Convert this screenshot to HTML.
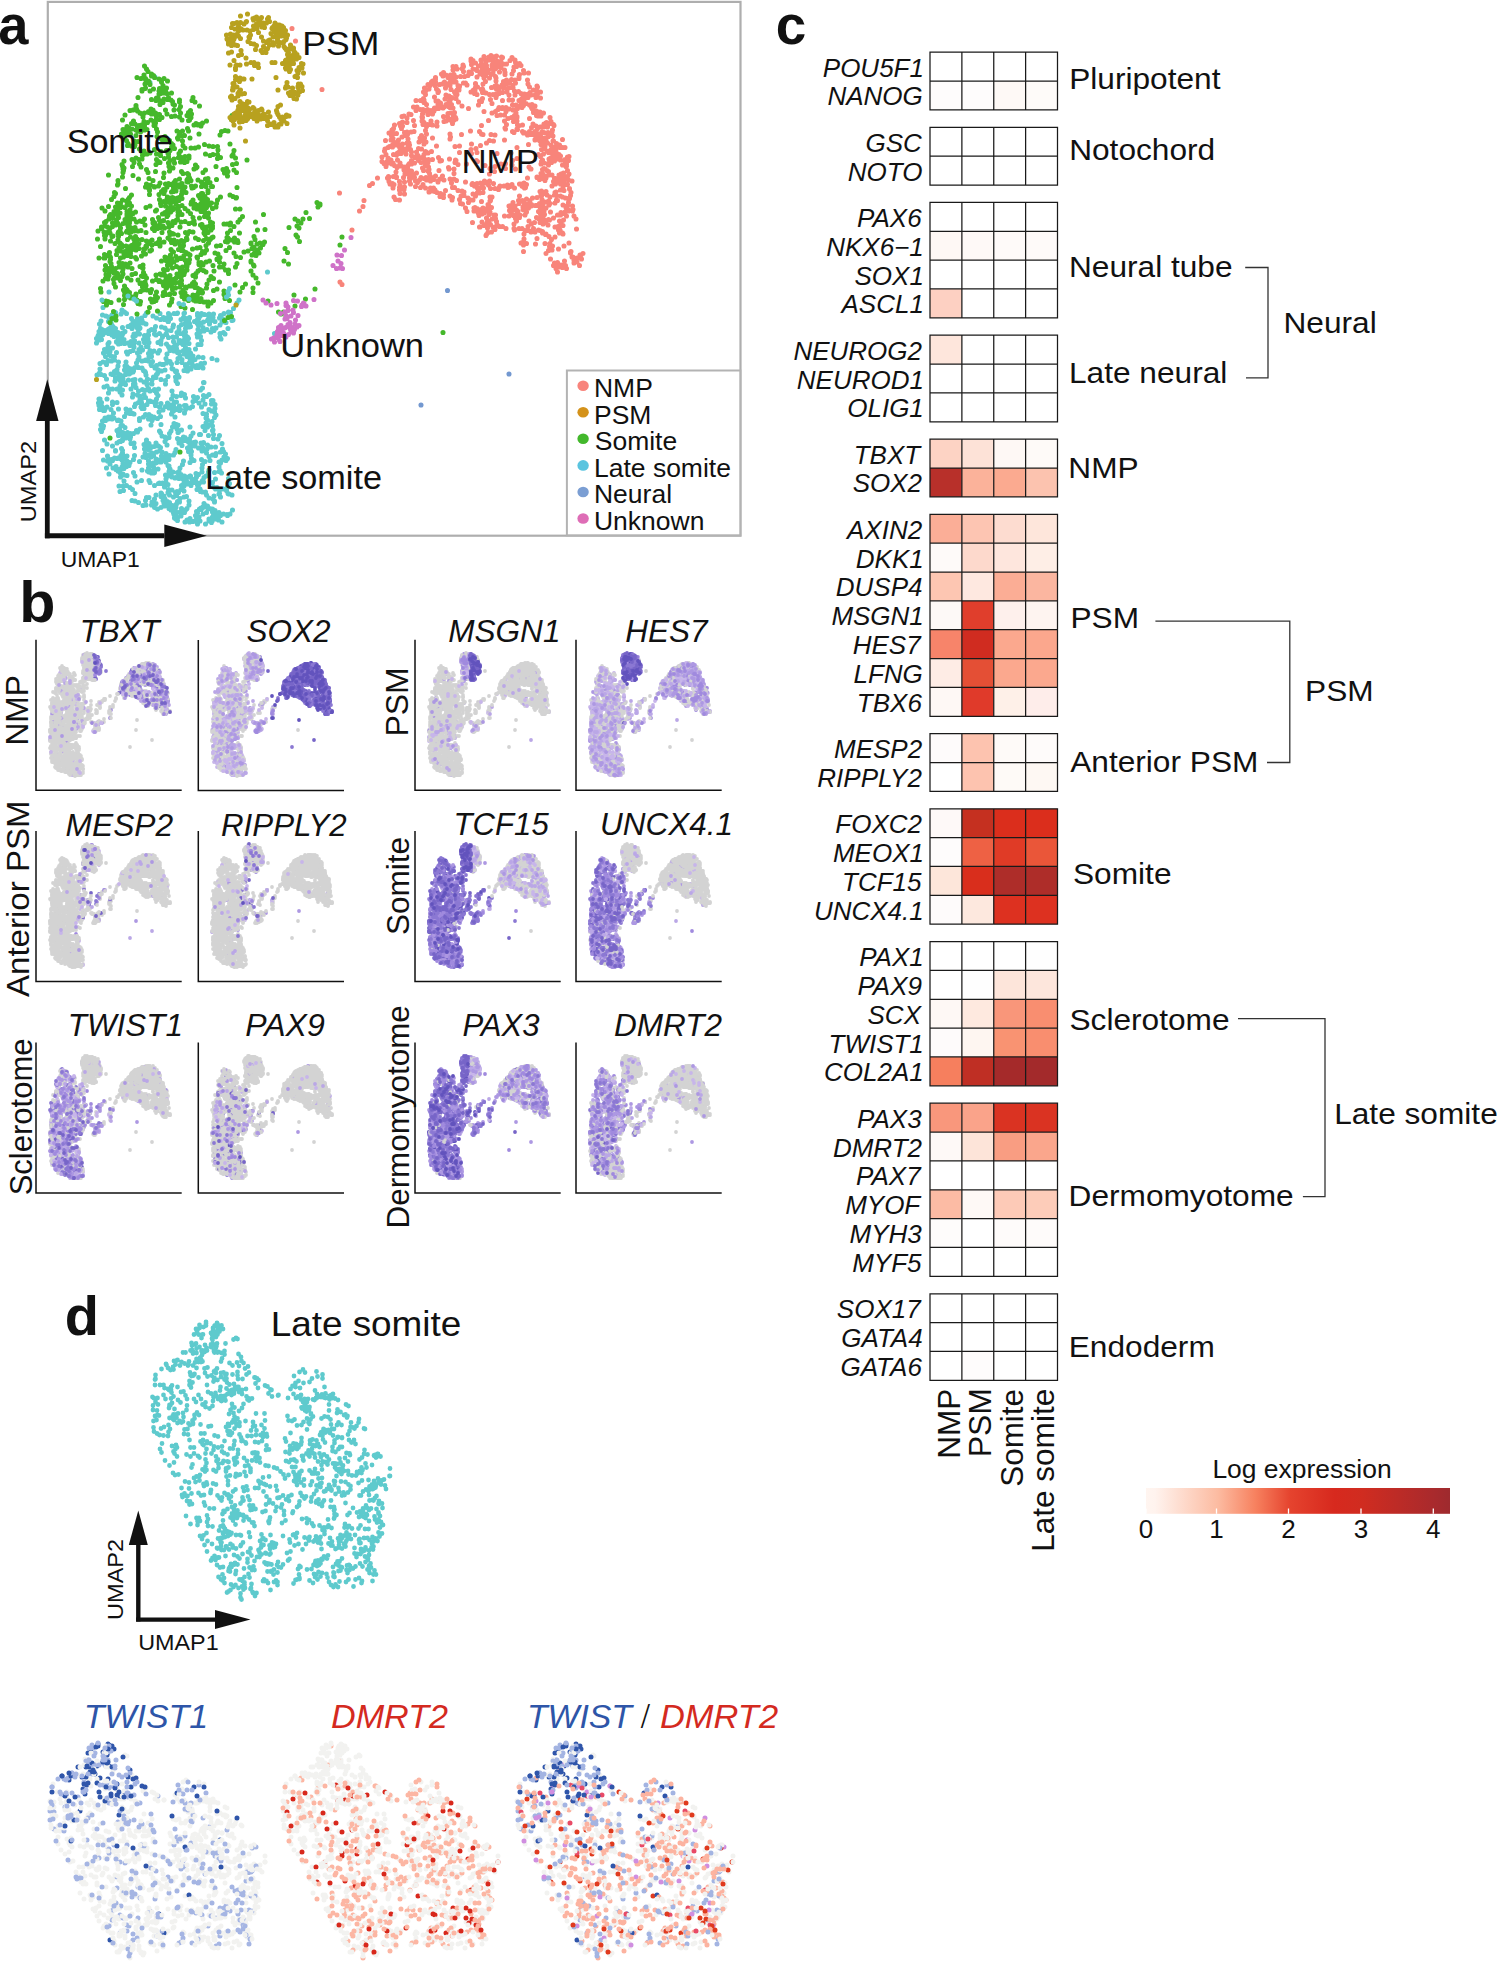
<!DOCTYPE html>
<html><head><meta charset="utf-8"><style>
html,body{margin:0;padding:0;background:#fff;}
svg{display:block;}
text{font-family:"Liberation Sans", sans-serif;}
</style></head><body>
<svg width="1497" height="1962" viewBox="0 0 1497 1962">
<rect width="1497" height="1962" fill="#fff"/>
<rect x="47.8" y="1.9" width="692.7" height="533.8" fill="none" stroke="#AEAEAE" stroke-width="2.2"/><path transform="scale(0.5)" d="M457 87h0m-147 67h0m-10 11h0m235 379h0m-81 44h0m24 12h0m-11 17h0m-223 4h0m0-1h0m-38-5h0m-1 15h0m7 2h0m5 2h0m7-4h0m1 1h0m6-6h0m11 3h0m7-4h0m4 3h0m37 4h0m3-5h0m13 6h0m14-5h0m7 8h0m10-8h0m2 3h0m9-3h0m6 0h0m1-1h0m12 9h0m1-8h0m1-1h0m10 9h0m16-8h0m0 4h0m6 0h0m2-4h0m6 2h0m8 2h0m1-3h0m7 3h0m1 4h0m1-7h0m14 3h0m7-4h0m9-3h0m1 2h0m3-1h0m5 15h0m-2 1h0m-12 4h0m-7-8h0m-1 7h0m-5-8h0m-9 7h0m-8-2h0m-2-2h0m-1 7h0m0-7h0m-3 0h0m-1 2h0m-8 3h0m-4 2h0m-5-10h0m-1 8h0m-2-5h0m-1 7h0m-5-3h0m-10-7h0m0 11h0m-2-5h0m-1 4h0m-4-9h0m0 5h0m-2 5h0m-4-10h0m-4 2h0m-21-2h0m-1-1h0m-3 7h0m-1 0h0m-3-7h0m-3 3h0m-1 0h0m-8 0h0m-8-3h0m-26 10h0m-3-5h0m-1-5h0m-3 7h0m-1 4h0m-2-6h0m-2-4h0m-2 6h0m-5 3h0m-2-4h0m0 3h0m-3-8h0m-41 8h0m-5-2h0m-15-1h0m-3 6h0m2 9h0m3 2h0m13-1h0m5 1h0m0-5h0m1-5h0m1 9h0m2-5h0m5 4h0m14-2h0m11-2h0m6-3h0m2 7h0m2-7h0m0-1h0m7-1h0m1 7h0m0-5h0m5 7h0m1-1h0m12-8h0m11 11h0m8-6h0m12 1h0m7 2h0m16-2h0m1-4h0m11 4h0m5-5h0m8 8h0m1-2h0m4-7h0m0 2h0m2 4h0m3-1h0m15-4h0m0 10h0m1-8h0m9 4h0m8 4h0m5-11h0m6 9h0m6-1h0m1 0h0m8-6h0m16 7h0m93 10h0m-99 1h0m-3-3h0m-7 2h0m-12-6h0m-6 3h0m-14-2h0m-7 1h0m-4 6h0m-3-1h0m-23-4h0m-2 0h0m-8 3h0m-3-7h0m-4 5h0m-12-4h0m-8 0h0m-1 8h0m-1-1h0m-13-1h0m-7 3h0m-3-2h0m0-7h0m-11 1h0m-1 8h0m-1-1h0m0 2h0m-3 0h0m-4 0h0m-10-3h0m-3-4h0m-5 7h0m-3-3h0m-18-5h0m-4 4h0m-1-1h0m-1 5h0m-8-6h0m-7 4h0m0-9h0m-2 2h0m0-2h0m-3 10h0m-5-8h0m-2 5h0m-7-2h0m0-4h0m-4 8h0m-3-3h0m-4-1h0m-1-2h0m-1 7h0m-4 7h0m3-5h0m3 8h0m1-8h0m2 1h0m1 6h0m25-6h0m5 10h0m4-6h0m0-5h0m3 9h0m1-8h0m2 3h0m2 7h0m3-4h0m14 4h0m4-10h0m3 8h0m18-2h0m9-1h0m26 3h0m3-7h0m0-2h0m12 3h0m9-1h0m1 9h0m6-9h0m5 8h0m2-1h0m9-9h0m0 7h0m3-7h0m1 9h0m2-7h0m2 3h0m18-3h0m6-1h0m2 8h0m37-7h0m2 4h0m-40 11h0m-6 0h0m-18-2h0m-7 8h0m-2-7h0m-3 1h0m-1-3h0m-3 0h0m-2-1h0m-7 5h0m-3-1h0m-5 6h0m-7 0h0m-1-2h0m-4-5h0m-11 0h0m-6-3h0m-18 0h0m-2 8h0m-3 0h0m-4-8h0m-7 9h0m-4-8h0m-10 1h0m0 7h0m-8-3h0m-4-5h0m-7 1h0m-8 0h0m-4 1h0m-4-4h0m-15 1h0m-2 3h0m0 6h0m-23-8h0m14 20h0m2-7h0m3 4h0m4-5h0m3-2h0m1 7h0m5-7h0m8 9h0m20-1h0m7-1h0m6-2h0m9 5h0m3-7h0m2 5h0m5-4h0m12 7h0m3-6h0m3 5h0m5-4h0m8 4h0m3-5h0m21 0h0m5-3h0m3 2h0m0 2h0m3-5h0m2 0h0m2 8h0m4-1h0m8-3h0m7 4h0m1-5h0m3-1h0m3 7h0m10-8h0m33 19h0m-18-2h0m-9-1h0m-7 5h0m-4-7h0m-4-3h0m-2 8h0m-6-4h0m-5-5h0m-5 11h0m-4-7h0m-4 5h0m-22-9h0m-2 9h0m-29-4h0m-3-3h0m-2 4h0m-20 0h0m-23-6h0m-26 5h0m-7-1h0m-3-2h0m-8 3h0m-11 14h0m6-3h0m7 5h0m2-6h0m1-2h0m7 1h0m6-2h0m8 4h0m15 0h0m21 2h0m3-6h0m8 2h0m7-2h0m0 1h0m6 1h0m5 7h0m1 2h0m2-8h0m8 8h0m7-3h0m5 1h0m2 0h0m6-3h0m5-3h0m2 0h0m3 5h0m11-3h0m10 0h0m8 4h0m7-4h0m5 2h0m2 4h0m0-11h0m8 11h0m8-4h0m2 3h0m5-4h0m25-6h0m-28 16h0m-9-1h0m-5 0h0m-10 3h0m-3-1h0m-1 0h0m-1-2h0m-2 7h0m0-3h0m-4-7h0m-3 9h0m-15 1h0m-2 1h0m-5-5h0m-2-1h0m-14 3h0m-7 2h0m-6-2h0m-1 2h0m-6-6h0m-20 7h0m-3-2h0m-3-5h0m-7-1h0m-2-1h0m-5 1h0m-3 7h0m-3-4h0m-5-1h0m-1 5h0m-4-9h0m-3 6h0m-1-7h0m-1 8h0m-13-8h0m-2 7h0m-5 4h0m-29-5h0m-6 12h0m5-4h0m3 3h0m7 2h0m13-3h0m3 1h0m2 0h0m5-3h0m4 1h0m2 7h0m1 0h0m2-4h0m3 5h0m2-2h0m5-4h0m1-2h0m6 1h0m3-2h0m5-2h0m25 1h0m1 5h0m15 4h0m5 1h0m1-6h0m2-2h0m21 6h0m15 1h0m4-5h0m0 0h0m3 5h0m50 11h0m-1 0h0m-52 2h0m-3-7h0m0 2h0m-21-1h0m-9-2h0m-18 1h0m-1 7h0m-8-9h0m-2 5h0m-5 1h0m-7-4h0m-11-1h0m-1 6h0m-3-5h0m-9 0h0m-8 5h0m-1 2h0m-2-9h0m-2 4h0m0 5h0m-2-1h0m-2-6h0m-3-4h0m0 1h0m-6-1h0m-1 6h0m-17-4h0m-5 16h0m6-2h0m5 6h0m6 0h0m9 0h0m5 0h0m1-6h0m11-3h0m11 9h0m5-7h0m0-3h0m3 0h0m2 7h0m13 4h0m9-10h0m3 8h0m7-9h0m5 11h0m8-1h0m14-10h0m74 8h0m13 13h0m-11 2h0m-6-11h0m-32 9h0m-6-3h0m-1 5h0m-16 0h0m-2-9h0m-28 9h0m-3-5h0m-4-5h0m-9 1h0m-8-2h0m-4 9h0m-11-7h0m-2 8h0m-9-2h0m-21-8h0m-1 10h0m-4-6h0m-23 2h0m-19 12h0m2 0h0m14 0h0m51-4h0m14-2h0m1 6h0m3 0h0m8-3h0m6 7h0m3 0h0m2 1h0m11-5h0m30 0h0m10-5h0m18 3h0m15 7h0m1-10h0m3 6h0m1 2h0m4-6h0m11 5h0m7-7h0m10 8h0m3 0h0m4 8h0m-3-2h0m-4 1h0m-13 0h0m-7 6h0m-5-8h0m-13 7h0m-13-2h0m-3 0h0m-10 1h0m-6-8h0m-4 0h0m-1 10h0m-1-6h0m-3 4h0m-6-3h0m-3-3h0m-4 7h0m-9-6h0m-2 6h0m-1 1h0m-7-9h0m-1 6h0m-1-5h0m-2-2h0m-14 5h0m-9 1h0m-2-5h0m-1 9h0m-5-9h0m-6 3h0m-2 5h0m-35-8h0m-9 4h0m0-5h0m-11 10h0m-10-1h0m-1-8h0m0 8h0m-5-2h0m0-6h0m-1 1h0m2 13h0m2 0h0m6 2h0m2 0h0m1-3h0m12 1h0m5 7h0m10-8h0m15 0h0m1 8h0m7 1h0m0-7h0m6 7h0m18-10h0m4 0h0m30 7h0m8-4h0m12-4h0m5 1h0m2 6h0m1-4h0m1 3h0m0-3h0m0 3h0m3-3h0m4 0h0m1-2h0m4 4h0m2-2h0m8 7h0m2-7h0m9-3h0m26 11h0m12-8h0m5 3h0m6 2h0m1-7h0m2 13h0m-3 5h0m-16-7h0m0 5h0m-1 3h0m-62-2h0m-7-6h0m-22 5h0m-6 4h0m-7-3h0m-1 2h0m-5-4h0m-4 2h0m0-5h0m-1 9h0m-6-9h0m0 1h0m-4 4h0m-8 3h0m-11-9h0m-19 5h0m-21 3h0m-4 2h0m-2-4h0m-3 1h0m-2-1h0m-1 4h0m-2-1h0m-4-1h0m-8 14h0m2 0h0m1-8h0m6-1h0m24 0h0m2-1h0m5 2h0m0 9h0m3 0h0m34-10h0m23 9h0m2-9h0m18 8h0m26-2h0m5 2h0m3 1h0m56-4h0m3-6h0m6 9h0m3-6h0m2 17h0m-1 1h0m0-9h0m-10 2h0m-5 7h0m-4-8h0m-26 1h0m-17 6h0m-9-2h0m-1-6h0m-8 2h0m-3 8h0m-23 0h0m-39-4h0m-7 3h0m-23-6h0m-9 8h0m-2-5h0m-5 3h0m-27-9h0m-1 4h0m-3 7h0m-2-4h0m36 12h0m0-4h0m3-1h0m1 4h0m5-5h0m1 4h0m7-3h0m1-1h0m0 7h0m5-2h0m1-3h0m0 7h0m6-7h0m0 0h0m8-3h0m46 1h0m3 7h0m6 2h0m8 1h0m1-8h0m17-2h0m1-1h0m10 10h0m3 1h0m12-3h0m4-6h0m13 3h0m2 0h0m16 2h0m10-2h0m12 2h0m5 16h0m-8-9h0m-9-1h0m-20 8h0m-5 1h0m-11-2h0m-4 1h0m-2 1h0m-5-2h0m-1-6h0m-2 6h0m-5-5h0m-1 2h0m-7 1h0m-4-3h0m-2 5h0m0 2h0m-3-9h0m-22 0h0m-3 6h0m-18 3h0m-14 1h0m-5-7h0m-1 6h0m-24 0h0m-6 1h0m-2-9h0m-9-2h0m-1 0h0m0 0h0m-5 5h0m0-2h0m-1 2h0m-3 2h0m-2 0h0m-5 3h0m-25-6h0m5 8h0m11 4h0m18 5h0m26-2h0m19-6h0m1 9h0m2-7h0m4 0h0m2 8h0m4-3h0m1-3h0m6 0h0m8-1h0m1 0h0m4 3h0m13-5h0m18 9h0m12-8h0m11 5h0m4 2h0m1-6h0m1 7h0m1-6h0m8-1h0m0-3h0m7 7h0m5-1h0m3-1h0m9 4h0m1-8h0m7 4h0m9 0h0m14 4h0m6 10h0m-4-5h0m-6 1h0m-9 3h0m-1 4h0m-6-1h0m-12-4h0m-8-5h0m-1 1h0m-21 1h0m-1 7h0m-5-7h0m-27 2h0m-3 5h0m-8 1h0m-7-4h0m-8-3h0m-5-2h0m-6 2h0m-6 7h0m-3-5h0m-1 1h0m-4 2h0m-8-1h0m-1-1h0m-21 4h0m-24-10h0m0 5h0m-3 5h0m-11-9h0m0-1h0m-26 0h0m2 19h0m8-8h0m0 10h0m2-4h0m6 1h0m2 2h0m4-5h0m5 1h0m2-1h0m5 1h0m1-5h0m2 8h0m1 0h0m3-8h0m1 6h0m5-6h0m0 10h0m13-3h0m12 4h0m7-9h0m6 1h0m5 7h0m5-8h0m10 4h0m5 2h0m6-8h0m0 6h0m4 0h0m4-3h0m1-1h0m6 5h0m29 3h0m16-5h0m5 4h0m15-2h0m7 4h0m8-10h0m2 8h0m24-1h0m4-6h0m4 7h0m3-4h0m-14 9h0m-3 8h0m0-10h0m-33 5h0m-25-4h0m-15 4h0m-27 3h0m-2-1h0m-4-7h0m-10 0h0m-1 0h0m-8 1h0m-2 1h0m-4 8h0m-1-8h0m-5 3h0m-4-1h0m-37-3h0m-2 6h0m-5 2h0m-1-2h0m-6-3h0m-2 6h0m-12-1h0m-12-5h0m-7 8h0m13 0h0m6 1h0m0 2h0m1 0h0m3 3h0m2-3h0m2 6h0m0-4h0m8-4h0m19 8h0m17-5h0m11 2h0m2-6h0m1 8h0m3-2h0m2 4h0m4 0h0m1-5h0m1 4h0m7-7h0m22 5h0m1-6h0m1 1h0m6 6h0m9 1h0m3-2h0m2-7h0m32 11h0m12-3h0m0-8h0m13 8h0m1-4h0m11 5h0m9-2h0m2-2h0m3 5h0m14 11h0m-26 1h0m-19-6h0m-4 3h0m-11-6h0m-4 5h0m-9 4h0m-3-6h0m-1 0h0m-4 2h0m-7-2h0m0 5h0m-4 0h0m-3-8h0m-4 8h0m-1-4h0m-6 2h0m-1 1h0m-6-2h0m-2-5h0m-6 3h0m-4 6h0m-1-8h0m-61 2h0m-16-1h0m-7-1h0m-1-2h0m-5 6h0m-23-6h0m30 14h0m5 9h0m21-7h0m9-3h0m15 0h0m2 4h0m9 6h0m8-4h0m2-1h0m4 1h0m2-1h0m5 3h0m2-4h0m4 4h0m27 2h0m5-6h0m1-3h0m4 0h0m2 6h0m0-1h0m2-1h0m5 5h0m0-4h0m1-2h0m6 0h0m2-4h0m1 4h0m3 5h0m2 0h0m2-4h0m6-5h0m1 1h0m1 2h0m18 1h0m34 2h0m-4 7h0m-2 7h0m-6-3h0m-8 3h0m-5-6h0m-3 3h0m-4-4h0m-26 9h0m-1-5h0m-6 1h0m-26-7h0m0 10h0m-6-3h0m-8 4h0m-10-3h0m-5 1h0m-2-2h0m-8-5h0m-64 5h0m-5-4h0m-13 6h0m-1-9h0m-6 11h0m-2-11h0m32 15h0m23 8h0m5 0h0m14-5h0m10 3h0m0-7h0m1 1h0m5 5h0m8-7h0m3 5h0m8 4h0m4-9h0m2 6h0m4-6h0m11 9h0m5-1h0m32-9h0m6 0h0m2 6h0m15 2h0m10-4h0m1-1h0m2 7h0m15-7h0m2 1h0m6 2h0m-35 14h0m0-2h0m-3-4h0m-8-2h0m-10 11h0m-30-5h0m-18-5h0m-1 7h0m-4-1h0m-16 2h0m-4-2h0m-5-5h0m-2 9h0m-2-6h0m-14 6h0m-3-9h0m-5 6h0m-13-3h0m-14 4h0m-7-3h0m-6-1h0m22 10h0m6-1h0m11 0h0m6 5h0m6 3h0m7-3h0m7-3h0m6-1h0m0-2h0m3 8h0m7-6h0m3 8h0m4-4h0m0 0h0m1-7h0m10 9h0m11 0h0m4-7h0m21 8h0m3-2h0m0 3h0m3-3h0m2-3h0m1 0h0m3-2h0m4 1h0m1 6h0m4-1h0m5 1h0m40 2h0m-5 8h0m-5 3h0m-1-2h0m-7-1h0m-6 3h0m-3 0h0m0-6h0m-7 4h0m-1-5h0m0-3h0m-3 7h0m-2-4h0m-12 1h0m-7 3h0m-11-2h0m-2-3h0m-2 8h0m-20-11h0m-2 5h0m-3-1h0m-6 0h0m-8 2h0m0 2h0m0 3h0m-1-9h0m-3 7h0m-1-3h0m-5-6h0m7 16h0m1-2h0m2 4h0m3-2h0m0 5h0m7-9h0m12 8h0m6-3h0m6 6h0m6-3h0m2-1h0m4-5h0m2 8h0m18-4h0m0 4h0m1-1h0m5 2h0m1-9h0m6 4h0m2-6h0m3 3h0m1 5h0m0-5h0m7 9h0m-21 1h0m-12 3h0m-16 0h0m-16-4h0m-9 0h0" stroke="#5ECACD" stroke-width="10.2" stroke-linecap="round" fill="none"/><path transform="scale(0.5)" d="M296 143h0m-3-5h0m-4-6h0m-15 23h0m14-5h0m15 2h0m0-4h0m1 2h0m3 1h0m2 4h0m26 7h0m-7-5h0m-5 7h0m-5-6h0m-20 6h0m-1-2h0m-2 0h0m-2 3h0m-2-8h0m0 2h0m-9-2h0m2 22h0m6-11h0m0 9h0m0-9h0m1 8h0m9-7h0m7 9h0m12-1h0m3 1h0m2 1h0m2-8h0m0 2h0m7 3h0m10 10h0m-9 1h0m-3-5h0m-3 4h0m-1-1h0m-3-5h0m-3 7h0m-3 1h0m0-6h0m-18 0h0m-16 0h0m-8 13h0m27 4h0m9 2h0m1-5h0m3-1h0m3 6h0m9-3h0m7 1h0m2-4h0m5 5h0m3 3h0m14-3h0m25 1h0m2-6h0m13 17h0m-9-8h0m-29 9h0m-2-9h0m-10 6h0m-3-2h0m-20-3h0m-6 4h0m-48 5h0m0-3h0m-12 10h0m6-1h0m7-2h0m2 4h0m5 4h0m3 1h0m6-1h0m8-3h0m1 2h0m4-7h0m4 2h0m5 6h0m20-6h0m17 0h0m10-1h0m3 7h0m16-1h0m4-4h0m83 10h0m-1 8h0m-80-11h0m-1 7h0m-8-4h0m-15 3h0m-9-2h0m-7 1h0m-9-5h0m-10 7h0m-5 4h0m0-10h0m-1 0h0m-5 8h0m-1-6h0m-9-3h0m-17 1h0m0 5h0m-36-4h0m-5 10h0m18 7h0m4-5h0m3 6h0m8 3h0m5-1h0m5-7h0m7 2h0m7-5h0m6 5h0m0 6h0m2 0h0m1-5h0m0-5h0m53-1h0m13 1h0m2-1h0m9 10h0m4-3h0m4 3h0m2-1h0m7-3h0m8-4h0m43 20h0m-6-1h0m-7 2h0m-41-11h0m-25 10h0m-2-5h0m-10 5h0m-11 0h0m-41-4h0m-19 1h0m-5 1h0m0-4h0m0-4h0m-5 3h0m-9 7h0m0-8h0m-3 6h0m-8-2h0m-6-2h0m-1 5h0m-3-8h0m-3 6h0m-5 0h0m-3 9h0m6 6h0m1-7h0m7 0h0m2-1h0m2 2h0m11 3h0m9-7h0m33 9h0m1-9h0m15 9h0m28-2h0m2-6h0m1 6h0m3 1h0m5-1h0m29-3h0m42 2h0m-60 6h0m-15 6h0m-9-4h0m-1-2h0m-12 11h0m-4-6h0m-8 1h0m-7-3h0m-1-1h0m-47 5h0m-7-1h0m-13 5h0m-3-6h0m2 10h0m8 1h0m6 1h0m1-3h0m9 8h0m30 1h0m34-4h0m3-5h0m3 7h0m17-6h0m4 5h0m12 0h0m8 0h0m7-2h0m12-5h0m9 3h0m8 1h0m9 0h0m25-5h0m8 13h0m-2 8h0m-30-9h0m-1 9h0m-9 0h0m-6 2h0m-9-3h0m-50-6h0m-3 5h0m-18-6h0m-3 6h0m0 2h0m-1-2h0m-1-5h0m-2-1h0m-11 2h0m-1 8h0m-8-3h0m-13-2h0m-6 2h0m-2 0h0m-4-6h0m-3 9h0m-1-7h0m-36 18h0m16-3h0m8-3h0m6 3h0m6-1h0m29 1h0m4 4h0m12-6h0m8-3h0m3 7h0m8-3h0m9-3h0m5 3h0m1-3h0m5 4h0m2-6h0m4 10h0m4-11h0m0 4h0m57 1h0m6-2h0m23-3h0m7 4h0m23 4h0m-21 7h0m-8 2h0m-33 4h0m-38 1h0m-3-4h0m-22-5h0m-8-1h0m-12 2h0m-10 7h0m-1 0h0m0-6h0m-1-1h0m-17-1h0m-8 4h0m-30 5h0m-3-6h0m-11-3h0m-3 8h0m-20-1h0m-1-3h0m2 16h0m0-7h0m1 3h0m0-3h0m1-2h0m45 3h0m3 6h0m15-2h0m17 3h0m11-4h0m7-6h0m17 7h0m3 4h0m9 0h0m13-9h0m4-2h0m14 9h0m5-5h0m35-1h0m3 7h0m4-9h0m3 6h0m12-3h0m5 5h0m-18 7h0m-22 7h0m-17-2h0m-5 1h0m-32-2h0m-1-2h0m-1-5h0m-1 8h0m-17 1h0m-32-3h0m-29 2h0m-21 1h0m-11-7h0m-21 3h0m-28-4h0m18 20h0m1-2h0m0-7h0m57 7h0m8 2h0m5-9h0m14 5h0m11 2h0m6-1h0m1 2h0m4 0h0m6-4h0m3-4h0m4 9h0m5-1h0m4-2h0m10-7h0m0 3h0m2 1h0m6-3h0m14-1h0m7 4h0m8 4h0m4-3h0m5 0h0m54 10h0m-49-2h0m-2 0h0m-7 8h0m-4-8h0m-9 0h0m-12-1h0m-4 3h0m-3 1h0m-1-4h0m-13 2h0m-2 2h0m0-1h0m-4 8h0m-3-9h0m-1 0h0m-1 0h0m-1-2h0m-5 0h0m-1 10h0m-1-1h0m-4 2h0m0-8h0m-1 6h0m-12-7h0m-4 7h0m-3-2h0m-4 4h0m-6-11h0m-8 2h0m-1-1h0m-9 6h0m0 2h0m-2-5h0m-6-2h0m-40 3h0m-23 16h0m1-8h0m2 2h0m28 8h0m4-5h0m36-1h0m19 0h0m10-2h0m7 7h0m8-10h0m2 11h0m13 0h0m5-6h0m9-4h0m25 6h0m6-4h0m2 8h0m0-8h0m5 6h0m6-8h0m25 9h0m19-4h0m6 3h0m7 2h0m161 10h0m-162-9h0m-37 4h0m-2 7h0m-10-1h0m-2 0h0m-6-7h0m-1 3h0m-6-3h0m-3 3h0m0 2h0m-2-6h0m-1 9h0m-2-11h0m-14 4h0m-3 4h0m-19-7h0m-6 4h0m-1 0h0m-2-5h0m-4 5h0m-2 2h0m-2-7h0m-4 2h0m-2 9h0m0-11h0m-2 0h0m-1 1h0m-3 5h0m-1-4h0m-1 6h0m-6-1h0m-6 4h0m-2-8h0m-60 7h0m-2-8h0m-2 5h0m-2-1h0m-8-2h0m-4 6h0m-4 1h0m-2-1h0m-12-7h0m-19 17h0m13-3h0m14 1h0m4 2h0m2-4h0m4 3h0m2-2h0m7 2h0m4-5h0m9 2h0m29 3h0m8-3h0m22-1h0m9 1h0m5 4h0m6-1h0m1 3h0m2-3h0m1 4h0m6-11h0m2 9h0m4-4h0m6-2h0m6 6h0m12-9h0m6 8h0m0-8h0m0 0h0m2 4h0m0-4h0m4 10h0m1-7h0m6 3h0m4-2h0m0-3h0m1 10h0m1-7h0m1-4h0m0 5h0m0-5h0m1 9h0m2-7h0m1 2h0m1 3h0m1-7h0m3 1h0m2 1h0m6 7h0m7-3h0m39 4h0m9 0h0m156-4h0m4-4h0m0-2h0m-28 17h0m-85 4h0m-110-3h0m-1 3h0m-7-5h0m0-4h0m-7 3h0m-21 4h0m-5-5h0m-12 7h0m-5-6h0m-3 8h0m0-7h0m-14-1h0m-1 1h0m-5 6h0m-1-9h0m0 1h0m-5 4h0m0-1h0m-5 3h0m-12-8h0m-2 2h0m-40 2h0m-5 3h0m-6-7h0m0 5h0m-3 2h0m-3-4h0m0 5h0m0 2h0m-14-4h0m-4 5h0m-1-9h0m-7 6h0m0-5h0m-7 6h0m-11-7h0m2 21h0m6-5h0m1-6h0m6 4h0m1-2h0m7 6h0m4-5h0m13 4h0m4-5h0m3 4h0m0-5h0m2 10h0m3-7h0m6 2h0m12 4h0m4 1h0m2-1h0m3-4h0m16 1h0m12-4h0m2 6h0m3 1h0m5-1h0m7-8h0m12 10h0m7-3h0m2-1h0m15 4h0m16-8h0m2 7h0m11-6h0m10-3h0m8 3h0m63 3h0m5-6h0m105 5h0m6 4h0m10-4h0m13-1h0m-17 9h0m-8 6h0m-16 3h0m-67-11h0m-35 0h0m-8 9h0m-7-7h0m-1 4h0m-6-2h0m-6 0h0m-23 4h0m0-6h0m-1 6h0m-3-8h0m-2 8h0m-6 2h0m-5 1h0m-1-1h0m-2 1h0m-1-6h0m-1 0h0m-2 1h0m-12-2h0m-4-3h0m-7 2h0m-16-3h0m-2 10h0m-10-9h0m-6 6h0m-6-2h0m0 5h0m-2-9h0m-10 7h0m-5 3h0m-2-5h0m-2 5h0m-5-4h0m-3-6h0m-2 10h0m-1-9h0m-16 4h0m-17-6h0m-3 11h0m-9 0h0m-2-9h0m-3 6h0m-5-6h0m-5 1h0m0 0h0m-6 4h0m-5-5h0m-4 4h0m0-1h0m-6 4h0m0-7h0m-10 8h0m-5-2h0m-1-7h0m-6 9h0m-7 8h0m7-5h0m5 7h0m8 0h0m3-8h0m1 1h0m0 9h0m16 1h0m1-3h0m0 1h0m3-4h0m1-5h0m2 11h0m10-3h0m1-2h0m3-4h0m1 7h0m3-8h0m1 7h0m1-4h0m3-1h0m2 3h0m5-1h0m3 1h0m6-1h0m10 4h0m13-8h0m4 4h0m6-4h0m9 8h0m5-9h0m10 8h0m6 3h0m26-2h0m8-2h0m7 1h0m20-8h0m2 10h0m1-6h0m0 7h0m1-4h0m4 0h0m1 1h0m1 1h0m6-5h0m3-4h0m30 10h0m6-5h0m18 5h0m36-6h0m15-1h0m68-3h0m86 18h0m-89 0h0m-3-4h0m-82 9h0m-2-6h0m-39 3h0m-13 0h0m-2-1h0m-28-1h0m-2 1h0m-3 3h0m-8-1h0m-3-8h0m-13 10h0m-6-3h0m-16-8h0m-1 11h0m-1-3h0m-17-6h0m-9-2h0m-7 1h0m0 10h0m-4-3h0m-17 2h0m-35 1h0m-9 0h0m-1-1h0m-3-5h0m-3 6h0m-7-5h0m-6 5h0m-18-6h0m-11-1h0m0 0h0m-2 1h0m-13-2h0m-1 7h0m-1-7h0m-14 7h0m26 4h0m9 5h0m6-7h0m4 6h0m3 3h0m20 2h0m5-3h0m3-2h0m7 1h0m15-5h0m5 5h0m0-1h0m2-3h0m4 7h0m0-10h0m8 7h0m4-2h0m2-2h0m3 2h0m7-1h0m15 1h0m4-3h0m1-2h0m2 8h0m5-5h0m5 7h0m3-9h0m4 10h0m1-8h0m39-2h0m5 10h0m5-5h0m2-6h0m22 11h0m10-8h0m4 1h0m5-4h0m1 0h0m8 4h0m6-3h0m1 4h0m26 2h0m0-1h0m12 2h0m6-2h0m6 3h0m3-5h0m70-1h0m81 7h0m-110 7h0m-49-1h0m-6 4h0m0 3h0m-7-7h0m-2-2h0m-2 3h0m-8 5h0m-37-7h0m-7 6h0m-19-9h0m-20 8h0m-8 3h0m-5-8h0m-6 1h0m-9 2h0m-19 3h0m-2-6h0m-1 6h0m-6-2h0m-12 4h0m-3-4h0m-22-7h0m-17 8h0m-3 2h0m-7-8h0m-1-2h0m-2 5h0m-2 1h0m-10-1h0m-3-2h0m-3 5h0m-2-8h0m-1 3h0m0-1h0m-1 1h0m-3-1h0m-1 5h0m-2 1h0m-7-7h0m0 7h0m-3-8h0m-2 11h0m-6-9h0m-3 8h0m-3-7h0m-4 6h0m-33-8h0m8 16h0m5 2h0m5-6h0m1 8h0m1 2h0m12-6h0m14 5h0m1-6h0m1-1h0m6 4h0m1-7h0m5 2h0m1 7h0m9 2h0m12-3h0m4-8h0m4 4h0m39 6h0m8 1h0m3-5h0m6-6h0m5 9h0m16-2h0m4-6h0m5 3h0m3 2h0m14 4h0m8-5h0m7-3h0m21 0h0m6 2h0m4 7h0m28-9h0m4 7h0m9 2h0m7-11h0m16 6h0m5-4h0m3 5h0m6-5h0m57-1h0m-7 17h0m-66 0h0m0 2h0m-28 3h0m-35-3h0m-5-6h0m0 1h0m-15 3h0m-7 2h0m-10 1h0m-4 0h0m-3-9h0m-16 3h0m-1 6h0m-1 1h0m-4 1h0m0-5h0m-3-2h0m-8-3h0m-1-1h0m-7 4h0m0-1h0m-6 5h0m-5-7h0m-1 10h0m-6-3h0m-4-3h0m-9 1h0m-50-4h0m-13 8h0m-15 1h0m-4-11h0m-3 9h0m-16 2h0m-1-8h0m-1 4h0m-10-7h0m-2 0h0m-10 0h0m13 15h0m6 6h0m1 2h0m5-6h0m8 4h0m7-3h0m7-3h0m1 7h0m2-5h0m2-3h0m1-2h0m5 6h0m8 3h0m16-4h0m5 3h0m1-6h0m0 6h0m41 3h0m8-8h0m0 8h0m0-9h0m2 0h0m8 6h0m8-3h0m6 3h0m6-2h0m7-2h0m2 1h0m24-4h0m3 10h0m1-9h0m4 0h0m20 1h0m13 3h0m7 0h0m2-6h0m23 6h0m36-4h0m1 2h0m69-4h0m-71 22h0m-4-8h0m-45 5h0m0-7h0m-6 0h0m-23 2h0m-16 2h0m-5-3h0m-11 1h0m-4 5h0m-6 4h0m-12-11h0m-5 5h0m-1 4h0m-1 0h0m-1-7h0m-3 5h0m-2-5h0m-7 6h0m-14 3h0m-12-5h0m0 0h0m-5 4h0m-3-2h0m-8 2h0m-22 1h0m-3-6h0m-16 2h0m-7 2h0m-18-1h0m-1-4h0m-10 3h0m-4-1h0m-3 0h0m-4-5h0m-5 3h0m-1 7h0m-2 0h0m-4-2h0m-2-9h0m-4 22h0m5-5h0m5 1h0m11 1h0m2-3h0m6-4h0m1 4h0m5-3h0m0 8h0m3-8h0m11 3h0m7 4h0m14 0h0m7-8h0m3 1h0m7 3h0m12 6h0m8-3h0m5 4h0m1-2h0m12-9h0m1 7h0m0-6h0m5 5h0m7 1h0m2 0h0m3 4h0m3-7h0m8-2h0m2 1h0m1-3h0m0 9h0m28-7h0m27 6h0m4-7h0m5 4h0m85-1h0m4 10h0m-25 2h0m-6 7h0m-15-5h0m-31-6h0m-25 4h0m-23 0h0m-1 7h0m-2-11h0m-3 8h0m0-5h0m-6 5h0m-8 2h0m-8-6h0m-1 2h0m-2 4h0m-2-9h0m-8 1h0m-7 7h0m-1-9h0m-6 4h0m-2-1h0m0 5h0m-5-3h0m-2 2h0m-1-7h0m-1 1h0m-33 6h0m-1-3h0m-1-4h0m-2 3h0m-1 5h0m-2 2h0m-2-8h0m-3 1h0m-31 5h0m-18 2h0m-3-7h0m-27 10h0m1 7h0m45-4h0m2 4h0m3-6h0m2 2h0m1 7h0m1-4h0m0 4h0m3-2h0m22-2h0m5-3h0m8 0h0m7 5h0m2-6h0m10 5h0m14 1h0m2-1h0m3-8h0m1 0h0m12 3h0m4 8h0m2-11h0m11 9h0m4-4h0m4 5h0m2-10h0m23 0h0m2 9h0m3-6h0m4 2h0m0 5h0m1-1h0m8-9h0m14 5h0m7-3h0m14 4h0m32 2h0m26-8h0m0 9h0m124-7h0m-19 20h0m-23-8h0m-138 7h0m-2-8h0m-46 8h0m-7-8h0m-1 3h0m-1 4h0m0-6h0m-5 9h0m-1-2h0m-1-7h0m-5 7h0m0-1h0m-6-3h0m-2 3h0m-4 2h0m-2-8h0m-3 3h0m-20 5h0m-4-10h0m-1 1h0m-7 0h0m-5 1h0m-1 1h0m-11 4h0m-4-4h0m-2 7h0m-8 0h0m-29-10h0m-1 11h0m0-7h0m-5 2h0m-5 2h0m-1-4h0m-2 1h0m-2-3h0m-6 3h0m0 4h0m-1-6h0m0 8h0m-42 4h0m5-1h0m1 8h0m3-7h0m6 2h0m16-5h0m9 9h0m27-9h0m2 7h0m3-4h0m1 5h0m1-5h0m23 1h0m4-1h0m4-2h0m27 9h0m4-6h0m34-3h0m10-1h0m4 2h0m2 0h0m7 1h0m8 1h0m5 0h0m4 0h0m5 2h0m5-5h0m32 0h0m77 1h0m54 10h0m-174 0h0m-31 7h0m-15-3h0m-8-3h0m-47 9h0m-16-7h0m-72 8h0m5 9h0m42-4h0m22-4h0m160 11h0m7-2h0m94-9h0m5 4h0m5-4h0m5 8h0m-123 9h0m-217-1h0m-8-3h0m-4 8h0m666 20h0m-666 211h0m140 28h0" stroke="#45B82B" stroke-width="10.2" stroke-linecap="round" fill="none"/><path transform="scale(0.5)" d="M218 584h0m238-1h0m3-6h0m-2 13h0m-4 4h0m-75 4h0m-110 0h0m-12-6h0m-52 8h0m69 2h0m85 5h0m9 2h0m107-3h0" stroke="#5ECACD" stroke-width="10.2" stroke-linecap="round" fill="none"/><path transform="scale(0.5)" d="M481 32h0m14-4h0m18 6h0m10 1h0m14 0h0m13 11h0m-11-3h0m-4-5h0m-2 8h0m-6 0h0m-6-1h0m-1-5h0m-4-1h0m-7-3h0m-2 4h0m-1-3h0m-13 6h0m-1 1h0m-11 1h0m-7 0h0m-6 2h0m-3 0h0m-2 8h0m7 3h0m6 1h0m1-10h0m0 4h0m2 6h0m2-2h0m7-9h0m19 4h0m0 7h0m6-11h0m1 9h0m0-5h0m5-3h0m5 5h0m1-5h0m4 6h0m15 2h0m1-2h0m3 2h0m0-5h0m2 3h0m2-3h0m1 1h0m1 5h0m1-1h0m0 2h0m1-9h0m3 0h0m0 8h0m1-7h0m3 4h0m1-3h0m3 3h0m8 15h0m-4-9h0m-2 9h0m-4-7h0m0 3h0m0 5h0m-3-1h0m-3-8h0m-1-2h0m0 6h0m-1 0h0m0-3h0m-1 5h0m-3 2h0m-2-5h0m-2-4h0m-7 6h0m-25-2h0m-16 5h0m-1-8h0m-6-2h0m-8 0h0m-9 2h0m-2 9h0m0 0h0m-2-2h0m-6 1h0m-4 0h0m-2-2h0m-8 2h0m1 8h0m1 0h0m6-1h0m0 1h0m4 5h0m1 0h0m1-8h0m1-1h0m0 4h0m1-4h0m0 1h0m0-3h0m8 0h0m4 5h0m15 6h0m2-9h0m1 2h0m24-2h0m4 8h0m10-1h0m2-1h0m7-6h0m9 4h0m7-6h0m6 11h0m1-11h0m3 7h0m1-3h0m8 14h0m-13 3h0m-2-7h0m-6-1h0m-3 7h0m-3-8h0m-7 6h0m-1-5h0m-7 5h0m-6-5h0m-6 8h0m-14-2h0m-5-3h0m-6-1h0m-27 4h0m-4-1h0m-3-1h0m-4-1h0m-1 3h0m-3-5h0m-3 2h0m0-4h0m0 22h0m6-2h0m19-3h0m29-2h0m11 2h0m3 4h0m6-3h0m1 3h0m3-8h0m35-1h0m3 4h0m4 5h0m2-8h0m3 0h0m4 1h0m1-2h0m0 4h0m0-3h0m3 8h0m8 10h0m-4-6h0m-1 9h0m-4-5h0m-1 0h0m-1-4h0m-1 10h0m-5-7h0m-1 0h0m-1 5h0m-2-3h0m-2-5h0m-83 7h0m-9-7h0m-6 2h0m-17 19h0m8-9h0m4 10h0m1-1h0m7 0h0m13-2h0m9-3h0m6 0h0m1 6h0m7-3h0m28-3h0m6 0h0m15 2h0m6-6h0m1-1h0m1 10h0m1-2h0m1-7h0m5 4h0m1-3h0m0 6h0m1-4h0m5 3h0m16 0h0m3 1h0m-2 8h0m-6-1h0m0 5h0m-4 1h0m-13-2h0m-2 4h0m-1-10h0m-6 5h0m-1-2h0m-54-1h0m-46 1h0m0 3h0m0 14h0m81 2h0m38-2h0m2-1h0m3 3h0m1-9h0m11 0h0m-33 19h0m-70-7h0m-16 0h0m-2 0h0m-6-2h0m-1 7h0m-1-6h0m-6 1h0m-1 1h0m-3 8h0m-2 0h0m0 8h0m8-1h0m97 2h0m1-3h0m4 1h0m9 2h0m11-3h0m0 2h0m1-7h0m4 0h0m3 5h0m1 8h0m-5 2h0m-2 0h0m-2 7h0m-5-5h0m-1 2h0m-3 2h0m-1-6h0m-1 2h0m-2-1h0m-2 0h0m-1 7h0m-1-2h0m-2-3h0m-21-6h0m-67 7h0m-6 1h0m-2-8h0m-3 4h0m-2 3h0m-10-7h0m-1 0h0m-4 14h0m2-2h0m1 8h0m6-3h0m6-5h0m4 11h0m15 0h0m91-11h0m2 5h0m5 1h0m-32 12h0m-5 3h0m-50 2h0m-8-11h0m-5 4h0m-1 7h0m-1-6h0m-2 6h0m-1-1h0m-2-6h0m-2-1h0m-4 7h0m-3-1h0m-6 13h0m5-2h0m0-4h0m2 0h0m1 6h0m0-4h0m2-5h0m2 1h0m1 3h0m6-3h0m1-2h0m1 10h0m2-7h0m0 6h0m0 2h0m2-11h0m0 0h0m2 3h0m0 4h0m1-4h0m9-2h0m1 8h0m8-4h0m6-3h0m1 2h0m13 4h0m16-3h0m1 4h0m24 7h0m-5-2h0m-1 3h0m-7 1h0m-3 5h0m-3-5h0m-3-5h0m-16 4h0m-6 2h0m-1-1h0m-5-4h0m0-2h0m-1 9h0m-3 0h0m-1-6h0m-2 7h0m-1 0h0m-1-7h0m-2 7h0m-1-9h0m-3 6h0m-3 2h0m-2-9h0m0 9h0m-4-8h0m-3 4h0m-5 3h0m-1 2h0m0-7h0m-4 0h0m-1-1h0m-4 7h0m-4-2h0m-2-2h0m-1-4h0m0 10h0m-2-3h0m-1-2h0m-5-4h0m-1 3h0m0-5h0m-1 11h0m0-6h0m-1-5h0m0 4h0m-5 7h0m-3-4h0m6 7h0m2 8h0m11-6h0m6-1h0m0-2h0m2 0h0m3 0h0m2 0h0m22 1h0m21-1h0m0 10h0m6-3h0m2 1h0m5-4h0m10 4h0m4-1h0m4-7h0m1 1h0m1 0h0m6 5h0m-18 7h0m-6-2h0m0 2h0m-70 2h0m11 26h0m-19 328h0m-279 149h0" stroke="#B8A11F" stroke-width="10.2" stroke-linecap="round" fill="none"/><path transform="scale(0.5)" d="M584 57h0m7 25h0m433 33h0m-19 0h0m-2-1h0m-10-2h0m-3 1h0m-4 2h0m-1 0h0m-1 2h0m-2-6h0m-4 3h0m-1 5h0m-9-6h0m-26 5h0m-16 12h0m16-8h0m1 7h0m3-5h0m0-3h0m5 5h0m11-6h0m0 1h0m1 7h0m3 1h0m5-9h0m1 3h0m1 8h0m5-11h0m5 0h0m1 10h0m3-6h0m6 3h0m1-5h0m5 7h0m0 0h0m1-6h0m2 0h0m5 5h0m6 0h0m7-7h0m10-1h0m1 5h0m8 2h0m3 4h0m5 10h0m-14-8h0m-5 1h0m-1 7h0m-18-1h0m-7-5h0m-9 0h0m-3 3h0m-3-6h0m0 4h0m-2 1h0m-1-5h0m-7 8h0m-4-5h0m0 6h0m-7 1h0m0 1h0m-1-6h0m-8-5h0m-3 9h0m-2-2h0m-6-1h0m-19 5h0m0-10h0m-3 4h0m-10 1h0m-2-5h0m-6 7h0m0-7h0m-35 22h0m12-7h0m3 4h0m1-7h0m5 5h0m4 5h0m5-5h0m6 1h0m1-2h0m4 5h0m9-1h0m8 0h0m7-2h0m2-7h0m5 3h0m11 7h0m6-6h0m0-4h0m4 2h0m2 4h0m5 1h0m5-6h0m6 4h0m4-3h0m5 7h0m8-9h0m11 1h0m0 4h0m14-1h0m14 6h0m1-5h0m9-3h0m9 0h0m-2 14h0m-17-3h0m-7 9h0m-1-6h0m-7-1h0m-4 6h0m-6-5h0m-1 7h0m-5-3h0m0-1h0m-15-7h0m0 6h0m0 0h0m-13-6h0m-8 7h0m-3-7h0m-17 11h0m-20-1h0m-4 0h0m-15-2h0m-4-3h0m-1 3h0m0-5h0m-1 0h0m-4-2h0m-1 0h0m-1 7h0m-9 3h0m-2-3h0m-18-6h0m0 5h0m-2 1h0m-1-3h0m-3 1h0m0 1h0m-1 3h0m-1-2h0m-219 15h0m205-3h0m7-7h0m2 9h0m2-7h0m10 0h0m3 7h0m6-9h0m5-1h0m7 8h0m3-8h0m2 1h0m4 2h0m2 8h0m14-8h0m0 7h0m2-1h0m1-5h0m0 1h0m15-3h0m17 5h0m0-7h0m4 6h0m8 5h0m1-1h0m1 0h0m1-10h0m17 7h0m7-3h0m2 5h0m1-6h0m4 8h0m3-5h0m4-4h0m3 6h0m1-4h0m7 6h0m0-1h0m3-2h0m3 0h0m5-5h0m0 5h0m30-7h0m3 6h0m15-2h0m1 2h0m6 10h0m-6 4h0m0-5h0m-5 7h0m-3-10h0m-5 10h0m-2-5h0m-6 4h0m-5-1h0m-1 3h0m-4-3h0m-2-1h0m-5-4h0m-7 7h0m-1-8h0m-11 8h0m-4-6h0m-9 1h0m-1 0h0m-6 2h0m-5 4h0m0-4h0m0 3h0m-7-1h0m-7 0h0m-7-3h0m-6-5h0m-1 4h0m-11 4h0m-4-7h0m-1 5h0m0-4h0m-2-3h0m-5 4h0m-24-4h0m-4 9h0m0-9h0m-3 8h0m-2-4h0m-17 6h0m-15-7h0m-1 2h0m0-4h0m-24 0h0m-1 8h0m-1-7h0m-3 2h0m-15 17h0m9 0h0m6-4h0m1 3h0m21-6h0m3 8h0m4 0h0m14-4h0m8-4h0m0-2h0m2 9h0m3-6h0m1 1h0m8 1h0m47 5h0m4 1h0m2-6h0m16 2h0m11-4h0m13 6h0m13-1h0m7 0h0m13 1h0m2 1h0m3-4h0m2-1h0m2 0h0m0 5h0m3-8h0m1 2h0m5-1h0m16 0h0m9 1h0m-11 16h0m-6-3h0m-1 6h0m-4-5h0m-7-3h0m-5 4h0m0-2h0m-3-4h0m0 10h0m-3-4h0m-3 3h0m-6-4h0m-7 0h0m-13 5h0m-7 0h0m-7 0h0m-14-8h0m-27 3h0m-33 2h0m-7-8h0m-14 5h0m-2 5h0m0-5h0m-1-2h0m0 8h0m-2-11h0m-1 9h0m-5-4h0m-4 5h0m-5-1h0m-1-1h0m-1-6h0m-2 7h0m-2-7h0m-1 4h0m-23-1h0m-4-4h0m-1 0h0m-14 9h0m-7 0h0m5 7h0m9-2h0m5 7h0m0-7h0m8 2h0m1-2h0m3 7h0m4-5h0m0 0h0m6 1h0m1-6h0m0 0h0m7 1h0m1 0h0m9-1h0m10 11h0m5-1h0m5-10h0m3 9h0m28-8h0m31 6h0m16 3h0m7-3h0m5-4h0m8-2h0m8 6h0m6-5h0m8 2h0m6 6h0m1-8h0m2-1h0m29 0h0m2-1h0m1 6h0m0 3h0m6-3h0m7 5h0m0-3h0m7 2h0m13 9h0m-18-3h0m-1-4h0m-5 4h0m-3-1h0m-14 6h0m-25-4h0m0 2h0m-2 4h0m-3-8h0m-6 4h0m-7 2h0m-7-7h0m-8 0h0m-7 1h0m-82 7h0m-1-3h0m-3-6h0m-1 3h0m-1 4h0m-7 2h0m-1 0h0m-3-5h0m-8 0h0m-22-5h0m-9 1h0m-11-1h0m0 7h0m-1-1h0m-22-5h0m-4-1h0m-4 8h0m-6-4h0m-4 1h0m-15 17h0m10-3h0m2 2h0m4-5h0m9 1h0m13-4h0m2 10h0m15-9h0m2 1h0m0 6h0m1 0h0m1-4h0m7 4h0m3 0h0m4-7h0m3 8h0m9-6h0m14-1h0m4-1h0m8-2h0m5 2h0m0 5h0m3-7h0m55 11h0m14-10h0m32 1h0m4 7h0m14-6h0m7-1h0m1 8h0m3 1h0m7-1h0m21-2h0m22 0h0m5-3h0m7 2h0m2-4h0m5 6h0m1 2h0m-3 9h0m-10-6h0m0-2h0m-1 0h0m-7 2h0m-5 0h0m-2 0h0m-5 3h0m-3-5h0m-2 11h0m-7-8h0m-4 8h0m-14 0h0m-10-4h0m-1-1h0m-9 5h0m-14-5h0m-1-2h0m-51 7h0m-18-1h0m-67-10h0m-21 1h0m-2 8h0m-23 2h0m-23-11h0m-2 5h0m-2-5h0m-14 5h0m-1 2h0m-2 1h0m-6 6h0m0 0h0m5 6h0m3-4h0m7-1h0m11 7h0m5-9h0m1 6h0m0-4h0m4-3h0m1 5h0m7-5h0m21 7h0m10-3h0m47 0h0m1 6h0m22-5h0m40-1h0m3 1h0m16 0h0m8 1h0m38-5h0m19 1h0m2-1h0m6 5h0m0-3h0m1 1h0m6 1h0m4 0h0m2-4h0m2 3h0m2 5h0m2 0h0m1-6h0m6 5h0m3-8h0m4 1h0m5 1h0m3-1h0m1 8h0m0-2h0m3-2h0m3-3h0m1-2h0m2 8h0m19 7h0m-12 8h0m-6-5h0m-1 0h0m-11 4h0m-1-1h0m-2-6h0m-3-3h0m0 6h0m-1 5h0m0-4h0m-1-3h0m-2 1h0m-6 0h0m-7-5h0m-2 4h0m0-1h0m-61 1h0m-22 2h0m-8-1h0m-6 5h0m-73-8h0m-35-2h0m-13 8h0m-3-8h0m-2 6h0m-2-1h0m-5-5h0m-2 8h0m-20 2h0m-2-8h0m-2 8h0m-17-6h0m-4 5h0m-6-2h0m-1-2h0m0-4h0m-1 2h0m-3 1h0m-11 1h0m-1 17h0m6-3h0m3-2h0m6-3h0m0 4h0m6-6h0m1 2h0m4 0h0m1-1h0m2 5h0m3-3h0m1 0h0m2-3h0m3 10h0m6 1h0m2-3h0m0-4h0m3-2h0m2 9h0m16-2h0m6 1h0m5-10h0m25 4h0m37 1h0m9-1h0m23 7h0m1-11h0m9 9h0m9-6h0m73 4h0m23-6h0m25 0h0m1 10h0m4-2h0m1-2h0m2-2h0m12-3h0m1 8h0m2-3h0m5-1h0m0 0h0m2 3h0m0-1h0m7-6h0m1 5h0m5 0h0m5 0h0m-12 14h0m-2 2h0m-2 0h0m-2-8h0m-7 5h0m0-7h0m-7 1h0m-1 3h0m-3-3h0m-7 6h0m-10 1h0m-55-3h0m-28 1h0m-40-2h0m-11 2h0m-24-2h0m-56-2h0m-7 3h0m-5-3h0m-3 6h0m-12 2h0m-3-7h0m-10 0h0m0 7h0m-11-3h0m-6-8h0m-1 1h0m-3 6h0m-3 0h0m0-4h0m-4 3h0m-2 4h0m-6-1h0m-15 0h0m-3-7h0m-5 12h0m0 9h0m10 0h0m2-7h0m6 4h0m13 0h0m28 1h0m7-6h0m0 0h0m2-2h0m4 5h0m2 3h0m0-6h0m6 0h0m2-1h0m3 4h0m8 2h0m0-1h0m8 0h0m12-4h0m3 7h0m3-1h0m16-3h0m12 2h0m1 1h0m41 0h0m2 2h0m70-2h0m9-4h0m47-4h0m2 10h0m2-3h0m13-2h0m3-2h0m2 5h0m6 1h0m1-6h0m5 2h0m6 2h0m0-8h0m9 7h0m5-5h0m2 7h0m1-8h0m-5 19h0m0-4h0m-1 5h0m-2-8h0m-5 5h0m-22-5h0m-6 5h0m-1-3h0m-8-1h0m-6 2h0m-24 6h0m-34-4h0m-13-3h0m-9 1h0m-12 5h0m-20-2h0m-37-3h0m-17 1h0m-6-4h0m-13 10h0m-40-1h0m-1-9h0m-5 7h0m-2-7h0m-7 0h0m-13 1h0m-6 2h0m0 0h0m-4-1h0m-1 1h0m-2 3h0m-1 4h0m-7-1h0m-6-2h0m-2-6h0m-2 6h0m-4 3h0m-5-4h0m-3-5h0m-2 2h0m-7-2h0m-5 7h0m-4-6h0m24 17h0m16-5h0m0 1h0m3-1h0m3 3h0m4-1h0m3 4h0m2-3h0m10 4h0m12-10h0m2 5h0m9 1h0m2-3h0m1 8h0m19-6h0m20-3h0m10 0h0m0 9h0m72-10h0m9 6h0m22-6h0m20 1h0m30 0h0m1 0h0m20 9h0m3-8h0m0 8h0m3-10h0m2 1h0m4 3h0m3 2h0m30 3h0m8-5h0m3 7h0m-3 5h0m-1 0h0m-1 5h0m-8-5h0m-3 3h0m0-8h0m-3 7h0m-1-5h0m-7 7h0m-2 0h0m-5-7h0m-7 0h0m-5 6h0m-2-2h0m-2 2h0m0-5h0m-2 3h0m-2 3h0m-3-3h0m-2 5h0m-5-5h0m0 1h0m-19 1h0m-76-8h0m-71 10h0m-8 0h0m-15-6h0m-5 6h0m-9-6h0m-4 7h0m-3-3h0m-3-3h0m-2 2h0m-3 2h0m-4-1h0m0-1h0m-4 2h0m-6-2h0m0 1h0m-13-1h0m-3-6h0m-5 8h0m-2-1h0m-1-7h0m-8-1h0m-3 7h0m-14 0h0m0-1h0m-1-1h0m-5 0h0m-9 1h0m-1-1h0m-2 3h0m-20 0h0m-16 15h0m6-4h0m33-4h0m2 5h0m5-1h0m0 3h0m3-1h0m11-6h0m1 7h0m9-6h0m10-2h0m2 6h0m10-6h0m4 3h0m4-5h0m7 9h0m7-9h0m8 2h0m15 0h0m0 2h0m12-4h0m15 6h0m10-5h0m18 3h0m13 5h0m1-2h0m9 0h0m7-1h0m8-4h0m2 4h0m6 4h0m0-6h0m2-2h0m8 5h0m28 3h0m9-1h0m15-1h0m3 0h0m5 1h0m1-3h0m5 3h0m37-8h0m17 2h0m4 5h0m6-6h0m3 2h0m1 4h0m5-8h0m2 9h0m1-2h0m0 2h0m6 0h0m2-9h0m7 2h0m-5 16h0m0-1h0m-11 4h0m-2-6h0m-5 5h0m-17-8h0m-12 11h0m-9-1h0m-3 1h0m-29-8h0m-2 1h0m-3-3h0m-2-1h0m-15 4h0m-9-3h0m-4 2h0m-8-3h0m-8 0h0m-1 2h0m-2 5h0m-7-2h0m-9 0h0m-14-1h0m-3-4h0m-1 3h0m-6 5h0m-3-5h0m-5-3h0m-25 10h0m-8-1h0m-7-6h0m-4 0h0m-14 6h0m-21-1h0m0 3h0m-2-5h0m-1-2h0m-4 6h0m-2-6h0m-2 7h0m-8-7h0m-10-1h0m-10-2h0m-22 1h0m-1 5h0m-3-1h0m-4 0h0m-2 2h0m0-5h0m-13 1h0m-107 10h0m109 8h0m12-7h0m9 1h0m49-4h0m16 1h0m6 8h0m1-6h0m6 8h0m0-6h0m13 3h0m5 3h0m17-3h0m6-1h0m0-7h0m18 4h0m5 4h0m4-7h0m4 1h0m7-1h0m14 9h0m4 0h0m55-2h0m35 3h0m8-5h0m1 2h0m6-5h0m5 3h0m6 4h0m9-4h0m1-5h0m2-1h0m1 7h0m8 1h0m4 2h0m16-3h0m1-6h0m-3 12h0m-2 8h0m-1-8h0m-5-1h0m-16 5h0m-2-1h0m-3 6h0m-10 1h0m-3-5h0m-7 2h0m-4 3h0m-2-8h0m0 3h0m-5 5h0m-14-11h0m-5 5h0m-7-3h0m-5 7h0m-3-4h0m-7 6h0m-1-6h0m-11 4h0m-45-4h0m-1 1h0m-17 1h0m-17-3h0m-5 0h0m-4 5h0m-1-9h0m-15 11h0m-2-8h0m-15 1h0m0-3h0m-105 3h0m-8-1h0m-63 2h0m-2 12h0m199-5h0m6 8h0m17 0h0m2-1h0m4 2h0m8 2h0m3-1h0m1-2h0m9 0h0m1-7h0m1 1h0m6 5h0m35-3h0m4-1h0m1 5h0m0 0h0m4 3h0m2-2h0m1-5h0m16 2h0m0 5h0m2-7h0m2 2h0m6-6h0m1 8h0m5-4h0m1-3h0m1 2h0m7 0h0m2 0h0m7 3h0m3-5h0m2 8h0m2-2h0m5 1h0m6-8h0m0 2h0m28 0h0m6 5h0m3-3h0m0-1h0m10 1h0m1 7h0m0 0h0m-1 3h0m-6-1h0m-2 1h0m0-1h0m-7 3h0m-5 3h0m-3-2h0m-1 5h0m-6 0h0m-14-6h0m-12 5h0m-1-6h0m-2 8h0m-2 0h0m-3-3h0m-1-4h0m-3-1h0m-24 1h0m-3 6h0m-2-10h0m-8 10h0m-4-7h0m-1 0h0m-2 5h0m0 0h0m0-8h0m-6 11h0m-3-3h0m-2-1h0m-3-6h0m-28 9h0m-3 0h0m-8-6h0m-2 5h0m-1-6h0m-1-1h0m-6-2h0m-2 6h0m-1-6h0m-3 8h0m-4-3h0m-2 6h0m-1-4h0m-5-5h0m-4 0h0m-14 1h0m-215-1h0m254 14h0m2 7h0m2-1h0m1 1h0m6-5h0m7-1h0m2 6h0m16-11h0m9 0h0m13 5h0m2 5h0m6-7h0m19 7h0m15-7h0m4 2h0m4 2h0m7 0h0m8 1h0m1-1h0m2 1h0m8-4h0m12 6h0m4 1h0m4-3h0m6-8h0m15 0h0m4 6h0m-26 13h0m-4-2h0m-4 5h0m-2-1h0m-6 1h0m-14-4h0m-5-5h0m0-1h0m-5 4h0m-6-3h0m-11 0h0m-6 3h0m-7 5h0m-28-5h0m-23 5h0m-6 0h0m-5-2h0m0-2h0m-8 5h0m-5-5h0m-9 0h0m-4 2h0m-4-7h0m-4 10h0m-1 0h0m-14-9h0m-241 15h0m271-4h0m1 9h0m7-1h0m7-5h0m22-2h0m16 0h0m1 3h0m9-3h0m6 0h0m6 4h0m6 0h0m6 1h0m0 2h0m5-7h0m3 7h0m7-4h0m3 1h0m5 5h0m0-3h0m32-3h0m2 6h0m1-6h0m4 6h0m1 0h0m28-8h0m-27 10h0m-16 6h0m-7 5h0m-5-6h0m-6-5h0m-1 1h0m-17 8h0m-26-9h0m0 10h0m-75-9h0m-1 2h0m70 15h0m2-1h0m3 5h0m4-3h0m2 0h0m18 1h0m19-1h0m10 0h0m38-1h0m4 17h0m-14-11h0m-11 6h0m-12-6h0m-1 8h0m-5-7h0m-2 8h0m-50 2h0m45 4h0m49-3h0m0 2h0m3 8h0m2 0h0m14-4h0m6-3h0m-3 11h0m-1-2h0m-8 0h0m0 8h0m-6 2h0m0-5h0m-19 1h0m-14 3h0m-6 1h0m-8-8h0m6 13h0m4-2h0m1 8h0m2-4h0m5-1h0m1 2h0m2-4h0m3 5h0m2-4h0m4 0h0m2 6h0m26-6h0m-44 13h0m-431 25h0m-4-5h0" stroke="#F8847A" stroke-width="10.2" stroke-linecap="round" fill="none"/><path transform="scale(0.5)" d="M702 475h0m-13 25h0m-15 10h0m9 1h0m-1 16h0m-6-5h0m-10 9h0m7 6h0m7-1h0m5 1h0m-57 62h0m-102 1h0m6 6h0m10 4h0m12-3h0m18 4h0m0-5h0m1 4h0m14-9h0m8 1h0m9 8h0m3-4h0m1 1h0m4 5h0m-9 1h0m-17 7h0m-10-6h0m0 7h0m-15 6h0m9-3h0m2 7h0m10 1h0m5-7h0m9 6h0m-5 9h0m-11 5h0m-6-8h0m-4 1h0m-13 17h0m0 4h0m5-8h0m4 6h0m3-1h0m2-1h0m5-2h0m0-4h0m1 4h0m3-1h0m1 7h0m3-4h0m3 4h0m2 0h0m1-11h0m4 6h0m4-3h0m-11 14h0m0 1h0m-5-3h0m-5 6h0m-8 2h0m-2-5h0m-2 5h0m0-7h0m-3 5h0m0-3h0m-7-3h0m-1 6h0m-11 9h0m4-2h0m5-1h0m5-3h0m2 9h0m1 2h0m12-9h0m-23 10h0" stroke="#CF72C8" stroke-width="10.2" stroke-linecap="round" fill="none"/><path transform="scale(0.5)" d="M895 581h0m123 167h0m-176 62h0" stroke="#7398D0" stroke-width="10.2" stroke-linecap="round" fill="none"/><text transform="translate(302.35 55.30) scale(1.0788 1.0000)" font-size="33" fill="#111">PSM</text><text transform="translate(66.70 153.40) scale(1.0325 1.0000)" font-size="33" fill="#111">Somite</text><text transform="translate(461.41 173.20) scale(1.0570 1.0000)" font-size="33" fill="#111">NMP</text><text transform="translate(280.24 356.60) scale(1.0455 1.0000)" font-size="33" fill="#111">Unknown</text><text transform="translate(204.96 488.70) scale(1.0384 1.0000)" font-size="33" fill="#111">Late somite</text><rect x="566.9" y="370.5" width="173.4" height="164.8" fill="#fff" stroke="#B3B3B3" stroke-width="2"/><ellipse cx="583.1" cy="385.70" rx="5.7" ry="5.3" fill="#F8847C"/><text transform="translate(593.98 397.20) scale(1.0600 1.0000)" font-size="25" fill="#111">NMP</text><ellipse cx="583.1" cy="412.26" rx="5.7" ry="5.3" fill="#D4921A"/><text transform="translate(593.98 423.76) scale(1.0600 1.0000)" font-size="25" fill="#111">PSM</text><ellipse cx="583.1" cy="438.82" rx="5.7" ry="5.3" fill="#43B82C"/><text transform="translate(594.77 450.32) scale(1.0600 1.0000)" font-size="25" fill="#111">Somite</text><ellipse cx="583.1" cy="465.38" rx="5.7" ry="5.3" fill="#5AC4DF"/><text transform="translate(593.98 476.88) scale(1.0600 1.0000)" font-size="25" fill="#111">Late somite</text><ellipse cx="583.1" cy="491.94" rx="5.7" ry="5.3" fill="#7B9ED3"/><text transform="translate(593.98 503.44) scale(1.0600 1.0000)" font-size="25" fill="#111">Neural</text><ellipse cx="583.1" cy="518.50" rx="5.7" ry="5.3" fill="#DE6DB6"/><text transform="translate(593.98 530.00) scale(1.0600 1.0000)" font-size="25" fill="#111">Unknown</text><path d="M44.90 538.30V421.00H49.70V538.30z" fill="#111"/><path d="M47.30 379.20L36.10 421.00H58.50z" fill="#111"/><path d="M44.90 533.15H164.30V538.25H44.90z" fill="#111"/><path d="M206.80 535.70L164.30 524.45V546.95z" fill="#111"/><text transform="translate(36.00 522.19) rotate(-90) scale(1.0748 1.0400)" font-size="22" fill="#111">UMAP2</text><text transform="translate(60.66 566.80) scale(1.0433 1.0000)" font-size="22" fill="#111">UMAP1</text><text transform="translate(-1.63 43.50) scale(0.9700 1.0000)" font-size="56" font-weight="bold" fill="#111">a</text><text transform="translate(19.35 622.00) scale(1.0300 1.0000)" font-size="57.5" font-weight="bold" fill="#111">b</text><text transform="translate(79.69 641.60) scale(0.9914 1.0000)" font-size="31.5" font-style="italic" fill="#111">TBXT</text><text transform="translate(246.56 641.60) scale(0.9996 1.0000)" font-size="31.5" font-style="italic" fill="#111">SOX2</text><text transform="translate(448.25 641.60) scale(1.0022 1.0000)" font-size="31.5" font-style="italic" fill="#111">MSGN1</text><text transform="translate(625.36 641.60) scale(0.9996 1.0000)" font-size="31.5" font-style="italic" fill="#111">HES7</text><text transform="translate(65.55 836.20) scale(1.0085 1.0000)" font-size="31.5" font-style="italic" fill="#111">MESP2</text><text transform="translate(221.06 836.20) scale(0.9923 1.0000)" font-size="31.5" font-style="italic" fill="#111">RIPPLY2</text><text transform="translate(453.49 834.90) scale(0.9898 1.0000)" font-size="31.5" font-style="italic" fill="#111">TCF15</text><text transform="translate(600.00 834.90) scale(1.0000 1.0000)" font-size="31.5" font-style="italic" fill="#111">UNCX4.1</text><text transform="translate(67.77 1036.20) scale(0.9970 1.0000)" font-size="31.5" font-style="italic" fill="#111">TWIST1</text><text transform="translate(245.24 1036.20) scale(1.0174 1.0000)" font-size="31.5" font-style="italic" fill="#111">PAX9</text><text transform="translate(462.47 1036.20) scale(0.9861 1.0000)" font-size="31.5" font-style="italic" fill="#111">PAX3</text><text transform="translate(613.95 1036.20) scale(1.0012 1.0000)" font-size="31.5" font-style="italic" fill="#111">DMRT2</text><text transform="translate(27.70 745.54) rotate(-90) scale(1.0574 1.0400)" font-size="30" fill="#111">NMP</text><text transform="translate(28.70 997.10) rotate(-90) scale(1.1035 1.0400)" font-size="30" fill="#111">Anterior PSM</text><text transform="translate(31.70 1195.35) rotate(-90) scale(1.0349 1.0400)" font-size="30" fill="#111">Sclerotome</text><text transform="translate(408.10 736.56) rotate(-90) scale(1.0667 1.0400)" font-size="30" fill="#111">PSM</text><text transform="translate(409.30 934.98) rotate(-90) scale(1.0508 1.0400)" font-size="30" fill="#111">Somite</text><text transform="translate(409.30 1228.51) rotate(-90) scale(1.0467 1.0400)" font-size="30" fill="#111">Dermomyotome</text><path d="M85 658h0m0-4h0m0 5h0m0-2h0m2 1h0m1 1h0m1-1h0m0 0h0m0-1h0m0-1h0m0-1h0m0 2h0m2 1h0m0 1h0m0-3h0m1-2h0m0 0h0m1 3h0m1-1h0m0 0h0m1 2h0m64 12h0m-6-1h0m0-5h0m-2 6h0m0-2h0m-1-4h0m0 7h0m0-5h0m-1 0h0m0-3h0m0 2h0m-1-2h0m0 2h0m0 2h0m0 4h0m0-5h0m-2 0h0m-1-2h0m-1 3h0m0 3h0m-1-5h0m-2 2h0m0-2h0m-1 5h0m0 1h0m0 0h0m0 0h0m-1 0h0m-1-4h0m-1 3h0m-1 1h0m0-3h0m0 0h0m-2 2h0m-35-6h0m0-4h0m-1 1h0m-1 6h0m-1 4h0m0-7h0m-1-2h0m-1 0h0m0-2h0m0 8h0m0-3h0m-1-4h0m-1 3h0m0 0h0m0-3h0m-1-1h0m0 5h0m-2 0h0m-1-4h0m0 10h0m0-3h0m-1-2h0m0-3h0m0 1h0m-1-4h0m-1 2h0m0 7h0m-1 0h0m0-1h0m0 2h0m0 0h0m-1 1h0m0 0h0m-1-11h0m-16 9h0m0 2h0m-3-1h0m0-1h0m0-1h0m-1 2h0m0-1h0m-1 2h0m-4 12h0m0-2h0m1 1h0m1-7h0m0 4h0m1-2h0m1 4h0m1 0h0m0-4h0m1-5h0m0 2h0m0 2h0m2 3h0m0-2h0m0-4h0m0 8h0m0 1h0m3-8h0m2 8h0m0-5h0m0 1h0m1 4h0m1-1h0m2-8h0m1 7h0m5 2h0m2-1h0m1-8h0m0 5h0m1-5h0m0 5h0m0 2h0m1-3h0m0 1h0m0-4h0m0 7h0m1-6h0m0 2h0m0 2h0m1-7h0m0 3h0m0 1h0m0 2h0m0-2h0m1 1h0m0-1h0m1-1h0m1-1h0m0 4h0m0-1h0m1-5h0m0 0h0m0 1h0m0 3h0m0 1h0m1-2h0m0-2h0m0 5h0m1-5h0m1 7h0m5-8h0m26 8h0m0 0h0m5-2h0m1 2h0m2 0h0m0-3h0m1-5h0m1 10h0m1-2h0m1-7h0m0 2h0m0 0h0m1-2h0m1 4h0m0-3h0m1 5h0m2 0h0m0-7h0m0 6h0m0-2h0m1-4h0m0 0h0m1 8h0m0-4h0m1 1h0m0-5h0m1 5h0m2 4h0m2 1h0m0-10h0m1 11h0m0-7h0m3-1h0m0-3h0m1 2h0m0-2h0m1 1h0m0 0h0m0 2h0m1 0h0m0 6h0m1 2h0m1-5h0m1-5h0m1 10h0m0-4h0m5 9h0m-1 0h0m0 7h0m0-1h0m0-2h0m-1-5h0m0 0h0m0 6h0m-1-6h0m0 1h0m-1 0h0m-1 2h0m0 2h0m-1-1h0m0-3h0m0 1h0m-1 0h0m-1-2h0m-4 6h0m0-8h0m-1-1h0m-1 9h0m0-8h0m-1 8h0m-1-8h0m0 0h0m-3-1h0m-1 1h0m0 10h0m0-2h0m-1 1h0m-1-3h0m0 3h0m-3-4h0m-1 0h0m0-6h0m-2 7h0m0 0h0m0 3h0m-1-6h0m0-3h0m0 4h0m0 3h0m0-2h0m-2-4h0m0 2h0m0 5h0m-2 2h0m0-2h0m-1-5h0m0 3h0m-1 2h0m0 2h0m0-2h0m-1-9h0m0 2h0m-2 5h0m-1-5h0m0 3h0m0 0h0m0 2h0m0 2h0m0 0h0m-1-3h0m-1-1h0m-1 2h0m0 1h0m-1 2h0m-1-9h0m-1 5h0m0-6h0m-1 4h0m0 1h0m-37-2h0m0-3h0m-1 8h0m0-1h0m0-1h0m-4 5h0m0-10h0m-2 9h0m-2-4h0m0 5h0m-1-2h0m0 1h0m-1-7h0m0 8h0m-1-7h0m0 1h0m0-4h0m-1 9h0m-1-4h0m0 3h0m0 1h0m0-9h0m0 0h0m-1 6h0m0 3h0m-3 0h0m-1-7h0m-1 0h0m-1 4h0m0-4h0m-1 3h0m0-2h0m-2 0h0m0-4h0m-2 11h0m-1-4h0m0 1h0m0-4h0m-1 5h0m-3 13h0m0 0h0m1-1h0m0-6h0m0 7h0m1-2h0m0-2h0m1 0h0m0-2h0m0 7h0m0-4h0m1 2h0m0-1h0m0-4h0m1-1h0m1-1h0m0 8h0m0-5h0m0 1h0m1-1h0m1 4h0m0-2h0m2 3h0m1-9h0m1 3h0m0 5h0m0 0h0m1-8h0m0 8h0m1-9h0m0 7h0m0-4h0m1 3h0m1-2h0m0-1h0m0 5h0m0-8h0m0 8h0m0 2h0m1-10h0m0 7h0m0-5h0m0 9h0m0-7h0m1 3h0m0-6h0m0 0h0m1 6h0m1 3h0m0-6h0m1-1h0m1 1h0m2 0h0m0-2h0m0 3h0m0-2h0m0 1h0m0-2h0m0 1h0m1 2h0m0 4h0m0-7h0m0 1h0m1 0h0m0 8h0m3-3h0m1 3h0m1 0h0m1-10h0m0 3h0m15 2h0m11-6h0m3 9h0m11-7h0m10-2h0m6 3h0m3-1h0m0-2h0m1 4h0m0-4h0m0 5h0m1-3h0m2 1h0m0 4h0m0 1h0m1-2h0m0 4h0m3-4h0m2-2h0m0 5h0m1-2h0m0-4h0m1 3h0m1-2h0m1-1h0m0 0h0m1-2h0m0 8h0m1-6h0m0 0h0m1 0h0m1-3h0m0 7h0m0 3h0m1-7h0m2 5h0m1 0h0m0 1h0m0 1h0m1-7h0m0-2h0m0 5h0m1 6h0m-4 6h0m-1-5h0m0-1h0m-4 0h0m-49 3h0m-12 2h0m-1-3h0m-6 1h0m-1 3h0m0-3h0m-1 8h0m0-9h0m0 5h0m-1-5h0m-1 9h0m-3-11h0m0 11h0m-2-6h0m-1 5h0m-1-9h0m-2 4h0m-1-5h0m0 5h0m-1-1h0m-1 4h0m0 2h0m0 1h0m-2-5h0m0 5h0m0-8h0m-1 3h0m0 3h0m0 1h0m0-7h0m-1 3h0m0-4h0m0-2h0m0 4h0m-1 1h0m0-5h0m0 10h0m-1-2h0m0-2h0m0-2h0m-1 2h0m0-2h0m0 5h0m0 1h0m0-1h0m0-1h0m-1-8h0m0 7h0m-1 2h0m-2-8h0m0-1h0m-1 2h0m0 8h0m0-9h0m-1 7h0m0 3h0m0 0h0m-1-10h0m-1 1h0m-1 4h0m0 2h0m-1-6h0m0 3h0m0-2h0m0 3h0m0-3h0m0-1h0m0 9h0m-1-5h0m0-1h0m-2 6h0m-1-6h0m0 2h0m-2-6h0m-1 22h0m0-1h0m1-8h0m1 4h0m1 2h0m0 0h0m0 1h0m1-3h0m2 3h0m0-9h0m1 5h0m0 5h0m0-10h0m0 0h0m1 8h0m0-8h0m1 7h0m0 3h0m0-9h0m1 5h0m0 1h0m0 3h0m0-3h0m0 3h0m0-8h0m0 0h0m1 4h0m1 2h0m0-8h0m2 2h0m0 0h0m2 4h0m0-5h0m0-1h0m1 10h0m0-3h0m1-1h0m0 0h0m0-4h0m1-2h0m1 10h0m1 1h0m0-3h0m0-5h0m1 3h0m0 5h0m0-3h0m0-7h0m2 0h0m1 7h0m0 2h0m0-3h0m0 0h0m0 2h0m0-1h0m1-3h0m0 4h0m0-9h0m1 6h0m0-4h0m1 3h0m0 2h0m0-1h0m0 2h0m1 1h0m0 0h0m0-4h0m1 6h0m0-1h0m1-4h0m0 1h0m0 4h0m1-10h0m1 1h0m2 1h0m0-1h0m7 0h0m2 9h0m1-3h0m1 1h0m0 1h0m2-6h0m1-1h0m5-1h0m-9 10h0m-17 4h0m-2 2h0m-2-2h0m-1-1h0m0-3h0m0 4h0m0-1h0m-1 0h0m0 4h0m-1-5h0m0 3h0m0-4h0m-1 4h0m0 3h0m-1 1h0m0-2h0m0-5h0m-1-1h0m0 4h0m-1 3h0m0 1h0m0-8h0m0 3h0m-1 5h0m0-4h0m-1 3h0m0-1h0m-1 2h0m0-7h0m-1 1h0m0 1h0m0 0h0m0 6h0m0-7h0m-1-2h0m0 6h0m0 3h0m0-3h0m-1-6h0m-1 3h0m0 1h0m0-1h0m-1 2h0m0-6h0m0 11h0m0-1h0m0-9h0m-1 8h0m0-3h0m-1 0h0m-1 4h0m0-10h0m0 8h0m-1 0h0m0 3h0m0 0h0m0 0h0m-2 0h0m0-8h0m-1 5h0m0-3h0m-1 3h0m0 7h0m0 5h0m1-2h0m1-2h0m0 2h0m1-1h0m1 6h0m0-2h0m0-2h0m1 3h0m0-2h0m1-3h0m0 5h0m0-6h0m0 5h0m2-6h0m0 0h0m1 7h0m1-6h0m1-4h0m1 2h0m0 6h0m0-2h0m1-3h0m0-3h0m0 3h0m2 3h0m1 5h0m0 0h0m1-9h0m1 4h0m1 3h0m0 1h0m1-9h0m0 10h0m0-2h0m1-6h0m1 8h0m2-1h0m1-8h0m1-1h0m0 6h0m0 2h0m2-6h0m0 1h0m3 19h0m-1-7h0m-1 1h0m-1-2h0m0 8h0m0 0h0m-3-2h0m0-9h0m0 1h0m-1 9h0m-1-2h0m0-8h0m-1 11h0m0-9h0m0 2h0m0-4h0m-1 0h0m0 10h0m0-8h0m0 7h0m0 1h0m-1-10h0m0 10h0m0-2h0m-1 1h0m-1-2h0m0 2h0m-1-3h0m0 5h0m-1-1h0m-1 0h0m-1-5h0m0-1h0m0 6h0m-1-5h0m0-5h0m0 3h0m-1 5h0m0-5h0m-1-1h0m-3 6h0m0-4h0m-2 2h0m0-1h0m-1 3h0m-1-4h0m0 3h0m0 0h0m0-7h0m-1 1h0m0 3h0m-2-3h0m4 11h0m2 2h0m3 1h0m1 0h0m4-3h0m0 3h0m1-1h0m1-2h0m1 4h0m0-4h0m0 5h0m0-2h0m0 2h0m1 1h0m0-4h0m0 0h0m0 0h0m1 2h0m0 2h0m2 1h0m0-1h0m2-2h0m0-4h0m1 4h0m0 1h0m0-1h0m1 3h0m0-2h0m0-2h0m1-1h0m1-1h0m1 5h0m0 0h0m1 1h0m1-2h0m0-5h0m1 4h0m0 1h0m0-4h0" stroke="#D3D3D3" stroke-width="3.8" stroke-linecap="round" fill="none"/><path d="M146 666h0m-8 3h0m-49 1h0m-25 6h0m2 2h0m21-3h0m2 3h0m42 1h0m11 1h0m5-5h0m2 2h0m5 2h0m0-2h0m2 6h0m7 2h0m0-1h0m-22 10h0m-2-5h0m-8 4h0m-9-5h0m-42 0h0m-8 6h0m-7 11h0m3 2h0m9-1h0m70-5h0m13 2h0m7-7h0m-101 32h0m1-7h0m8 0h0m1 1h0m18 1h0m2 7h0m1-4h0m0-3h0m-22 14h0m1 28h0m-3-4h0m-17-3h0m16 17h0" stroke="#C7B5EA" stroke-width="3.8" stroke-linecap="round" fill="none"/><path d="M157 667h0m-4-3h0m-5 1h0m0 1h0m-3-2h0m-1 1h0m-51 0h0m-32 4h0m9 13h0m61-7h0m0-3h0m3 3h0m3 3h0m1-1h0m4 1h0m4-4h0m2 1h0m6 8h0m1-11h0m4 4h0m3 7h0m-32 9h0m-9-3h0m-50 3h0m71 7h0m3 1h0m24 5h0m-103 13h0m-10-9h0m21 13h0m17 8h0m-31 21h0m6-3h0m9 26h0m1-4h0" stroke="#BAA7E6" stroke-width="3.8" stroke-linecap="round" fill="none"/><path d="M90 655h0m4 1h0m1 0h0m50 15h0m-46-9h0m-3 6h0m-1 11h0m31-1h0m2-2h0m5 0h0m8 3h0m11-6h0m7 9h0m5 4h0m-3-2h0m-4 0h0m-1 11h0m-11-10h0m-6 3h0m-10 5h0m-2-9h0m0 1h0m-6 1h0m17 11h0m2 0h0m6 3h0m2 0h0m6 2h0m4 2h0m9-4h0m-90 19h0m-16-6h0m-8 9h0m23 7h0m2-6h0m20 6h0m0-7h0m2 0h0m2 1h0m-28 15h0m-3-6h0m-4 10h0m7 33h0" stroke="#AD98E2" stroke-width="3.8" stroke-linecap="round" fill="none"/><path d="M148 671h0m0-7h0m0 4h0m-3 3h0m-4-1h0m-5 0h0m-2-2h0m-35 0h0m-2-4h0m-1 15h0m45-4h0m4 8h0m16-3h0m-4 7h0m-4 1h0m-9 7h0m-7-2h0m-2-6h0m-5 8h0m-5 0h0m-3-3h0m19 8h0m16 4h0m7 6h0m-54 8h0" stroke="#A08ADE" stroke-width="3.8" stroke-linecap="round" fill="none"/><path d="M95 656h0m51 8h0m-45 3h0m0-2h0m-1 5h0m-2-9h0m0 4h0m-1 1h0m-3-4h0m2 17h0m1-7h0m25 10h0m9-10h0m0 0h0m15 2h0m3-1h0m17 16h0m0-1h0m0 2h0m-7 0h0m-4 4h0m-2 1h0m-17-6h0m-1-1h0m-4 2h0m-5 1h0m-2-1h0m33 9h0m2 6h0m1-4h0m3-4h0m1 17h0" stroke="#8B78D3" stroke-width="3.8" stroke-linecap="round" fill="none"/><path d="M96 658h0m1-1h0m1 0h0m1 6h0m-2 1h0m-2 7h0m43 10h0m7-3h0m1-3h0m3 7h0m15 5h0m-8 7h0m-18-3h0m-1-1h0m-1-1h0m-2 5h0m-2-2h0m-9-7h0m-1 7h0m-3 1h0m25 7h0m1-4h0m8 5h0m4 4h0" stroke="#7765C8" stroke-width="3.8" stroke-linecap="round" fill="none"/><path d="M82 659h0m0 0h0m0-1h0m1-2h0m0-1h0m1 4h0m0-1h0m0 1h0m1-2h0m0 1h0m1-1h0m1-2h0m0 0h0m0 4h0m1 0h0m0-1h0m0-1h0m1 1h0m1 0h0m0 0h0m0-2h0m1 3h0m0-4h0m0-1h0m1 1h0m0 0h0m1 4h0m0 0h0m1-2h0m0 1h0m0-1h0m60 11h0m0 1h0m-1 2h0m-1 0h0m0 0h0m-1-6h0m0 4h0m0-2h0m0 0h0m-2 3h0m0-2h0m-2-4h0m0 3h0m-1 2h0m0 1h0m0-7h0m-1 3h0m-1 2h0m-1-3h0m0-1h0m-1 6h0m0-6h0m-2 4h0m-2 2h0m0-2h0m0 1h0m-1 1h0m-2 0h0m-1 1h0m-1-2h0m-32 2h0m-3-8h0m0 1h0m-1 7h0m0-9h0m0 4h0m-1 5h0m0-2h0m0-8h0m-2-1h0m0 8h0m-1-7h0m0 5h0m0 1h0m-1 4h0m0-9h0m-1 6h0m-2-6h0m-1 6h0m0-7h0m0 4h0m-1 0h0m0-2h0m0 2h0m0-5h0m0 0h0m-1 9h0m0-6h0m-1 6h0m0-6h0m-1-2h0m-1-1h0m0 0h0m-1 0h0m-16 11h0m0-1h0m-2-2h0m0 0h0m-1 2h0m-1-1h0m0 0h0m0 1h0m0-4h0m-1 2h0m-4 14h0m1 0h0m2-1h0m0-5h0m0 4h0m1-3h0m1 2h0m1-2h0m2-2h0m0-3h0m0 2h0m0-2h0m1 0h0m1 0h0m1 0h0m1 6h0m1-3h0m0-1h0m1 7h0m1-4h0m0 2h0m0-1h0m0 3h0m1-2h0m0-1h0m1-4h0m1 6h0m8-7h0m1 5h0m1-1h0m0-5h0m0 1h0m1-1h0m0 4h0m1 2h0m0-1h0m0 1h0m1-6h0m1 2h0m1 4h0m1 0h0m1-4h0m0-2h0m0 2h0m0 1h0m0 2h0m1-1h0m0 2h0m1-1h0m0 2h0m4-7h0m3 0h0m24 8h0m0 3h0m1-4h0m0 1h0m1 2h0m2-6h0m0-2h0m1 8h0m1-3h0m0-5h0m0 0h0m0 2h0m2 0h0m1-2h0m1 6h0m1-1h0m0-4h0m0 0h0m1 2h0m1-1h0m3 6h0m0-9h0m1 10h0m0-4h0m0-6h0m1 8h0m0-9h0m1 8h0m0 1h0m0-6h0m1 7h0m0-10h0m1 0h0m1 7h0m2-7h0m1 4h0m0-4h0m1 5h0m1 5h0m0-4h0m2 2h0m0 1h0m0-5h0m1 5h0m0-8h0m0 1h0m2 8h0m0-4h0m1 4h0m0-6h0m0 0h0m2 2h0m1 2h0m1 2h0m0 0h0m1-2h0m5 13h0m-2-1h0m0-1h0m-1 0h0m0 2h0m-1-5h0m-1-2h0m0 7h0m-1-4h0m-3-3h0m-1 5h0m-3 2h0m0-9h0m0 11h0m-3 0h0m-1 0h0m-1-2h0m-4-2h0m0 3h0m-3-10h0m0 0h0m-4 6h0m0 0h0m-1-5h0m0 10h0m0 0h0m-1-4h0m-1-7h0m0 0h0m0 0h0m-1 5h0m0 3h0m-1-4h0m0-2h0m0 6h0m-2 3h0m-1-7h0m-1 5h0m0-8h0m0 3h0m-1 0h0m-1 3h0m0-2h0m-1 1h0m0 2h0m-1 3h0m0-3h0m0-6h0m-1-1h0m-1 7h0m0-4h0m0 4h0m-2-3h0m-4 5h0m-31-6h0m0-4h0m-3 11h0m0-7h0m0 3h0m0-5h0m-1 1h0m-2 4h0m-4 4h0m0-8h0m-1-2h0m-2 0h0m-1 10h0m-1-2h0m-1 2h0m0-4h0m-1-4h0m0 8h0m0 0h0m0-6h0m-1 5h0m-1-6h0m0 6h0m0-5h0m0-4h0m-1 1h0m0 1h0m0 0h0m0-3h0m-1 7h0m0 2h0m0-7h0m-1 3h0m-1 2h0m0 4h0m0-9h0m-2 1h0m-1-1h0m0 1h0m0-1h0m-1 2h0m0 5h0m-1-1h0m0-3h0m-1-4h0m-5 7h0m-1 12h0m0-1h0m2-2h0m0 3h0m1 2h0m0-5h0m0-2h0m0 4h0m0 3h0m1 0h0m1-5h0m0 1h0m0 3h0m0-4h0m1 4h0m0-6h0m2 8h0m0-2h0m1-2h0m0 0h0m1 1h0m1-8h0m1 5h0m0 3h0m1-1h0m1 1h0m1-5h0m0-2h0m0 1h0m1-1h0m0 0h0m1 2h0m0 4h0m0-5h0m1 8h0m0-8h0m2 9h0m1-9h0m0 3h0m1 3h0m0-5h0m0 0h0m0 0h0m1 1h0m1 0h0m0 5h0m0-6h0m0 7h0m0-5h0m0-3h0m0 4h0m0 2h0m0-8h0m1 5h0m1 2h0m5 2h0m0-1h0m2-1h0m0 0h0m6-2h0m0 4h0m8 1h0m1-1h0m0 2h0m2-6h0m0 1h0m2-3h0m1 0h0m0 1h0m8 7h0m2-6h0m1-2h0m9-3h0m1 0h0m10 0h0m2 1h0m2 2h0m0-1h0m3 5h0m1-6h0m1 7h0m2-1h0m0-3h0m2 4h0m3-2h0m1 2h0m1 1h0m0-7h0m1 0h0m1 2h0m0-1h0m1 7h0m2-5h0m0-4h0m1 5h0m0-5h0m0-1h0m1 7h0m0 3h0m1-7h0m0 0h0m0 4h0m0-6h0m2-1h0m1 1h0m0 4h0m0-5h0m0 7h0m2-4h0m0 2h0m3 11h0m0-1h0m-1 1h0m-1 0h0m0 0h0m-1-2h0m-1 3h0m-2 0h0m-1 0h0m-2-2h0m-5-1h0m-1-2h0m-45 1h0m-14 4h0m-4 2h0m-2-5h0m-1-1h0m0-1h0m0 6h0m0 3h0m-1-9h0m0 0h0m0 1h0m0 7h0m-4-5h0m0 0h0m0 2h0m-1-4h0m-1 1h0m0 6h0m0-1h0m-2-4h0m-1 3h0m0 1h0m0 2h0m-3-4h0m-1 2h0m0-2h0m-1 3h0m0 2h0m-1-8h0m-1 5h0m0-1h0m-1-6h0m0 7h0m0 2h0m0-1h0m-1-4h0m0 4h0m0 2h0m-1 1h0m-1-11h0m0 2h0m0 2h0m-1 7h0m0-6h0m0 5h0m-1 0h0m0-3h0m0 3h0m-1-10h0m0 1h0m-1 8h0m0-9h0m-3 11h0m0-1h0m0-4h0m0 4h0m-1-8h0m0 2h0m-1 4h0m0-8h0m0 1h0m0-1h0m-2 5h0m0-4h0m-1 3h0m0 3h0m0-6h0m0 5h0m0 2h0m0-2h0m-1-1h0m0 1h0m0 3h0m-2-5h0m0 2h0m0-1h0m0 2h0m0 0h0m0-7h0m0 3h0m-1 1h0m-1 7h0m-1 11h0m0 0h0m1 1h0m0-7h0m0 5h0m0-3h0m1 4h0m0-7h0m1 3h0m1 3h0m0 2h0m0-5h0m2 5h0m0 0h0m0-7h0m0-1h0m1 5h0m0-3h0m0-4h0m0-1h0m0 0h0m1 9h0m1-1h0m0-6h0m3 8h0m0-5h0m2 5h0m0-4h0m0-4h0m1 8h0m0-3h0m2 0h0m0 2h0m0-3h0m2 5h0m0-3h0m2 2h0m0-5h0m0 5h0m0-4h0m0-3h0m1 7h0m0-3h0m0 4h0m1-9h0m0-1h0m0 3h0m1 3h0m0-6h0m0 1h0m1 3h0m1 2h0m0-7h0m1 7h0m3-1h0m1-1h0m0 2h0m0 3h0m1-5h0m0 2h0m0-1h0m0-5h0m1 6h0m0-1h0m1-2h0m7-2h0m2 1h0m2 7h0m0 1h0m0-6h0m1 6h0m0-2h0m2 0h0m0-1h0m0 1h0m1 0h0m37 1h0m16 10h0m-72-4h0m-4 7h0m0-7h0m0-4h0m-1 6h0m-1-2h0m-1 2h0m0-1h0m0 2h0m0-5h0m-3-2h0m0 8h0m-1-6h0m-1 0h0m-1 5h0m-1-2h0m0-5h0m-1 0h0m-2 0h0m0 2h0m0 8h0m-2-8h0m-1 0h0m-1 7h0m0 0h0m-1-1h0m0-6h0m-1 6h0m0-1h0m0-7h0m0 8h0m0 2h0m0-10h0m-1 9h0m-1-6h0m0 6h0m0-3h0m0-1h0m-1-4h0m-2 0h0m0 8h0m0 2h0m0-7h0m-2 3h0m0-7h0m0 16h0m1-2h0m0 2h0m0 6h0m1-4h0m0-4h0m1 4h0m2-6h0m1 1h0m0 7h0m1-2h0m1-1h0m0 6h0m1-1h0m1-1h0m0-9h0m0 6h0m2-1h0m0 1h0m0-4h0m2 0h0m0 1h0m1-1h0m0 4h0m0-6h0m1 8h0m0-4h0m1-1h0m1 7h0m1-6h0m0-3h0m0 3h0m0 1h0m0 3h0m1-4h0m0 6h0m1-9h0m1 3h0m1 7h0m0-8h0m1 7h0m0-9h0m2 3h0m1 2h0m0 5h0m0-10h0m1 2h0m0 6h0m4 12h0m0-6h0m-1 1h0m-1-2h0m0 5h0m-1-6h0m0 2h0m0 8h0m-2-6h0m0-2h0m-1 7h0m0-9h0m0 5h0m-1 2h0m0-6h0m-1 7h0m-1 0h0m0 1h0m0 0h0m0-10h0m0 2h0m0 0h0m-1-2h0m0 1h0m-1 10h0m-3-7h0m0 4h0m-1-4h0m0-3h0m0 2h0m0 7h0m-1-7h0m0 2h0m0-1h0m0 1h0m0-1h0m-1 3h0m-1 3h0m0-4h0m0-5h0m-1 4h0m0-4h0m0 3h0m-1-3h0m0 0h0m-1 8h0m0-2h0m-1-2h0m-3 3h0m0 3h0m-1-11h0m0 0h0m0 3h0m0 0h0m0 2h0m-1 2h0m0 4h0m0-7h0m-1-2h0m0 4h0m-1-2h0m-1 2h0m0-1h0m7 7h0m3 1h0m2 2h0m1 1h0m1-2h0m0-1h0m0 3h0m1-2h0m0 1h0m1 1h0m0-4h0m0 3h0m1 2h0m0 0h0m0 1h0m1-1h0m0-5h0m0 7h0m3-4h0m1 4h0m1 0h0m0 1h0m0-2h0m1-2h0m0-1h0m0 1h0m1 0h0m0-1h0m1 4h0m0 0h0m0-3h0m1-1h0m0 2h0m0 0h0m0 2h0m1-1h0m0-6h0m3 1h0" stroke="#D3D3D3" stroke-width="3.8" stroke-linecap="round" fill="none"/><path d="M143 668h0m0-2h0m-83 7h0m66 9h0m9-7h0m2 3h0m3 3h0m2-1h0m7-7h0m0 5h0m5-4h0m5 9h0m0-3h0m5 4h0m-18 8h0m-75 7h0m5 5h0m67-4h0m10 0h0m7-1h0m-100 23h0m23 3h0m10 6h0m2-6h0m2-1h0m4-1h0m-46 18h0m-5-1h0m7 15h0m14 10h0m-15-3h0" stroke="#C7B5EA" stroke-width="3.8" stroke-linecap="round" fill="none"/><path d="M84 655h0m9 4h0m41 10h0m-69 9h0m0 5h0m19-6h0m39 6h0m7-9h0m7 3h0m1 0h0m2-2h0m3 5h0m13-8h0m6 20h0m-17 2h0m-4-4h0m-9 3h0m-9-1h0m-61-1h0m7 15h0m2-5h0m15 1h0m51-5h0m4 4h0m12 4h0m15-5h0m-84 8h0m-22 10h0m-2 7h0m4 1h0m9-4h0m9-1h0m15 5h0m-46 11h0" stroke="#BAA7E6" stroke-width="3.8" stroke-linecap="round" fill="none"/><path d="M95 657h0m1 1h0m59 7h0m-56 2h0m-2-2h0m-3 4h0m0 7h0m5-2h0m34 9h0m9-3h0m8 3h0m11 2h0m-3-1h0m-1 5h0m-2-4h0m0 1h0m-3-1h0m-8 10h0m-1-3h0m0 2h0m-18-4h0m0 8h0m13 0h0m29 12h0m-1 4h0m-3-4h0m-111 4h0m46 12h0m-34 37h0" stroke="#AD98E2" stroke-width="3.8" stroke-linecap="round" fill="none"/><path d="M96 658h0m36 12h0m-34-5h0m36 7h0m4 6h0m3 3h0m7-4h0m8-3h0m6 14h0m-6 7h0m-18-2h0m0-2h0m-1-7h0m-2 7h0m-10-1h0m17 7h0m2 4h0m16-4h0m7 1h0m1 2h0m-57 10h0m-19 13h0" stroke="#A08ADE" stroke-width="3.8" stroke-linecap="round" fill="none"/><path d="M95 656h0m64 15h0m-12-4h0m-1 2h0m-13 1h0m-32-4h0m-2-3h0m-1 1h0m-2 7h0m-1-3h0m0 2h0m0 1h0m5 2h0m31 8h0m5-3h0m4 0h0m5 1h0m5 2h0m3-3h0m2-2h0m3 1h0m3 3h0m-2 7h0m0 5h0m-2-6h0m-1 7h0m-6-9h0m-10 3h0m-2-1h0m-12 0h0m30 12h0m7-2h0m5 5h0" stroke="#8B78D3" stroke-width="3.8" stroke-linecap="round" fill="none"/><path d="M151 670h0m-1-5h0m-13 5h0m-5 0h0m-32 1h0m0-7h0m-4 1h0m-2-5h0m1 18h0m0-1h0m37 5h0m6-7h0m2 0h0m24 18h0m-4-8h0m-26 10h0m-11-11h0m13 13h0m17 2h0m0 1h0m7 6h0m5-2h0" stroke="#7765C8" stroke-width="3.8" stroke-linecap="round" fill="none"/><path d="M99 661h0m-5 7h0" stroke="#6253BD" stroke-width="3.8" stroke-linecap="round" fill="none"/><path d="M83 658h0m0 1h0m1 0h0m0-2h0m1-1h0m0 2h0m0-3h0m2-2h0m1 5h0m1 1h0m1-5h0m1 2h0m3 0h0m0 1h0m1 1h0m0 0h0m1 0h0m60 11h0m-3-1h0m0 1h0m0-3h0m-1 5h0m-1-6h0m0 6h0m-1-1h0m0-5h0m-1 6h0m0-6h0m-3 0h0m-1 0h0m-1 6h0m-1-7h0m-2 4h0m-2-2h0m-1 2h0m0 1h0m-3 1h0m-2-1h0m-34-6h0m-1 8h0m0-6h0m-1 5h0m-1-2h0m-1-4h0m0-1h0m-1 5h0m0 1h0m0 1h0m-1 1h0m0-3h0m0-7h0m-1 2h0m0 0h0m0 6h0m-1-3h0m0-6h0m-1 0h0m0 4h0m0 4h0m0-3h0m0 1h0m-1 2h0m0-7h0m-1 2h0m0 6h0m0-4h0m-1 0h0m-1-4h0m-1 2h0m0 2h0m-1-1h0m0 1h0m0 2h0m0-1h0m0 5h0m-1-11h0m0 5h0m-1-5h0m-15 9h0m0 2h0m-1-2h0m0 2h0m-3-1h0m0-2h0m-1 2h0m0 1h0m-2-3h0m-4 11h0m0 3h0m0-1h0m2 0h0m0-5h0m1-1h0m0 5h0m1-4h0m0 4h0m1-1h0m0 2h0m3-2h0m0-2h0m0-3h0m0-1h0m1-1h0m1 2h0m0 0h0m1 9h0m0-11h0m0 1h0m1 1h0m1 1h0m1 1h0m4 4h0m1-5h0m8 3h0m1 0h0m0 1h0m1-1h0m0-2h0m1-1h0m0 1h0m1-3h0m0-1h0m0 4h0m0 3h0m2-2h0m0 1h0m0-1h0m0 2h0m1-3h0m1 2h0m0 0h0m1-5h0m0 6h0m0 1h0m1-5h0m0-1h0m0 6h0m1 0h0m1 0h0m3-8h0m1 0h0m27 10h0m1-3h0m0 3h0m1-5h0m1-1h0m3 4h0m2 3h0m0-2h0m0-7h0m1 1h0m2 4h0m0-6h0m1 2h0m0-3h0m0 6h0m1-4h0m1 6h0m3 3h0m1-4h0m1 4h0m0-8h0m0 4h0m0-5h0m2 4h0m1 3h0m2-7h0m1 7h0m0-9h0m2 7h0m0-6h0m0 3h0m1 3h0m1-5h0m0 1h0m1-2h0m1 9h0m0 0h0m1 0h0m1-4h0m0-6h0m0 0h0m0 11h0m1-3h0m0 2h0m0-5h0m1 5h0m2 1h0m0-1h0m2 11h0m0-3h0m-1-5h0m-1 4h0m-2 2h0m0-2h0m0 1h0m0-6h0m0 1h0m-1-1h0m0 8h0m0-3h0m0-2h0m0-2h0m0 6h0m-2-7h0m-1 1h0m-1-1h0m0 0h0m0 9h0m-1 1h0m-5 1h0m-1-10h0m0 10h0m0 0h0m-2-2h0m0-9h0m0 10h0m0-1h0m-1 1h0m-2-1h0m-1-9h0m-4 5h0m0 0h0m-1 2h0m-2-4h0m0 6h0m-2 0h0m-3-7h0m0-2h0m0 5h0m0-5h0m0 9h0m-1-5h0m0 1h0m-1-1h0m0 5h0m-2-8h0m0 6h0m-1-4h0m-1-3h0m-2 11h0m-1-10h0m-5 9h0m-36-3h0m-1-4h0m0-1h0m-1 4h0m0-3h0m-1 7h0m0-7h0m-1 4h0m-1 4h0m-1-2h0m-2-6h0m0 1h0m-1 3h0m0-2h0m-1 6h0m0-11h0m-1 9h0m0 1h0m0 1h0m0 0h0m0-7h0m-1 7h0m-1-1h0m0-8h0m0-2h0m-1 2h0m-1 2h0m0 7h0m-1-8h0m0 1h0m-1 5h0m0 2h0m0-6h0m-1 4h0m0 2h0m-1 0h0m-3-5h0m-2-6h0m0 0h0m-1 5h0m0 1h0m0 0h0m-6 17h0m1-7h0m1 6h0m0-5h0m0 2h0m1-5h0m0 7h0m0 2h0m1-7h0m0 3h0m1 1h0m2-6h0m0 2h0m0 4h0m0 3h0m0-4h0m1-4h0m0 6h0m0-3h0m1 5h0m0-2h0m1-2h0m1 2h0m1-3h0m3 0h0m1-6h0m0 3h0m0 2h0m1 4h0m0-5h0m0-2h0m0 0h0m0 3h0m0 0h0m1 0h0m0-1h0m1-4h0m0 0h0m1 2h0m0 1h0m0 4h0m0-2h0m1-5h0m0 1h0m1 9h0m0 1h0m1-4h0m1 0h0m2-4h0m0-1h0m0-1h0m0 2h0m1 0h0m0-1h0m1 9h0m0-3h0m0 0h0m1 3h0m0-7h0m1-3h0m2 9h0m0 1h0m0-3h0m2-7h0m13 8h0m2-1h0m1-1h0m1-1h0m4-3h0m5 8h0m6-9h0m16-2h0m8 0h0m5 8h0m0-8h0m2 2h0m3 6h0m2-5h0m2 2h0m0 0h0m0 0h0m2-3h0m0 3h0m1 2h0m1-4h0m0 7h0m0-3h0m2-3h0m0-2h0m0 2h0m0 1h0m0 2h0m1 0h0m0-5h0m1 9h0m1 0h0m1-10h0m1 2h0m0-2h0m1 2h0m2 0h0m-1 12h0m-2 3h0m0 0h0m-2-5h0m-1 3h0m-6-3h0m-45 5h0m0 4h0m-1-4h0m0-3h0m-1 2h0m-5 6h0m-4-11h0m-3 3h0m-6-2h0m-1 1h0m0-2h0m0 10h0m-2-5h0m0 0h0m-1 5h0m-5-10h0m0 0h0m-2 4h0m0 0h0m0 2h0m0-1h0m0-1h0m-2 1h0m0 4h0m-1-7h0m-2 9h0m0-6h0m0-1h0m-2 7h0m0-1h0m0 1h0m0-7h0m-1-1h0m0 8h0m0-6h0m-1-4h0m0 6h0m0-5h0m0-2h0m0 8h0m0-7h0m-1 6h0m0-3h0m-1 2h0m0-3h0m-1 6h0m0 2h0m0-9h0m-1 2h0m0 3h0m0 4h0m-2-11h0m0 9h0m-1-1h0m-2-8h0m-1 2h0m0 1h0m-1 3h0m0 4h0m-1-9h0m0 3h0m0-3h0m0 0h0m-1 2h0m0 6h0m-1 2h0m-1-7h0m0 5h0m-1-6h0m0 5h0m0-6h0m0-1h0m-2 3h0m-1-1h0m0 0h0m0 6h0m-1 0h0m0 13h0m0-8h0m1 7h0m1-2h0m0 0h0m0 2h0m0-2h0m1 3h0m0-2h0m0 1h0m0-2h0m0-1h0m1 5h0m0-9h0m1 3h0m0 5h0m1-9h0m0 1h0m1-1h0m0 0h0m0 0h0m1 10h0m0-3h0m0 0h0m1-1h0m0 1h0m0 1h0m0-7h0m0 1h0m1 4h0m2 2h0m0 0h0m0-5h0m1 5h0m0-1h0m0 2h0m0-9h0m1-1h0m0 5h0m1 6h0m0-10h0m1 8h0m0 1h0m0-3h0m1-2h0m0-4h0m0 2h0m1 8h0m1-2h0m0-1h0m1-2h0m0-6h0m0 1h0m1 10h0m0-4h0m0 1h0m0-4h0m1 4h0m0-2h0m0-4h0m1 0h0m1 4h0m0 3h0m0-2h0m0-5h0m1-2h0m2 7h0m1-1h0m0-4h0m1 6h0m2 1h0m2-6h0m10 7h0m1-1h0m0-4h0m1 0h0m1-1h0m0 4h0m0-2h0m0-3h0m2 5h0m0 0h0m0 2h0m0-9h0m2 1h0m36-2h0m-61 18h0m-1 0h0m0-5h0m-1 2h0m-1 3h0m0-1h0m-1 1h0m0 0h0m0-5h0m-1 0h0m0-1h0m-1 3h0m-1 5h0m0-6h0m0-2h0m-1 1h0m0 4h0m-1 0h0m-1 2h0m-1 0h0m0-1h0m-1 5h0m0-3h0m-1 3h0m0-2h0m-1-4h0m0 4h0m-1 0h0m0-2h0m0-1h0m0 4h0m0-5h0m-1-2h0m0 3h0m-1 4h0m0 0h0m0 0h0m-1 1h0m0-3h0m0-1h0m0 0h0m-1-1h0m0 4h0m0-8h0m-1-2h0m-1 0h0m0 9h0m-1-5h0m0 5h0m0-2h0m0 4h0m-1-3h0m-1-7h0m0 3h0m-1-1h0m-1 6h0m1 6h0m0 6h0m0-5h0m1 0h0m0 1h0m1-5h0m0 11h0m1-5h0m1-3h0m0 6h0m0 1h0m2 1h0m2-6h0m0-5h0m0 1h0m1 0h0m0 2h0m0 6h0m0-8h0m1 3h0m0-3h0m0 3h0m2-2h0m1 4h0m0 0h0m1-5h0m0 9h0m0-1h0m0-5h0m1 7h0m0-8h0m2 0h0m0 2h0m0-5h0m0 11h0m1-3h0m0-7h0m0 7h0m0-3h0m0-1h0m0 4h0m1 0h0m2-7h0m0 10h0m1-3h0m1-6h0m0 0h0m1 1h0m1-2h0m0 4h0m1-2h0m0 4h0m0-3h0m0 2h0m1 2h0m0-3h0m0 3h0m1-2h0m0 5h0m0-6h0m1 6h0m50-8h0m-47 19h0m-1-6h0m-1 7h0m0-9h0m0-2h0m-1 6h0m-1 3h0m-1-2h0m0-4h0m-1-2h0m0 6h0m-1 0h0m0-5h0m-2 8h0m0 0h0m-1-7h0m0-2h0m0 7h0m-1 1h0m0-9h0m0 9h0m-1 2h0m0-10h0m0 5h0m-1-6h0m0 2h0m-1 1h0m0 6h0m-1-2h0m-1 1h0m0 1h0m0-9h0m0 5h0m0 5h0m0-6h0m-2-3h0m0 1h0m0-1h0m-1 7h0m0-6h0m0 5h0m0-3h0m-1 1h0m-1 2h0m0-7h0m0 5h0m-2 5h0m-1-3h0m0-4h0m0-3h0m-1 6h0m0-1h0m0 6h0m-1-8h0m-1 6h0m0-5h0m0-1h0m0 3h0m0-2h0m0 0h0m0-1h0m-1-3h0m-1 6h0m0 0h0m-1-2h0m-1-1h0m-1-1h0m12 12h0m1-1h0m4 3h0m0-3h0m1 4h0m0-1h0m2 1h0m1-4h0m0 3h0m1-2h0m2 3h0m0 2h0m2-7h0m1 7h0m1-5h0m1 4h0m0 1h0" stroke="#D3D3D3" stroke-width="3.8" stroke-linecap="round" fill="none"/><path d="M145 668h0m-10 0h0m-53-6h0m-18 18h0m22-2h0m37 3h0m7 2h0m9-2h0m6-7h0m4-2h0m10 1h0m1 4h0m2 11h0m-9 1h0m-1 6h0m-6-3h0m-8 0h0m-2-3h0m-13 5h0m-56 0h0m-13 13h0m23-8h0m23 4h0m39-7h0m8 9h0m19-5h0m0 9h0m-78 2h0m-32 0h0m27 16h0m18-4h0m-50 29h0m10-6h0m19 15h0m-1 11h0m1 1h0" stroke="#C7B5EA" stroke-width="3.8" stroke-linecap="round" fill="none"/><path d="M142 667h0m-53-7h0m-2 10h0m-17 13h0m0-2h0m66 0h0m1-6h0m7 1h0m9-2h0m4-1h0m6 22h0m-4-11h0m-4 8h0m-6 0h0m-71 3h0m-19-10h0m17 11h0m76 3h0m5 6h0m-80 4h0m-2 6h0m-9-7h0m-4 1h0m-7 21h0m19-8h0m4 5h0m18-2h0m-2 7h0m-44 5h0m27 32h0" stroke="#BAA7E6" stroke-width="3.8" stroke-linecap="round" fill="none"/><path d="M151 669h0m-3-3h0m-49-4h0m-1 2h0m-1 1h0m-2 6h0m28 10h0m9-4h0m3 4h0m4-4h0m5-2h0m10 3h0m6-6h0m3 13h0m-1 4h0m-1 4h0m-30-3h0m-6-6h0m-46 15h0m67 1h0m19 6h0m1-5h0m1-4h0m1 5h0m-96 27h0m2-7h0m21 10h0m-33 4h0" stroke="#AD98E2" stroke-width="3.8" stroke-linecap="round" fill="none"/><path d="M95 657h0m0 2h0m2 0h0m57 9h0m-6-4h0m-51 7h0m-2-9h0m0 6h0m0 7h0m3-2h0m0-1h0m33 1h0m3 3h0m4 3h0m6 3h0m0-5h0m4-5h0m9 4h0m5 4h0m-3 11h0m-8-6h0m-19 3h0m-1-4h0m-8 5h0m22 12h0m7-1h0m4 6h0m0-1h0m1-5h0m4 0h0m1 4h0m2-6h0m0 16h0" stroke="#A08ADE" stroke-width="3.8" stroke-linecap="round" fill="none"/><path d="M97 659h0m57 11h0m0-4h0m-4-1h0m-44 6h0m-6-1h0m-3-7h0m-3 7h0m4 2h0m1 1h0m1-1h0m24 10h0m8-2h0m2-1h0m12 0h0m1-2h0m2-4h0m18 19h0m-1 2h0m0-2h0m0 2h0m-1-7h0m-3 4h0m0-5h0m-2 6h0m0 1h0m-1-1h0m-4 2h0m-8 1h0m-20-10h0m-1 9h0m0 1h0m-3-6h0m25 16h0m6-5h0m2 8h0" stroke="#8B78D3" stroke-width="3.8" stroke-linecap="round" fill="none"/><path d="M94 655h0m1 2h0m44 9h0m-42-4h0m-1 6h0m-1 2h0m1 2h0m37 4h0m0 0h0m1-4h0m3 4h0m7 2h0m6-2h0m3-1h0m1 5h0m2 2h0m1 0h0m1-2h0m0 1h0m9 7h0m-6-4h0m-2 8h0m-11-8h0m-9 9h0m-14-6h0m0-1h0m-2 2h0m23 18h0m1-6h0m2 3h0m13 0h0m3 0h0m5 9h0" stroke="#7765C8" stroke-width="3.8" stroke-linecap="round" fill="none"/><path d="M95 663h0" stroke="#6253BD" stroke-width="3.8" stroke-linecap="round" fill="none"/><path d="M36.0 639.8V790.3H181.7" fill="none" stroke="#111" stroke-width="1.5"/><path d="M244 658h0m2 1h0m2-4h0m2 4h0m1-1h0m0-3h0m1 2h0m3-3h0m1 1h0m1 2h0m0 1h0m1 0h0m1 0h0m4 9h0m0 4h0m-1-1h0m-1-6h0m0-2h0m-1-1h0m-1 5h0m0-2h0m-1 4h0m0-7h0m-1 8h0m0 1h0m0-6h0m0 7h0m-1-2h0m0-9h0m0 8h0m-1-7h0m-1 3h0m0-1h0m0 1h0m-2-4h0m0 1h0m-1-1h0m0 2h0m-1-1h0m-1 4h0m0-2h0m0 1h0m-1-1h0m0-1h0m-1 8h0m-1-4h0m0 5h0m0-1h0m-1-7h0m-21 6h0m0 2h0m0-1h0m0-4h0m-4 15h0m0 1h0m4-1h0m0-2h0m3 4h0m0-10h0m0 9h0m0-10h0m1 7h0m0-7h0m2 2h0m3 3h0m1 5h0m1-3h0m0 2h0m11-3h0m0 0h0m1-6h0m1 4h0m0 2h0m1-3h0m0 0h0m1 1h0m1-1h0m0 2h0m3-3h0m2 2h0m0 4h0m1-5h0m4-2h0m1-1h0m1 0h0m-18 13h0m-1 6h0m-1 0h0m-1-5h0m-2 9h0m0-10h0m-1 2h0m-3 8h0m-1-8h0m0 5h0m-1 3h0m-1-6h0m-1-2h0m-2 7h0m-1-6h0m0 5h0m0-7h0m-3 0h0m-1 1h0m-1-1h0m0 1h0m-1 1h0m-2 2h0m0-5h0m-1-1h0m-3 9h0m-5 14h0m1-7h0m1 6h0m3 0h0m0-5h0m0 1h0m0 2h0m3-6h0m0 7h0m0-3h0m2 3h0m2 1h0m2-1h0m1-5h0m0 5h0m1-6h0m0 4h0m1-5h0m0 4h0m0-1h0m1-1h0m0 7h0m1-1h0m0-8h0m0 8h0m1-9h0m0-1h0m0 5h0m0-3h0m1 0h0m1 9h0m1-1h0m0-5h0m1-2h0m1 1h0m1 1h0m1-1h0m0 6h0m0-7h0m2 8h0m1-8h0m0 1h0m1-3h0m20 7h0m1-3h0m1 1h0m-6 9h0m-1 2h0m-6-3h0m0-1h0m-1 10h0m0-8h0m-3 8h0m-3-11h0m0 1h0m-3 4h0m-2 0h0m-1 0h0m-2 2h0m0-3h0m0 0h0m-1 7h0m0-3h0m-1-5h0m-1 8h0m-1-2h0m-2 2h0m-1-11h0m0 6h0m-6-4h0m0-1h0m0 9h0m-2-8h0m-1-1h0m-1 5h0m0-4h0m-1 1h0m0 5h0m0 3h0m-1-5h0m0 0h0m0-5h0m-1 7h0m0-8h0m0 1h0m-2 3h0m-1 0h0m0 5h0m-2 13h0m0 1h0m1-1h0m0 0h0m1 0h0m0 0h0m0-4h0m0-3h0m2 7h0m0 1h0m1-5h0m2 4h0m0-5h0m0-3h0m1-1h0m0 1h0m0-2h0m0 0h0m2 7h0m1-1h0m0-4h0m2 8h0m0-6h0m1 6h0m0-8h0m1 4h0m0 2h0m0-8h0m1 9h0m0 1h0m1-4h0m3 5h0m1-11h0m1 10h0m0-3h0m1 1h0m1-1h0m0-6h0m1 7h0m0-1h0m0 1h0m0-6h0m1-2h0m0 2h0m0-2h0m1 7h0m0 2h0m1-1h0m0-5h0m3 4h0m1 0h0m1-1h0m0-5h0m21 1h0m-28 14h0m0-3h0m-2 3h0m-1 2h0m0-1h0m0-1h0m-2-3h0m-1 8h0m0-2h0m-2-6h0m-2 8h0m-2 0h0m0 1h0m-1-5h0m0-2h0m-1-2h0m-1 4h0m-1-1h0m0-2h0m0 3h0m-1 6h0m0-2h0m0 1h0m-2-3h0m-1 3h0m0-10h0m-3 3h0m-1 6h0m0-5h0m-2 4h0m0-8h0m1 22h0m1-5h0m0 0h0m0 3h0m1-8h0m0 6h0m1-2h0m1-1h0m0 7h0m1 0h0m0-10h0m0 9h0m0-1h0m1 3h0m0-5h0m0 3h0m2-4h0m1-4h0m1 3h0m0 3h0m1-1h0m0-6h0m1 2h0m0 4h0m1 2h0m0-6h0m0-2h0m1 1h0m1 10h0m0-7h0m1 7h0m1-8h0m0 7h0m1-5h0m1 5h0m0-2h0m1-7h0m1 10h0m1 0h0m1-7h0m2-2h0m2 3h0m3 8h0m-1 10h0m-3-1h0m-1-9h0m-1 9h0m0-2h0m-2-5h0m-1-3h0m-1 8h0m-1 1h0m-1 0h0m-1-5h0m0 2h0m0 1h0m-1 3h0m-1-6h0m0 1h0m-1-4h0m0 4h0m0-1h0m-1 4h0m0-7h0m-1 5h0m-4-3h0m-2 5h0m0-2h0m-1-2h0m0 1h0m-1-1h0m0-2h0m0-2h0m-1 6h0m-1-1h0m15 7h0m0 0h0m2 6h0m0-6h0m0 5h0m1-3h0m1-1h0m1 2h0m2 4h0m0-1h0m1-1h0m1-1h0m0-1h0m0-2h0m2 6h0m0-6h0m0 1h0m1 3h0m0 2h0m2-1h0" stroke="#D3D3D3" stroke-width="3.8" stroke-linecap="round" fill="none"/><path d="M255 659h0m1 0h0m6 5h0m-1-3h0m-1 4h0m-1 0h0m-1 0h0m-2-5h0m-1 11h0m-5-8h0m-24 5h0m-4 1h0m-3 12h0m8-7h0m5 2h0m1-1h0m15-3h0m1 1h0m5 0h0m1 2h0m1 4h0m-17 6h0m-5 10h0m-1-10h0m-2 9h0m0-10h0m-16 16h0m3 0h0m1 2h0m1-1h0m9-2h0m1 2h0m8-3h0m1 8h0m1-3h0m0 4h0m1 0h0m7-5h0m4 9h0m-1 3h0m0 0h0m0 2h0m-7-1h0m-6 0h0m-5-5h0m0 8h0m-2-5h0m-7 6h0m-1-3h0m-5-3h0m0 2h0m-1-5h0m-3 1h0m-1 8h0m2 8h0m1 3h0m2-1h0m3 0h0m2 1h0m3-8h0m4-1h0m4 8h0m0-5h0m4 4h0m20 2h0m2 0h0m1-9h0m1 8h0m-24 3h0m-2 5h0m0-1h0m-2-3h0m-6 5h0m-5 0h0m-3 0h0m-1 4h0m-2-4h0m-1-4h0m-1-1h0m-2 19h0m9-8h0m4 3h0m13 5h0m0 1h0m3 6h0m-4 4h0m0-1h0m-3 4h0m-15-5h0m-2-3h0m0 1h0m12 11h0m3 3h0m5 2h0m1-2h0m1 2h0" stroke="#C7B5EA" stroke-width="3.8" stroke-linecap="round" fill="none"/><path d="M246 659h0m4 0h0m3-4h0m3 2h0m0-1h0m4 7h0m-2 5h0m0 1h0m-1 1h0m-1-7h0m-1 6h0m-2-4h0m-3 6h0m-3-6h0m-1 3h0m-16 1h0m-2 1h0m-3-1h0m-7 10h0m1 3h0m3-2h0m3-3h0m9 1h0m2-5h0m12 2h0m2 3h0m1-4h0m6 3h0m-11 10h0m0 4h0m0-5h0m-4 4h0m-3 5h0m-5 0h0m0-6h0m-4-3h0m-2 3h0m-5-2h0m-2-3h0m-4 19h0m2 0h0m1-4h0m0 2h0m5-4h0m4 2h0m1 0h0m1 1h0m1 3h0m2-3h0m4 0h0m1 6h0m14-5h0m9 4h0m11 2h0m-1 4h0m-25 1h0m-1-4h0m-2 5h0m-10 1h0m-1 3h0m-1-5h0m-1 5h0m0-5h0m-1 4h0m-1 3h0m0-1h0m-2-2h0m-4 3h0m-1-11h0m-1 8h0m-7-2h0m-1 15h0m1 0h0m3 0h0m1-5h0m1-3h0m2 7h0m1 1h0m4-3h0m2 5h0m0-10h0m1 8h0m0 0h0m0 1h0m6-2h0m2 0h0m18 3h0m4-5h0m1 2h0m3-5h0m1-1h0m-26 16h0m0-1h0m-4-4h0m-4 4h0m-4-1h0m0 5h0m0 1h0m-1-8h0m-5 6h0m-1 0h0m-1 3h0m-1-11h0m0 3h0m-4 5h0m2 8h0m3 4h0m2 3h0m4-5h0m2 1h0m1-4h0m1 7h0m0 0h0m3-9h0m9 2h0m1 1h0m2 13h0m-8 5h0m0-6h0m-2 7h0m-1-11h0m-6 6h0m-1 1h0m0-6h0m-2 4h0m-5 2h0m-1 0h0m10 6h0m5 6h0m1-2h0m2 2h0m3-3h0m1-1h0" stroke="#BAA7E6" stroke-width="3.8" stroke-linecap="round" fill="none"/><path d="M244 659h0m2-3h0m1 3h0m4 0h0m1-4h0m4 1h0m3 3h0m0 0h0m4 11h0m-1-6h0m0 7h0m-5-2h0m0-6h0m-34 18h0m25 0h0m1-2h0m2-2h0m3 2h0m0-1h0m6-5h0m1-1h0m0 2h0m0-1h0m-29 22h0m-4 4h0m4-1h0m1-2h0m27 9h0m-22 3h0m-6 10h0m-14-9h0m2 19h0m2-6h0m1 6h0m4 2h0m4 1h0m25-1h0m3-1h0m2-5h0m-26 15h0m0-4h0m-8-3h0m-5 6h0m-1-5h0m0 12h0m7 7h0m0-2h0m2 5h0m1-11h0m2 11h0m9 4h0m-5 7h0m-2 1h0m0-11h0m0 8h0m0-6h0m-6 7h0m-3 2h0m0-3h0m-6 3h0m-2-8h0m-2 1h0m12 10h0m2 2h0m4 0h0m1 3h0m4-7h0" stroke="#AD98E2" stroke-width="3.8" stroke-linecap="round" fill="none"/><path d="M259 723h0m2 6h0" stroke="#A08ADE" stroke-width="3.8" stroke-linecap="round" fill="none"/><path d="M260 657h0m53 13h0m0 1h0m-2-1h0m-1-4h0m-4-1h0m-10 4h0m-1 1h0m-8 10h0m4-6h0m2 5h0m4-3h0m0-1h0m2 4h0m5 1h0m1 3h0m2-6h0m5 6h0m1-7h0m0-4h0m1 1h0m0-1h0m3 2h0m0 0h0m0-2h0m2 10h0m2 1h0m0 0h0m4 0h0m3 7h0m-1 2h0m-6-5h0m-1-3h0m-2 8h0m-2-7h0m-2 8h0m-1 2h0m-2-10h0m-2 9h0m-1 0h0m-2 1h0m-4-5h0m-1 5h0m0-3h0m-2-8h0m-1 8h0m-1-4h0m0 3h0m-2 2h0m0-1h0m-2-2h0m0-6h0m-3 7h0m-1 0h0m-1 4h0m0-5h0m0 1h0m-1-2h0m-1 4h0m-2-5h0m14 9h0m0-1h0m5 4h0m2-3h0m2 4h0m4 3h0m4-5h0m4 2h0m0 4h0m1 1h0m9-5h0m1-1h0m0-4h0m1 9h0m-1 5h0m-1 1h0m-3 2h0m-34 34h0" stroke="#8B78D3" stroke-width="3.8" stroke-linecap="round" fill="none"/><path d="M316 666h0m0-2h0m-2 1h0m-2 0h0m-1 1h0m0-1h0m0 0h0m-1 2h0m0-1h0m-3-2h0m-1 7h0m-1-6h0m-5 4h0m0 1h0m-6 0h0m-26 1h0m19 9h0m1 2h0m0 1h0m1-1h0m5 0h0m3-2h0m0 3h0m0-11h0m2 7h0m1-3h0m1-1h0m5 5h0m2-1h0m2-1h0m0-3h0m6 0h0m0 4h0m1 1h0m0-8h0m2 6h0m0 4h0m1 0h0m0-6h0m0-3h0m1 5h0m1-1h0m3 5h0m2 6h0m0-1h0m0 6h0m-2 2h0m-1-4h0m-1 2h0m0-7h0m0 6h0m0-3h0m0-5h0m-1 8h0m0-8h0m0 9h0m-1-3h0m-1 1h0m-1-4h0m0-2h0m-6 8h0m-3-9h0m0 11h0m0-11h0m-2 9h0m-4 1h0m-2-10h0m-1 7h0m0-3h0m-1 6h0m-2-5h0m0 0h0m-1-3h0m-2 7h0m-1 0h0m-1-7h0m-2 7h0m-2-8h0m-1 10h0m-1-9h0m-1 6h0m-1-7h0m0 10h0m-1-11h0m0 8h0m0-7h0m3 13h0m19-1h0m1-1h0m1 4h0m0 0h0m1 3h0m1 0h0m4-1h0m1-2h0m1 1h0m3 2h0m1-5h0m2 1h0m0 4h0m0-5h0m0 1h0m1 0h0m1 4h0m3-7h0m0 7h0m3-1h0m-2 11h0m0 1h0m-2 0h0m-8-5h0" stroke="#7765C8" stroke-width="3.8" stroke-linecap="round" fill="none"/><path d="M317 668h0m-1 2h0m-3-1h0m0-1h0m-1 3h0m0-6h0m-1-2h0m-1 2h0m0 1h0m-1 1h0m0-2h0m-1 6h0m0-1h0m-3-5h0m-4 1h0m0 0h0m-1 1h0m-1 3h0m-3 1h0m-1-1h0m-7 9h0m0 1h0m0 2h0m9-10h0m1 8h0m0-2h0m0-2h0m1-3h0m0 3h0m0-3h0m2-1h0m1 8h0m0-6h0m1-1h0m1 1h0m2 6h0m0 1h0m0-3h0m1 1h0m0-4h0m1-1h0m0 1h0m1 0h0m0 4h0m9-4h0m0-1h0m0-1h0m2 7h0m1-2h0m1 2h0m1 0h0m1 2h0m5 10h0m0-1h0m-2-4h0m-1-3h0m0 3h0m-1 0h0m-1 1h0m-1-4h0m0 8h0m-1-4h0m-2 1h0m-5 1h0m-1 4h0m0-9h0m-3 8h0m-1-9h0m-2 11h0m-3-1h0m0-9h0m-4 8h0m-4 0h0m-3-5h0m-5-2h0m0 5h0m0-1h0m0 2h0m-1-6h0m-11 15h0m10-5h0m7 0h0m6 1h0m7-1h0m0 5h0m1-5h0m1 9h0m0 1h0m3-10h0m6 4h0m0-2h0m1 6h0m1-5h0m0 6h0m2-4h0m1 2h0m0-4h0m0-3h0m0 10h0m0 0h0m1-7h0m2-2h0m0 0h0m2 3h0m1-1h0m1 1h0m2 11h0m-7 3h0m-4-5h0m-3-1h0m-45 10h0m-1 0h0m27 2h0" stroke="#6253BD" stroke-width="3.8" stroke-linecap="round" fill="none"/><path d="M245 658h0m0 1h0m1-1h0m0-1h0m1 0h0m0-1h0m0 2h0m1-1h0m1 1h0m0-3h0m2 3h0m2 0h0m0 1h0m0-4h0m0 4h0m0-3h0m1-2h0m2 4h0m1-2h0m0 3h0m0-1h0m5 9h0m-1-3h0m0-1h0m0 5h0m-1-3h0m0-2h0m0 2h0m0 1h0m-1 5h0m0 0h0m0 0h0m0-7h0m-1-2h0m-1 1h0m0-3h0m-1 8h0m0-2h0m0 2h0m-1-8h0m-1 2h0m0 0h0m-1 6h0m-1-4h0m-1 6h0m-1-9h0m-1 4h0m0 5h0m0-7h0m-2 6h0m-18 2h0m-1-1h0m0 1h0m-2-3h0m-2 1h0m-6 13h0m2 0h0m2-5h0m0-4h0m3-1h0m0 7h0m0-3h0m2 2h0m0-5h0m0 4h0m0 4h0m1-3h0m0-4h0m1 9h0m0-9h0m0-2h0m2 2h0m1 7h0m0-3h0m1 4h0m2-3h0m8 3h0m2-1h0m1-4h0m0 3h0m1-3h0m1-1h0m0-1h0m0 4h0m1-7h0m0 0h0m0 6h0m3-2h0m0 3h0m1-1h0m1-3h0m0-1h0m0-1h0m2 0h0m0 1h0m2-2h0m0 7h0m3-7h0m0 0h0m-15 15h0m-2 5h0m-4 2h0m-1-3h0m-1 3h0m-1-1h0m-2 1h0m-2 0h0m0 1h0m-1-2h0m0 1h0m-1 1h0m0-10h0m0 1h0m-1 5h0m0 3h0m0-7h0m0 7h0m-1-2h0m0 2h0m-1-7h0m-5 3h0m0-4h0m-1 2h0m-3 7h0m-1-6h0m-4 12h0m2-3h0m0 4h0m1 4h0m3 1h0m1-8h0m0 6h0m5 0h0m0 0h0m1-4h0m0-4h0m0 5h0m1-6h0m1 9h0m0-9h0m1 2h0m0 6h0m1-1h0m0-5h0m0-1h0m2 2h0m1 7h0m2-7h0m0 4h0m2 1h0m0-8h0m1 4h0m0-1h0m0 2h0m0-1h0m5 6h0m0-2h0m0 3h0m2-10h0m1 0h0m7 8h0m7 1h0m1 1h0m5-8h0m0 0h0m0 1h0m5 9h0m-12 4h0m-7-4h0m-1 1h0m0 8h0m-2-10h0m0 3h0m0 2h0m0 2h0m-3-2h0m-3-5h0m-1 4h0m-1-3h0m0 9h0m-1-4h0m-2-4h0m0-1h0m-1 4h0m-2 5h0m0-8h0m-1 9h0m0-7h0m-1-4h0m-1 1h0m-1-1h0m0 4h0m-1-2h0m0 9h0m0-5h0m0-5h0m0-1h0m0 10h0m-1-6h0m0 6h0m-1-2h0m-1 2h0m-2 0h0m0-10h0m-2 2h0m0 8h0m-1-4h0m0 4h0m-2-4h0m0-5h0m-1 2h0m-1 1h0m0 2h0m-1-2h0m-1 5h0m-1-3h0m-1-2h0m0 1h0m-1 4h0m-1 14h0m0-9h0m1 0h0m1 5h0m0 2h0m0-7h0m1 4h0m2-1h0m1 5h0m0-10h0m1 8h0m1 0h0m0-6h0m1 5h0m0-6h0m1 6h0m1-2h0m0 3h0m1 3h0m1-2h0m0 0h0m1-8h0m1 6h0m1-6h0m1 5h0m0-1h0m1 4h0m2-3h0m0-5h0m1 10h0m0-5h0m0-5h0m1 5h0m0-4h0m1 0h0m0 0h0m0 2h0m1 6h0m0-3h0m1-2h0m0 5h0m0-1h0m2-7h0m1 4h0m0-1h0m0 1h0m0-4h0m1 7h0m1-3h0m2-1h0m1 2h0m11-2h0m2-2h0m1 3h0m38 4h0m-57 6h0m-8-4h0m0 0h0m-1 2h0m0 3h0m0 3h0m0-6h0m-2-1h0m0 4h0m-1 4h0m0 1h0m-2-3h0m-1-5h0m-1 9h0m-1-1h0m0-3h0m-1 2h0m-2-2h0m0-1h0m-1 2h0m-1 2h0m-1-1h0m0 0h0m0 2h0m-1-2h0m-1-1h0m-3 8h0m0 0h0m2 3h0m0 4h0m1-5h0m1 3h0m1-8h0m1 9h0m2-9h0m1 2h0m0 6h0m1 0h0m3-3h0m1-6h0m5 8h0m2-6h0m1 9h0m1-10h0m1 2h0m1 1h0m1 3h0m1 1h0m1-2h0m0-3h0m0 6h0m3 7h0m0 7h0m-1 0h0m0-8h0m-1 3h0m-1-3h0m0 8h0m0 0h0m-1-4h0m-1-2h0m0-4h0m0 8h0m0-9h0m-1 2h0m-1 0h0m0 7h0m-1-9h0m-1 2h0m-1-2h0m0 10h0m-3-3h0m-1 1h0m-1-3h0m-1-1h0m0 6h0m-1-5h0m-1 2h0m0-4h0m-1 2h0m0-2h0m-1-3h0m0 1h0m-1 6h0m-2-3h0m-2 3h0m0-4h0m-1-3h0m0 6h0m-2-2h0m-1-3h0m9 14h0m0-2h0m4 0h0m2 2h0m1 1h0m1 0h0m1-1h0m2-1h0m1 5h0m2-3h0m0 0h0m0-4h0m2 7h0m0 0h0m0-5h0m0 2h0m1 1h0m0 0h0m1 1h0m1 0h0m2-5h0m1 0h0" stroke="#D3D3D3" stroke-width="3.8" stroke-linecap="round" fill="none"/><path d="M249 653h0m3 6h0m5-3h0m2 7h0m-1 8h0m-2-2h0m-2-9h0m-5 6h0m-3-6h0m-1 0h0m0 6h0m-16 3h0m-3-1h0m-1 2h0m-2 1h0m-1 4h0m1 2h0m0 5h0m3-6h0m24-4h0m0 4h0m1 2h0m2-5h0m1 0h0m1 4h0m7-4h0m-13 15h0m-17 0h0m-7-1h0m-4 5h0m0-3h0m0-4h0m-5 22h0m2-3h0m1-4h0m5 4h0m6-7h0m2 9h0m0-7h0m6 0h0m0 5h0m7 3h0m3-4h0m14 5h0m-13 10h0m-3-7h0m-2-1h0m-7 3h0m-1 5h0m-3-3h0m-1 1h0m-5 2h0m-3-10h0m-1 10h0m0-4h0m-1-2h0m0-3h0m-1 0h0m-1 0h0m-3 2h0m-2 1h0m5 9h0m0-1h0m2 2h0m2-2h0m3 2h0m2-2h0m2 0h0m1 9h0m0 1h0m3 1h0m11-7h0m17-1h0m-6 9h0m-22 2h0m-6 3h0m-4-1h0m-1 0h0m0 6h0m-3 1h0m-3-2h0m-1-4h0m-4 0h0m1 13h0m2 0h0m17 3h0m8 2h0m1 0h0m2 6h0m-3-4h0m-6 9h0m0-8h0m-1 9h0m-1-10h0m-12 7h0m-3-4h0m-1 7h0m-3-5h0m17 12h0m1-4h0m0 1h0m1 1h0m0 2h0m1 1h0m3 0h0m5-1h0" stroke="#C7B5EA" stroke-width="3.8" stroke-linecap="round" fill="none"/><path d="M250 658h0m2-2h0m6 2h0m2 9h0m-1-1h0m-4-2h0m-3 2h0m-1 2h0m0-3h0m-2-5h0m-2 3h0m-21 5h0m-2 2h0m-1-1h0m-3 7h0m3 1h0m3 3h0m2-3h0m2-5h0m2 11h0m3-6h0m2 3h0m12-3h0m3 1h0m1-2h0m3 4h0m-9 15h0m-4-7h0m-2 7h0m-4-5h0m-1 5h0m-2-7h0m-7 0h0m0-1h0m0 8h0m-2-2h0m0-2h0m-2-3h0m-8 4h0m-1 11h0m3-3h0m0 3h0m1 1h0m2 2h0m0-2h0m7 1h0m1-1h0m3-8h0m7 2h0m0 1h0m1-1h0m8 5h0m16 0h0m-18 16h0m-3-5h0m-1 1h0m-2 4h0m-5-4h0m-2-5h0m-3 6h0m-2-8h0m-3 11h0m0-10h0m-1 1h0m-1-2h0m-4 5h0m-3 2h0m3 16h0m4-6h0m5 0h0m3-2h0m3 5h0m2-6h0m3-2h0m2 8h0m3-2h0m0 2h0m1-3h0m10-2h0m3 0h0m1 5h0m0 1h0m1-3h0m0 3h0m2-7h0m-23 16h0m-6 2h0m-5 1h0m0-3h0m-3 1h0m-1-5h0m-9 1h0m3 16h0m6-6h0m3-1h0m5 4h0m0-2h0m1-1h0m6 9h0m1-7h0m3 14h0m-1 4h0m-5-9h0m-2 9h0m-1-6h0m-4 5h0m-1-6h0m-5 7h0m-1 1h0m-5-6h0m13 9h0m1 2h0m10 0h0" stroke="#BAA7E6" stroke-width="3.8" stroke-linecap="round" fill="none"/><path d="M248 657h0m9 13h0m-6-2h0m-5-8h0m-22 10h0m10 11h0m14-7h0m6 1h0m4 4h0m2-7h0m-15 19h0m-18 0h0m-8 0h0m-1 0h0m-1 9h0m5 3h0m17-1h0m1 0h0m22 2h0m11 6h0m-23-2h0m-22 1h0m-7 0h0m-2 4h0m-3 13h0m7 1h0m6 0h0m5-2h0m3 1h0m0 3h0m3-2h0m0-1h0m13-4h0m5 3h0m1 6h0m-24 8h0m-3-4h0m-4-3h0m-3 0h0m-3 11h0m-2-9h0m-1 6h0m0 0h0m-2 3h0m7 2h0m3 1h0m10 0h0m8 19h0m-3-2h0m-2 0h0m-2-6h0m-10 1h0m-1 1h0m-8 2h0m0-2h0m-2 3h0m28 11h0" stroke="#AD98E2" stroke-width="3.8" stroke-linecap="round" fill="none"/><path d="M272 713h0m-16 19h0" stroke="#A08ADE" stroke-width="3.8" stroke-linecap="round" fill="none"/><path d="M316 669h0m-1-5h0m-2 0h0m0 6h0m-4-4h0m-1 2h0m-1 3h0m-1-3h0m-4 3h0m-2-2h0m-2 1h0m-2 0h0m-3 2h0m0 2h0m0 4h0m0-5h0m1 7h0m3-8h0m2 7h0m1-4h0m4 5h0m0 0h0m0-1h0m2-3h0m1 6h0m3-9h0m1 10h0m0-11h0m2 11h0m2-9h0m1 6h0m1-6h0m1 1h0m3 7h0m0 1h0m0-3h0m1-2h0m0-5h0m7 15h0m-1 1h0m0 1h0m-2-4h0m-1-2h0m-1 8h0m-1-1h0m-2-5h0m-2-2h0m-1 1h0m-1 1h0m-6 9h0m-3-10h0m-1 0h0m-2 8h0m-1-3h0m-4 3h0m-1-8h0m-1 4h0m-1 0h0m0 5h0m-1 1h0m-2-2h0m0-3h0m0 1h0m-1-5h0m-5 0h0m-1 1h0m-2 2h0m-1 1h0m-1-1h0m13 7h0m9 7h0m1-2h0m0-5h0m1 2h0m1 2h0m6-1h0m1 6h0m1-2h0m0-3h0m1 2h0m0 3h0m3-6h0m2 2h0m4-3h0m2 8h0m1-5h0m0-2h0m0 3h0m-1 7h0m-71 21h0m2-5h0" stroke="#8B78D3" stroke-width="3.8" stroke-linecap="round" fill="none"/><path d="M321 671h0m-4-3h0m-2 0h0m0 1h0m-1 2h0m0 0h0m-1-4h0m-1 4h0m0-5h0m-2 5h0m0-7h0m-2 5h0m-2-2h0m-1-3h0m-5 6h0m-1 0h0m0 0h0m0-2h0m-15 14h0m2 0h0m1-2h0m4-4h0m0 0h0m1 6h0m1-2h0m1-5h0m1 1h0m1 0h0m1 6h0m1-1h0m1-6h0m0 2h0m3 0h0m1 3h0m0-1h0m0-4h0m1 8h0m0-1h0m2-7h0m0-3h0m1 7h0m0-1h0m2-3h0m4 3h0m0-6h0m2 10h0m3 1h0m3-10h0m1-1h0m7 16h0m-1 6h0m0-6h0m-2-1h0m-1 6h0m-2-8h0m-1 2h0m0 2h0m-1 3h0m-2-6h0m-1 9h0m-5-10h0m-1-1h0m-4 10h0m-1 0h0m-1-3h0m-1-7h0m-2 6h0m-1-1h0m-1 0h0m-1 2h0m0-6h0m0 6h0m-1-2h0m-5-1h0m-1-4h0m-1 4h0m0 5h0m-2-8h0m-2 7h0m-1-2h0m-1 2h0m-1-4h0m0 6h0m-2-8h0m-1 7h0m-2 1h0m16 2h0m4 2h0m4 3h0m0-4h0m1 1h0m1 3h0m3-2h0m1 7h0m4-6h0m1 0h0m0-1h0m3 0h0m2 5h0m4-5h0m2-3h0m2 3h0m1 0h0m1 2h0m0 11h0m0 0h0m-4-2h0m-1 2h0m0-3h0" stroke="#7765C8" stroke-width="3.8" stroke-linecap="round" fill="none"/><path d="M321 671h0m-2-4h0m-4 4h0m-1-1h0m-1 1h0m0-4h0m-2-4h0m0 3h0m-1-2h0m-1 2h0m-2-1h0m-2-1h0m0 3h0m-4 1h0m-3 0h0m-9 14h0m1-5h0m1-1h0m1 7h0m1-9h0m1 7h0m0-1h0m1-4h0m0 1h0m2 4h0m4 0h0m0-4h0m0-3h0m2 7h0m1-1h0m1-8h0m1 8h0m2 3h0m0-9h0m3 3h0m4-2h0m1-2h0m0 4h0m1 6h0m0-7h0m1 6h0m1-9h0m1 9h0m0-6h0m1 1h0m2 6h0m0-4h0m1 3h0m0 1h0m0-3h0m4 15h0m0-2h0m0 1h0m-1-1h0m0 1h0m-3-6h0m0 1h0m0 2h0m-2-1h0m-1 2h0m0 0h0m-1-5h0m-1 6h0m-1 1h0m0 0h0m-1-10h0m-1 9h0m-2 2h0m-5-2h0m0 1h0m-1-2h0m-7-2h0m0 1h0m-3-7h0m0 5h0m-1-2h0m-4 1h0m0-3h0m-2 3h0m0 1h0m-1 0h0m-2-4h0m0 0h0m-1 0h0m-2 0h0m-5 9h0m-8 2h0m30 3h0m0-2h0m4 3h0m0 0h0m3 0h0m1 4h0m1-1h0m6-4h0m0-1h0m1 8h0m0-1h0m4-2h0m0 2h0m1-3h0m5-5h0m0 7h0m3 8h0m-2-4h0m-4 2h0m-7 0h0" stroke="#6253BD" stroke-width="3.8" stroke-linecap="round" fill="none"/><path d="M244 659h0m1-2h0m1 2h0m1-1h0m0-3h0m1 4h0m2 0h0m0-2h0m3 1h0m1-3h0m0 2h0m2 0h0m1-1h0m0 1h0m1 2h0m1-2h0m0 2h0m4 6h0m-2-3h0m-1 0h0m0 3h0m-1-1h0m0-2h0m-1 7h0m0-1h0m-1 0h0m0 3h0m-1-10h0m0 9h0m-1-5h0m0-4h0m-1 10h0m-1-5h0m0-6h0m-1 5h0m-2 4h0m0-4h0m-1 0h0m-1-4h0m0 5h0m0 3h0m-1 0h0m0 2h0m-1-7h0m0-3h0m0 6h0m-1-7h0m0 0h0m0 0h0m-17 11h0m-3-2h0m0 1h0m-6 11h0m2-1h0m1-4h0m0 4h0m2-3h0m2-3h0m1-1h0m1 2h0m1-3h0m0 0h0m4 9h0m2-3h0m1 2h0m0-6h0m2 1h0m7-2h0m0 0h0m0 5h0m1 1h0m1-6h0m2 5h0m3 1h0m1-1h0m0 0h0m1 2h0m1 0h0m2-2h0m0-2h0m1 3h0m3-7h0m-15 16h0m-2 2h0m-2-3h0m-2 0h0m-4-2h0m-1 8h0m-1 1h0m0-5h0m-1 4h0m0-1h0m0-4h0m0 3h0m0 4h0m0-11h0m-1 11h0m-1-5h0m-1-4h0m0 2h0m0 1h0m-1-5h0m-2 5h0m-1 4h0m0 2h0m0 0h0m-1 0h0m-1-4h0m-2 2h0m-3-9h0m-5 20h0m1 1h0m0 0h0m0 1h0m1 1h0m0-4h0m2 2h0m0 1h0m1-8h0m1 4h0m0 3h0m1-4h0m0 6h0m0-2h0m1 0h0m1 0h0m0-2h0m0 0h0m5-2h0m2 0h0m0-4h0m1-1h0m0 7h0m0-3h0m1 0h0m0 3h0m0-5h0m1 3h0m3 3h0m0-5h0m0 0h0m0 4h0m2-4h0m0-3h0m0 1h0m0 1h0m0 1h0m1 6h0m0-6h0m1 2h0m0-3h0m1 6h0m3 0h0m1 1h0m0-1h0m1-4h0m15 3h0m1 0h0m13 4h0m-21 8h0m-3-6h0m-6 7h0m-1-8h0m-2 4h0m0-1h0m0 1h0m-1 5h0m-1 0h0m-2-3h0m-1 5h0m0-3h0m0-3h0m-1 5h0m0 1h0m-2-5h0m0-6h0m0 11h0m0-8h0m-1 3h0m0-6h0m-1 6h0m0 0h0m-2-4h0m0 3h0m-1 0h0m0-1h0m0 7h0m0 0h0m0-3h0m-2-8h0m0 0h0m-1 1h0m-3 2h0m-1 5h0m0-4h0m-1-3h0m-1 8h0m-1-3h0m0-4h0m0 5h0m0-4h0m0 8h0m-1-2h0m-2-4h0m0 2h0m-1 0h0m0-7h0m-1 3h0m-1-2h0m2 19h0m0 1h0m1-2h0m0 1h0m0 0h0m1 3h0m0-9h0m1 9h0m1-8h0m0-3h0m1 0h0m0 1h0m1 7h0m0 2h0m1 0h0m1-8h0m6 8h0m0-9h0m1 6h0m0-1h0m1-3h0m1 5h0m1-2h0m1 5h0m1-3h0m0-6h0m1 0h0m1 3h0m0-4h0m2 1h0m2 7h0m2 2h0m0-1h0m0 0h0m0 1h0m1-4h0m1-2h0m0 4h0m0-3h0m1-3h0m1 0h0m0-1h0m10 9h0m1-1h0m1-5h0m2 4h0m0-6h0m-19 13h0m-4 7h0m-2-5h0m0-2h0m-1-3h0m-1 5h0m0-3h0m-1 2h0m-2-4h0m0-1h0m-1 2h0m-1 4h0m-2 2h0m0-1h0m-1-4h0m-2 4h0m0 3h0m-2-6h0m-1 6h0m-1-3h0m0 0h0m-1-1h0m0-6h0m0 3h0m-1-2h0m-1 8h0m0 0h0m-1-5h0m0 7h0m-1-10h0m0 10h0m0-6h0m-1 0h0m0 1h0m-1 2h0m-1 1h0m1 6h0m0 1h0m2-2h0m1 3h0m3-1h0m1 7h0m1-7h0m1 6h0m0-7h0m1 1h0m0-2h0m2 0h0m0 0h0m1 4h0m2-2h0m1 7h0m0-7h0m2 2h0m0-2h0m0 4h0m0-3h0m0 4h0m1 0h0m4 1h0m2-9h0m0 4h0m1 1h0m0 0h0m1-5h0m0 10h0m1-6h0m4 17h0m-1-7h0m-1-1h0m-5 8h0m-2-1h0m-1-4h0m0 4h0m-2-9h0m-1 9h0m-2 1h0m-1-6h0m0-4h0m0 1h0m0 3h0m-1 1h0m-1-5h0m0 4h0m-1 3h0m-1-6h0m0 1h0m-3 6h0m-1-8h0m-1 6h0m-1 2h0m0 3h0m-1-2h0m0-2h0m0-3h0m-3 0h0m-2-2h0m6 10h0m2 2h0m0-2h0m6 3h0m1 1h0m1-2h0m0 1h0m1 1h0m1 1h0m1 0h0m0 1h0m0-6h0m5 5h0m0 3h0m3-4h0m1 2h0m0-4h0m0 5h0m1-1h0m0-6h0m3 1h0" stroke="#D3D3D3" stroke-width="3.8" stroke-linecap="round" fill="none"/><path d="M252 656h0m5 1h0m0-1h0m6 10h0m-7-1h0m-7-5h0m-25 8h0m6 5h0m16 5h0m0 0h0m0-6h0m0 2h0m1 2h0m2 2h0m0-2h0m3 2h0m1-1h0m2 1h0m2-1h0m3-5h0m-11 12h0m-8 3h0m-8 8h0m-2-10h0m-3 1h0m-4 9h0m-5-6h0m-5 14h0m0 3h0m2-2h0m8-1h0m1-7h0m5 6h0m1 2h0m8-6h0m28 1h0m-1 20h0m-7-9h0m-6-2h0m-2 9h0m-1-7h0m0 3h0m-15 0h0m-1 3h0m-1 0h0m-3 1h0m-1 1h0m-1-10h0m-13 18h0m2 4h0m4 1h0m1-5h0m2-6h0m5 6h0m4 4h0m0-6h0m1 5h0m3-8h0m3 6h0m4-6h0m10 1h0m4 3h0m3 3h0m-24 10h0m-3 1h0m-11-6h0m-2 0h0m-5 6h0m-1 4h0m-1-3h0m-1 13h0m4 2h0m10-8h0m4 2h0m0-1h0m1 4h0m4-6h0m4 2h0m3 12h0m-4-1h0m-3 7h0m-1 0h0m0-9h0m0-1h0m-1 2h0m-1 7h0m-2-6h0m-2 7h0m0-7h0m-1 1h0m0 6h0m-1-3h0m-2-2h0m0-1h0m-7-4h0m-1 7h0m6 8h0m3 0h0m2-3h0m3 0h0m8 4h0m2 1h0" stroke="#C7B5EA" stroke-width="3.8" stroke-linecap="round" fill="none"/><path d="M248 654h0m1 1h0m2 2h0m1 1h0m4-2h0m1 1h0m5 6h0m-5-1h0m-1 0h0m-5 6h0m-1-3h0m-22 6h0m-3-1h0m-6 13h0m2-4h0m1-3h0m9-1h0m0 3h0m1 4h0m1-8h0m4 6h0m10-2h0m0-1h0m0 1h0m3-2h0m2 1h0m2-5h0m3 0h0m-19 23h0m-2 0h0m-1-7h0m-5-1h0m-12 3h0m0 2h0m-4 15h0m2-6h0m1-2h0m3 0h0m0 3h0m3 1h0m6-7h0m3 0h0m1 7h0m3-3h0m4 4h0m33 10h0m-22-4h0m-2 0h0m-4-2h0m-11 3h0m0-2h0m-1 6h0m0-3h0m-4-4h0m0 9h0m-2 0h0m-7-5h0m-3 7h0m-4 7h0m1-2h0m5 1h0m4-2h0m7 4h0m3-4h0m1 8h0m1-9h0m5 3h0m4-4h0m1 1h0m1 5h0m11 2h0m1-4h0m3 5h0m-28 4h0m0-2h0m-3 8h0m-1-1h0m0-3h0m-1 3h0m-6-4h0m0 6h0m-1 1h0m-1-1h0m0-9h0m-7 14h0m6 3h0m1 0h0m4-1h0m7 0h0m1 6h0m2-6h0m0-1h0m0-2h0m1 8h0m4-8h0m2 7h0m-4 12h0m-3 2h0m-1-4h0m-13-1h0m-2-5h0m-2 1h0m-1 3h0m12 12h0m11 0h0m5 3h0m3-2h0" stroke="#BAA7E6" stroke-width="3.8" stroke-linecap="round" fill="none"/><path d="M250 658h0m3-4h0m2 3h0m0-2h0m6 16h0m-1-7h0m-1 6h0m-3-2h0m-3 0h0m-5-8h0m0 3h0m-2 7h0m-24 11h0m5-2h0m1-4h0m22 2h0m2-3h0m1-2h0m4 8h0m1-8h0m-30 31h0m7-4h0m5 0h0m-6 16h0m-2-3h0m-2 3h0m-7-1h0m-6 13h0m4 0h0m13 3h0m5-7h0m16 0h0m5 6h0m2-7h0m-25 16h0m-2-3h0m0 4h0m-3 2h0m-1-7h0m-10 20h0m6-3h0m1-4h0m4 1h0m3 10h0m-3 15h0" stroke="#AD98E2" stroke-width="3.8" stroke-linecap="round" fill="none"/><path d="M273 711h0m-1 3h0m-16 17h0m2-1h0m1-6h0m0 3h0m5-4h0m-7 9h0" stroke="#A08ADE" stroke-width="3.8" stroke-linecap="round" fill="none"/><path d="M315 671h0m-2-6h0m-1 0h0m-1 6h0m-3-7h0m-2 6h0m-2 0h0m-1-2h0m-1 3h0m0 0h0m-2-3h0m-2 0h0m-13 15h0m3-5h0m1 1h0m6 4h0m1-4h0m0-5h0m4 7h0m0-4h0m0-2h0m0 3h0m0 2h0m3-5h0m1 3h0m0-2h0m1-4h0m1 0h0m1 4h0m1-2h0m1 3h0m1 0h0m1-4h0m2 3h0m2 3h0m1 0h0m2 2h0m0-7h0m1 8h0m0-7h0m2 7h0m0-10h0m7 19h0m-2-6h0m0 4h0m0 4h0m-1-5h0m-2 2h0m0-6h0m0 1h0m-1 7h0m-2-8h0m-2 0h0m0 9h0m0 2h0m-1-1h0m0 1h0m-1 0h0m-1-10h0m-1 10h0m-5-4h0m-1 4h0m-2-2h0m-1-9h0m-5 5h0m0-3h0m-1 5h0m0-1h0m0 2h0m-1-8h0m-2 8h0m-2 1h0m-1-4h0m-1 4h0m0-7h0m-3 1h0m0-2h0m0 4h0m-1 5h0m-1-6h0m-1 3h0m-8 7h0m22 0h0m7 6h0m2-3h0m0 0h0m1-3h0m0 2h0m1 5h0m2-1h0m0-2h0m3-1h0m2-1h0m2-1h0m0 4h0m1 3h0m1-9h0m1 3h0m0 3h0m0 0h0m1 0h0m2-7h0m1 1h0m0 8h0m0-1h0m1-3h0m2-2h0m0 12h0m-2 3h0m-4-5h0m-1 2h0" stroke="#8B78D3" stroke-width="3.8" stroke-linecap="round" fill="none"/><path d="M319 669h0m-8-1h0m-1 0h0m-1-1h0m0-3h0m-1 0h0m-5 3h0m0-2h0m0 5h0m-1-2h0m-1 1h0m-2 2h0m-2-1h0m-1-1h0m-1 0h0m-3 5h0m1 1h0m0 1h0m1-4h0m1 8h0m1-4h0m1 0h0m3-3h0m0 6h0m0-4h0m0 1h0m1 1h0m1 0h0m3 2h0m1 3h0m1 1h0m1-4h0m0-7h0m1 0h0m2 1h0m0 5h0m2-2h0m0 5h0m1-3h0m1-2h0m1 5h0m0-3h0m2-3h0m0-1h0m0-1h0m1 8h0m1-4h0m2 6h0m0-6h0m2 3h0m1 2h0m0-2h0m1 6h0m-1 0h0m0 0h0m0-1h0m-3 4h0m-4 6h0m-3-11h0m-1 1h0m-2 10h0m-4-2h0m-6-6h0m-1 2h0m-1 3h0m-2-8h0m-1 3h0m0 1h0m-2 7h0m-3-6h0m0-5h0m0 11h0m-2-2h0m-1-9h0m-2 6h0m-1 0h0m0-6h0m-2 8h0m0-3h0m-6 11h0m8-2h0m1-2h0m13 1h0m2-1h0m1 0h0m0 3h0m1 0h0m5 4h0m6-2h0m0 3h0m1-2h0m0-2h0m2-1h0m1 0h0m0-1h0m0 2h0m2-3h0m1-1h0m0 1h0m0 4h0m1-1h0m1 4h0m2 3h0m1-10h0m0 9h0m1-5h0m1-3h0m3 14h0m-5 2h0m0 0h0m-1 0h0m-12 26h0" stroke="#7765C8" stroke-width="3.8" stroke-linecap="round" fill="none"/><path d="M317 669h0m0-4h0m-1 1h0m-8 0h0m0 4h0m-1-6h0m-2 1h0m0 3h0m-1-1h0m-2 4h0m0 0h0m-6-2h0m-35-9h0m24 21h0m1 0h0m7-2h0m1-2h0m2 5h0m1-8h0m0 2h0m3 2h0m2 0h0m1 3h0m1-6h0m2 6h0m1-3h0m0-4h0m1-2h0m0 5h0m2 4h0m0 0h0m1-8h0m1 10h0m0-2h0m0-9h0m1 2h0m3 4h0m1-6h0m0 4h0m3 0h0m1-4h0m0 10h0m2-2h0m7 13h0m-1-1h0m0 0h0m-3-4h0m-1 1h0m-1 1h0m-1 2h0m0-8h0m-1 1h0m-1 6h0m-2-7h0m-2 9h0m-2-5h0m-3-2h0m-6 8h0m-6-3h0m0 2h0m0 2h0m-1-8h0m0 4h0m-1 2h0m-1 0h0m-3 2h0m-1-2h0m0-5h0m-2 0h0m0 5h0m-1-2h0m0 2h0m-4-1h0m-1-3h0m0 5h0m-2-6h0m0 1h0m-8 16h0m13-8h0m14 1h0m5 6h0m9 1h0m0-4h0m4 4h0m1-6h0m2 1h0m0 6h0m1-7h0m0-2h0m0 10h0m3-3h0m1-1h0m1-5h0m3 14h0m-8-4h0m-7 0h0" stroke="#6253BD" stroke-width="3.8" stroke-linecap="round" fill="none"/><path d="M198.3 639.9V790.4H344.0" fill="none" stroke="#111" stroke-width="1.5"/><path d="M461 659h0m2 0h0m0-4h0m1 2h0m0 2h0m0-1h0m0-2h0m2 2h0m0-3h0m4 4h0m68 11h0m-4-5h0m-1 3h0m0 2h0m0-1h0m-1 0h0m0 2h0m-1 0h0m-1-6h0m0 4h0m0-1h0m0-1h0m-1 3h0m-1-2h0m-1 3h0m0-6h0m0-1h0m0 2h0m-2 0h0m0 4h0m0-1h0m-1 2h0m-1 0h0m0-4h0m0-2h0m-1 3h0m0-4h0m-1 6h0m0-6h0m0 3h0m-1-2h0m0 3h0m0 2h0m-1 0h0m0-2h0m-1 3h0m-1-1h0m-1 0h0m0 0h0m-1-2h0m-1 2h0m0 0h0m-1 0h0m0-2h0m0 1h0m-1 1h0m-1 0h0m-42-10h0m-1 10h0m0-9h0m-2 2h0m0 1h0m-2 5h0m-1-8h0m0 9h0m-2-10h0m-15 9h0m-1 0h0m0 2h0m-3-1h0m-1 0h0m-6 12h0m1-1h0m1 0h0m0 1h0m0-6h0m1-1h0m0 0h0m0 5h0m1 1h0m0-1h0m1 1h0m1 0h0m1-9h0m0 4h0m1 0h0m1 1h0m0-3h0m0 8h0m1-8h0m3 4h0m1 4h0m0-5h0m1 4h0m2-3h0m7 4h0m3-4h0m1 0h0m1-1h0m0-1h0m1-1h0m1-2h0m0 2h0m0 3h0m0-2h0m4-4h0m31 10h0m2 0h0m1-2h0m1 2h0m0-2h0m1 2h0m1-5h0m2 6h0m1-11h0m0 0h0m0 7h0m1 3h0m0-5h0m0 3h0m1 0h0m0-4h0m0 1h0m1-3h0m0 0h0m1 7h0m1-2h0m1-6h0m0 4h0m0 2h0m0-1h0m1-5h0m0 4h0m0 1h0m1-1h0m0-3h0m1 7h0m0-6h0m1 4h0m1 1h0m0 0h0m0 3h0m0-4h0m0-6h0m1 7h0m0-8h0m0 0h0m0 0h0m1 8h0m0 2h0m0-3h0m0-3h0m1 2h0m0-4h0m0 0h0m1 5h0m0-5h0m0 1h0m0 2h0m2-2h0m1-2h0m0-1h0m1 9h0m0-5h0m0 0h0m0-4h0m0 0h0m1 11h0m0-6h0m0-5h0m2 1h0m0 3h0m0 2h0m0-4h0m1 6h0m0-3h0m0 1h0m1-4h0m0-2h0m0 4h0m0-4h0m1 1h0m0 0h0m0-1h0m1 1h0m2 5h0m0-6h0m0 10h0m0-2h0m1-2h0m0-6h0m1 10h0m0-2h0m2 3h0m5 10h0m-2-1h0m0-4h0m-1-1h0m0 6h0m0 0h0m0-3h0m-1-3h0m0-2h0m-1-1h0m0 1h0m0 8h0m-1-2h0m0 1h0m0-3h0m0-1h0m-1 2h0m0 3h0m0-9h0m0 0h0m-1 0h0m0 5h0m-1-2h0m0 2h0m0 2h0m-1-4h0m-1 0h0m-1-3h0m0 0h0m-1 8h0m0-7h0m0-1h0m-1 9h0m-1-5h0m-1-3h0m0 10h0m-2-11h0m0 9h0m-4-8h0m0 7h0m0 2h0m-2-1h0m-1-9h0m-2 10h0m-2-4h0m0 3h0m-1-2h0m0 1h0m0-6h0m0 5h0m-1-7h0m0 6h0m0-1h0m-1-5h0m0 9h0m-1-7h0m0 1h0m0 6h0m0-2h0m0-3h0m-1-2h0m0 8h0m-2-2h0m0-4h0m-1 0h0m0 7h0m0-6h0m0-5h0m-1 8h0m0-3h0m0 4h0m0-8h0m0 10h0m-2-4h0m-1-5h0m0 3h0m0 2h0m0 0h0m0-7h0m0 1h0m-1 5h0m0 1h0m0 3h0m-1 1h0m0-5h0m0 0h0m0-1h0m-1 3h0m0 0h0m-1-3h0m0-4h0m-1 0h0m-1-1h0m-1 5h0m-33-5h0m-4 3h0m-2 4h0m-1-3h0m-1 2h0m-1 4h0m0-7h0m-1 8h0m-1 0h0m-1-2h0m-2-6h0m0 6h0m0 1h0m-1-3h0m0-4h0m0 7h0m-1-2h0m0-4h0m0-4h0m-1 3h0m0 8h0m0 0h0m0-6h0m-2 2h0m0 3h0m0 0h0m0-5h0m-2-3h0m-1 2h0m-1 1h0m0 6h0m-1-8h0m-1 0h0m0 8h0m-1-7h0m0-1h0m-1 6h0m-1-3h0m0 2h0m0-3h0m-2 6h0m-1-5h0m0 2h0m-6 15h0m1-7h0m1 6h0m0-3h0m1 2h0m1 2h0m0-4h0m1-2h0m0-2h0m0 1h0m0 7h0m1-2h0m0-5h0m1 2h0m0 5h0m1-2h0m1 0h0m1 2h0m0-4h0m1 2h0m0-2h0m1 1h0m1-8h0m1 8h0m0 1h0m1 0h0m0-3h0m1-6h0m1 9h0m0-7h0m0 4h0m0-1h0m1 0h0m0-1h0m0 0h0m0-1h0m0-2h0m1 9h0m0-7h0m0 4h0m0-5h0m0-2h0m1 2h0m0 1h0m0 7h0m0-9h0m0 6h0m0-2h0m0-4h0m2 9h0m0 1h0m1-8h0m0 2h0m1-1h0m0 4h0m0-5h0m2 1h0m0-4h0m0 1h0m0 4h0m0-2h0m1 2h0m0-3h0m0 0h0m1 6h0m4 2h0m0 1h0m1-2h0m1-8h0m7 4h0m8 1h0m1 5h0m2-6h0m2-2h0m1 0h0m0 0h0m5 8h0m6-8h0m8-1h0m8-2h0m4 1h0m2 0h0m0 0h0m2-1h0m0 3h0m0 0h0m1 2h0m2-5h0m1 5h0m1-3h0m0 6h0m0-8h0m1 10h0m1-7h0m0 5h0m0-4h0m0 5h0m0-5h0m1 2h0m4 0h0m1-2h0m0 1h0m0 3h0m1-5h0m0-1h0m2 8h0m0-1h0m1-2h0m0 2h0m1-6h0m0 7h0m1-5h0m0-2h0m1 3h0m0-3h0m0 4h0m0-7h0m0 10h0m1-3h0m0 3h0m1-7h0m0 4h0m0-4h0m0 8h0m1-11h0m1 1h0m1 2h0m0 2h0m0-4h0m0 6h0m0 1h0m0 2h0m0 0h0m1-7h0m0 0h0m0 2h0m1-2h0m0 1h0m0-2h0m3 13h0m-2 1h0m0 0h0m-4-2h0m0 3h0m0 1h0m-1-1h0m0-3h0m-1 2h0m0-4h0m-4 0h0m-48 3h0m-1 0h0m-12 0h0m-1-1h0m-4 5h0m-2-5h0m0-2h0m0 10h0m-1-4h0m-1-1h0m0-4h0m0 2h0m0 5h0m-1 2h0m0-8h0m-5 0h0m0-2h0m-1 5h0m-1 5h0m-1-1h0m-1-4h0m-1-3h0m-2 5h0m0-3h0m-1 7h0m-1-1h0m0 1h0m-1 0h0m0 0h0m0-8h0m-1-2h0m0 8h0m0 0h0m-1-7h0m0 2h0m0-4h0m0 4h0m0 6h0m-2-8h0m-1 2h0m0 2h0m0 4h0m0 1h0m0 0h0m0-6h0m-1-5h0m0 10h0m-1-10h0m0 9h0m-1 0h0m0-9h0m-1 0h0m-1 1h0m-1 4h0m0 5h0m0-8h0m-1 4h0m0-2h0m0-3h0m-1 0h0m0 0h0m0 0h0m0-1h0m-2 2h0m0 4h0m0 5h0m-1-7h0m0 2h0m0-5h0m-1 2h0m0-2h0m-1 10h0m-1-6h0m0-2h0m-1 1h0m0-1h0m-1 6h0m-1 13h0m0 0h0m0 0h0m1 1h0m0-1h0m1 0h0m1-2h0m0-1h0m1 1h0m2-4h0m1 1h0m0-4h0m0-1h0m0 2h0m1 6h0m0-7h0m0 0h0m1 7h0m1 2h0m0-3h0m0-5h0m0 3h0m2 3h0m1 1h0m1-3h0m0-5h0m1 9h0m0-5h0m1-4h0m0-1h0m1 9h0m0 0h0m0 1h0m4 0h0m1-4h0m0 5h0m0 0h0m0-3h0m1-6h0m0 0h0m1 0h0m0-1h0m0 0h0m0 1h0m1 6h0m0-2h0m0-5h0m1 4h0m0-3h0m0-2h0m1 7h0m1 0h0m1-2h0m1 3h0m0 2h0m1-5h0m0 1h0m1-5h0m1 1h0m1 2h0m10 7h0m0-1h0m0-7h0m1 2h0m0 0h0m1 4h0m0 1h0m0-5h0m1-1h0m0 4h0m1 1h0m0 0h0m2-7h0m36 8h0m1-10h0m-42 12h0m0 0h0m-1 0h0m-18 11h0m0-11h0m0 6h0m-3 0h0m0 1h0m0-5h0m-1 4h0m0-5h0m-1-1h0m-1 0h0m-1 9h0m0-7h0m0-2h0m-1 2h0m-1 3h0m0 2h0m-1 2h0m0-2h0m0-2h0m-1-5h0m-1 11h0m0-3h0m0-6h0m-1 2h0m0 5h0m-1 1h0m-1-3h0m0 3h0m-1-6h0m0 0h0m-1 5h0m0 1h0m-1 1h0m0-3h0m-1-2h0m0 4h0m0-10h0m-1 10h0m-1-1h0m0-4h0m-1 4h0m0 2h0m-1 0h0m-1-10h0m0 3h0m-2 3h0m0 9h0m1-2h0m0 6h0m0 1h0m1-3h0m1-6h0m0 6h0m0 5h0m2-8h0m0 6h0m0-2h0m1 1h0m1 3h0m0-7h0m2 1h0m1 4h0m0-8h0m1 3h0m1-4h0m1 2h0m0 5h0m2 2h0m0-9h0m0 4h0m1 7h0m0-7h0m3 1h0m1 5h0m0 0h0m2-9h0m0 10h0m1-8h0m4 3h0m2-3h0m0 1h0m3 17h0m-1 2h0m0-7h0m-1 1h0m-1-4h0m0 2h0m0 0h0m-2-2h0m0 2h0m-2 7h0m-1 0h0m0-1h0m-1 2h0m0-2h0m0-6h0m0-1h0m-1 0h0m0 7h0m0-9h0m-1 10h0m-1-8h0m-1 1h0m0 6h0m-1-3h0m0 1h0m-1 1h0m0 2h0m0-6h0m0-4h0m0 5h0m0 5h0m0-9h0m-1 2h0m-1 7h0m-1-8h0m0-1h0m0 2h0m-1 2h0m0 0h0m0-2h0m0-2h0m0 3h0m-1 1h0m-1 2h0m-1-2h0m0 5h0m-1-2h0m0-5h0m-1 3h0m0-1h0m-1 3h0m0 3h0m-1-11h0m0 8h0m0-8h0m0 9h0m0-6h0m-1 1h0m0 3h0m0 0h0m0-7h0m0 0h0m-1 6h0m0-5h0m0 5h0m0 0h0m-2-1h0m-1-3h0m11 13h0m0-2h0m4 0h0m0 3h0m0-1h0m1-1h0m0 0h0m1-2h0m1 4h0m0-1h0m0 2h0m0 1h0m1-4h0m0 0h0m0 5h0m1-3h0m1 3h0m3 0h0m0 1h0m1-5h0m1 0h0m0-2h0m0 4h0m1 2h0m1-4h0m0-2h0m0 1h0m1-2h0m0 5h0m0 2h0m0-1h0m1 1h0m1-2h0m0-5h0" stroke="#D3D3D3" stroke-width="3.8" stroke-linecap="round" fill="none"/><path d="M468 668h0m0-6h0m-1 6h0m-6-8h0m4 16h0m37 7h0m11-4h0m-9 5h0m-7 10h0m-59 13h0m88-6h0m20 7h0m-58 5h0m-53 3h0m-5 13h0m6-4h0m2-3h0m24 5h0m0 0h0m9-4h0m-19 15h0m-10 4h0m-6-2h0m-7 1h0m1 7h0m10-2h0m8 2h0" stroke="#C7B5EA" stroke-width="3.8" stroke-linecap="round" fill="none"/><path d="M516 670h0m-77 10h0m8-6h0m18 2h0m68 5h0m7 11h0m-88 3h0m-16 3h0m1 3h0m42 2h0m45-7h0m2 2h0m13 5h0m10 9h0m-98 2h0m-13 17h0m1-4h0m3 2h0m15-2h0m74 13h0m-76-4h0m-8-3h0m-6 4h0m-4 1h0m-8-1h0m9 10h0m2 1h0m6 7h0m-8 8h0m14 12h0m4-4h0" stroke="#BAA7E6" stroke-width="3.8" stroke-linecap="round" fill="none"/><path d="M467 658h0m1 0h0m1 0h0m-6 11h0m1 12h0m2-9h0m3 5h0m55 6h0m11 10h0m-92-2h0m21 12h0m-13 24h0m4 0h0m-6 8h0m-13 4h0m3 5h0m8 2h0m10 3h0" stroke="#AD98E2" stroke-width="3.8" stroke-linecap="round" fill="none"/><path d="M463 657h0m1-3h0m14 13h0m-9-1h0m-1-6h0m-1 5h0m-5-5h0m3 17h0m1 0h0m0 2h0" stroke="#A08ADE" stroke-width="3.8" stroke-linecap="round" fill="none"/><path d="M463 659h0m3 0h0m6-2h0m4 2h0m0 0h0m3 11h0m-2-5h0m0-1h0m-2 7h0m-1-3h0m0-4h0m0 7h0m-1-6h0m-2-2h0m-1 2h0m-3 4h0m-5-9h0m2 18h0m6-5h0m0 5h0m2-4h0m3-2h0m0 7h0m2-6h0m0-1h0m1 0h0" stroke="#8B78D3" stroke-width="3.8" stroke-linecap="round" fill="none"/><path d="M474 659h0m0-1h0m0-1h0m6 8h0m0 6h0m-1 0h0m-3-4h0m0 4h0m0-6h0m-1 3h0m0 3h0m-1-9h0m0 6h0m-3-4h0m0-3h0m-1 5h0m0 6h0m8 0h0m0 1h0" stroke="#7765C8" stroke-width="3.8" stroke-linecap="round" fill="none"/><path d="M470 658h0m4-2h0m1 2h0m1-1h0m4 10h0m-3-3h0m0-3h0m0 10h0m-1-9h0m0 8h0m0-8h0m-2 0h0m-1 6h0m-2 1h0m-1-1h0m0 10h0m3 2h0m1-5h0m3-3h0" stroke="#6253BD" stroke-width="3.8" stroke-linecap="round" fill="none"/><path d="M461 659h0m1-1h0m1 0h0m1 0h0m3 1h0m1-1h0m0-1h0m1 1h0m0-3h0m8 2h0m61 14h0m-3-2h0m-2-3h0m0 2h0m-1 0h0m0-2h0m0-2h0m-1 7h0m-1-2h0m0 1h0m0 1h0m0-4h0m-1-2h0m0 0h0m0 1h0m-1 4h0m0-5h0m-1 0h0m0-1h0m0 7h0m0-3h0m-2 1h0m0-6h0m-1 5h0m0-2h0m0-2h0m-1 4h0m0 2h0m-1-5h0m0-1h0m0 2h0m-2 1h0m-1 4h0m0 0h0m-2-4h0m0 1h0m0 1h0m0 0h0m-2-1h0m-3 1h0m-27 2h0m-16-3h0m-1-3h0m-1-4h0m0 0h0m-1 4h0m0-5h0m0 5h0m-1-4h0m-1 2h0m-1 4h0m0 3h0m-1-5h0m-17 5h0m0 1h0m-2-3h0m-1 0h0m0 0h0m0 2h0m-1 0h0m0-1h0m0 0h0m0 2h0m0-5h0m-1 2h0m0 1h0m0 2h0m-4 12h0m1-1h0m1-3h0m1-3h0m0 1h0m1 4h0m1-2h0m1-2h0m0-3h0m1 6h0m0-1h0m0-2h0m1-5h0m0 9h0m0-9h0m1 2h0m2-2h0m2 11h0m0-8h0m0-1h0m0 8h0m0-6h0m0 2h0m2 1h0m0-1h0m0 3h0m2-8h0m0 1h0m1 1h0m7 6h0m1-8h0m0 5h0m1 1h0m0 1h0m1-8h0m1 3h0m1-3h0m0 4h0m0 2h0m2-3h0m0-1h0m0 4h0m0 0h0m2 0h0m32 3h0m3 1h0m1 0h0m1-6h0m1 0h0m0-2h0m1 0h0m0 8h0m1-1h0m0-2h0m0 1h0m2-4h0m1 5h0m0-9h0m0 4h0m1 6h0m0-7h0m0 0h0m1 3h0m0-3h0m0 0h0m1 0h0m0-2h0m0 5h0m0-2h0m1 5h0m0-4h0m0-2h0m0 1h0m0 2h0m1 3h0m0-4h0m1 3h0m0-1h0m0-4h0m0 3h0m1 4h0m0-7h0m1 5h0m0-2h0m0-6h0m0 4h0m1 7h0m1-2h0m0-3h0m0-1h0m0-2h0m1 7h0m0-3h0m0-7h0m0 0h0m1 2h0m0-2h0m1 5h0m0 2h0m1 2h0m0-4h0m1 5h0m0-9h0m0 0h0m1 10h0m1-7h0m1 6h0m1-3h0m0-4h0m1 4h0m0-3h0m0 3h0m1-5h0m0 1h0m1 8h0m0-1h0m0-7h0m0-1h0m1 8h0m0-7h0m0 6h0m0 1h0m1 0h0m0-2h0m0 2h0m0-1h0m0-5h0m1-3h0m0 5h0m0-6h0m0 11h0m1-3h0m1 0h0m0 0h0m1 0h0m1 2h0m4 10h0m-1 2h0m0-5h0m-1 2h0m0 3h0m0-2h0m-1-5h0m0 1h0m0-4h0m0 3h0m-1-2h0m0 10h0m0-9h0m0 2h0m-1 0h0m-1-3h0m-1 7h0m0 0h0m0-1h0m0-3h0m0 5h0m0-8h0m0 6h0m0-2h0m-1 1h0m-1-6h0m-1 5h0m0-4h0m-1 9h0m0 1h0m0 0h0m-1-1h0m0 0h0m0 1h0m-1-10h0m-1-1h0m0 5h0m-1 4h0m0-8h0m0 10h0m-1-10h0m0 10h0m-1-10h0m-1 0h0m0 7h0m-2-8h0m0 10h0m0-1h0m-1 2h0m0-1h0m0-1h0m-1-8h0m0 9h0m-1-3h0m0 4h0m0 0h0m-3-5h0m-2 0h0m0-1h0m-1 2h0m0 2h0m0 2h0m0-4h0m-1 0h0m0-6h0m0 5h0m-1-6h0m0 3h0m-2 1h0m0 4h0m-2 3h0m-1-11h0m0 6h0m0-6h0m0 9h0m-1-7h0m0 2h0m-1 0h0m0 5h0m0 0h0m-1-2h0m0-2h0m-1-4h0m0 4h0m0 4h0m0-1h0m-1 3h0m0-3h0m0-6h0m0 0h0m0 9h0m-1-10h0m0 2h0m0-3h0m-1 7h0m0-3h0m-1 0h0m0-4h0m-1 8h0m-2-4h0m-36 7h0m0-7h0m0 3h0m-1-4h0m-1 5h0m0-1h0m0-1h0m-1 1h0m-2-4h0m-1 8h0m-1-8h0m-1-2h0m-2 5h0m0 5h0m0-10h0m-2 10h0m-1-6h0m0 2h0m0 4h0m-1-2h0m0 1h0m0 0h0m0-6h0m-1 7h0m0-10h0m-1 9h0m0-8h0m0-1h0m-1 1h0m-1 5h0m0 2h0m-1-4h0m0-2h0m0 7h0m-1-1h0m0-7h0m-1 9h0m-1-8h0m0 4h0m-1-1h0m0-4h0m-1 2h0m-1-4h0m0 1h0m-2-1h0m-1 5h0m0 1h0m-3 2h0m-1 14h0m0-5h0m0 5h0m0-3h0m1-5h0m0 7h0m0 1h0m1-2h0m1-1h0m0 1h0m0-1h0m0 3h0m2-5h0m0 3h0m0 1h0m0-2h0m1-4h0m0-1h0m0 4h0m0 0h0m1-1h0m1 4h0m2 1h0m1-9h0m1 3h0m0 1h0m0 4h0m1-8h0m0 6h0m0 2h0m1-9h0m0 7h0m0-2h0m1-2h0m0-1h0m1-1h0m0 10h0m0-1h0m1-10h0m0 2h0m0 9h0m3-1h0m2-7h0m0 4h0m2-4h0m0 5h0m0-3h0m0-3h0m0 2h0m0 2h0m0-4h0m0 1h0m0 5h0m0-4h0m0-1h0m2 0h0m0 8h0m0-4h0m0 4h0m0-3h0m1 3h0m0-8h0m1-2h0m1 7h0m1 0h0m0 3h0m1-3h0m1-7h0m7 8h0m6 0h0m13-9h0m5 5h0m1-3h0m9-2h0m9 0h0m2 0h0m1 1h0m2-1h0m2 4h0m1-3h0m1 1h0m0 5h0m1-3h0m0-3h0m1 4h0m3-1h0m0 5h0m4-6h0m1 6h0m1-4h0m0 4h0m0-4h0m0 0h0m0-1h0m1-2h0m1 1h0m0-1h0m0 2h0m0-2h0m1 1h0m0 7h0m0-7h0m0 1h0m1 3h0m2-3h0m0-1h0m0-2h0m0 1h0m0 2h0m1 3h0m0-3h0m0-4h0m1 1h0m1 10h0m1-3h0m1-1h0m1-6h0m2 3h0m0 1h0m0-1h0m0 2h0m1 3h0m0 7h0m-2-2h0m0 0h0m-1-1h0m0 5h0m-1 0h0m-2 0h0m0-5h0m-2 2h0m-5-2h0m-1-1h0m-44 2h0m-7 9h0m-4-11h0m-3 5h0m-6-4h0m-1 1h0m-1 1h0m0-3h0m-1 11h0m0-9h0m0-2h0m0 5h0m-2 6h0m-2-8h0m0 0h0m0 2h0m-1-5h0m0 1h0m-3 3h0m0 1h0m-1 2h0m-1 2h0m-2-4h0m-1 2h0m0-3h0m0 7h0m0-6h0m-1 3h0m0 0h0m0 2h0m-1 1h0m0-7h0m0-2h0m-1 1h0m-1 3h0m0 1h0m0-7h0m0 0h0m0 10h0m0-2h0m0-7h0m-2 4h0m0 1h0m0-6h0m-1 8h0m0 1h0m0-5h0m0 7h0m0-7h0m-1 0h0m0 3h0m0 2h0m0-1h0m-1-8h0m0 7h0m-1-7h0m0 9h0m0-8h0m-1 7h0m-1-7h0m-1 9h0m0 0h0m-1 1h0m0-3h0m0 3h0m0-8h0m-1 7h0m-1-2h0m0-7h0m-1 7h0m-1-7h0m-1 8h0m0-2h0m0-6h0m0 2h0m-1 6h0m-2-2h0m0-3h0m0 3h0m0-7h0m-2 1h0m0 10h0m0 7h0m1-3h0m1 5h0m1 2h0m0-4h0m1 5h0m0-1h0m1 1h0m0-2h0m0-6h0m1 5h0m0-8h0m0 0h0m0 0h0m1 9h0m1-1h0m0 2h0m0-2h0m0-7h0m1 8h0m0-7h0m0 1h0m1 4h0m0-1h0m1-6h0m2 6h0m0-4h0m0 0h0m2 6h0m0-2h0m0-5h0m1 6h0m0 0h0m0 3h0m0-3h0m0-1h0m0-5h0m1 5h0m0 0h0m0-3h0m1 8h0m1-2h0m0 1h0m1-4h0m0 2h0m0-8h0m1 10h0m0-1h0m0-5h0m1 4h0m0-6h0m0 2h0m1 3h0m0-5h0m1 8h0m0-3h0m0 2h0m0-2h0m0 0h0m0-2h0m1 4h0m1-7h0m1 5h0m0-1h0m1 3h0m0 0h0m0-7h0m1 9h0m1-4h0m0 3h0m0-3h0m1 2h0m0-2h0m0-6h0m1 5h0m8-4h0m2 1h0m2 5h0m1 3h0m1-5h0m0-3h0m0 3h0m0-3h0m1 6h0m0-1h0m0-6h0m1 8h0m0-7h0m2-1h0m-23 14h0m-4-1h0m-1-3h0m0 5h0m-1 1h0m0-3h0m-1-2h0m0-1h0m-3 1h0m0 4h0m-2-5h0m-3 3h0m0-3h0m0 3h0m-1-2h0m0 3h0m0 3h0m0 2h0m-1 0h0m0-4h0m-1-2h0m0 3h0m-1 4h0m0-1h0m0 1h0m-1-3h0m0 0h0m-1-1h0m-1 3h0m0-1h0m0-8h0m-1 9h0m0 0h0m0 2h0m0 0h0m-1-10h0m0 6h0m-2 2h0m-1-6h0m0 12h0m0 5h0m0 2h0m1-4h0m0-1h0m3 6h0m0-11h0m0 9h0m1 1h0m0-2h0m1-2h0m0 4h0m0-1h0m1-4h0m1 5h0m1-9h0m0 2h0m0 7h0m1-6h0m1 1h0m0 1h0m1-4h0m0 6h0m1-2h0m0-4h0m0-2h0m1 1h0m0 9h0m2 1h0m1-8h0m0 2h0m1 3h0m0-2h0m0-5h0m0 3h0m0 4h0m0-3h0m0 3h0m1 1h0m0-5h0m1 7h0m0-2h0m2-1h0m0 3h0m1-9h0m0 8h0m2-8h0m0 3h0m1 6h0m0-4h0m0 2h0m0-5h0m1-1h0m0 6h0m1-4h0m1 6h0m50-8h0m-48 13h0m-1-4h0m-1 7h0m-2 0h0m0-4h0m-1 2h0m0 2h0m-1 3h0m0-9h0m0 8h0m0-7h0m-1 0h0m-1-2h0m0 10h0m-1-5h0m0 3h0m0-4h0m-1-4h0m0 10h0m0-10h0m0 9h0m-1 2h0m0-10h0m0 5h0m0 3h0m-2 0h0m-2-5h0m-1 1h0m0 5h0m-1-3h0m0-5h0m-1 3h0m0 3h0m0-1h0m0-7h0m-2 1h0m0 0h0m0 1h0m-1 7h0m-2-5h0m0-4h0m-3 2h0m0 1h0m0 1h0m0 1h0m0-1h0m-1 3h0m-2-3h0m-1-3h0m4 11h0m3 0h0m4 2h0m1-1h0m3 2h0m1 1h0m1 1h0m0-5h0m0 5h0m0 0h0m0 0h0m0-1h0m1 2h0m1-1h0m0 1h0m1-5h0m0 3h0m1-2h0m0 1h0m1 4h0m1 0h0m0-7h0m1 4h0m0 0h0m0 1h0m2 2h0m0-5h0m1 0h0m0 3h0m0 0h0m0-1h0m1 2h0m0 0h0m3-5h0m0 4h0" stroke="#D3D3D3" stroke-width="3.8" stroke-linecap="round" fill="none"/><path d="M469 665h0m-3 5h0m-1-1h0m-3 2h0m1 7h0m6 0h0m37 1h0m4-5h0m18 3h0m-18 13h0m-5 6h0m23 8h0m18-8h0m-105 13h0m-9 20h0m7 1h0m5-3h0m6-4h0m21-1h0m3 3h0m3-1h0m3-1h0m-25 15h0m-7-4h0m-4 6h0m-4-2h0m-3-4h0m-1 8h0m-4-2h0m1 9h0m0 1h0m21-3h0m-18 14h0" stroke="#C7B5EA" stroke-width="3.8" stroke-linecap="round" fill="none"/><path d="M467 657h0m2 7h0m-5 5h0m-1-3h0m-1 5h0m-18 8h0m0-7h0m3 2h0m74 5h0m14-6h0m6 16h0m-88 10h0m39 8h0m32-3h0m-74 11h0m-13-4h0m-5 15h0m15-1h0m1 6h0m8-9h0m16 9h0m3-6h0m3 3h0m-24 10h0m-6-4h0m-4 5h0m-10-7h0m14 16h0m-6 16h0m-6-2h0" stroke="#BAA7E6" stroke-width="3.8" stroke-linecap="round" fill="none"/><path d="M462 656h0m2-1h0m3 4h0m0 12h0m-18 10h0m16-2h0m61-1h0m-88 30h0m-4 8h0m-5 15h0m4-5h0m16 2h0m14-5h0m-25 10h0m-1 8h0m6 6h0m8 1h0" stroke="#AD98E2" stroke-width="3.8" stroke-linecap="round" fill="none"/><path d="M468 657h0m2-3h0m0 2h0m4 7h0m0 8h0m-8-6h0m3 11h0m0 2h0" stroke="#A08ADE" stroke-width="3.8" stroke-linecap="round" fill="none"/><path d="M474 656h0m0 2h0m0-2h0m1 2h0m4 6h0m-1-1h0m-1 1h0m-1 2h0m-1 5h0m0-3h0m-2-6h0m0-2h0m0 0h0m-1 5h0m0 6h0m0-3h0m-1-5h0m-8 2h0m8 10h0m1 3h0m0 2h0" stroke="#8B78D3" stroke-width="3.8" stroke-linecap="round" fill="none"/><path d="M472 659h0m1-3h0m0 0h0m4 5h0m-1 2h0m-1 2h0m-2 5h0m-2-6h0m0-2h0m-1-2h0m3 20h0m1 0h0m6-8h0" stroke="#7765C8" stroke-width="3.8" stroke-linecap="round" fill="none"/><path d="M471 655h0m0 0h0m2 3h0m6 12h0m-1-9h0m-2 4h0m-1 3h0m0-4h0m-1 6h0m-2-9h0m0 5h0m2 11h0m4-3h0m1-1h0" stroke="#6253BD" stroke-width="3.8" stroke-linecap="round" fill="none"/><path d="M461 658h0m1-3h0m0 4h0m4-6h0m0 2h0m1 3h0m1 0h0m0-2h0m0-1h0m68 12h0m-4 2h0m0-5h0m-1 7h0m-1-6h0m0 5h0m-1-6h0m0 7h0m0-6h0m-1 6h0m0-5h0m0-3h0m0 2h0m-1-2h0m0 4h0m0-1h0m0 0h0m-1 1h0m0-3h0m0 3h0m-1-3h0m0 2h0m0-1h0m-1 6h0m0-6h0m0-1h0m-2 1h0m-4 1h0m0 0h0m-1 2h0m0 1h0m-2 2h0m0-1h0m-1-2h0m-1 3h0m-1-2h0m-1 1h0m-33-10h0m-11 5h0m-1-5h0m-2 5h0m0-3h0m-1 9h0m-17 0h0m-1 0h0m0-2h0m-2-1h0m-1 2h0m0-1h0m-1 0h0m0 1h0m-2-2h0m-4 11h0m1 3h0m3-6h0m0-3h0m1 4h0m0 2h0m1-2h0m2-3h0m0-1h0m1 2h0m0 3h0m0-5h0m0 10h0m1-5h0m0-6h0m1 11h0m0-11h0m0 1h0m2 2h0m2 7h0m1-5h0m0 4h0m2-1h0m1 0h0m0 0h0m9-3h0m1 0h0m0-3h0m2 4h0m1-2h0m1 1h0m0 2h0m2-3h0m32 5h0m2-1h0m0 0h0m0 3h0m1-4h0m0-1h0m3-2h0m1 2h0m1-3h0m0-3h0m0 1h0m0 1h0m0 2h0m1 4h0m1 3h0m0-7h0m1 7h0m0-11h0m0 0h0m0 3h0m1 5h0m1 1h0m0-1h0m1-5h0m0 0h0m0 2h0m1-2h0m0-3h0m0 7h0m1-5h0m2 7h0m0-8h0m1 5h0m1 3h0m1-1h0m0-4h0m0-1h0m1 8h0m0-6h0m0-2h0m0 4h0m2-4h0m1 6h0m0-9h0m1 0h0m0 6h0m1 4h0m0-8h0m1 7h0m1-8h0m0 5h0m2 5h0m0-9h0m0 1h0m0 5h0m0-8h0m1 9h0m0-8h0m0 1h0m2 2h0m0 6h0m0 0h0m0-4h0m1 5h0m0-6h0m0-1h0m1 7h0m0-7h0m1 6h0m0-5h0m0 0h0m0-4h0m1 10h0m1 0h0m0-1h0m0 0h0m1-2h0m4 8h0m-1 4h0m0-1h0m0 3h0m0-6h0m0 2h0m-1-2h0m0 7h0m-1-9h0m0 7h0m0 0h0m-1-6h0m0 2h0m-1-1h0m0-2h0m-1-1h0m0 6h0m0-2h0m0 1h0m0-6h0m-1 3h0m0-2h0m-1 7h0m0 0h0m0-6h0m0 6h0m0-8h0m-1 0h0m-1 2h0m-1 7h0m-1 0h0m0-7h0m0 8h0m-2 1h0m-2-2h0m-1-8h0m0 10h0m-1 0h0m0 0h0m-1-11h0m-1 9h0m0-9h0m0 11h0m-1-3h0m0-1h0m-1 3h0m-1 0h0m-1-2h0m0-8h0m0 10h0m0-10h0m-2 6h0m-1-6h0m0 3h0m-1 2h0m0 0h0m0-1h0m-1 3h0m0-6h0m0 9h0m0 1h0m-1-7h0m0 4h0m0 1h0m-1-9h0m0 5h0m0 0h0m0 0h0m-1-1h0m0 1h0m0 3h0m-1 3h0m-1 0h0m0-2h0m-1 0h0m0-5h0m0 3h0m-1-5h0m0 7h0m0 0h0m0 0h0m-1-5h0m0-4h0m-1 4h0m-2 2h0m0-5h0m0 8h0m-1-6h0m-2 3h0m0 2h0m-1-3h0m0 6h0m0-3h0m0 2h0m0 0h0m-1-9h0m0 7h0m0-4h0m0 1h0m-1 1h0m0-4h0m0 3h0m-2 4h0m-2 1h0m-30-6h0m-3-2h0m-4 1h0m-2 8h0m0-10h0m-1 6h0m-1 3h0m-3-6h0m-1 5h0m0-4h0m-1 6h0m0-10h0m-1 10h0m0 0h0m-1-5h0m0 3h0m0 1h0m0-9h0m-1 3h0m0-4h0m-1 3h0m0 7h0m0-7h0m0-1h0m0-2h0m-1 4h0m0 7h0m-2-8h0m0 8h0m-1-2h0m-1-2h0m-1-5h0m-2 2h0m-1-3h0m-1-1h0m-1 7h0m0-3h0m-1 5h0m-3 11h0m1 3h0m0-8h0m1 1h0m0 4h0m0-3h0m0 1h0m1 4h0m1 0h0m0-2h0m1-5h0m0 2h0m1 5h0m0-1h0m0-6h0m2 6h0m0-2h0m2-1h0m4 2h0m0-5h0m0 0h0m1-2h0m0 1h0m0 2h0m0 1h0m1 3h0m0-8h0m0 8h0m1-1h0m0-3h0m1 3h0m0-5h0m1 1h0m0-3h0m0 7h0m0-2h0m0-4h0m1 3h0m0 7h0m1-9h0m0 5h0m2-3h0m1 5h0m0-6h0m0 7h0m0-8h0m0 0h0m1 3h0m0 4h0m0-6h0m0 0h0m0 0h0m2 1h0m4 7h0m1-7h0m1 3h0m1-1h0m13 2h0m0 2h0m1-3h0m0 2h0m1-3h0m4-2h0m8 5h0m12-7h0m13 0h0m2 0h0m0-1h0m2 2h0m1 1h0m1 1h0m0-5h0m0 4h0m1 0h0m1 0h0m1 3h0m0 0h0m2 0h0m1 1h0m1-2h0m1-3h0m0 1h0m1 5h0m0-5h0m0 0h0m1 2h0m0 1h0m1-1h0m1-2h0m0 1h0m1 3h0m0-5h0m0 6h0m1-1h0m0-7h0m0 8h0m1-8h0m0 2h0m0 6h0m1-4h0m0-4h0m0 4h0m1-3h0m0 5h0m0 3h0m1-3h0m0-4h0m0 5h0m1-7h0m1 1h0m0-2h0m1 1h0m0-1h0m0 9h0m0-1h0m1-2h0m1-5h0m0 4h0m1-2h0m2 13h0m-3-1h0m-1 2h0m-1 1h0m-1 0h0m-2-5h0m-6-1h0m0 2h0m-45 8h0m-1-4h0m0-5h0m0 9h0m-14-5h0m-6-2h0m-1 3h0m0-5h0m0 8h0m-1-9h0m0 7h0m-4-7h0m-1 11h0m-1-11h0m0 8h0m0-1h0m-2-3h0m0 2h0m0-3h0m0 1h0m-1 2h0m0-5h0m-2 4h0m0 6h0m0-10h0m-1-1h0m0 5h0m-1 0h0m-1 5h0m-2-3h0m0-1h0m0-1h0m-1-3h0m0 1h0m-1 3h0m0 1h0m0-3h0m-1 7h0m0-8h0m0 7h0m-1-10h0m0 2h0m0 4h0m-1 3h0m0 1h0m-1-3h0m0 3h0m0 0h0m-4-10h0m0 2h0m-1 4h0m0 5h0m0-1h0m-1-8h0m-1 2h0m0-2h0m-1 4h0m0 3h0m-1-4h0m0 0h0m0-2h0m0 0h0m0-1h0m0 9h0m-1-7h0m0 2h0m0 0h0m0-1h0m-1 0h0m0 1h0m0-4h0m-2 4h0m0-1h0m0 2h0m-1-4h0m0 6h0m0-3h0m-1 10h0m0-2h0m0 0h0m1 4h0m0 3h0m1-7h0m1 7h0m0 2h0m0-2h0m0-3h0m0 1h0m1-5h0m1 9h0m0-6h0m0 5h0m0-10h0m1 10h0m0-9h0m1-1h0m0 1h0m1 6h0m1-1h0m0 2h0m0-1h0m0-5h0m3 2h0m1 4h0m0 2h0m0-8h0m1-2h0m1 11h0m2-9h0m1-2h0m2 11h0m0-1h0m0-4h0m0-5h0m0 2h0m1 8h0m0-4h0m0 1h0m0-7h0m1 5h0m0-5h0m1 1h0m1 7h0m0-1h0m0-6h0m1 7h0m0-9h0m0 0h0m1 6h0m1-1h0m0-2h0m2 3h0m1 5h0m1-5h0m0-5h0m1 4h0m2-2h0m0-1h0m10 7h0m0 1h0m0 1h0m1-1h0m1-6h0m1 2h0m1 2h0m0-7h0m2 2h0m1 0h0m-22 13h0m-5 2h0m0-5h0m0 4h0m-1-1h0m0 2h0m0-2h0m-1-1h0m0 2h0m0-1h0m0-1h0m-2-1h0m-1 3h0m0 3h0m-1-1h0m-1-2h0m-1 3h0m0 1h0m0-8h0m0 9h0m0-6h0m-1 1h0m-1 2h0m0-1h0m-2 5h0m0-7h0m0-2h0m-1 5h0m-1-5h0m0-1h0m-1 1h0m0 3h0m-1 5h0m0-4h0m0 5h0m-1-3h0m-1 0h0m-1-8h0m-1 8h0m0-2h0m0 5h0m-3-10h0m0 10h0m0-7h0m0 1h0m-1 0h0m0 3h0m-1 0h0m0-8h0m1 16h0m0-1h0m1 1h0m0-2h0m1 2h0m0 2h0m2 4h0m1-9h0m1 10h0m1 0h0m1-11h0m0 3h0m0-2h0m1 8h0m0-3h0m1-5h0m2 5h0m1 0h0m0-3h0m0 0h0m1-1h0m0 4h0m1 2h0m0-2h0m0-3h0m1 0h0m1-3h0m0 10h0m0 1h0m1-7h0m0 4h0m1 0h0m1-7h0m0 0h0m2 10h0m1-10h0m1 9h0m1-9h0m0 3h0m1 3h0m0-4h0m0-2h0m1 7h0m0 0h0m1-2h0m0 5h0m4 11h0m-1-7h0m0 8h0m-1-9h0m0 2h0m-1 2h0m0-4h0m0 3h0m-1 4h0m0 2h0m0 0h0m0 0h0m-3-4h0m0 2h0m0-3h0m0-6h0m0 1h0m-1 7h0m-1 0h0m-1 2h0m0-8h0m0 8h0m0-10h0m0 2h0m0-1h0m0-1h0m-1 9h0m0 1h0m0-9h0m-1 10h0m0-11h0m0 8h0m-1-8h0m0 9h0m-1-2h0m-1-3h0m0 7h0m0-3h0m-1 1h0m0-6h0m0 7h0m-1-5h0m0-1h0m0 0h0m-1-3h0m0 4h0m0-4h0m0 3h0m-1 6h0m0-4h0m0 1h0m0-3h0m-2 3h0m0-7h0m-4 11h0m-1-8h0m-1 3h0m0-3h0m0 3h0m0-2h0m-1 7h0m0-7h0m-1-2h0m-1 2h0m-1 2h0m0-3h0m6 11h0m3 1h0m3 0h0m1 1h0m1-2h0m0-2h0m2 4h0m0-1h0m0-2h0m2 4h0m0-5h0m3 6h0m1 1h0m1-2h0m0-1h0m0 2h0m1-2h0m0 0h0m1 0h0m0 3h0m0-7h0m1 7h0m0-1h0m0-2h0m1 3h0m1-1h0m3-2h0m0-3h0" stroke="#D3D3D3" stroke-width="3.8" stroke-linecap="round" fill="none"/><path d="M465 657h0m54 14h0m-54-8h0m-2 1h0m-28 17h0m17-2h0m10-6h0m1 0h0m0 5h0m2-6h0m1 3h0m0 1h0m1-4h0m2 2h0m43 2h0m24 8h0m-77 2h0m-11 8h0m0 2h0m7 0h0m26 6h0m44-2h0m2 6h0m5-7h0m-93 23h0m4 8h0m0-1h0m7-4h0m7 3h0m1-2h0m3-1h0m14 4h0m3 0h0m-27 10h0m-1-2h0m0-4h0m-7 8h0m-7-7h0m-2 1h0m-1 1h0m-1-1h0m-1 5h0m5 9h0m5-3h0m10 1h0m5-2h0m-23 15h0" stroke="#C7B5EA" stroke-width="3.8" stroke-linecap="round" fill="none"/><path d="M469 654h0m-2 14h0m-6-8h0m-15 12h0m18 6h0m4-1h0m72 2h0m-3 12h0m-18-1h0m-6 3h0m-9-7h0m-42-2h0m-6 22h0m89-6h0m-55 14h0m-40 2h0m-1 0h0m-17 11h0m0 0h0m0 2h0m9 1h0m0-5h0m6-4h0m1 19h0m-10-8h0m-2 0h0m12 13h0m8 5h0m-9 18h0m2 2h0" stroke="#BAA7E6" stroke-width="3.8" stroke-linecap="round" fill="none"/><path d="M464 657h0m5-1h0m-3 10h0m-5-4h0m6 15h0m-33 25h0m2-2h0m4 3h0m-8 9h0m16 16h0m25 2h0m3-4h0m7-4h0m-34 18h0m-7 2h0m11 4h0m-18 13h0" stroke="#AD98E2" stroke-width="3.8" stroke-linecap="round" fill="none"/><path d="M463 659h0m1-1h0m4 1h0m6-2h0m-7 6h0m-1 0h0m-1-3h0m-1 3h0m-1 5h0m-1-8h0m2 13h0" stroke="#A08ADE" stroke-width="3.8" stroke-linecap="round" fill="none"/><path d="M470 655h0m1-1h0m1 5h0m1-4h0m1 2h0m0 1h0m1 0h0m3 5h0m-1 2h0m-1 6h0m-2 0h0m-2-10h0m-7 17h0m5-1h0m1-4h0m0 4h0m2-1h0m0 1h0m1 1h0m0 1h0" stroke="#8B78D3" stroke-width="3.8" stroke-linecap="round" fill="none"/><path d="M470 656h0m1-2h0m1 5h0m1-3h0m0 0h0m5 6h0m0 6h0m-1-5h0m-1 3h0m-1 3h0m0-8h0m-2 1h0m0-2h0m0 10h0m-1-3h0m-1 4h0m-1-11h0m1 14h0m0-1h0m0 5h0m0 2h0m1-7h0m3 6h0m1-7h0m1 0h0" stroke="#7765C8" stroke-width="3.8" stroke-linecap="round" fill="none"/><path d="M470 659h0m3-2h0m0 0h0m0 0h0m2 1h0m5 8h0m-2-4h0m0 2h0m0-1h0m-1 2h0m-1-1h0m0 0h0m-2 6h0m0-7h0m-1 6h0m0-1h0m0 1h0m0-1h0m0 0h0m-1-7h0m-1 14h0m0-1h0m0-2h0m0 7h0m1-4h0m0 1h0m1 3h0m4-7h0m2 0h0" stroke="#6253BD" stroke-width="3.8" stroke-linecap="round" fill="none"/><path d="M415.0 639.8V790.3H560.7" fill="none" stroke="#111" stroke-width="1.5"/><path d="M699 671h0m-6-2h0m-2-4h0m0 2h0m-5-1h0m-1 2h0m-4 2h0m-2-4h0m-1 2h0m0 0h0m-1 2h0m-71 1h0m-3-1h0m-1-1h0m-1 0h0m-5 12h0m1 0h0m3-1h0m0 0h0m0-7h0m1 6h0m3 1h0m0-4h0m0-3h0m1 2h0m0 4h0m0 3h0m1-8h0m1-2h0m5 5h0m0 4h0m1-2h0m9 2h0m46-4h0m0-1h0m3 5h0m3-7h0m0 2h0m0-4h0m4 6h0m0 0h0m2-3h0m1-2h0m1 7h0m0-1h0m0-1h0m2 3h0m1-4h0m0 2h0m1-5h0m0 3h0m2 4h0m1 1h0m1-10h0m3 7h0m0-6h0m1 7h0m5-4h0m1 2h0m0 2h0m2 0h0m1 3h0m3 5h0m-1 3h0m0 2h0m-1-5h0m0 5h0m-1-6h0m0 6h0m-1-5h0m0 4h0m-1-7h0m0 6h0m-5 3h0m-1 0h0m0 0h0m-3-1h0m0-8h0m0 10h0m-1-10h0m0 10h0m-1-10h0m-5 9h0m-1 1h0m-5-6h0m-1 2h0m0 2h0m0-8h0m-1 0h0m-1-1h0m-5 2h0m0 7h0m-1-1h0m0-8h0m0 1h0m0 3h0m-1 0h0m-2 1h0m-1 3h0m0-1h0m-1-5h0m-2 2h0m0 1h0m0 3h0m-1-3h0m0-4h0m-5 9h0m-30-6h0m-5 4h0m-2-5h0m-1 0h0m-7 4h0m-1-3h0m-1 7h0m-1-5h0m0-5h0m-1 1h0m-1 8h0m0-7h0m-1 4h0m-2 2h0m-7-9h0m-1 5h0m-4 17h0m0 0h0m1-1h0m1-1h0m0-3h0m0 6h0m1-4h0m4 4h0m1-4h0m1 0h0m2-7h0m1 5h0m3-3h0m1 1h0m0 5h0m0-7h0m1-1h0m1 7h0m1-2h0m1 6h0m2-7h0m2 0h0m0-4h0m1 5h0m0 0h0m0-3h0m0 0h0m0 1h0m0 0h0m1 8h0m0-3h0m3 0h0m1 2h0m0 1h0m1-3h0m3-2h0m13 0h0m1 1h0m5-3h0m5-4h0m15 0h0m11 1h0m7-1h0m2 0h0m0 2h0m2 5h0m0-5h0m5 1h0m5 5h0m0-5h0m2 2h0m0-2h0m1 3h0m0-6h0m0 5h0m1 2h0m0-3h0m0 6h0m1-7h0m2-1h0m1 3h0m0 2h0m0 2h0m1-6h0m1-2h0m0-1h0m1 4h0m-4 14h0m-1-5h0m-1-1h0m-7 0h0m-45 1h0m-1 4h0m-18-4h0m-1 1h0m-6 1h0m0 2h0m-2-5h0m-2 6h0m0-1h0m-1 4h0m-3-9h0m-1 7h0m0-3h0m-4-4h0m0 0h0m0 3h0m-1-1h0m0 8h0m-1-10h0m-1 2h0m-1 5h0m0 2h0m0 2h0m0-1h0m-1 0h0m-1-1h0m0 0h0m-1 0h0m-2 1h0m-2-8h0m-1-1h0m-1 5h0m-1-3h0m0-1h0m0 9h0m-1-5h0m0 0h0m-3 0h0m0-1h0m-1 4h0m-2 14h0m1 0h0m0-9h0m3 6h0m2-3h0m0 5h0m0-7h0m1-3h0m1 1h0m2 5h0m0 4h0m0-5h0m4 1h0m0 4h0m0-8h0m0 0h0m1 5h0m4-7h0m2 1h0m1 10h0m1-9h0m0 0h0m1 0h0m1 5h0m1 2h0m0-9h0m3 6h0m0 3h0m1 2h0m0-3h0m1-1h0m1-6h0m0 0h0m1 4h0m13 4h0m1-3h0m39 4h0m-42 2h0m-19 6h0m-1-3h0m-1 3h0m-1-5h0m-1-1h0m-1 8h0m-2-3h0m0-4h0m0 4h0m-3 3h0m-1 3h0m-1-11h0m0 4h0m0 6h0m-1-5h0m0 4h0m-2-7h0m-2 5h0m0 0h0m-1-1h0m0 0h0m0 1h0m0 3h0m-2-2h0m0-2h0m0 5h0m-2-3h0m-1-3h0m-1-2h0m0 11h0m0 1h0m0 7h0m7 1h0m1-1h0m1-1h0m0 0h0m1-5h0m0 0h0m2-2h0m2 0h0m3 8h0m1-6h0m0 1h0m1-1h0m0 6h0m3 1h0m3-10h0m7 21h0m-2-8h0m-1 5h0m-1 4h0m0 0h0m-1-4h0m-2 0h0m0-1h0m0-6h0m-2 10h0m-1 1h0m0-9h0m0 8h0m-1 0h0m0-1h0m0-9h0m-2 0h0m-1 9h0m-1-2h0m-1 1h0m-2-7h0m-1 9h0m0-9h0m-1 4h0m0-2h0m-1 2h0m-5 0h0m0 6h0m-1-9h0m0 4h0m-2-4h0m13 12h0m1-2h0m0 0h0m1 5h0m0 0h0m1-3h0m1 3h0m2 2h0m2 1h0m3-2h0m2-6h0m0 6h0m0 0h0" stroke="#D3D3D3" stroke-width="3.8" stroke-linecap="round" fill="none"/><path d="M694 666h0m-3-1h0m0 5h0m-1-5h0m-4 5h0m-1-6h0m0 7h0m-5-1h0m-6 0h0m-1-1h0m-1 1h0m-66 1h0m-4 0h0m-5 11h0m1-1h0m0-5h0m1-1h0m3 2h0m6-3h0m1 4h0m1 4h0m2-3h0m2-6h0m9 5h0m41 4h0m7-3h0m2-3h0m4 3h0m0-4h0m1-2h0m1 1h0m1 7h0m2-8h0m9 10h0m3-11h0m0 6h0m3 4h0m2-10h0m3 10h0m6 11h0m-13-1h0m-2-4h0m-4-3h0m-3 9h0m0-1h0m-1 1h0m-7 1h0m-2-11h0m-1 3h0m-4 8h0m0-2h0m-2 0h0m-2-8h0m-3 6h0m-51 2h0m-2-8h0m-6 2h0m-3 0h0m-12 20h0m5-4h0m2-5h0m5 4h0m2 2h0m0 1h0m1-2h0m2-4h0m0 3h0m1-2h0m1-2h0m0-2h0m1 1h0m6 2h0m2 0h0m0 4h0m22 4h0m25-9h0m11-2h0m4 3h0m1 2h0m12 0h0m0-1h0m4-1h0m1 7h0m1-9h0m1 0h0m2 2h0m-70 16h0m-4-6h0m0 2h0m-1-1h0m-7 2h0m-4 1h0m-4 6h0m-4-3h0m0 1h0m-5-8h0m0-1h0m-7 7h0m-1-1h0m0 3h0m-2-2h0m0-3h0m0 15h0m0-5h0m3 9h0m0-11h0m1 8h0m1-7h0m1 1h0m1 5h0m0 2h0m4-3h0m3 3h0m0 1h0m4 1h0m0-1h0m0-7h0m7 4h0m3-2h0m1 1h0m13 3h0m0-4h0m1 5h0m8-8h0m-28 14h0m-3 3h0m0-3h0m-7 1h0m-1 2h0m0-7h0m-2 2h0m-8 9h0m-2 7h0m2 3h0m2-4h0m0 4h0m2-6h0m1 7h0m1-9h0m3 2h0m2 1h0m3 4h0m2 1h0m6-3h0m1-3h0m0 2h0m4 11h0m-1 7h0m-4-4h0m-1 3h0m-2 0h0m-2-10h0m-2 9h0m-3-8h0m-14 3h0m3 8h0m6 1h0m4-1h0m3 5h0m0 1h0m2-2h0m6-1h0m1 4h0m5-3h0m0-3h0" stroke="#C7B5EA" stroke-width="3.8" stroke-linecap="round" fill="none"/><path d="M692 671h0m-2-7h0m0 2h0m-2-3h0m0 1h0m-2 5h0m0-4h0m-3 0h0m-2 0h0m-75 4h0m-2-1h0m-8 14h0m7-5h0m11 3h0m52 2h0m5-9h0m9 2h0m2 1h0m2 1h0m0-2h0m1-3h0m2 6h0m0-3h0m1-3h0m1 1h0m1 3h0m8 7h0m8 8h0m0-2h0m0-1h0m-1 7h0m0-5h0m-3-2h0m-3-1h0m-1 0h0m-1-3h0m-1 0h0m-8 0h0m-4 7h0m-1 1h0m-8-4h0m-4 2h0m-50 1h0m-1-5h0m-1 4h0m-1-5h0m-1 6h0m-4 3h0m-3 1h0m-2-4h0m0-6h0m-7 3h0m0-1h0m-2 5h0m-2 3h0m-2-2h0m3 6h0m2 6h0m0-2h0m6 0h0m2-7h0m0 1h0m0 10h0m2-8h0m1-2h0m5 2h0m0 2h0m0-3h0m2 9h0m1 0h0m5-10h0m1 6h0m47-7h0m13 4h0m9 5h0m2-7h0m1 5h0m2-4h0m11 13h0m-3-4h0m-71 5h0m-6-2h0m-1 0h0m-6 8h0m-4-4h0m-3-2h0m-4 0h0m-1 2h0m0-5h0m0 6h0m-1-1h0m0-3h0m-2-2h0m-3-2h0m-3 1h0m-3 0h0m-1 8h0m-5-5h0m-1-1h0m-1-2h0m3 20h0m1 2h0m3-2h0m0-9h0m5 9h0m0-5h0m3 2h0m4 2h0m4-6h0m1 5h0m0 2h0m7 0h0m2-5h0m10-1h0m1 2h0m1 0h0m0 4h0m1-1h0m1 1h0m1-1h0m0 2h0m2-7h0m-25 15h0m-5-5h0m0-1h0m-2 2h0m-2 7h0m-4 2h0m-1-10h0m0 9h0m-3 0h0m0-1h0m-1-1h0m-1 2h0m-1-10h0m-1 9h0m-1-8h0m-2 3h0m-1 17h0m4-9h0m2 11h0m2-6h0m2-1h0m5 7h0m5-10h0m1 3h0m5-3h0m5 22h0m-3-2h0m-7-9h0m0 9h0m-1 2h0m0-5h0m-6-2h0m-1 2h0m-2-5h0m-3 7h0m0-8h0m-3 3h0m0 2h0m12 8h0m1 4h0m5 2h0m1-3h0m3 3h0" stroke="#BAA7E6" stroke-width="3.8" stroke-linecap="round" fill="none"/><path d="M689 668h0m0-2h0m-8 1h0m-78 5h0m2 0h0m65 6h0m3 5h0m0-7h0m4 1h0m7 2h0m5-7h0m6 9h0m2 0h0m1 1h0m1-4h0m1-1h0m7 15h0m-1 0h0m-3-7h0m-2 5h0m-20 4h0m-2-4h0m-1 4h0m-1-6h0m0-4h0m-7 4h0m-4-2h0m-3-1h0m0 9h0m-5 0h0m-44-4h0m-4-3h0m-14 17h0m0-4h0m1 2h0m10-5h0m3 1h0m75-2h0m1 10h0m1-2h0m1-2h0m12-4h0m0 8h0m2 1h0m1 0h0m2-11h0m0 1h0m1 17h0m-56 0h0m-20 4h0m-11-9h0m-4 4h0m-2-3h0m-2 4h0m-10 4h0m-2 10h0m8 1h0m2-1h0m6-2h0m1 1h0m2 1h0m2 2h0m1-4h0m1-1h0m0-4h0m13 9h0m5-8h0m-26 16h0m0-2h0m-5 4h0m-1-7h0m-7 1h0m-7 2h0m0 7h0m8 3h0m1 0h0m1 4h0m5 0h0m7-4h0m3 9h0m0-7h0m-9 10h0m-3 2h0m-2 1h0m-1-2h0m-1 5h0m-5-3h0m17 14h0m1-4h0m3 1h0" stroke="#AD98E2" stroke-width="3.8" stroke-linecap="round" fill="none"/><path d="M634 657h0m1 1h0m56 11h0m-4-2h0m-52 12h0m43-2h0m6 3h0m1-8h0m2 5h0m5-4h0m1 5h0m4 4h0m1 0h0m1 1h0m2-3h0m3 6h0m-2 2h0m-2 3h0m-1-2h0m-1-5h0m-2 9h0m-6-8h0m-6 8h0m-6-2h0m-1 0h0m-6-7h0m-3 7h0m0 0h0m-3 4h0m-4-6h0m-5 10h0m22-2h0m7 7h0m8 1h0m7-6h0m3-3h0m0 1h0m3 0h0m1 13h0m-11 0h0m-59 16h0m-47 15h0" stroke="#A08ADE" stroke-width="3.8" stroke-linecap="round" fill="none"/><path d="M622 658h0m3 0h0m0-2h0m4 0h0m1 0h0m4 0h0m0 2h0m3 4h0m-1 2h0m-1 4h0m0-4h0m0-1h0m0 5h0m-1 0h0m-1-7h0m-2 7h0m0-8h0m-1 8h0m-2-5h0m0-2h0m-1 3h0m-3 14h0m0 2h0m1-2h0m0-6h0m1 4h0m1-4h0m0 3h0m0 3h0m0 0h0m2 0h0m1 0h0m1 0h0m0 0h0m1-3h0m1 1h0m1 1h0m1 1h0m0-1h0m3-5h0m1 0h0" stroke="#8B78D3" stroke-width="3.8" stroke-linecap="round" fill="none"/><path d="M623 656h0m5 2h0m1-1h0m1-2h0m9 12h0m0-4h0m-1 2h0m-2 6h0m0-3h0m-1 3h0m-2-4h0m-1-4h0m-4 8h0m0-6h0m-1 0h0m-2 4h0m-1-1h0m-1 3h0m0 2h0m3 2h0m0-3h0m1 1h0m4-1h0m1 2h0m2 6h0m5-8h0" stroke="#7765C8" stroke-width="3.8" stroke-linecap="round" fill="none"/><path d="M623 659h0m1-4h0m1 3h0m0-3h0m3 4h0m1 0h0m2-3h0m1-2h0m2 2h0m1 0h0m0 0h0m4 5h0m-1 3h0m-1 7h0m0-7h0m0 3h0m-1-6h0m-1 1h0m0 9h0m-1-3h0m0-3h0m-2 6h0m-1-11h0m0 6h0m-2-5h0m-1 4h0m-2-5h0m-2 10h0m0 0h0m0 8h0m1-1h0m1 0h0m1-1h0m2-1h0m1 1h0m2 4h0m2-4h0m-7 8h0" stroke="#6253BD" stroke-width="3.8" stroke-linecap="round" fill="none"/><path d="M694 668h0m-1 1h0m-2 2h0m0-3h0m-1 2h0m-1-5h0m-2 2h0m-2-2h0m0 1h0m-1 1h0m0 3h0m-1-6h0m-2 4h0m-1 3h0m-2-2h0m0 0h0m0 0h0m-2 2h0m0-3h0m0 0h0m-2 0h0m-28 3h0m-7-11h0m-35 8h0m-1 2h0m0-2h0m-1 2h0m0-1h0m0-3h0m-4 16h0m1-7h0m1 1h0m1 5h0m0-4h0m1 2h0m3-5h0m3 0h0m0-2h0m2 11h0m0-9h0m1 8h0m1-4h0m50 4h0m3-2h0m1 2h0m0-4h0m1 1h0m2-3h0m2-4h0m0 8h0m0-1h0m0-3h0m1 4h0m1-3h0m1-5h0m1 10h0m1-2h0m0-1h0m1-6h0m0 5h0m1-3h0m0 2h0m1 0h0m1 3h0m3 3h0m0-11h0m1 4h0m1 6h0m0 1h0m0-5h0m1-4h0m1 5h0m2-7h0m0 6h0m0-5h0m1 1h0m4 9h0m1-9h0m0-2h0m1 0h0m1 4h0m0 6h0m2-9h0m0 9h0m0-2h0m7 12h0m-1-5h0m-1 0h0m0-2h0m-1 0h0m0 4h0m-2 0h0m0 1h0m-1-1h0m0 4h0m-1-2h0m-1-7h0m-1 3h0m-1 8h0m-1 0h0m-2 0h0m-1 0h0m-2-2h0m-1 2h0m-2-2h0m0 0h0m-1-1h0m-2 2h0m-4-7h0m-1 2h0m-1-3h0m0 5h0m0 0h0m-2-2h0m-1-3h0m0 5h0m-1 3h0m-3-6h0m0-4h0m-1 2h0m-1 7h0m-3-6h0m0 8h0m-2-3h0m-1-3h0m-1-4h0m0 3h0m-2 1h0m-36-1h0m0 3h0m-1-7h0m-3 4h0m-2 6h0m-2 0h0m0-9h0m-2 10h0m0-10h0m-2 2h0m0 2h0m-1 0h0m-1 0h0m-1 5h0m-1 0h0m-1-8h0m-3 5h0m-1 4h0m-2-9h0m-1 2h0m-3-4h0m-4 23h0m0-8h0m2 2h0m3-3h0m0 8h0m2 1h0m1-4h0m5-4h0m3 4h0m0 0h0m0-3h0m1-2h0m1 5h0m3 1h0m2-2h0m0-1h0m0-1h0m3-1h0m6 4h0m6 2h0m8-1h0m1 1h0m5-6h0m5 8h0m24-11h0m3 1h0m2-1h0m4 2h0m0 5h0m1-6h0m3 2h0m1 6h0m2-1h0m3-5h0m1 3h0m0-4h0m2 2h0m1 6h0m3-9h0m0 4h0m1 2h0m1-4h0m7 6h0m-3 4h0m-1 5h0m-2 0h0m-2-3h0m-71-1h0m-2-2h0m0 5h0m0 2h0m-1 3h0m-4-9h0m-1 1h0m-2 2h0m0 0h0m-3-3h0m-3 9h0m0 1h0m-2 0h0m-1-3h0m-1 0h0m-1-5h0m0 7h0m-1-6h0m-1 0h0m0 6h0m0 1h0m0-3h0m-1-8h0m0 10h0m0 0h0m-4-9h0m-1 4h0m0 6h0m-1-7h0m-1-4h0m0 2h0m-1 6h0m-1 3h0m-2-8h0m0 5h0m-3-5h0m-2 19h0m2 0h0m1-4h0m0 1h0m0 1h0m0 1h0m1 1h0m0-1h0m2 2h0m0-7h0m1 1h0m0 5h0m0-10h0m0 0h0m0 2h0m2 8h0m3 0h0m0-5h0m1 4h0m1 0h0m1 1h0m0-10h0m1 11h0m0-10h0m1 9h0m1-4h0m1 5h0m2-1h0m1 0h0m0-9h0m1 3h0m2 5h0m1-4h0m0-5h0m0 2h0m1 4h0m0-4h0m0 0h0m1 3h0m0 2h0m0-4h0m3 4h0m0 3h0m1-3h0m1-5h0m2 0h0m7 0h0m1 1h0m1 8h0m1-6h0m1 0h0m1-1h0m1 5h0m0-1h0m0 1h0m1 0h0m-19 7h0m-4-4h0m-1 5h0m-2-5h0m0 3h0m-1 0h0m-1-1h0m0 3h0m-2-3h0m0 0h0m-2 6h0m-1-8h0m-1 7h0m0-1h0m-1 3h0m-1-5h0m-2-3h0m0 4h0m-1 0h0m0-1h0m-1 6h0m0-9h0m-2-1h0m-1 0h0m-1 3h0m-3 6h0m0-5h0m0 10h0m1 4h0m1 0h0m2-5h0m0 7h0m4-7h0m2 5h0m1 0h0m0 1h0m1-4h0m0 0h0m0-3h0m1 9h0m1-6h0m3 1h0m0 1h0m0 3h0m0 0h0m2 3h0m1 0h0m2-9h0m0 0h0m2 2h0m0 1h0m1 6h0m0-10h0m1 8h0m1-6h0m0 2h0m-2 8h0m-1 0h0m-2 7h0m-1-8h0m0 1h0m0 7h0m0-4h0m-1 5h0m-1 2h0m0-11h0m-3 6h0m-1 3h0m0 1h0m-1-5h0m-1 2h0m0-6h0m-1 1h0m-1 2h0m-1-4h0m-3 7h0m-4 0h0m0-7h0m-1 6h0m0 0h0m-2 0h0m0-1h0m-1-3h0m11 13h0m3 1h0m3 0h0m0-1h0m1 1h0m0 1h0m0-5h0m1 6h0m0-1h0m2-4h0m0 6h0m1-5h0m3 2h0m3-2h0m1 4h0m2-1h0m1 0h0" stroke="#D3D3D3" stroke-width="3.8" stroke-linecap="round" fill="none"/><path d="M689 671h0m-3-7h0m0 2h0m0-3h0m-2 8h0m-4 0h0m-5-1h0m-3 0h0m-69 0h0m-3 11h0m1 0h0m2-5h0m1-2h0m2-2h0m7 6h0m2 2h0m51-1h0m4 3h0m1-10h0m3 9h0m1-6h0m0 0h0m2-2h0m0 2h0m0 1h0m5 2h0m1-6h0m1 8h0m5-3h0m7 5h0m6 1h0m0-1h0m3 11h0m-2 2h0m-3-3h0m-1-8h0m-1 7h0m-1-2h0m-7 6h0m-11-7h0m-14-3h0m-3 7h0m-2-4h0m-36-2h0m-2 4h0m-4-3h0m-2 8h0m-5-11h0m-1 9h0m0 1h0m0 0h0m0 1h0m-2-6h0m-3-1h0m-1 1h0m-5-1h0m-6 17h0m2-3h0m0-2h0m1 5h0m2-6h0m0 3h0m6-2h0m2-4h0m1 9h0m5 1h0m1-7h0m3-3h0m1 10h0m2-6h0m3 7h0m15-2h0m2 1h0m25-8h0m16-1h0m1 3h0m1-3h0m2 3h0m13 5h0m1-1h0m-70 15h0m0-9h0m0 3h0m-11-3h0m-3 6h0m0 2h0m-2-7h0m0 4h0m0-4h0m-1 6h0m-4-5h0m-1 3h0m-2-7h0m-3 3h0m-2 5h0m0-8h0m-2 2h0m-1-1h0m0 4h0m-3 2h0m0-7h0m-1 6h0m-1 5h0m1 10h0m1 0h0m0-2h0m5 1h0m1-1h0m2-1h0m6 0h0m1-3h0m2 7h0m2 1h0m0-4h0m1 1h0m2-1h0m1 2h0m0-9h0m1 7h0m17 3h0m5-7h0m2-1h0m0 1h0m-23 13h0m-5-2h0m-1 4h0m-1-5h0m-2 6h0m0-7h0m-2 5h0m-4 4h0m-1-2h0m0 0h0m-3 3h0m-1-8h0m-2 8h0m-4 1h0m0 5h0m0 1h0m0 1h0m2-1h0m1 4h0m0 1h0m1-2h0m1-2h0m0-2h0m8 6h0m0-6h0m4 0h0m3-3h0m1 10h0m0-8h0m4 4h0m1 1h0m2 10h0m-4 3h0m0-7h0m-1 0h0m-2 1h0m-2 7h0m-3 1h0m-2-7h0m-1-2h0m-1 6h0m0-1h0m-2-5h0m-2 8h0m-3-7h0m-1-3h0m0 9h0m-1-2h0m-3-4h0m14 12h0m1 0h0m3-1h0m0 5h0m3-1h0m4-2h0m1-2h0m0 2h0m1 3h0m1 0h0m1 0h0" stroke="#C7B5EA" stroke-width="3.8" stroke-linecap="round" fill="none"/><path d="M693 664h0m-2 5h0m-3-3h0m0 0h0m-5 0h0m-5 1h0m-4 2h0m-72 1h0m-5 13h0m5-2h0m2-4h0m1 0h0m2-5h0m0 1h0m3 2h0m0 7h0m1-1h0m1 0h0m53 2h0m7-3h0m1 0h0m3-2h0m3 3h0m2-6h0m2-3h0m1 6h0m1-3h0m0-1h0m3 3h0m4 5h0m1-8h0m1 6h0m4 1h0m0-4h0m2 0h0m0-5h0m5 16h0m0 4h0m-2-8h0m-2 8h0m-5-8h0m-7 11h0m-3-1h0m-3-10h0m-5 7h0m-7-2h0m-4 0h0m0 4h0m-2-4h0m-1-1h0m0 4h0m-46 3h0m-5-7h0m0 7h0m-2 0h0m-2 0h0m-2-9h0m-1 9h0m-5-9h0m-5 4h0m-4 13h0m1 3h0m2-2h0m0 2h0m2-6h0m0 3h0m2 2h0m6-8h0m0 8h0m2-5h0m0 1h0m1 0h0m1 5h0m1-3h0m0-2h0m0-4h0m2 3h0m1 1h0m3 4h0m0-8h0m0 2h0m1 6h0m5-1h0m2-7h0m17 5h0m1-1h0m0 1h0m2-3h0m9 8h0m34-4h0m0-3h0m2 4h0m5-3h0m4 2h0m2 0h0m1 3h0m3-9h0m1 6h0m0 1h0m0 2h0m1-7h0m0 2h0m1-2h0m3 12h0m-8 1h0m-73 2h0m-9 4h0m-9-3h0m-1-1h0m-2-6h0m0 11h0m0-5h0m-1 0h0m0 3h0m-9-6h0m-1 2h0m-1-1h0m0 4h0m-2 3h0m-3 7h0m0-4h0m3 9h0m1-9h0m2-2h0m3 2h0m4-1h0m3 6h0m0-6h0m1 0h0m3-1h0m1 8h0m1-6h0m2 8h0m8-3h0m12 4h0m42-11h0m-64 17h0m-1 2h0m-2-7h0m-2 2h0m-1-1h0m-4 9h0m-2 0h0m-3-4h0m-1 2h0m-2 1h0m0-4h0m-1 2h0m-1-4h0m-1-2h0m1 15h0m0-4h0m2 3h0m4-3h0m1 1h0m1 1h0m4-1h0m4 3h0m1 6h0m5 0h0m4-4h0m1 5h0m1 1h0m-4 3h0m-1 6h0m-2 0h0m-1 0h0m0 1h0m-4-7h0m-2 7h0m-1-7h0m-2 2h0m-5-1h0m-3-4h0m0 4h0m0 0h0m-1 0h0m8 10h0m1 1h0m2-1h0m7 1h0m2 2h0m1 0h0m0-1h0m1 3h0m0-2h0" stroke="#BAA7E6" stroke-width="3.8" stroke-linecap="round" fill="none"/><path d="M694 668h0m-1 0h0m-2-1h0m-2-2h0m-1 3h0m-8 0h0m-3 2h0m-55-10h0m-12 18h0m62-1h0m1-1h0m1-4h0m0 3h0m2 0h0m5 6h0m5-2h0m0-7h0m2 3h0m2 8h0m0-2h0m0-9h0m1 4h0m2-1h0m1 0h0m3 3h0m6 4h0m1 2h0m-4 4h0m-5-2h0m-1-1h0m-1-1h0m-6 10h0m-4 0h0m-4-4h0m-5 2h0m-13-8h0m-2 9h0m-41 2h0m-12-7h0m-1 1h0m-3-2h0m-9 5h0m4 9h0m19-3h0m50-2h0m18 4h0m13 0h0m5 4h0m7 8h0m-100 2h0m-4-6h0m-4 2h0m-8 1h0m-2 13h0m8 4h0m1-1h0m0-5h0m0 0h0m1 5h0m11 0h0m2 0h0m1-2h0m20 7h0m-19 11h0m-3-6h0m-9-3h0m-5 7h0m-1-1h0m-4 1h0m-2-1h0m-2-1h0m0 1h0m0 8h0m10-1h0m2 2h0m6-2h0m1 5h0m7 5h0m-3 1h0m-1 0h0m-3 7h0m-2-4h0m-11 3h0m2 6h0m17 4h0m3 1h0m1-4h0m1 2h0m3-4h0" stroke="#AD98E2" stroke-width="3.8" stroke-linecap="round" fill="none"/><path d="M624 658h0m1-1h0m0 1h0m3-1h0m4-3h0m61 12h0m-4 4h0m-7-3h0m-44-3h0m25 19h0m4-1h0m2-6h0m2-4h0m0 2h0m7 2h0m1 1h0m7-2h0m2 6h0m2 1h0m3-6h0m7 6h0m1-2h0m6 8h0m-4 0h0m-3-4h0m0 8h0m-1 0h0m-3 1h0m-1 0h0m0-9h0m-10 1h0m-7 7h0m-1-3h0m0 4h0m-1-9h0m0 5h0m0-2h0m-2 1h0m0-2h0m-1 7h0m-1 0h0m0-5h0m-2 5h0m-3-7h0m0-1h0m-1 10h0m18 6h0m3 0h0m9 5h0m0-1h0m2 0h0m3-9h0m1 7h0m0-6h0m6 15h0m-1-2h0m-56 8h0m-9 5h0" stroke="#A08ADE" stroke-width="3.8" stroke-linecap="round" fill="none"/><path d="M627 658h0m0-3h0m0 4h0m2-4h0m0 2h0m1 1h0m3 1h0m1-3h0m0 1h0m1 2h0m5 11h0m-3-4h0m-2 4h0m-1-10h0m0 8h0m0-8h0m-2 4h0m-4-3h0m-1 9h0m0-5h0m0 0h0m-5-3h0m2 17h0m1-3h0m2 0h0m0 2h0m2-4h0m0 3h0m2 1h0m1-5h0m0 1h0m0-2h0m0 6h0m1-4h0m5-2h0" stroke="#8B78D3" stroke-width="3.8" stroke-linecap="round" fill="none"/><path d="M622 659h0m5-6h0m0 2h0m3 3h0m1-4h0m2 5h0m1-2h0m2 1h0m1 1h0m0 0h0m2 4h0m0-1h0m0 2h0m-1 0h0m0 1h0m0 0h0m-1 6h0m-2-8h0m0 8h0m-1-3h0m-1-3h0m-1-4h0m-3 9h0m-2-7h0m-2 2h0m0 4h0m0-7h0m-1 4h0m1 11h0m2-2h0m1 2h0m1 2h0m2-2h0m3 2h0m3-7h0" stroke="#7765C8" stroke-width="3.8" stroke-linecap="round" fill="none"/><path d="M623 658h0m1 1h0m4 0h0m1-1h0m1-4h0m1 1h0m4 3h0m1 0h0m0 0h0m3 4h0m0 6h0m-1-5h0m-1 2h0m-1 3h0m0 1h0m-2-7h0m-1-1h0m-1 8h0m-1-4h0m-1-1h0m0 1h0m-1-3h0m-1 6h0m0 0h0m-1-8h0m-1 9h0m0-6h0m-3-3h0m0 0h0m1 17h0m1 1h0m1 1h0m0-1h0m1 1h0m0-3h0m1 0h0m2-2h0m1-1h0m1 0h0m0 4h0m1-2h0m0-2h0m0 5h0m1 2h0m1-5h0m3-2h0m1 0h0m-15 50h0" stroke="#6253BD" stroke-width="3.8" stroke-linecap="round" fill="none"/><path d="M699 670h0m-2-3h0m-4 4h0m-1 0h0m-2-6h0m-1-2h0m-1 4h0m-5 1h0m0-3h0m-1 5h0m0-6h0m-3 2h0m-2 4h0m-2-2h0m0 2h0m-1 1h0m-1-1h0m-66-1h0m0 2h0m-1-2h0m-3 0h0m-3-1h0m-4 11h0m2 3h0m1-3h0m4-5h0m1 5h0m1-6h0m0 8h0m0-9h0m0 0h0m1 6h0m1 5h0m2-8h0m1 1h0m4-2h0m1 1h0m50 5h0m0 0h0m2 2h0m2-8h0m3 8h0m1-6h0m1 3h0m1 1h0m1 1h0m1-6h0m0 2h0m3 2h0m1 0h0m1 1h0m0-1h0m1 1h0m0 1h0m1-6h0m1 8h0m5-7h0m1 5h0m3-5h0m0 3h0m1-4h0m1 8h0m0-10h0m0 1h0m0-1h0m1 2h0m2 8h0m2-3h0m5 14h0m0-4h0m-2-3h0m0 0h0m-2 2h0m0 2h0m-2-4h0m0-2h0m-3 1h0m-2 8h0m-1-1h0m-1-4h0m-4 3h0m-2-8h0m-1 1h0m0 7h0m-2 3h0m-1-11h0m-2 6h0m-1 0h0m0-6h0m-1 9h0m0-4h0m-2 1h0m0 2h0m-1-3h0m-4 6h0m0-3h0m0-1h0m-1-1h0m0 3h0m-2-5h0m-1 1h0m-1 2h0m0-7h0m0 9h0m-2-6h0m0-3h0m-1 6h0m0 2h0m-3-2h0m0-4h0m-39 5h0m-1 0h0m-6 2h0m-3 0h0m0 2h0m-1-3h0m0-1h0m-2 3h0m-1 0h0m0 0h0m-1-10h0m-1 2h0m-2 1h0m0 8h0m-2-4h0m-3-2h0m0-5h0m-1 1h0m-2 6h0m0 1h0m0-4h0m-5 12h0m1 1h0m2 1h0m2 4h0m1-7h0m0 8h0m0-6h0m1 4h0m0 0h0m0-3h0m0-1h0m1 0h0m2 4h0m1-1h0m1-7h0m3 7h0m0-8h0m0 3h0m1 2h0m1 3h0m0 2h0m1-10h0m0 3h0m1 7h0m1-7h0m2 4h0m1-4h0m1 1h0m1 6h0m0-2h0m0-6h0m0 0h0m0 1h0m0 0h0m2 5h0m2-7h0m3 8h0m17-2h0m5-4h0m33-2h0m2 2h0m2 0h0m3 5h0m1-4h0m0 0h0m1 5h0m0-5h0m1 0h0m1 3h0m2-1h0m1 0h0m1-2h0m0 0h0m1 3h0m0-2h0m1 1h0m2-3h0m0 6h0m1-6h0m2 4h0m1 0h0m3-7h0m1 8h0m2-4h0m1 2h0m2 10h0m-3-1h0m-3-1h0m-2-1h0m-4-1h0m-2 1h0m-46 9h0m-1-7h0m-9-3h0m-10 0h0m-1 0h0m0 9h0m-1-1h0m-2 3h0m-2-8h0m-1-3h0m-1 8h0m0-1h0m0-7h0m-1 5h0m-1-2h0m-2 2h0m0 4h0m-3 2h0m0-4h0m0-3h0m-1 4h0m-1 3h0m0-7h0m-1 2h0m-1-5h0m0 8h0m0 1h0m-1-6h0m0-4h0m0 4h0m-1 7h0m-2-6h0m-1 2h0m0-7h0m-2 8h0m-2 2h0m-1 1h0m-1-5h0m0-5h0m-1 0h0m-2 4h0m0-2h0m-1 1h0m0 2h0m-3-1h0m0 2h0m-2 2h0m2 11h0m1-2h0m0 0h0m0 0h0m3-1h0m0-4h0m0 0h0m1 0h0m1 7h0m0-7h0m1 7h0m0 2h0m0-3h0m2 1h0m2 2h0m0-8h0m1 3h0m2 2h0m0 0h0m1-1h0m0-4h0m2 7h0m1-3h0m1 0h0m0 5h0m0-3h0m1-2h0m0-5h0m1 0h0m0 0h0m0 1h0m1 0h0m3 5h0m0-1h0m1 3h0m0-4h0m1 1h0m1 5h0m2-5h0m11 4h0m2 0h0m0 1h0m1-5h0m0-3h0m1 1h0m1-3h0m53 19h0m-57-8h0m-22 6h0m-1 0h0m-2-1h0m0 3h0m-1 1h0m-8-2h0m-1-3h0m0-1h0m-1 7h0m0-4h0m-1 5h0m0-2h0m-2-1h0m-3 3h0m-2-6h0m0 15h0m0-4h0m2 7h0m2 0h0m2-1h0m5-10h0m2 2h0m1-2h0m1 6h0m1-3h0m0 8h0m1-6h0m0 6h0m1-10h0m0 0h0m1 8h0m1-8h0m3 9h0m0-9h0m1 2h0m2 0h0m0 4h0m1 1h0m52-5h0m-48 18h0m0-6h0m-2-1h0m0 3h0m-1-4h0m0 10h0m-4-3h0m-1-8h0m-1 5h0m-1-4h0m-4 7h0m-1 2h0m0-6h0m-1 0h0m-3 1h0m-3 0h0m-1-2h0m-1 8h0m-1-3h0m0-2h0m-1-3h0m0 3h0m-1-2h0m0 3h0m-1-3h0m-2-3h0m9 14h0m9-3h0m1 6h0m1-2h0m4 0h0m1-4h0m2 5h0" stroke="#D3D3D3" stroke-width="3.8" stroke-linecap="round" fill="none"/><path d="M691 670h0m-3 1h0m-1-7h0m-1 5h0m-1-5h0m-79 6h0m-3-2h0m-1 1h0m3 9h0m0 5h0m5-2h0m10 1h0m43-1h0m3-1h0m4 3h0m4 0h0m3-5h0m1 1h0m1-5h0m1 4h0m1 4h0m1-2h0m0 3h0m3-4h0m6-2h0m4-1h0m1-3h0m0 2h0m1-2h0m0 9h0m4 0h0m5 12h0m-3-8h0m-2-2h0m-1 7h0m-1 1h0m-2-7h0m-5 0h0m-1 8h0m-4-9h0m-1 7h0m0 4h0m-11-2h0m-1 2h0m-7-10h0m-1 1h0m0 8h0m-4-2h0m-38 3h0m-11-8h0m-1 7h0m-1 1h0m-2-2h0m0-8h0m-1-1h0m-2 9h0m-3 0h0m0-6h0m-2 3h0m-1 3h0m-1-3h0m-3 0h0m-4 16h0m0-2h0m0-1h0m2-3h0m0 3h0m1 3h0m0-7h0m0 8h0m2-3h0m7 1h0m1-3h0m3-2h0m1 7h0m3-1h0m2-7h0m3 0h0m7 1h0m29 5h0m2-4h0m28-1h0m5 6h0m5-1h0m3-4h0m4-1h0m0 0h0m1-2h0m3 6h0m1 2h0m1-4h0m2-3h0m0 13h0m-5 1h0m-7-5h0m-45 2h0m-7 9h0m-7-8h0m-18 3h0m-2 5h0m-6-10h0m-9 1h0m-1 8h0m0-4h0m0 5h0m-1-1h0m-1-6h0m0-3h0m-4 4h0m-3-1h0m-2 18h0m4-3h0m1 3h0m1-1h0m3 2h0m1-8h0m8 2h0m3 1h0m3-4h0m1 6h0m16-6h0m6 1h0m-21 15h0m-3-3h0m-3 0h0m-3 4h0m-1 2h0m0-2h0m-2 1h0m-1-5h0m-2 3h0m-2-6h0m-2 8h0m0-6h0m-5-1h0m-2 4h0m1 11h0m4 3h0m3-2h0m5 3h0m2-2h0m2 5h0m1-9h0m2 6h0m2-5h0m1 5h0m4 1h0m3 8h0m-3 0h0m-4-3h0m0-2h0m-2 1h0m-2 6h0m-2-7h0m-1 5h0m-1 5h0m-1-10h0m0 7h0m0-3h0m-1-3h0m-7 2h0m-1-3h0m-1 6h0m5 6h0m5 1h0m2 3h0m3 0h0m7 0h0m1-3h0m2 1h0" stroke="#C7B5EA" stroke-width="3.8" stroke-linecap="round" fill="none"/><path d="M694 670h0m0-1h0m-4 2h0m-2-6h0m0 6h0m-4-6h0m-5 6h0m-3-1h0m-70 1h0m-4-1h0m-1-2h0m0 3h0m-1 6h0m6-3h0m4 3h0m5 3h0m48 1h0m8-7h0m5 1h0m2 6h0m6 1h0m1-8h0m9 3h0m1-5h0m3 4h0m1-4h0m2 7h0m-2 11h0m-9-6h0m-15 8h0m-4 1h0m0-9h0m-1 5h0m0 6h0m-4-5h0m-1 0h0m0 0h0m-42-3h0m0 0h0m-6 0h0m-7 8h0m0-7h0m-2 0h0m-1-1h0m-2 7h0m-1 1h0m-2-4h0m-3-6h0m-6 13h0m4 7h0m3 0h0m2 1h0m4-5h0m1-3h0m2 0h0m2-2h0m1 11h0m1-9h0m1 5h0m2-3h0m0 4h0m7 3h0m8-6h0m49-5h0m4 0h0m8 4h0m7 5h0m6-6h0m0-2h0m1 3h0m2 0h0m-3 14h0m-1-1h0m-53 1h0m-14-1h0m-1-3h0m-7 4h0m0-5h0m-1-1h0m-4 0h0m-7 5h0m-2 0h0m-2 6h0m0-1h0m-1-4h0m-4-2h0m-3-3h0m-8 5h0m0-5h0m-1 8h0m0-8h0m-1 1h0m0-1h0m-4 20h0m1-3h0m8-4h0m2-2h0m4 8h0m0-7h0m0-1h0m3 11h0m2-6h0m0 3h0m4 0h0m4-6h0m4 5h0m12 1h0m2-4h0m1-2h0m1 6h0m-32 14h0m-1-5h0m-3-2h0m-2 6h0m-2 2h0m-2-11h0m-1 9h0m-1-9h0m0 11h0m-4-3h0m-1-8h0m1 20h0m0-5h0m6 8h0m2-10h0m1-1h0m0 6h0m4 0h0m4-6h0m13 16h0m0 0h0m-2-1h0m0 0h0m-1 0h0m-6 7h0m-1-1h0m-3-5h0m-6-3h0m-4 5h0m-2-2h0m-1 7h0m-2-7h0m14 10h0m1 2h0m2-2h0m7 1h0m3 3h0m2-6h0" stroke="#BAA7E6" stroke-width="3.8" stroke-linecap="round" fill="none"/><path d="M638 657h0m58 12h0m-1-4h0m-2-1h0m-1 7h0m-2-6h0m-2-1h0m0 2h0m-5-2h0m-10 5h0m-74 11h0m1-4h0m71-1h0m7-3h0m0 3h0m4-3h0m2 4h0m5-3h0m2-1h0m1 6h0m2 1h0m0 2h0m1-7h0m0-1h0m4 5h0m1-5h0m1 10h0m2-3h0m1 13h0m-2-4h0m-1-4h0m-2 7h0m-3 3h0m-1-10h0m-12-1h0m-2 6h0m-4 0h0m-1 3h0m-1-5h0m-1 5h0m-1 2h0m-1-7h0m-5 3h0m0 1h0m-4-8h0m0 11h0m-46 0h0m-13-9h0m-2 9h0m-8 9h0m11 1h0m2-7h0m7 1h0m79 5h0m1-5h0m0 1h0m2-1h0m4 0h0m2 4h0m5-5h0m-1 15h0m-3-3h0m-94 3h0m-7-5h0m-1 8h0m-5-5h0m-6 19h0m1 0h0m1-7h0m12 5h0m7-5h0m1 6h0m0-5h0m3-3h0m10 2h0m13 3h0m-23 12h0m0-5h0m-1 3h0m-7 0h0m-5 0h0m-2 2h0m-5 3h0m-3 9h0m4 4h0m3-7h0m7 5h0m11-4h0m0 2h0m-2 16h0m-4-2h0m-4-5h0m-1 7h0m-4-3h0m-1 2h0m0-2h0m-5-4h0m-2-2h0m12 12h0m3 2h0m5 4h0m1 0h0m0-7h0m4 5h0m0-4h0" stroke="#AD98E2" stroke-width="3.8" stroke-linecap="round" fill="none"/><path d="M622 659h0m66 6h0m-3 6h0m-1-3h0m-4 3h0m-2-1h0m-37-5h0m-8-4h0m-6 2h0m-1-2h0m-3-1h0m2 14h0m7 5h0m1 1h0m37-6h0m4 0h0m1 7h0m19-7h0m1 0h0m3 6h0m0-4h0m7 18h0m-3-8h0m-1 7h0m0-9h0m0 0h0m-1 1h0m0 4h0m-1-3h0m-12 9h0m-9 0h0m-3-6h0m-8 1h0m-2-6h0m-2 10h0m-7 4h0m22 0h0m2 0h0m4 3h0m1 0h0m7-2h0m2 2h0m1-3h0m1 2h0m0-2h0m2-1h0m9 4h0m1 0h0m-4 13h0m-54-3h0m-18 12h0m1 8h0" stroke="#A08ADE" stroke-width="3.8" stroke-linecap="round" fill="none"/><path d="M623 655h0m9 0h0m0 0h0m2 1h0m0-1h0m2 3h0m1-1h0m4 14h0m-1 0h0m-2-10h0m-1 2h0m0 1h0m0-2h0m0 4h0m-1-1h0m-1-3h0m0 8h0m-1-8h0m0-2h0m0 10h0m-1-4h0m0 2h0m-1-5h0m0 1h0m-2 2h0m-1-6h0m0 8h0m0-3h0m-2 1h0m-2-3h0m-1 6h0m0 2h0m-2-11h0m4 16h0m2-4h0m3 4h0m7-4h0m1 2h0m1-2h0m1 0h0" stroke="#8B78D3" stroke-width="3.8" stroke-linecap="round" fill="none"/><path d="M624 659h0m0-2h0m1-3h0m0 5h0m6-1h0m0-2h0m2 3h0m0-2h0m2 0h0m0 0h0m0-1h0m0 2h0m0-1h0m6 10h0m0-1h0m-1 4h0m-1-7h0m-1 8h0m-1-6h0m-1 3h0m0 3h0m-2-2h0m0 0h0m0 1h0m-2-8h0m-2-2h0m-2 9h0m-4-5h0m0 1h0m0-4h0m0 6h0m-1 4h0m-1-11h0m1 13h0m1 5h0m5 0h0m1-1h0m1-5h0m5 0h0m0 7h0" stroke="#7765C8" stroke-width="3.8" stroke-linecap="round" fill="none"/><path d="M624 659h0m1-2h0m1 0h0m2 1h0m1 0h0m0 0h0m2 1h0m0 0h0m9 5h0m-2-3h0m-1 9h0m-1 1h0m-3 0h0m-6-11h0m-2 3h0m-2 2h0m0 13h0m1-5h0m1 0h0m0 8h0m1-6h0m1-3h0m0 5h0m2 0h0m1 1h0m2-3h0m3 5h0m1-1h0m2-7h0m2 1h0" stroke="#6253BD" stroke-width="3.8" stroke-linecap="round" fill="none"/><path d="M576.0 639.8V790.3H721.7" fill="none" stroke="#111" stroke-width="1.5"/><path d="M83 850h0m0 1h0m0-1h0m2 0h0m0-2h0m0-3h0m2 4h0m0-3h0m0 5h0m1 0h0m0-1h0m0-1h0m1 0h0m0 2h0m0-2h0m0-2h0m0 1h0m2-1h0m0 4h0m0-1h0m0-3h0m3 1h0m0-1h0m0 1h0m1 3h0m0-1h0m0-2h0m1 2h0m0-1h0m1 2h0m1-3h0m61 14h0m0 0h0m-5-2h0m0 3h0m-1-4h0m0 1h0m0 2h0m-1 0h0m-1-6h0m0 5h0m0 1h0m0-3h0m0 0h0m-1-3h0m0 7h0m-1-1h0m0-5h0m-1-2h0m0 7h0m0-3h0m0-1h0m-1 1h0m-1 1h0m0-3h0m0 4h0m0-4h0m0-1h0m0 5h0m-1 2h0m0 0h0m0-7h0m0 0h0m-1 5h0m-1-2h0m0 4h0m0-8h0m-3 7h0m-1-5h0m-1 4h0m0-2h0m0 1h0m0 3h0m0-3h0m0 0h0m-1 1h0m0 0h0m-1-2h0m-1 2h0m-1 2h0m0-3h0m-1 0h0m0 1h0m-1 1h0m-26 1h0m-5-4h0m-1 4h0m0-1h0m0-7h0m-1-2h0m0 2h0m-1 0h0m0 1h0m0-1h0m0-2h0m0 3h0m-1 7h0m0-8h0m0 7h0m-1-3h0m0 4h0m0 0h0m0-3h0m0-8h0m0 4h0m-1-3h0m0 7h0m0-5h0m0-1h0m0 6h0m-1-7h0m0 8h0m0-2h0m-1-2h0m-1 5h0m0-8h0m-1 5h0m0-1h0m-2 2h0m-1 1h0m0-2h0m0-3h0m-1 7h0m0-6h0m0-3h0m-1 0h0m-1 3h0m0 4h0m-1-1h0m0-2h0m-1-6h0m0 11h0m0-1h0m-1-10h0m-15 9h0m0 1h0m0 1h0m-1 0h0m-2-3h0m-1-1h0m0 2h0m-1 1h0m0-1h0m-1-2h0m0 1h0m-5 12h0m1 2h0m1-2h0m0 1h0m1 2h0m1-7h0m0 4h0m0-1h0m1 1h0m0-2h0m1 2h0m1-4h0m1 3h0m0-3h0m0-1h0m1 2h0m0-5h0m0 6h0m0-6h0m0 1h0m0 8h0m1-4h0m0-3h0m1-2h0m0 1h0m2 4h0m1-4h0m0 8h0m0-4h0m1 5h0m0-1h0m1-3h0m0 3h0m0-4h0m0 3h0m1-2h0m0-1h0m1-4h0m0 1h0m1 5h0m0-4h0m8 2h0m1-1h0m0 1h0m1-3h0m0-2h0m0 8h0m1-6h0m0 4h0m0 0h0m1-3h0m0 2h0m0 1h0m0-3h0m1 2h0m1-4h0m2 2h0m0 3h0m1-4h0m0-1h0m0 2h0m0 2h0m1-2h0m0-2h0m1 3h0m0 3h0m0 1h0m1-2h0m1 0h0m2-6h0m1 0h0m22 11h0m2 0h0m1-2h0m2-2h0m0 2h0m1 2h0m0-2h0m2-8h0m1 9h0m1-8h0m0-1h0m0 0h0m1 8h0m0-4h0m0 2h0m1 3h0m0-7h0m1-1h0m1 6h0m0 0h0m0 1h0m0-6h0m1 8h0m0-3h0m0-3h0m0 1h0m0-3h0m0-1h0m1 9h0m0-9h0m0 2h0m0-1h0m1 2h0m0-1h0m1 0h0m0-2h0m1 6h0m0-1h0m0 4h0m0-4h0m0-2h0m1 3h0m0 1h0m0-7h0m1 8h0m0-5h0m0-2h0m1 8h0m1-4h0m0 1h0m0-1h0m0-5h0m1 3h0m0-3h0m1 5h0m0-6h0m1 5h0m2-6h0m0 0h0m0 0h0m0 4h0m0 1h0m1 5h0m0-1h0m0-8h0m1 9h0m0-5h0m1 4h0m0-9h0m1 4h0m1-3h0m0 6h0m0 0h0m0 1h0m0-4h0m1 7h0m0-10h0m0 0h0m1 1h0m1 9h0m0-9h0m0 7h0m1 0h0m0 0h0m0 2h0m0-8h0m1 2h0m0 0h0m1-1h0m1 4h0m0 0h0m0 3h0m0-4h0m1 3h0m0-1h0m1 2h0m5 10h0m-1-5h0m0 3h0m-1 2h0m-1 1h0m0-1h0m0-2h0m-1-5h0m0 9h0m-1 0h0m0-11h0m0 10h0m0-9h0m0 3h0m-2 5h0m0-3h0m0 1h0m0-6h0m-1 4h0m0 3h0m0-1h0m0 1h0m0-1h0m0-7h0m0 11h0m0-7h0m-1 1h0m0 3h0m-2-4h0m-1-4h0m0 9h0m0 1h0m0 0h0m-1-3h0m0-6h0m0 8h0m0 1h0m-2 0h0m0-6h0m-1 6h0m-2-2h0m-1-7h0m0 9h0m0 1h0m-2-1h0m0 0h0m-1-1h0m0 0h0m-2-2h0m0 4h0m-3-6h0m-2 0h0m-1 1h0m0 1h0m0 1h0m0-8h0m0 10h0m-1-2h0m0-2h0m-1-6h0m0 4h0m-1 0h0m0 4h0m0-4h0m-1 5h0m-2-2h0m0-4h0m-1 5h0m0 0h0m-1-4h0m0 4h0m0-5h0m-2 3h0m0-2h0m-1 1h0m0 1h0m0-6h0m0 8h0m0-1h0m0-7h0m-1 2h0m0 9h0m0-10h0m0 0h0m0 5h0m0 5h0m-1 0h0m-1-3h0m-1-4h0m0 0h0m0 6h0m-1-10h0m0 1h0m-1 0h0m0 3h0m-38-2h0m-1 5h0m-4 3h0m0-10h0m-1 6h0m-2 2h0m-1-7h0m-1 9h0m0-1h0m-2 2h0m0-5h0m0-6h0m-1 9h0m-1 0h0m0 1h0m0-10h0m0 1h0m-1 8h0m0-5h0m0-3h0m-1 0h0m0 1h0m-1 5h0m0 4h0m0-3h0m0-6h0m-2 4h0m0 2h0m0-6h0m0 3h0m-1-3h0m-1 0h0m0 5h0m0 3h0m-1-9h0m-1 7h0m-1-3h0m-1-5h0m-1 10h0m0-10h0m-1 5h0m0 0h0m-6 18h0m2-4h0m0-1h0m1 2h0m0 2h0m1-6h0m0 1h0m1-2h0m0 8h0m0-4h0m1 1h0m0-5h0m1-2h0m0 2h0m0 6h0m0 2h0m0-6h0m1-2h0m0 5h0m1 0h0m1 3h0m1-2h0m0-3h0m1 0h0m0 3h0m1-9h0m1 8h0m1-2h0m0 2h0m0-3h0m1 6h0m0-4h0m1-6h0m1 3h0m0-3h0m1 8h0m0-8h0m0 0h0m1 0h0m0 2h0m0 7h0m1-4h0m0-1h0m0-4h0m0 10h0m2-9h0m3 5h0m0-6h0m0 0h0m0 3h0m0 3h0m0 4h0m0-8h0m1 1h0m0-3h0m0 1h0m1 0h0m0 8h0m2-10h0m3 9h0m1 2h0m1-4h0m15 0h0m2-3h0m0 2h0m3-4h0m8 6h0m0 2h0m12-10h0m1 0h0m12 1h0m0 0h0m2 0h0m0-1h0m0 2h0m1 2h0m1-3h0m1 0h0m0 3h0m1 0h0m2 0h0m1-2h0m0-1h0m0 7h0m0-5h0m3 5h0m2-6h0m1 0h0m0 6h0m2 3h0m1-8h0m0-1h0m1 7h0m1-7h0m0-1h0m0 8h0m1-7h0m1 3h0m0-2h0m0 2h0m0-5h0m0 4h0m1 3h0m0-5h0m0 1h0m0 3h0m0 3h0m1-7h0m0 0h0m0 8h0m2-9h0m1-1h0m0 6h0m0 3h0m1-6h0m1 1h0m0-3h0m1 2h0m0 0h0m-1 11h0m-3-1h0m0 4h0m0 0h0m-1 0h0m-52 4h0m0-8h0m-20-1h0m-1 2h0m-1 3h0m0 3h0m-1-2h0m-4-4h0m0 2h0m-4-1h0m0 1h0m0 0h0m-1 4h0m-4-2h0m0 0h0m0-1h0m0-1h0m-1 4h0m0 1h0m0 0h0m0 1h0m-2-5h0m0 5h0m0-8h0m-1 3h0m0 6h0m0-10h0m0 5h0m0 1h0m0-6h0m0 6h0m0-5h0m-1 4h0m0 3h0m-1-4h0m0 6h0m0-8h0m-1 5h0m0 2h0m0-4h0m0-3h0m-1 1h0m0 4h0m0-4h0m0 5h0m-1 0h0m-2-9h0m-3 9h0m0-1h0m0 3h0m0-1h0m-2-7h0m-1 3h0m0 5h0m-1-9h0m-1 3h0m0 2h0m0-5h0m0-2h0m-1 8h0m0-7h0m-2 2h0m0 1h0m-1-1h0m0 5h0m-1 7h0m0 5h0m0-3h0m1 4h0m0 0h0m1-2h0m0-1h0m1 3h0m0-1h0m0-2h0m1 3h0m0-8h0m1 9h0m0 1h0m1-3h0m0 1h0m0-8h0m2 6h0m1 1h0m0 1h0m0-7h0m0 0h0m1 4h0m0 0h0m1 4h0m0-3h0m1 1h0m0-5h0m1 6h0m0-3h0m0 4h0m0-10h0m0 1h0m1 5h0m1 4h0m0-5h0m1 3h0m0 1h0m0-3h0m1-2h0m0-2h0m0 0h0m1 8h0m0-2h0m1 1h0m1 0h0m0-3h0m0 3h0m0-4h0m0-2h0m1 4h0m0-1h0m0 1h0m0-4h0m1-2h0m1 5h0m0-5h0m0-1h0m0 1h0m1 5h0m0 3h0m0-1h0m0-4h0m0 3h0m1-3h0m1 1h0m0-3h0m1 5h0m3-2h0m0 1h0m1 2h0m0-3h0m0-5h0m0 0h0m2 3h0m0-1h0m10 8h0m1-2h0m0 2h0m0-6h0m1 6h0m1-6h0m0 2h0m0-3h0m1 5h0m1 0h0m1-7h0m1 1h0m3-1h0m-28 16h0m0 1h0m-1-1h0m0-5h0m-2 2h0m0 2h0m0 2h0m-1-1h0m-1-5h0m0 0h0m-1 7h0m0-5h0m-1-1h0m-1 0h0m0 4h0m-1 3h0m0 1h0m0-6h0m-2 4h0m0-1h0m-1 2h0m0 0h0m-1-5h0m0 5h0m-1-8h0m0 6h0m0 3h0m-1-1h0m0-7h0m-1 3h0m0 1h0m-1 5h0m0-2h0m0 2h0m-1 1h0m0-5h0m-1-1h0m-1 3h0m-1 0h0m0 0h0m0 0h0m0-4h0m0 7h0m0-1h0m-2 1h0m0-9h0m-1-2h0m0 1h0m-1 6h0m-1-3h0m1 16h0m0 0h0m0-4h0m1 2h0m0-3h0m0 3h0m1-3h0m1 1h0m1 2h0m1 5h0m1-7h0m0 4h0m1-4h0m1 1h0m0-5h0m0 1h0m1 8h0m1-9h0m1 5h0m1-3h0m0 3h0m1 0h0m0-2h0m1 6h0m1 1h0m0-3h0m0-2h0m1 5h0m1-8h0m0 3h0m0-4h0m0 9h0m1-6h0m0 0h0m2 7h0m0-3h0m1-7h0m2 0h0m1 9h0m1-10h0m0 1h0m0 10h0m0-7h0m1 5h0m1-5h0m1 0h0m4 17h0m-1-5h0m-1 7h0m0-7h0m-1 2h0m0-2h0m-1 6h0m-3-1h0m-2-2h0m-1 1h0m0-8h0m-1 1h0m-1 9h0m0-10h0m0 9h0m-2-1h0m-1-3h0m0 2h0m-1 0h0m0 3h0m0-2h0m0-4h0m-1-1h0m0 1h0m-1-4h0m-1 4h0m0 1h0m0-5h0m0 2h0m0-2h0m-1 7h0m0-5h0m0 1h0m-1 1h0m0-4h0m0 1h0m-1 8h0m0-3h0m-2-2h0m-1 6h0m-1-5h0m-1-2h0m0 0h0m0 2h0m0-1h0m0-1h0m-1 3h0m0-3h0m0 0h0m-1 2h0m-2 1h0m-1-5h0m7 12h0m3 2h0m1 0h0m1-1h0m1-2h0m2 0h0m0 2h0m1-1h0m0 1h0m2-2h0m0 4h0m0 1h0m0 0h0m1 1h0m1-2h0m1 3h0m1-5h0m0 4h0m1 0h0m1 1h0m0-4h0m1 0h0m1 3h0m0-6h0m1 1h0m1 5h0m1 0h0m0 0h0m0 0h0m3-2h0" stroke="#D3D3D3" stroke-width="3.8" stroke-linecap="round" fill="none"/><path d="M91 845h0m8 6h0m-6 18h0m1 2h0m5-6h0m68 22h0m-94-8h0m78 14h0m-71 16h0m0 10h0m3-1h0m16-3h0m-46 26h0m19-2h0m7 2h0m-22 11h0m19 12h0" stroke="#C7B5EA" stroke-width="3.8" stroke-linecap="round" fill="none"/><path d="M91 851h0m0-2h0m2 4h0m45 12h0m18 0h0m-89 26h0m15 8h0m71-3h0m0-1h0m-75 22h0m-20 13h0m14 17h0m-1 6h0" stroke="#BAA7E6" stroke-width="3.8" stroke-linecap="round" fill="none"/><path d="M85 850h0m13 13h0m39 17h0m-56 15h0m16 7h0m-7 0h0m-7 11h0" stroke="#AD98E2" stroke-width="3.8" stroke-linecap="round" fill="none"/><path d="M83 848h0m4-2h0m1 3h0m6 7h0m-11 45h0m0 17h0m-7 16h0" stroke="#A08ADE" stroke-width="3.8" stroke-linecap="round" fill="none"/><path d="M93 857h0m6 37h0m-11 6h0m-9 20h0" stroke="#8B78D3" stroke-width="3.8" stroke-linecap="round" fill="none"/><path d="M92 855h0m-1 38h0m-2 12h0" stroke="#7765C8" stroke-width="3.8" stroke-linecap="round" fill="none"/><path d="M80 877h0" stroke="#6253BD" stroke-width="3.8" stroke-linecap="round" fill="none"/><path d="M82 850h0m0 1h0m0-1h0m0 1h0m1-4h0m0 4h0m1-1h0m0 0h0m0-2h0m1-1h0m2 4h0m2 0h0m0-3h0m1 1h0m0-3h0m1 2h0m1-1h0m0-1h0m1 2h0m1-1h0m0 1h0m0 3h0m1-2h0m0-1h0m2 0h0m57 9h0m0 3h0m0-1h0m-1 1h0m0-4h0m0-1h0m-3 0h0m0 7h0m0 0h0m0-5h0m0 6h0m0-7h0m0 1h0m-1 6h0m0-8h0m0 1h0m-1-1h0m0 2h0m-1 1h0m-1-2h0m-1 7h0m-1-1h0m0-4h0m-1-2h0m-2 2h0m0 2h0m0 1h0m-1 1h0m-1-4h0m-1 1h0m-1 3h0m-1 0h0m0-1h0m0-2h0m-2 4h0m0-1h0m0-1h0m-1 0h0m-1 0h0m-31 2h0m-1-2h0m-1-3h0m0-3h0m0 0h0m0-1h0m-1-2h0m0 4h0m0 7h0m-1-9h0m0 0h0m0 3h0m0-1h0m0-3h0m-1 6h0m0 3h0m0-6h0m-1-3h0m0 8h0m0-6h0m-1 4h0m0-5h0m-1 5h0m-1-4h0m0 5h0m0-7h0m-1 3h0m-1 4h0m0-4h0m-1-4h0m0 1h0m0 3h0m-1-2h0m0-2h0m0 11h0m-1-7h0m0 0h0m-1-4h0m0 8h0m-1 0h0m-1-3h0m-2-5h0m-16 11h0m0-1h0m0 1h0m-2-4h0m-1 2h0m0-2h0m0 2h0m-1 0h0m0-3h0m-1 5h0m-5 7h0m1 3h0m0 2h0m2-4h0m0-1h0m1-3h0m0 1h0m1 5h0m1-5h0m1-3h0m0 2h0m1-2h0m1 0h0m0 7h0m0 2h0m3-9h0m0 0h0m1 1h0m1 8h0m0-6h0m5 3h0m7 2h0m1-4h0m1 2h0m1-2h0m0-1h0m0 1h0m0-5h0m1 3h0m0 2h0m1-5h0m0 2h0m0 0h0m0 1h0m0 1h0m0 1h0m1-2h0m2-2h0m0 5h0m0-1h0m2-3h0m0-2h0m0 6h0m0-2h0m1-4h0m0 7h0m1-3h0m1 1h0m0-2h0m0 4h0m1-1h0m2-6h0m2 0h0m23 8h0m0 3h0m2-4h0m0 0h0m1-1h0m0-1h0m1 2h0m2-4h0m1 8h0m0-1h0m1-2h0m0-8h0m0 2h0m0 9h0m1-4h0m1 0h0m0-3h0m0-1h0m1 6h0m0-8h0m0 5h0m1-3h0m1 8h0m1-5h0m0-6h0m0 6h0m1 2h0m0-3h0m0-2h0m1 6h0m0-5h0m0-3h0m1 2h0m1 4h0m1 0h0m0 0h0m0-1h0m0 0h0m1 1h0m0-7h0m1 7h0m0-1h0m1 3h0m0 2h0m0-6h0m0 1h0m0-5h0m1 1h0m0 1h0m0 1h0m1 7h0m0-6h0m0-2h0m1 6h0m0-9h0m1 0h0m1 10h0m0-7h0m0 0h0m1 0h0m0 5h0m1-2h0m1 5h0m0-5h0m0-4h0m0-1h0m1 1h0m1 7h0m0-8h0m0 2h0m0-1h0m0-2h0m0 0h0m1 10h0m0-10h0m0 1h0m0-1h0m1 9h0m0-3h0m1 1h0m0 2h0m0-6h0m1 8h0m0-1h0m0-3h0m0 3h0m1 1h0m0-1h0m2-1h0m1 1h0m0-1h0m3 9h0m0-3h0m0 0h0m-1 4h0m0-3h0m0 7h0m0-3h0m0-3h0m-1-2h0m0 0h0m0 5h0m-1-7h0m-1 2h0m0 3h0m0-3h0m0 2h0m0-1h0m-1 2h0m0-6h0m-1 3h0m0-2h0m-1 1h0m0 3h0m0 3h0m-1-6h0m0-2h0m-1 2h0m-2 6h0m0-7h0m0 8h0m-1-1h0m-1-3h0m-1 3h0m0-8h0m-1 0h0m-1 1h0m0 9h0m-1-2h0m-2 0h0m0-8h0m-1 0h0m0 9h0m-1 2h0m0-1h0m0-1h0m-1 0h0m0 0h0m0 2h0m-1-3h0m-2 1h0m-1 2h0m-1-5h0m0-2h0m0 5h0m0-5h0m0 0h0m-1 3h0m0-1h0m0 4h0m-2-6h0m0 0h0m0-1h0m0 8h0m-1-10h0m0 3h0m0 3h0m-1 4h0m-1-1h0m0-2h0m-1 1h0m0-5h0m0 2h0m-1-3h0m0 7h0m0-5h0m0 3h0m0-8h0m0 4h0m-1 4h0m0-4h0m0 6h0m0-9h0m-1 2h0m0 0h0m0 6h0m-2-1h0m-2-8h0m0 5h0m0 0h0m0-3h0m0-2h0m-1 6h0m0-2h0m0 4h0m-1-8h0m0 8h0m-1 0h0m0-5h0m0 5h0m-1-3h0m-3 4h0m-1 1h0m-30-6h0m-3-3h0m-2 5h0m-2-3h0m-2 6h0m0-7h0m-4 8h0m-1-7h0m-1 4h0m0-4h0m0 6h0m0 1h0m-1-3h0m0-4h0m0 7h0m-1 0h0m-1 1h0m0 0h0m-1-2h0m0-5h0m0 7h0m0-2h0m-1 0h0m0-7h0m0-1h0m-2 3h0m0 6h0m-1 0h0m0-9h0m-3 4h0m0-3h0m-2 5h0m0-4h0m-3 3h0m0 2h0m-1 1h0m-4 6h0m1 7h0m0 0h0m1-2h0m0 3h0m1-8h0m0 5h0m0-1h0m1-5h0m0 4h0m0 3h0m1 0h0m1-7h0m0 5h0m1-2h0m0-3h0m0 3h0m1 6h0m3 0h0m0-4h0m1 4h0m1-7h0m0 4h0m1 3h0m0 0h0m1-11h0m0 11h0m0-8h0m0 3h0m0-1h0m0-3h0m1 6h0m0-6h0m0-1h0m0 3h0m0 1h0m1-2h0m0 8h0m1-4h0m0 4h0m0-8h0m1 3h0m0-5h0m0 0h0m0 10h0m0-10h0m1 2h0m0 8h0m1-2h0m0-6h0m2 0h0m0-1h0m2 1h0m0 6h0m0-5h0m0 0h0m0 1h0m0-2h0m1 6h0m0-4h0m1 1h0m1 4h0m0-8h0m0 1h0m3 6h0m0-2h0m0 3h0m1-3h0m1-6h0m1 5h0m6 2h0m9 0h0m0 2h0m16-7h0m20-2h0m2 0h0m2 1h0m3-2h0m1 4h0m0-1h0m1 5h0m0-6h0m0-2h0m1 3h0m1 3h0m0-2h0m1 5h0m0-1h0m1-2h0m3-3h0m0 2h0m1-2h0m0 0h0m0 0h0m1 1h0m0-2h0m0 2h0m1 1h0m1 4h0m0-6h0m0 5h0m0-4h0m1-2h0m0 0h0m0 4h0m0 3h0m0 0h0m0-6h0m0 0h0m1 4h0m0 1h0m1-4h0m0-3h0m1 2h0m0-3h0m0 6h0m2 0h0m0-5h0m1-1h0m0 10h0m1-10h0m1 2h0m0 2h0m0 2h0m0 1h0m0 0h0m0 2h0m2-7h0m1 1h0m1 5h0m1 7h0m-1 0h0m-2-3h0m-1 6h0m-2-2h0m-1 1h0m0-4h0m0-1h0m-1 0h0m-1 2h0m-5-2h0m0 0h0m-47 2h0m-19-1h0m0 8h0m-2-9h0m0 4h0m-4-1h0m-2-2h0m0 5h0m-1-1h0m-1-2h0m0 2h0m-1-5h0m-1 4h0m0 4h0m-1-7h0m0 3h0m0-4h0m-1 11h0m-1-8h0m-1 4h0m-1 3h0m0 0h0m0-7h0m-1-1h0m0 3h0m0 5h0m0-6h0m-2-3h0m0 6h0m-2 0h0m0-5h0m0 1h0m0-2h0m-1 4h0m0-2h0m0 6h0m0 1h0m0-2h0m0 2h0m-1-3h0m0 3h0m0 1h0m-1-2h0m0-1h0m0-8h0m-1 9h0m-1-9h0m-1 1h0m0 8h0m0-9h0m0 11h0m-1-6h0m0-4h0m0 2h0m0 6h0m-1-8h0m0 4h0m-1-5h0m0 0h0m0 1h0m0-1h0m-1 7h0m0 1h0m-1-6h0m0 3h0m0 6h0m0-1h0m-1-7h0m0 8h0m0-5h0m0 1h0m0-3h0m-1 0h0m0-2h0m0 3h0m-2 0h0m0-1h0m0 3h0m-1-5h0m0 3h0m-1-5h0m-1 21h0m1 1h0m0-1h0m1-4h0m1 2h0m0 1h0m0 0h0m0 1h0m0-2h0m1 3h0m0-5h0m0 3h0m0-3h0m2 4h0m0-1h0m1-8h0m1 8h0m0-7h0m1 9h0m0-10h0m0 1h0m1 6h0m0 2h0m0-3h0m0-1h0m2-1h0m1 5h0m1-4h0m0-3h0m1 7h0m0 2h0m0-7h0m1 4h0m0 3h0m0-11h0m0 0h0m1 6h0m0 0h0m0-6h0m1 0h0m1 11h0m0-11h0m1 8h0m1 2h0m0-3h0m0-7h0m1 9h0m1-1h0m0-7h0m0 3h0m1-3h0m1 6h0m0 2h0m0-2h0m0-1h0m1 1h0m0 1h0m1-2h0m1-1h0m1 0h0m0 3h0m1 2h0m1-3h0m0-1h0m1 1h0m0-6h0m3 0h0m6 0h0m1 0h0m1 1h0m1 9h0m0-1h0m0-1h0m1 1h0m0 1h0m0-7h0m0 1h0m1 4h0m0 0h0m1-6h0m0 2h0m0 0h0m0-3h0m1 6h0m0-1h0m0-2h0m1 2h0m0 2h0m2-7h0m1 1h0m-22 13h0m-5 1h0m-1 0h0m-1 1h0m0-2h0m0 2h0m0-4h0m-1 3h0m0-3h0m0 4h0m-1-2h0m-1 0h0m0 3h0m-1 1h0m0 0h0m0-2h0m-1-5h0m0 0h0m-1 3h0m0 2h0m0 3h0m-1-4h0m0 0h0m-2 6h0m0-10h0m-1 9h0m0-7h0m0-2h0m0 8h0m0-7h0m-1 2h0m0 3h0m0-3h0m-1 2h0m0-2h0m-1 0h0m-1 5h0m0 0h0m0-9h0m-1 2h0m0 4h0m-1-1h0m0-5h0m0 9h0m0-9h0m0 2h0m-1 6h0m-1 3h0m0 0h0m-1-10h0m0 5h0m-2 2h0m0-4h0m-1 0h0m-1 3h0m0 1h0m0 8h0m1-3h0m0 2h0m0 6h0m2 1h0m1-4h0m1 4h0m0-1h0m0 2h0m0-2h0m1-2h0m1 3h0m0-1h0m2-7h0m1 0h0m0 7h0m0-3h0m1-5h0m2 5h0m1-4h0m0 0h0m0 0h0m1-1h0m0 5h0m0 3h0m0-9h0m1 4h0m0-2h0m1 9h0m1-2h0m1-2h0m0-7h0m0 4h0m0-4h0m0 4h0m0-1h0m0 5h0m0-1h0m1 1h0m0 1h0m1-9h0m0 10h0m1 0h0m1-7h0m1-2h0m0-1h0m1 2h0m1 1h0m1-3h0m0 6h0m0-4h0m0 3h0m2-3h0m0 1h0m3 17h0m0-6h0m0 8h0m-1-7h0m-1 2h0m0 6h0m-1-8h0m0 7h0m-1-4h0m-1-6h0m0 2h0m0 9h0m-1-2h0m0-4h0m0-4h0m0 0h0m-1 6h0m0 2h0m-1 0h0m-1 0h0m0-6h0m0 0h0m-1 6h0m0-7h0m0 7h0m0-1h0m-1 0h0m-1-8h0m0 8h0m0 3h0m-1-3h0m-1-2h0m0 5h0m-1-9h0m0 8h0m0-7h0m-2 3h0m0-2h0m0 0h0m-1 3h0m0-1h0m0-3h0m-1 2h0m0-5h0m-3 9h0m-2-5h0m-1 3h0m0-4h0m0 7h0m-1-9h0m0 6h0m0-1h0m0-3h0m0 5h0m0-3h0m0 6h0m-1-5h0m0 0h0m0-6h0m-1 6h0m0-3h0m-2 0h0m13 13h0m1-4h0m1 2h0m1 1h0m0-3h0m1 4h0m0-1h0m1-1h0m0 2h0m2-4h0m1 7h0m2-3h0m1-1h0m0 2h0m0-3h0m0 1h0m1 1h0m0 0h0m1 2h0m0 0h0m0-3h0m1-2h0m0 3h0m0 1h0m0-3h0m1 2h0m1 3h0m1-7h0m1 0h0m0 0h0" stroke="#D3D3D3" stroke-width="3.8" stroke-linecap="round" fill="none"/><path d="M94 848h0m57 8h0m-61 12h0m32 5h0m39-2h0m-42 13h0m-14 6h0m57 5h0m-75 6h0m-30 30h0m16 18h0m0 0h0m10 16h0" stroke="#C7B5EA" stroke-width="3.8" stroke-linecap="round" fill="none"/><path d="M87 870h0m38 4h0m19-8h0m-68 20h0m0 3h0m16 18h0m-4-7h0m-21 21h0m32-1h0m53 11h0m-80 16h0m1 0h0m-7 4h0m14 14h0" stroke="#BAA7E6" stroke-width="3.8" stroke-linecap="round" fill="none"/><path d="M80 874h0m11-10h0m-12 17h0m10 21h0m7 14h0m40 5h0" stroke="#AD98E2" stroke-width="3.8" stroke-linecap="round" fill="none"/><path d="M92 845h0m6 11h0m-7 13h0m9 25h0m4-4h0m-15 11h0" stroke="#A08ADE" stroke-width="3.8" stroke-linecap="round" fill="none"/><path d="M91 850h0m-4 5h0m-3 34h0m26 11h0m-14 1h0m0 3h0" stroke="#8B78D3" stroke-width="3.8" stroke-linecap="round" fill="none"/><path d="M96 850h0m-2 9h0m-11 5h0m1 5h0m5 0h0m-6 48h0m18-4h0" stroke="#7765C8" stroke-width="3.8" stroke-linecap="round" fill="none"/><path d="M84 850h0m0-3h0m1 1h0m0 2h0m0-3h0m1 1h0m1-4h0m0 6h0m1 0h0m1-1h0m0-3h0m1 4h0m0 1h0m0-5h0m0 1h0m2-1h0m1 4h0m0 1h0m1-4h0m0 0h0m0 2h0m1-2h0m0 0h0m0 0h0m1 3h0m1 0h0m63 13h0m-1 0h0m-2-4h0m-1 1h0m-1-4h0m-1 5h0m-1-4h0m-1 5h0m-1-1h0m0 0h0m0 1h0m0 1h0m0-5h0m-2 1h0m0-3h0m-1 0h0m0 1h0m0-2h0m0 7h0m0-3h0m0-2h0m-1-2h0m-1 8h0m-1-4h0m0-1h0m0 4h0m0-6h0m-1 4h0m0-4h0m-1 0h0m0 1h0m0 6h0m0-5h0m-1 4h0m0-6h0m0 2h0m-1-1h0m-1 2h0m0 4h0m-1 0h0m-1-5h0m-3 1h0m0 2h0m-1 1h0m0 1h0m-3 0h0m0 0h0m-30-7h0m0 1h0m0 5h0m-1-1h0m-1-8h0m0 1h0m0 9h0m0-4h0m-1 4h0m0-1h0m0-7h0m-1 3h0m0 3h0m0-3h0m0 4h0m0-6h0m0 1h0m-1 3h0m0 3h0m-1-2h0m0 1h0m0 0h0m0 1h0m-1-11h0m0 8h0m0 1h0m0-9h0m0 9h0m0-1h0m-1 3h0m0-4h0m0-7h0m0 0h0m-1 1h0m-2 3h0m0 1h0m-1 4h0m-1 1h0m0-3h0m-1 2h0m0-7h0m-1-2h0m-1 3h0m0-2h0m0 1h0m-1 2h0m0 4h0m0-8h0m0 9h0m0-4h0m0 5h0m0-1h0m-1-4h0m-1-3h0m-14 9h0m-2-2h0m0-1h0m0 2h0m-1 1h0m-2-2h0m0 2h0m-1-2h0m0 0h0m0-1h0m0 0h0m-2 0h0m-4 13h0m1-1h0m1 1h0m0-5h0m1-1h0m0-1h0m1 7h0m0-8h0m1 3h0m1 3h0m2 0h0m0-6h0m1 1h0m0 4h0m1-5h0m1 9h0m0 1h0m3-8h0m0 7h0m0-7h0m0 6h0m2-5h0m2 3h0m9-7h0m1 5h0m0-4h0m0 5h0m2-4h0m0-2h0m0 4h0m1-4h0m0 11h0m2-9h0m0 3h0m0-1h0m0 2h0m1-1h0m1-5h0m0 5h0m0 0h0m1-4h0m0 6h0m1-4h0m2 2h0m4-5h0m24 8h0m2-1h0m1 3h0m1-1h0m1-4h0m0-2h0m1 1h0m1 1h0m0-4h0m1 10h0m0-4h0m0 0h0m0-4h0m2 1h0m0 0h0m1 6h0m0-7h0m0-2h0m2 6h0m1-4h0m0-1h0m0 4h0m0-2h0m1-2h0m0 0h0m0 3h0m2-3h0m2 5h0m0-6h0m0 6h0m0-7h0m1 10h0m0 1h0m0-3h0m1 1h0m0-6h0m0 0h0m0 2h0m1 5h0m0-8h0m0 4h0m2-1h0m1 4h0m0-5h0m0 7h0m1-1h0m0-10h0m1 11h0m3-11h0m0 5h0m1 6h0m0-5h0m0-3h0m0 2h0m0 1h0m1-3h0m1 8h0m0-2h0m0-9h0m1 3h0m0 7h0m0-10h0m0 9h0m0 0h0m1-5h0m1-3h0m0-1h0m0 4h0m0 5h0m1-4h0m0 3h0m0-4h0m0-3h0m1 8h0m0 2h0m0 0h0m1-4h0m1 0h0m3 13h0m0 1h0m0-1h0m0-4h0m0 1h0m-1-2h0m0 5h0m-1-6h0m0-1h0m0 0h0m0 8h0m-1-7h0m0 7h0m0-5h0m-1 3h0m0-6h0m-1 5h0m0-2h0m0-4h0m0 11h0m-1-3h0m0-4h0m-1 2h0m0 1h0m0-6h0m-1 6h0m0-7h0m-1 2h0m0-2h0m-1 8h0m0 0h0m-1 2h0m-1-9h0m-2-1h0m0 10h0m-1-1h0m-1-9h0m-3 9h0m-1-1h0m0-1h0m0 0h0m0 3h0m-1-10h0m-1 10h0m-1-1h0m0-9h0m-2 5h0m-1 0h0m0-3h0m-1 9h0m0-6h0m-1 2h0m0-6h0m0 8h0m0-2h0m-1-3h0m0 2h0m0-5h0m0 5h0m0 1h0m-1 1h0m-1-6h0m0 4h0m-1-2h0m0-2h0m0 9h0m0-4h0m0 2h0m-2 1h0m0 1h0m-1-9h0m0 3h0m0 3h0m-2 0h0m-1-1h0m-1-6h0m0 3h0m0-3h0m0 5h0m0-1h0m-1 2h0m0-2h0m0 4h0m-1-9h0m0 2h0m0 2h0m-1 1h0m0 3h0m-1-4h0m0 5h0m0 1h0m-1-6h0m-2-1h0m0 1h0m-10 7h0m-26-1h0m0-4h0m-1-3h0m0-3h0m-2 7h0m-1-5h0m-1 0h0m-1 8h0m-1 0h0m0-8h0m-1 7h0m0-9h0m-2 6h0m-1 4h0m-1-6h0m0 5h0m-1 1h0m0-6h0m-1 4h0m0-6h0m0 8h0m0 0h0m0 0h0m0-7h0m0 7h0m0-6h0m-1 4h0m0 2h0m0 1h0m-1-5h0m0-5h0m0-1h0m-2 3h0m0 8h0m-1-9h0m0 1h0m-1 7h0m-1-2h0m0 3h0m0-1h0m-1-8h0m0 4h0m-1-3h0m0-1h0m-1 1h0m-1 1h0m0-4h0m-3 6h0m0-2h0m-3 3h0m-1 9h0m0 5h0m0-2h0m1-6h0m0 2h0m0 6h0m1 1h0m0-3h0m1 2h0m0-5h0m0 1h0m0 2h0m1 0h0m1-3h0m0 1h0m0 2h0m1-6h0m0 7h0m0 1h0m0-5h0m1 0h0m1 5h0m0-3h0m0 3h0m0-3h0m1 0h0m3-2h0m0 5h0m1-9h0m0 8h0m2-8h0m0 5h0m1 6h0m0-8h0m0-1h0m0 5h0m0-6h0m0 7h0m0 1h0m1-3h0m0-4h0m1 4h0m0-2h0m2 6h0m0-1h0m0 2h0m1-9h0m0 2h0m0 3h0m1 0h0m0-4h0m0-1h0m0 4h0m1-3h0m1 5h0m0-5h0m0 0h0m0-2h0m0-1h0m0 2h0m0 0h0m0 0h0m0-2h0m1 9h0m0-7h0m0-1h0m0 2h0m1 4h0m0 0h0m4 3h0m1 1h0m1-8h0m2 2h0m4 6h0m9-4h0m1 4h0m1-5h0m4-3h0m5 7h0m5-6h0m1-3h0m8 0h0m1 0h0m12-1h0m4 3h0m1-1h0m1 5h0m1-4h0m0-3h0m1 8h0m0-4h0m0-1h0m1 6h0m1-5h0m0 3h0m0-1h0m1 0h0m0-3h0m1 4h0m3-3h0m1 1h0m1 1h0m0 0h0m0 2h0m0-4h0m0 0h0m0-3h0m1 0h0m1 0h0m0 3h0m1 4h0m1-1h0m1-5h0m0 6h0m1-6h0m0 0h0m0 5h0m0-6h0m0 8h0m1-3h0m0 4h0m1-4h0m0-4h0m2 6h0m1-7h0m0 7h0m1-5h0m0 0h0m0-2h0m0 3h0m0 1h0m1-4h0m0 3h0m1 0h0m0 1h0m2 10h0m0-1h0m-2 1h0m0 0h0m-1-1h0m0 0h0m-1 2h0m0-4h0m-1 5h0m0 0h0m-3-2h0m0-3h0m-4 0h0m-2 2h0m-19 9h0m-26-5h0m-1-1h0m0 4h0m0-6h0m-1 1h0m-5 7h0m-7-6h0m-8-5h0m-1 10h0m0-9h0m0 6h0m-1 2h0m-1 1h0m-3 0h0m-4-5h0m0 1h0m-2 4h0m-1-5h0m0 6h0m0-7h0m-1 6h0m0-7h0m-2 6h0m0-8h0m-1 5h0m-1 3h0m0-1h0m0 2h0m0-3h0m0-7h0m-1 5h0m0-1h0m0-1h0m0 0h0m-1 1h0m0-4h0m0 9h0m-2-3h0m0 2h0m-1 1h0m0-2h0m-1 4h0m-1-4h0m-2-7h0m0 10h0m-1 0h0m0-4h0m-1 3h0m0-6h0m0-2h0m-1 6h0m0-7h0m0 0h0m0 1h0m-1 2h0m-1 8h0m0-6h0m0-2h0m0 2h0m0-5h0m0 11h0m0-10h0m-1 2h0m0 6h0m0-9h0m0 5h0m-1 2h0m0-6h0m-1 9h0m-1-4h0m0-2h0m0 2h0m0-3h0m-1 0h0m-1 6h0m0 1h0m-1 12h0m0-1h0m0 2h0m1-9h0m0-1h0m1 1h0m1 3h0m0-3h0m1 8h0m0-5h0m1 6h0m0 0h0m1-1h0m0-5h0m0-1h0m0-2h0m1 2h0m0 0h0m0-4h0m0 0h0m0 0h0m1 7h0m0-7h0m0 0h0m1 6h0m0 1h0m0 0h0m0 2h0m1-3h0m0 0h0m0 0h0m0-5h0m0 1h0m0-1h0m3 10h0m1-2h0m0-1h0m0-7h0m3 5h0m0 3h0m1-4h0m0 1h0m1 4h0m1 1h0m0-3h0m1-4h0m0-2h0m1 8h0m0-4h0m0 4h0m0 1h0m0-3h0m0 0h0m0-8h0m1 6h0m0-5h0m0 0h0m1-1h0m0 1h0m1 5h0m0-6h0m0 1h0m1 8h0m0-7h0m0-2h0m1 2h0m1 4h0m0 0h0m0-4h0m1-1h0m1 4h0m0 4h0m1 0h0m0 2h0m1-7h0m1 0h0m2-2h0m7 0h0m1 9h0m1-9h0m1 5h0m0 4h0m1-3h0m0 0h0m1 0h0m1-4h0m0 5h0m0-8h0m1-1h0m-21 15h0m-3 1h0m-1 0h0m0-1h0m0 1h0m-1-4h0m0 3h0m0-2h0m-1 0h0m-1 0h0m0-1h0m0 0h0m-2 1h0m0 0h0m-1 10h0m0-7h0m-1-4h0m-1 8h0m0-2h0m-1 0h0m0-1h0m-1 6h0m-1-9h0m0 7h0m-1 1h0m0 1h0m-1-10h0m-1 1h0m0-1h0m0 2h0m0 8h0m-1-3h0m0 1h0m0-4h0m0-5h0m-1 7h0m0 1h0m0-1h0m-1 3h0m0-4h0m0 1h0m-1 2h0m0-9h0m-1 2h0m0 6h0m0-3h0m-1-1h0m0 4h0m0 3h0m-1-4h0m-1 0h0m0 3h0m0-5h0m0-2h0m-1-1h0m-1 5h0m0-7h0m1 16h0m0 3h0m0-5h0m1-1h0m0 3h0m1 1h0m0-5h0m2 2h0m0 6h0m1 3h0m0-11h0m0 10h0m0-3h0m1-2h0m0 5h0m0-7h0m1 7h0m1-7h0m0 6h0m1-1h0m0-8h0m0 0h0m1 3h0m0 0h0m0 0h0m1 8h0m0-6h0m0-3h0m1 0h0m0 5h0m1-1h0m1-6h0m0 3h0m2 0h0m0 7h0m2-5h0m0-1h0m0 3h0m1 0h0m0-4h0m0 6h0m1-9h0m1 11h0m0-8h0m1 5h0m0 2h0m0 1h0m1 0h0m0-2h0m3-2h0m0 3h0m0-4h0m0-2h0m0-4h0m1 2h0m0 5h0m0 2h0m0-1h0m1 3h0m1 0h0m1 3h0m0-2h0m-1 4h0m0-2h0m-1-1h0m0 7h0m0 3h0m-1-9h0m-1 2h0m0 3h0m-1 0h0m0-6h0m0 7h0m-1-7h0m0 10h0m-1-2h0m0 0h0m-1 1h0m0-1h0m0-5h0m0-2h0m0-2h0m0 8h0m-1 0h0m0 1h0m-1 1h0m0-3h0m-1-5h0m-1 1h0m0 4h0m-1-3h0m0 7h0m0 0h0m-1-8h0m0 6h0m0-9h0m-1 4h0m0-1h0m0 6h0m-1-8h0m0 0h0m0 8h0m-1 1h0m0-3h0m0-4h0m-1 2h0m-1 1h0m0-6h0m-2 4h0m-1 3h0m0 0h0m0 4h0m0-8h0m0-3h0m-1 5h0m-2-3h0m0 2h0m-1 6h0m-1-10h0m0 6h0m0-5h0m-1 2h0m0 1h0m-1 0h0m0-4h0m10 13h0m2 1h0m2-1h0m0 2h0m2 1h0m0-1h0m1 1h0m0-2h0m0 2h0m0 1h0m1 1h0m0-4h0m0-1h0m1 2h0m0 2h0m1-2h0m1-1h0m1 4h0m1 0h0m0 0h0m0-1h0m2-2h0m0 0h0m1 2h0m0 1h0m1-4h0m0-2h0m0 4h0m1 1h0m2 0h0" stroke="#D3D3D3" stroke-width="3.8" stroke-linecap="round" fill="none"/><path d="M71 875h0m60-5h0m6-6h0m1 7h0m26 5h0m-82 6h0m-13 0h0m9 16h0m10 6h0m-6 3h0m-6 16h0m2-4h0m-17 14h0" stroke="#C7B5EA" stroke-width="3.8" stroke-linecap="round" fill="none"/><path d="M93 850h0m47 12h0m-55 6h0m4 2h0m3-6h0m49 0h0m7 2h0m14 14h0m-32-3h0m-49 5h0m-14 10h0m-6 38h0m69 8h0" stroke="#BAA7E6" stroke-width="3.8" stroke-linecap="round" fill="none"/><path d="M95 849h0m57 13h0m-6-7h0m-54 0h0m-4-3h0m63 34h0m-69 13h0m-6 28h0m3 23h0" stroke="#AD98E2" stroke-width="3.8" stroke-linecap="round" fill="none"/><path d="M95 849h0m4 49h0m-19 4h0m-1 15h0" stroke="#A08ADE" stroke-width="3.8" stroke-linecap="round" fill="none"/><path d="M88 856h0m-1 1h0m-3 22h0m-1 20h0m14-3h0" stroke="#8B78D3" stroke-width="3.8" stroke-linecap="round" fill="none"/><path d="M84 850h0m1 18h0m3 34h0m8 14h0" stroke="#7765C8" stroke-width="3.8" stroke-linecap="round" fill="none"/><path d="M85 850h0m6 13h0" stroke="#6253BD" stroke-width="3.8" stroke-linecap="round" fill="none"/><path d="M36.0 831.1V981.6H181.7" fill="none" stroke="#111" stroke-width="1.5"/><path d="M245 848h0m1-1h0m0 3h0m0 1h0m0-3h0m1 2h0m0-3h0m1-2h0m0 5h0m0-2h0m1 1h0m0-3h0m1 4h0m1-4h0m1 3h0m0 1h0m0 1h0m1-2h0m0 2h0m0-1h0m1 1h0m0-4h0m1 4h0m0-5h0m1 1h0m0 0h0m0 1h0m1 0h0m0-1h0m0 2h0m2 1h0m58 6h0m0 3h0m-1 1h0m-1-5h0m-1 6h0m-1 0h0m0 1h0m0 0h0m-1-6h0m0 0h0m-1 2h0m0-2h0m-1-1h0m0 0h0m-1 2h0m-1 6h0m0 0h0m0-4h0m0-1h0m0-3h0m-1 1h0m-1 6h0m0-2h0m0 1h0m-3-1h0m0 1h0m-1-2h0m0 4h0m0-1h0m0 1h0m-1-6h0m0 1h0m-1 3h0m0-2h0m0 1h0m0 0h0m-1 2h0m0-3h0m-1 2h0m-1 2h0m0 0h0m0 0h0m0-2h0m-1-1h0m0 1h0m-1 1h0m-27 1h0m-5-4h0m0 2h0m0 2h0m-1-2h0m0-6h0m-1-2h0m0 10h0m0 0h0m0-10h0m0 6h0m-1 4h0m0-7h0m0-2h0m0 4h0m-1-4h0m0 2h0m-1 4h0m-1-7h0m0 6h0m0 2h0m0-6h0m0 6h0m0 1h0m-1-3h0m0 0h0m0 0h0m-1 4h0m-1-1h0m0-7h0m0-2h0m-1 10h0m-2-3h0m0-1h0m0 2h0m-1-7h0m0-2h0m0 9h0m0-5h0m-1 1h0m0 4h0m0-5h0m-1-4h0m0 5h0m0 3h0m-1 2h0m-1-10h0m0 0h0m0 5h0m-1-3h0m0-2h0m-16 11h0m-1 0h0m0-2h0m0 1h0m0 1h0m-1 0h0m-1-4h0m-1 4h0m0-2h0m0 0h0m-1 0h0m0-1h0m0 2h0m-1-2h0m0 3h0m-5 7h0m1 3h0m0 2h0m3-8h0m0-1h0m0 2h0m1 0h0m0 0h0m0 5h0m1-1h0m1-4h0m0-1h0m1 4h0m1-1h0m0-5h0m0 0h0m1 0h0m1 0h0m2 0h0m1 8h0m0 1h0m0-5h0m3-1h0m1 3h0m0-5h0m2 1h0m7 2h0m1 0h0m0-1h0m0 1h0m1 0h0m0-5h0m0 4h0m1-2h0m0-2h0m0 6h0m0 0h0m0 2h0m1-2h0m0 0h0m1-3h0m0 2h0m0-2h0m2-2h0m0 3h0m1-4h0m1 0h0m0 0h0m0 5h0m1 0h0m0 2h0m1-7h0m4 0h0m24 9h0m1 2h0m0-3h0m1 0h0m0 1h0m1-2h0m1-1h0m0 1h0m0 2h0m1 2h0m0-2h0m2-5h0m1 7h0m0-10h0m1-1h0m0 11h0m1-6h0m0 2h0m0 0h0m1 0h0m0 3h0m1-4h0m0-3h0m0-2h0m1 0h0m0 1h0m0 1h0m1 8h0m0-6h0m1 6h0m0-8h0m0-3h0m1 8h0m0-6h0m0-1h0m0 3h0m0 3h0m1 2h0m0-5h0m1 0h0m1 4h0m0-6h0m0-2h0m1 7h0m0 3h0m0-3h0m0-5h0m1 9h0m1-4h0m0 1h0m0 0h0m0-5h0m2 7h0m0-3h0m0-1h0m0-5h0m0 0h0m1 2h0m1 6h0m0-5h0m1 6h0m0-10h0m1 10h0m0 1h0m1-1h0m0-7h0m0 5h0m3-6h0m0 3h0m0 1h0m1-5h0m0 2h0m0-3h0m0 1h0m1 8h0m0-6h0m0-2h0m0 1h0m0 0h0m0-2h0m1 10h0m0-1h0m1-2h0m0-7h0m0 9h0m0-5h0m1 5h0m0-8h0m0 10h0m0-7h0m0 5h0m0-2h0m1 1h0m1 0h0m0-1h0m0 4h0m0 0h0m1-1h0m0-3h0m1 2h0m4 11h0m0-5h0m-1 7h0m0-1h0m0-5h0m0 5h0m0-6h0m0 2h0m-1-1h0m0 7h0m0-3h0m0-1h0m-1-7h0m0 0h0m0 8h0m-1 2h0m0-8h0m0-1h0m0 0h0m0 8h0m-1-5h0m0 3h0m0-1h0m0-3h0m-1 5h0m0-8h0m0 6h0m0 1h0m0 4h0m0-10h0m-1 7h0m0-3h0m0-2h0m0 1h0m-1 4h0m0 0h0m-1-8h0m0 0h0m-1 2h0m0 0h0m0-2h0m-1 10h0m-1-2h0m-1 0h0m0 2h0m0-9h0m-1-1h0m0 4h0m0 1h0m-1 4h0m0-9h0m-1 0h0m0 8h0m-1-7h0m-1 7h0m-3-8h0m0 10h0m-1 1h0m-1-1h0m-1-2h0m-4-3h0m0 5h0m-1-3h0m0-3h0m0-4h0m0 1h0m0 9h0m-1-4h0m0 0h0m0 1h0m0-1h0m-1-2h0m0 4h0m0 3h0m-1-10h0m0 3h0m0-2h0m0 4h0m0 3h0m0-5h0m-1 3h0m-1 2h0m0-1h0m-1-3h0m0-2h0m-1 5h0m0-4h0m0 1h0m0-4h0m-1 3h0m0-3h0m0 9h0m-1-2h0m0-5h0m0 1h0m0 5h0m-1-3h0m0 2h0m0 0h0m-1-2h0m-1-6h0m0 1h0m0 0h0m0 5h0m0 3h0m-1 2h0m0-6h0m0-1h0m-1 1h0m0 3h0m-1-4h0m-1-3h0m-1 0h0m0 3h0m-11 7h0m-26-8h0m0-1h0m-6 7h0m0-7h0m-3 6h0m-1 2h0m0 0h0m-1-7h0m0 4h0m0 2h0m0 0h0m-1-6h0m0 6h0m0 1h0m0 0h0m-1-2h0m0 1h0m0-2h0m0-4h0m0 7h0m0 0h0m0-4h0m0-6h0m-1 10h0m0 0h0m0 1h0m-1-5h0m0 4h0m-1-4h0m0-4h0m0 2h0m-1 7h0m-1 0h0m-1-5h0m-1 2h0m0 2h0m0 0h0m-1-8h0m0 0h0m-1-1h0m0 1h0m-1 3h0m0-2h0m0 0h0m0-1h0m-1 6h0m0-5h0m-1 2h0m0 2h0m0-7h0m-1 0h0m-1 4h0m-1 1h0m0 0h0m-4 14h0m0-1h0m2-2h0m0 3h0m1-4h0m0 1h0m0 1h0m0 1h0m0 1h0m0 2h0m1-2h0m0-4h0m1 0h0m0 4h0m1-6h0m0 3h0m0 1h0m0 3h0m1-5h0m1 3h0m1 0h0m1 5h0m0-5h0m1-6h0m1 9h0m1-5h0m0 4h0m0-3h0m1-2h0m0 3h0m0-1h0m1 6h0m0-3h0m0-7h0m1 3h0m0-4h0m0 3h0m0 1h0m0 1h0m0-4h0m1 5h0m0-3h0m0 4h0m0-6h0m0 0h0m0 6h0m1 3h0m0-4h0m1 0h0m0 5h0m1-8h0m0 6h0m0 2h0m1-2h0m0-5h0m1-1h0m0 3h0m2-5h0m0 1h0m0 5h0m0-5h0m0-2h0m1 3h0m0 5h0m0-5h0m0 6h0m0-6h0m0-1h0m1 4h0m0-5h0m1 9h0m0-3h0m7-1h0m13 4h0m1-4h0m1 0h0m15-5h0m9-1h0m1 0h0m12 0h0m2 2h0m1 1h0m2-2h0m1 3h0m0-4h0m1 8h0m0-4h0m0-4h0m1 3h0m0 1h0m1-2h0m0 4h0m0 0h0m0-3h0m0 6h0m1-2h0m1-1h0m0 2h0m2 0h0m0-3h0m1-2h0m1-1h0m0 3h0m0-2h0m1 1h0m1 1h0m1 4h0m0-6h0m0 5h0m1-7h0m1 8h0m0-6h0m0 4h0m1-5h0m1 0h0m0 0h0m0 6h0m1-5h0m0 3h0m0 4h0m0-1h0m0 0h0m1 1h0m4-6h0m0-3h0m1 1h0m0 1h0m0-2h0m3 14h0m-2 0h0m0-1h0m-2 4h0m-1-1h0m-1 0h0m0-1h0m-1-1h0m0 2h0m-1-5h0m-6 0h0m0 2h0m-45 1h0m-14-1h0m-8 0h0m0 6h0m-1-7h0m-4 1h0m-4 2h0m0-4h0m-3 1h0m-1 10h0m0-5h0m-1-3h0m0 1h0m-2 0h0m0-2h0m-1 0h0m0 3h0m0 1h0m0-1h0m0-3h0m0-2h0m-1 3h0m0 7h0m-1-9h0m-1 1h0m0 9h0m0-1h0m0-4h0m0 3h0m-1-2h0m0-2h0m0-2h0m0 5h0m-1 2h0m0 0h0m0-1h0m0-2h0m-1-7h0m-1 7h0m0 2h0m0 2h0m-3 0h0m0-2h0m-1-4h0m0 4h0m-1-9h0m-1 0h0m0 0h0m0 0h0m-1 11h0m0-10h0m0 7h0m-1-3h0m0-3h0m0 3h0m0 6h0m0-5h0m0 1h0m0 3h0m-1-7h0m0 1h0m0 1h0m-2 0h0m0-1h0m-1-1h0m0 1h0m0 2h0m-1 3h0m0-4h0m-2 17h0m0 1h0m1-3h0m1-5h0m1 5h0m0 0h0m0-1h0m1 3h0m0-5h0m1 6h0m0 0h0m0-2h0m0-8h0m0 4h0m1 5h0m0-5h0m0 6h0m0-3h0m1-4h0m0 5h0m0-5h0m0 5h0m1-2h0m0-7h0m0 1h0m0-1h0m0 0h0m1 10h0m0-4h0m0 1h0m0 1h0m0-1h0m0 0h0m2-1h0m0 0h0m0-4h0m2 9h0m0-1h0m2-4h0m0 4h0m0-6h0m1 7h0m0-5h0m1-1h0m0 1h0m0 0h0m1-1h0m0-1h0m0 2h0m0 0h0m1-6h0m1 8h0m1-2h0m0-6h0m1 4h0m0 5h0m0 1h0m0-10h0m1 11h0m0-10h0m1 0h0m0 3h0m1 5h0m0-9h0m1 11h0m0-11h0m1 2h0m1 3h0m3 5h0m0-1h0m1-3h0m0-5h0m1 3h0m0-3h0m0-1h0m1 2h0m8 0h0m1 0h0m2 9h0m0 0h0m0-9h0m2 4h0m2 1h0m0-3h0m0 4h0m2-6h0m1-1h0m-22 15h0m-5 1h0m-2 1h0m0-2h0m0-1h0m0-1h0m-1 3h0m-1-5h0m-1 7h0m0-1h0m0-5h0m-1 10h0m0-10h0m-1 4h0m0-4h0m-1 8h0m-1-3h0m-1 1h0m0-2h0m-1 6h0m0-8h0m-1 7h0m0-9h0m-1 3h0m0 2h0m0 5h0m-1-3h0m0-2h0m0-2h0m-1 0h0m0-2h0m0 2h0m0-1h0m0 2h0m-1 4h0m0 0h0m0-3h0m-1-1h0m0 2h0m0 1h0m0-2h0m0-4h0m0 4h0m-1 0h0m0 3h0m-1 1h0m-1-5h0m0 6h0m-1 0h0m-3 5h0m2 2h0m0-3h0m0-2h0m0-1h0m1 3h0m0 3h0m2-6h0m0 10h0m0-2h0m1-4h0m0-1h0m2 2h0m0-5h0m1 0h0m2 5h0m2 2h0m0-5h0m0 4h0m0 0h0m1-5h0m1 9h0m0-3h0m0-3h0m0 5h0m0-7h0m1 8h0m0-7h0m1-1h0m1 3h0m0-1h0m0 3h0m0-3h0m0-1h0m0 5h0m1-8h0m0 8h0m0-5h0m2-2h0m0 2h0m0-3h0m0 11h0m2-10h0m4 1h0m0 5h0m1-5h0m0 2h0m0 4h0m3 14h0m-1-8h0m0 2h0m-1-1h0m0-1h0m-1 8h0m-2-1h0m-1-4h0m0-4h0m-1 6h0m0 0h0m0 2h0m0 0h0m-1-1h0m-1 2h0m0-1h0m0 0h0m0-1h0m0-7h0m-1 8h0m-1 1h0m0-2h0m-1 0h0m0 3h0m-2-1h0m0 1h0m0-4h0m0 4h0m-1-4h0m0 1h0m0-6h0m-1 2h0m0-3h0m0 2h0m-1 3h0m0-2h0m0-4h0m-1 10h0m0-3h0m-1-3h0m0-3h0m-2 3h0m-1 5h0m-2 1h0m-1-5h0m0 5h0m-1-2h0m0-2h0m0-1h0m0-1h0m0-1h0m-1 0h0m0 3h0m0-3h0m0 2h0m-1-2h0m-1 0h0m0-3h0m-1 6h0m7 7h0m3 2h0m2-1h0m1 2h0m1-4h0m1 1h0m0 1h0m1 0h0m1 2h0m0 1h0m1-3h0m0 3h0m0 0h0m0-2h0m1-1h0m0-1h0m1 2h0m0 4h0m1 0h0m2-1h0m1-3h0m1 0h0m1 3h0m0-5h0m1 5h0m0-2h0m0-4h0m0 6h0m1 0h0m0 0h0m4-2h0m0-4h0" stroke="#D3D3D3" stroke-width="3.8" stroke-linecap="round" fill="none"/><path d="M250 850h0m8 13h0m-1-2h0m-11-5h0m-14 11h0m25 0h0m42 3h0m3 17h0m-62-11h0m-22 6h0m49 9h0m58 10h0m-75 1h0m-2 8h0m-30-1h0m13 13h0m14-2h0m-27 31h0" stroke="#C7B5EA" stroke-width="3.8" stroke-linecap="round" fill="none"/><path d="M227 864h0m59 18h0m-72 32h0m40-1h0m7 2h0m-49 17h0" stroke="#BAA7E6" stroke-width="3.8" stroke-linecap="round" fill="none"/><path d="M257 851h0m-4 9h0m-24 3h0m79 22h0m-63 13h0m27 2h0m-22 4h0m-20 14h0m10-4h0m26-1h0m-28 17h0m-9 17h0m6-1h0m-9 8h0" stroke="#AD98E2" stroke-width="3.8" stroke-linecap="round" fill="none"/><path d="M249 846h0m11 9h0m-9 1h0m-5 5h0m10 11h0m11 18h0" stroke="#A08ADE" stroke-width="3.8" stroke-linecap="round" fill="none"/><path d="M263 895h0m-13 5h0" stroke="#8B78D3" stroke-width="3.8" stroke-linecap="round" fill="none"/><path d="M249 844h0m4 6h0m-4 5h0m-1 12h0m1 13h0m-4 15h0m-7 21h0" stroke="#7765C8" stroke-width="3.8" stroke-linecap="round" fill="none"/><path d="M244 850h0m1 0h0m0 1h0m0-1h0m1 0h0m0 0h0m1-2h0m0-1h0m0 3h0m1-2h0m1 3h0m2-2h0m1-2h0m0 0h0m0-1h0m1 3h0m0-2h0m0-1h0m0-1h0m0 2h0m2 3h0m1-1h0m0-1h0m1 1h0m0-2h0m0 2h0m1 0h0m0 1h0m1-2h0m0 2h0m2 1h0m61 12h0m-1 0h0m0-1h0m-4 1h0m-1-6h0m0-1h0m-1 6h0m-1-6h0m0 6h0m0 1h0m0-1h0m-1 0h0m0 1h0m0-4h0m0 0h0m-1-2h0m0 0h0m-1-2h0m0 7h0m0-3h0m0-4h0m-1 7h0m0-5h0m0 0h0m-1 2h0m0-2h0m0-1h0m-1 4h0m0 1h0m-1-5h0m0 0h0m-1 7h0m0-5h0m-1-2h0m0 1h0m-1 1h0m-1 0h0m-1 4h0m-1-3h0m0 4h0m-2-2h0m0 0h0m-1-2h0m-2 3h0m0-2h0m-1 1h0m-33 2h0m-1-8h0m0 0h0m0-1h0m0 9h0m-1-11h0m0 4h0m0-3h0m0 3h0m-1 2h0m0-2h0m0 6h0m0-5h0m0-4h0m-1 7h0m0-8h0m-1 8h0m0-5h0m0 8h0m-1-6h0m0-5h0m0 7h0m0 1h0m-1 0h0m-1-5h0m-1 4h0m-1-3h0m0 0h0m-1 3h0m-2 4h0m0-6h0m-1-2h0m0-2h0m0 1h0m-1 7h0m-1 2h0m0-1h0m-16-1h0m-2 1h0m-2-3h0m0 0h0m-1 2h0m-1-3h0m-6 15h0m1 1h0m0-2h0m1-4h0m4 2h0m1 1h0m1-4h0m0-2h0m1 6h0m0-3h0m0-3h0m0 9h0m0-1h0m1-4h0m0-3h0m0 3h0m1 6h0m0-11h0m1 1h0m1 1h0m0 3h0m1 5h0m1-7h0m0 6h0m0 0h0m1 1h0m0-2h0m1-2h0m0 3h0m0-4h0m1-4h0m1 6h0m6 3h0m2-1h0m0-9h0m1 5h0m0-4h0m1 3h0m0 0h0m0 1h0m2-3h0m0 0h0m0 3h0m0-2h0m0 1h0m0 1h0m1 0h0m1-3h0m0 3h0m0 1h0m1-1h0m0 0h0m2-2h0m0 3h0m0 1h0m1-3h0m1-1h0m0 4h0m1-3h0m1 2h0m3-5h0m0-1h0m0 0h0m1 0h0m22 11h0m3-4h0m1 3h0m1-1h0m1-4h0m1-4h0m1 9h0m0 0h0m1-4h0m0-5h0m0 4h0m0-3h0m0 9h0m0-4h0m0-4h0m1 5h0m0 1h0m1-5h0m0 0h0m1-1h0m1 7h0m0-2h0m0 1h0m0-6h0m0 0h0m1 5h0m0-5h0m1 3h0m0-4h0m1 0h0m0 1h0m0 0h0m1 2h0m1 6h0m0-6h0m1 3h0m0-1h0m0 0h0m1 0h0m0-6h0m1 10h0m0-11h0m1 7h0m0 2h0m0-7h0m0-2h0m1 7h0m0-1h0m0-4h0m1 2h0m2 5h0m0-4h0m0-3h0m0 9h0m1-7h0m1 6h0m0-1h0m0-9h0m1 3h0m0 0h0m0 2h0m1 1h0m1 3h0m0-3h0m0-4h0m0 2h0m0-3h0m1-1h0m0 6h0m0-1h0m0 3h0m0-4h0m1 7h0m0 0h0m0-4h0m1 4h0m0-1h0m0-9h0m0-1h0m1 2h0m0-2h0m0 9h0m0-3h0m2 3h0m0-9h0m0 10h0m0 0h0m1-5h0m0 6h0m0-7h0m0-3h0m1 10h0m0 0h0m0-4h0m2 3h0m5 11h0m-2-4h0m-1-2h0m0 6h0m0 0h0m-1-7h0m0-1h0m0 3h0m0 7h0m-1-7h0m-2 5h0m0-8h0m0-1h0m-1 5h0m0 2h0m0-7h0m0 11h0m-1-5h0m0 1h0m0-2h0m0-4h0m-1 1h0m-1 6h0m-1-1h0m0 1h0m0 2h0m-1-9h0m0 8h0m0 1h0m-3-2h0m0 2h0m-1 0h0m-1 0h0m-1-9h0m0 9h0m-1-10h0m-1 8h0m-1-1h0m0 2h0m0 2h0m0-1h0m-1-10h0m-1 9h0m0 2h0m-1-2h0m0-9h0m-1 9h0m-1-4h0m0 6h0m-2-4h0m0-3h0m0 0h0m-3 0h0m0 0h0m-1 0h0m0 4h0m0 1h0m-1 2h0m0-1h0m-2-2h0m0 2h0m0-6h0m0 4h0m-4-1h0m-1-5h0m0-1h0m0 4h0m0 2h0m-1-7h0m0 11h0m0-4h0m0-2h0m-1 0h0m-1 3h0m-1-8h0m0 0h0m0 10h0m-2-7h0m-3 6h0m-34-3h0m0-5h0m-2 5h0m-3-4h0m-2 4h0m0-6h0m-1 10h0m-2 0h0m-1-7h0m-1 1h0m-1 6h0m0-6h0m-1-2h0m0 1h0m0 8h0m-1-11h0m0 1h0m-1 8h0m-1-6h0m0 5h0m0 1h0m-1-7h0m-1 8h0m0-5h0m-1-4h0m-1 10h0m0-1h0m-1-4h0m-1-4h0m-2 2h0m-3 4h0m-1 1h0m-3 12h0m0-2h0m0 3h0m1-2h0m0 0h0m0 1h0m0 2h0m1-6h0m1-3h0m0 1h0m0 8h0m0-4h0m1 2h0m0-2h0m1-6h0m1 1h0m0 3h0m0-3h0m0 2h0m0 3h0m1 1h0m0-4h0m1 7h0m2-4h0m0 2h0m2-1h0m0 0h0m1 3h0m0-11h0m1 6h0m0 5h0m1-8h0m0-3h0m0 2h0m0 2h0m1 7h0m0-3h0m0 3h0m1-2h0m0 2h0m0-8h0m1-2h0m1 0h0m1 9h0m2-3h0m0-5h0m0 0h0m2 1h0m0 4h0m0-5h0m0 1h0m1 6h0m0 0h0m0-4h0m0-4h0m1 1h0m0 3h0m0 5h0m0-3h0m2-4h0m2 4h0m0 4h0m2 0h0m0-8h0m1 4h0m7 1h0m6 0h0m2 2h0m2-6h0m3-2h0m8 8h0m2-6h0m9-3h0m12 0h0m2 0h0m0 0h0m2 0h0m1 1h0m1 2h0m0-3h0m0 1h0m2 1h0m0 1h0m3 4h0m5-3h0m1 2h0m1-1h0m0 0h0m2-4h0m0-1h0m1 7h0m0-6h0m0 7h0m0-6h0m1-1h0m0 0h0m0 7h0m1-8h0m1-1h0m0 1h0m0 3h0m0 1h0m0-1h0m1-1h0m1-1h0m0 5h0m2-7h0m1 9h0m1-5h0m0 3h0m1-6h0m0 3h0m0-1h0m1 1h0m0-1h0m2 12h0m-3-3h0m-1 4h0m0 1h0m-2-4h0m0 4h0m-1-5h0m-2 2h0m-5-2h0m-45 9h0m0-8h0m-1 8h0m-6 2h0m-6-6h0m-2-1h0m-5-4h0m-2 10h0m0-9h0m0 4h0m0 2h0m-2 2h0m0-8h0m-4 9h0m-1-9h0m-2 1h0m-3 2h0m-1 1h0m0-1h0m-1 2h0m0 2h0m0-3h0m-1 5h0m0-3h0m0 2h0m0 0h0m0 0h0m0 1h0m-1 0h0m-1-3h0m0 3h0m-1 1h0m0-10h0m0 5h0m0 3h0m0-3h0m0-5h0m0 7h0m0-1h0m-1 0h0m0-4h0m0 0h0m-1 1h0m0 4h0m0-5h0m-1 3h0m0-5h0m0 8h0m-1-5h0m0 3h0m0 2h0m0 2h0m0-3h0m-1 1h0m-1-1h0m-1 1h0m0-9h0m-2 10h0m0-9h0m0-1h0m-1 6h0m0-3h0m-1 4h0m0-4h0m0 0h0m0-2h0m-1 5h0m0 1h0m0-6h0m-1 2h0m0 2h0m0-5h0m-1 3h0m0-1h0m0 9h0m-1-4h0m0-7h0m0 4h0m-1-2h0m0 5h0m0-6h0m0 7h0m0 2h0m0-9h0m-3 2h0m0-1h0m0 1h0m0 5h0m-1 2h0m0 11h0m0-8h0m1 4h0m0-3h0m1 3h0m0 1h0m0 3h0m1 1h0m0-2h0m0-1h0m1 1h0m1 2h0m2-2h0m0-8h0m1 9h0m1-3h0m0 0h0m0 0h0m0-6h0m0 5h0m1 2h0m0-1h0m0 3h0m1-5h0m0 3h0m1 2h0m1 0h0m0-7h0m1 6h0m0 3h0m0-11h0m1 8h0m0 2h0m3-8h0m1 8h0m1-1h0m0-4h0m1 1h0m0 2h0m1 0h0m0-2h0m0 1h0m0-6h0m0 0h0m1 5h0m0-6h0m1 7h0m0-1h0m0 0h0m0 0h0m0-2h0m0 3h0m0-7h0m1 1h0m2 5h0m0-1h0m0 2h0m0-1h0m1-1h0m0-4h0m1 7h0m1 1h0m0 2h0m1-11h0m1 5h0m0 0h0m2-3h0m8 9h0m1 0h0m1-1h0m1-1h0m0-5h0m1-1h0m0 2h0m0 5h0m0-7h0m0 5h0m0-6h0m1 5h0m0 2h0m0-4h0m1 4h0m1-1h0m52 11h0m-73-4h0m-3-3h0m-1 5h0m-1 0h0m0-2h0m-1 2h0m0-5h0m0 6h0m0 0h0m-1-6h0m0 2h0m-1-1h0m0 3h0m-1 4h0m0-4h0m0-2h0m-1-1h0m-1 7h0m0-8h0m0 4h0m-1 2h0m-2 0h0m-1-4h0m0 6h0m-1-5h0m0 1h0m-1 3h0m0 3h0m0-1h0m-1-8h0m0 0h0m-1 7h0m0 2h0m0 1h0m-1 0h0m0-1h0m0-10h0m-2 5h0m0-5h0m0 7h0m0-5h0m0 6h0m-1 3h0m-1-9h0m0 6h0m0 0h0m-1-7h0m0 6h0m0-1h0m-1-5h0m0 3h0m0-2h0m-1 0h0m-1 5h0m0 12h0m0-5h0m0 1h0m0 1h0m0 5h0m1-3h0m3-4h0m0 8h0m1 1h0m0 0h0m1-2h0m1-5h0m0 6h0m1-7h0m1-1h0m0 7h0m0-7h0m1 1h0m0-2h0m0-1h0m0 6h0m1-1h0m0-2h0m1-1h0m1 0h0m1 0h0m0 4h0m1-1h0m0 4h0m1 1h0m1 0h0m1-5h0m0-5h0m0 4h0m1 3h0m0 2h0m0 0h0m1-1h0m1-5h0m0 7h0m1 1h0m0 0h0m1-11h0m2 3h0m0 1h0m1 7h0m0-5h0m0-4h0m0 4h0m0 3h0m0-9h0m1 0h0m0 10h0m0-6h0m1 1h0m0-2h0m0 6h0m1 2h0m3 10h0m-1-5h0m-1 7h0m0-9h0m0-2h0m-1 5h0m0 5h0m-1-9h0m0 1h0m0 9h0m-1-4h0m-1-3h0m0-4h0m0 8h0m0-6h0m-1 5h0m0-6h0m0 10h0m-1-10h0m-1-1h0m-1 9h0m0-7h0m0 2h0m0-2h0m0 6h0m0-8h0m0 3h0m-1 7h0m0-2h0m-1-8h0m-1 8h0m-1 0h0m-2-5h0m0 0h0m-1 0h0m0 1h0m0-3h0m0 8h0m-1-9h0m0 4h0m0-1h0m-2 3h0m0-6h0m0 2h0m0-2h0m-2 9h0m0-3h0m-1 1h0m-1 0h0m0 4h0m0-11h0m-2 7h0m0-1h0m0-3h0m-1-2h0m-1 5h0m0-5h0m-1 5h0m0-2h0m-1-1h0m0 1h0m12 10h0m0-2h0m1 1h0m2 1h0m0-2h0m1 4h0m1 2h0m0-2h0m0 0h0m1 0h0m2-2h0m0 4h0m3-3h0m0 2h0m0 1h0m0-3h0m1 0h0m0-3h0m1 6h0m1-4h0m0 3h0m1 1h0m1-1h0m0 2h0m1-2h0m1-5h0" stroke="#D3D3D3" stroke-width="3.8" stroke-linecap="round" fill="none"/><path d="M259 861h0m-37 4h0m29 3h0m2-1h0m-6 19h0m80 10h0m-55 6h0m-20 0h0m-16 26h0m-5 12h0" stroke="#C7B5EA" stroke-width="3.8" stroke-linecap="round" fill="none"/><path d="M258 850h0m4 8h0m-1-3h0m-5-1h0m11 36h0m60 4h0m-77 6h0m-23 0h0m-13 21h0m18 0h0m1-2h0m-1 12h0" stroke="#BAA7E6" stroke-width="3.8" stroke-linecap="round" fill="none"/><path d="M253 869h0m-10 13h0m-14 1h0m16 33h0" stroke="#AD98E2" stroke-width="3.8" stroke-linecap="round" fill="none"/><path d="M256 852h0m-12 53h0" stroke="#A08ADE" stroke-width="3.8" stroke-linecap="round" fill="none"/><path d="M251 848h0m-6 34h0m-3 8h0m9 15h0m-10 12h0" stroke="#8B78D3" stroke-width="3.8" stroke-linecap="round" fill="none"/><path d="M255 852h0m0 0h0m-6 2h0m3 15h0m0 1h0m-11 28h0m9 6h0m-7 15h0" stroke="#7765C8" stroke-width="3.8" stroke-linecap="round" fill="none"/><path d="M244 851h0m0-1h0m1 1h0m1-1h0m1 0h0m3 1h0m0-1h0m0-1h0m0 0h0m1 0h0m1-1h0m2-2h0m0 2h0m1-3h0m1 3h0m0-1h0m0 3h0m1-3h0m0 1h0m0 3h0m0-4h0m0 1h0m2 3h0m0-1h0m1-2h0m61 14h0m-2-2h0m0-1h0m-2 1h0m0 0h0m-1 1h0m0-4h0m-1 2h0m0 1h0m0 2h0m-2-7h0m0 1h0m0 5h0m0 2h0m0-5h0m-1 5h0m0-1h0m-1 0h0m0-5h0m0-1h0m-1 0h0m0 3h0m0 0h0m0-2h0m-1 1h0m0 5h0m0-8h0m-1 1h0m0 5h0m0 1h0m-1 1h0m-1-7h0m-1 3h0m0 4h0m0-7h0m0 0h0m0-1h0m0 3h0m-1 4h0m-1-5h0m-2 3h0m-1-2h0m0 4h0m-1-1h0m-1-2h0m-2 3h0m-1-1h0m-1 0h0m0 2h0m-1 0h0m-30-7h0m-1-1h0m0-1h0m0 8h0m-2 1h0m0-6h0m0-1h0m0-1h0m-1 0h0m0 7h0m0 0h0m-1-3h0m0-6h0m0 10h0m0 0h0m0-4h0m0 1h0m0-4h0m-1 4h0m0-6h0m0 8h0m-1-9h0m0 8h0m0 0h0m0-5h0m-1 1h0m-1-3h0m0-1h0m-1 5h0m-1-6h0m0 5h0m-2 5h0m0-10h0m0 4h0m0 7h0m-1-9h0m0 2h0m-1-4h0m-1 5h0m0 3h0m0-6h0m0 6h0m-1 0h0m-1-8h0m0 5h0m-15 6h0m-1-1h0m0-2h0m-3 0h0m-1 1h0m0 0h0m-1 0h0m0-2h0m0 1h0m0 1h0m-2-1h0m-3 12h0m1 0h0m0 1h0m0 0h0m1-2h0m0 4h0m0-5h0m1 3h0m0-6h0m0 5h0m0-1h0m1 1h0m1-4h0m3 4h0m1-6h0m0 4h0m0-6h0m1 10h0m1-9h0m3 10h0m0-10h0m0 3h0m1 1h0m1 1h0m2 1h0m8-7h0m1 6h0m0 1h0m2-5h0m0 2h0m0-2h0m1-2h0m0 11h0m1-8h0m1-2h0m1 5h0m1-1h0m0 1h0m1-4h0m0-2h0m0 1h0m1 2h0m1-2h0m0 6h0m1-2h0m0 2h0m1-1h0m0 0h0m3-6h0m25 11h0m1-4h0m1-2h0m1 2h0m2-4h0m0 0h0m2-2h0m0 6h0m1-5h0m1 2h0m1 5h0m1-1h0m1 3h0m0-4h0m1-7h0m0 4h0m0 2h0m1 0h0m0-4h0m0 3h0m0 0h0m1-3h0m0-1h0m1 6h0m0-3h0m0-2h0m1 1h0m1 6h0m0-3h0m0 1h0m0-2h0m0-2h0m1 7h0m0-4h0m1 1h0m0-1h0m1 3h0m0 2h0m0-6h0m0 0h0m0-2h0m0 2h0m0-3h0m1 0h0m0 0h0m1 3h0m0-2h0m0 3h0m1 5h0m0-11h0m1 0h0m0 0h0m0 5h0m0-5h0m2 1h0m1-1h0m1 11h0m1-4h0m1-6h0m0-1h0m0 3h0m1 6h0m0-8h0m1 10h0m0-2h0m1 0h0m0-6h0m0 0h0m0 0h0m1 2h0m0 0h0m1 5h0m0-6h0m2 5h0m0-1h0m0 1h0m1 2h0m0-2h0m0-2h0m5 16h0m-1-7h0m0 4h0m0-2h0m0 1h0m-1 0h0m0 1h0m-1-6h0m-1 9h0m0-8h0m0-2h0m0 2h0m-1-2h0m0 3h0m-1-1h0m0 3h0m0-1h0m-1 1h0m0 1h0m0-3h0m-1 0h0m0 4h0m-1-6h0m-1 5h0m0-3h0m-1-4h0m-1 1h0m0 8h0m0 0h0m0 1h0m-4-10h0m0 10h0m-2 1h0m-2-1h0m-1-3h0m0 3h0m0-1h0m-1-1h0m0 1h0m-1 0h0m-1 0h0m0-2h0m-2-2h0m-2 0h0m0-3h0m0 3h0m-1 1h0m0 3h0m0-5h0m0 3h0m-1-1h0m0 1h0m0 1h0m0-2h0m0 2h0m0 1h0m-1-5h0m0-3h0m0 2h0m-1-3h0m0 4h0m0 3h0m-1-5h0m-1 9h0m-1-1h0m0-3h0m-1 4h0m0-5h0m0 2h0m-1-6h0m0 1h0m0-3h0m0 3h0m-1 5h0m0-4h0m0 4h0m-1-5h0m-1 1h0m0-4h0m-1 1h0m0 4h0m0 1h0m0-6h0m-1 11h0m-1-9h0m0 0h0m0 2h0m0-4h0m-1 8h0m0 0h0m-1-4h0m0 0h0m0 6h0m0-1h0m-1-4h0m0 3h0m0-5h0m0 5h0m0-4h0m-1 0h0m-1 4h0m-2 2h0m-36-3h0m0 0h0m-1-4h0m-1 2h0m0-3h0m0-1h0m-1 9h0m-1 0h0m-1 0h0m0-8h0m-1 7h0m-1-3h0m-1-5h0m-2 9h0m0-6h0m-1 7h0m-1-1h0m0-2h0m-1 1h0m0 2h0m0 0h0m0-11h0m0 1h0m-1 8h0m0-8h0m0 1h0m0 2h0m0 5h0m0-8h0m-1 0h0m-1 1h0m-1 1h0m0-1h0m-2 6h0m0-1h0m-1 3h0m-3-10h0m-2 6h0m-4 1h0m-3 16h0m1-8h0m1 7h0m0-6h0m1-1h0m1-2h0m0 7h0m0 2h0m0 0h0m1-1h0m1-1h0m1-3h0m1 4h0m0 0h0m0-4h0m0 6h0m1 0h0m0-3h0m1 1h0m0 0h0m1 0h0m0-3h0m0 0h0m3 5h0m1 0h0m0-7h0m0 4h0m1-1h0m0-5h0m1 3h0m1-4h0m0 1h0m1-1h0m0 8h0m1-6h0m0-2h0m0 5h0m0-4h0m0 2h0m0-3h0m0 10h0m0-10h0m1 4h0m1 6h0m1-9h0m1 1h0m0-1h0m0 5h0m2-7h0m0 1h0m0 0h0m0 10h0m0-8h0m1-1h0m0 2h0m0-3h0m0 3h0m1 0h0m3-4h0m1 11h0m0-4h0m0 3h0m1-1h0m0 2h0m0 0h0m2-10h0m1 4h0m5 6h0m0-6h0m8 1h0m1 2h0m0 3h0m3-5h0m10 2h0m3-5h0m9-2h0m13 0h0m2-1h0m3 7h0m0-7h0m1 3h0m1-1h0m0 6h0m0-4h0m1-1h0m1 1h0m1 2h0m0-5h0m0 2h0m0 6h0m1-2h0m3-3h0m1-1h0m0-1h0m0 6h0m1 0h0m0-4h0m0-1h0m0 1h0m0 0h0m1 7h0m0-3h0m0-6h0m0-1h0m1 2h0m0 1h0m1 2h0m0-2h0m1 3h0m0-6h0m0 7h0m1 1h0m1-2h0m0-7h0m0 6h0m1-1h0m0 2h0m0-5h0m0 0h0m0 1h0m0 3h0m1 0h0m0-4h0m0 4h0m0-4h0m0-1h0m2 0h0m0-1h0m0 10h0m1-10h0m0 1h0m0 7h0m0-1h0m1-5h0m0 1h0m0 3h0m0 3h0m1-5h0m0 1h0m1-2h0m0 0h0m0 2h0m1 3h0m1 6h0m-1 1h0m-1-1h0m0 1h0m-1-1h0m-1-2h0m-1 5h0m-3-5h0m-3 0h0m-48 6h0m-1-1h0m0-1h0m-13-3h0m-7 1h0m0-2h0m0 9h0m-2-3h0m-3-2h0m-2 3h0m-1-1h0m-2-3h0m0 2h0m0-1h0m0 5h0m-1-3h0m0 2h0m-1-4h0m0 4h0m-1 2h0m0-10h0m-1 11h0m-1-1h0m0-7h0m-1-2h0m-1 2h0m-1 7h0m0-3h0m-1-2h0m-1 0h0m0 0h0m0-1h0m0 5h0m-1-9h0m-1 4h0m-1-1h0m0 7h0m0-2h0m-5-7h0m0 8h0m0-9h0m0 11h0m0-1h0m-1-9h0m0 8h0m0-4h0m0 3h0m0 2h0m-1-9h0m-1-1h0m-1 11h0m-1 0h0m0-6h0m0-3h0m-1 3h0m0-5h0m-2 6h0m-1-2h0m0-1h0m-2-3h0m0 21h0m0 1h0m0-5h0m1 4h0m0 0h0m1-7h0m1 7h0m0-2h0m0-2h0m1 1h0m1-2h0m1-2h0m0-2h0m0 1h0m1-1h0m1 1h0m1 8h0m0-1h0m0-7h0m1 1h0m0 0h0m2 1h0m1 2h0m0 4h0m0-1h0m0-7h0m1 0h0m1 8h0m1-1h0m0 1h0m0 0h0m0 0h0m0-9h0m0 0h0m1 0h0m0 2h0m1 9h0m0-3h0m1 0h0m1 3h0m0-8h0m0-1h0m1 8h0m0 0h0m0-1h0m0-3h0m0 2h0m0-5h0m1 4h0m0-6h0m1 0h0m0 0h0m1 6h0m0 1h0m0-7h0m1 6h0m1-1h0m0 3h0m0-7h0m1 5h0m0-5h0m1 3h0m0 3h0m2-3h0m0 1h0m1-1h0m0 2h0m2-1h0m0-3h0m1-2h0m6 0h0m3 9h0m0-1h0m1-1h0m0 2h0m1-3h0m0 3h0m0-1h0m0-4h0m1-1h0m0 0h0m0 4h0m0-3h0m1 3h0m1 0h0m0-8h0m0 1h0m1 0h0m1 1h0m1 1h0m34 6h0m-60 8h0m0 5h0m0-7h0m0 1h0m-2 0h0m0 0h0m-1-2h0m-1-1h0m0 5h0m-1-6h0m0 0h0m-1 8h0m0-7h0m-2 0h0m-1 8h0m0-4h0m0-2h0m-1 5h0m-1-2h0m0 2h0m-1 3h0m0-3h0m0 1h0m0-8h0m0 8h0m-1-7h0m-1-2h0m0 6h0m0 3h0m-2-8h0m-1 7h0m0-3h0m0 4h0m0-9h0m-1 7h0m0-7h0m-1 7h0m0 3h0m-1-2h0m0 1h0m0-1h0m0 0h0m0 3h0m0-11h0m-1 8h0m0-4h0m-1 0h0m-1-4h0m0 10h0m0 1h0m-1-3h0m0-4h0m0 3h0m0-2h0m0-2h0m-1 1h0m0 3h0m-1 0h0m0-7h0m1 13h0m0 7h0m1-4h0m0 0h0m0 4h0m1-3h0m0 5h0m1-5h0m0-1h0m1 5h0m0 0h0m0-3h0m1 5h0m0-4h0m0 0h0m1 3h0m0-5h0m0 3h0m1 2h0m1-1h0m0-8h0m1 8h0m1-6h0m0 5h0m1-8h0m0 11h0m1-9h0m0 3h0m0-3h0m1 3h0m1-5h0m0 3h0m0-3h0m1 3h0m2 6h0m1-5h0m0-3h0m1 6h0m0 0h0m1-7h0m0 11h0m0-1h0m1 1h0m1 0h0m0-3h0m1 3h0m0-2h0m0-6h0m1-1h0m0-1h0m1 0h0m0 9h0m1-3h0m0-2h0m1-1h0m1 7h0m51-9h0m-47 18h0m-1-5h0m0-1h0m-1 2h0m-1 0h0m0 7h0m0-5h0m-1 2h0m-1-2h0m-1 5h0m-1-2h0m0-8h0m-1 8h0m-1 0h0m-1 0h0m0-8h0m-1 8h0m0-8h0m-1 6h0m0-5h0m-1-2h0m-1 3h0m0 4h0m0 4h0m-1-7h0m0 1h0m0 1h0m-1-2h0m0 5h0m0-9h0m0 10h0m-1-7h0m0 6h0m-1-7h0m0 2h0m-1 1h0m0 2h0m0 0h0m0-7h0m0 3h0m-1 2h0m0 0h0m0-2h0m-1-3h0m-3 3h0m0 1h0m-1 1h0m0-1h0m0 0h0m-1 3h0m0-2h0m0 6h0m0-8h0m-1-1h0m0 1h0m0 3h0m0-2h0m-1 6h0m0-10h0m-1 0h0m-3 1h0m10 14h0m1-2h0m4-1h0m0 3h0m2 1h0m0-1h0m1 0h0m1-3h0m0 2h0m0 4h0m1-3h0m0 2h0m1-5h0m1 2h0m1 4h0m1 0h0m0-2h0m0 3h0m0-2h0m1-1h0m1-2h0m0 2h0m0-1h0m1 3h0m0-2h0m0-1h0m1 2h0m0-4h0m0 3h0m0-2h0m1 3h0m0-1h0m3 1h0m0-5h0" stroke="#D3D3D3" stroke-width="3.8" stroke-linecap="round" fill="none"/><path d="M248 847h0m54 15h0m-39-5h0m-16 7h0m41 10h0m-43 2h0m-17 4h0m-9 6h0m14 5h0m4 0h0m7 6h0m7 3h0m-23 12h0m7 13h0" stroke="#C7B5EA" stroke-width="3.8" stroke-linecap="round" fill="none"/><path d="M249 851h0m14 11h0m-2 0h0m-6-7h0m-6 9h0m4 5h0m1-3h0m-8 13h0m-8 13h0m71 0h0m-64 9h0m-4 4h0m-21-2h0m2 10h0m16 8h0m5-2h0m15 1h0m-29 8h0m-1 1h0m7 22h0m-2 2h0m0 11h0" stroke="#BAA7E6" stroke-width="3.8" stroke-linecap="round" fill="none"/><path d="M251 851h0m48 60h0m-52-8h0m-32 4h0" stroke="#AD98E2" stroke-width="3.8" stroke-linecap="round" fill="none"/><path d="M251 851h0m4-3h0m-9 10h0m11 10h0m-11 21h0m16 6h0m-10 6h0m-14 19h0" stroke="#A08ADE" stroke-width="3.8" stroke-linecap="round" fill="none"/><path d="M259 856h0m-3-3h0m-3 3h0m-2-3h0m-5 16h0m8-4h0m0 42h0m-8 11h0m12-2h0m-20 20h0" stroke="#8B78D3" stroke-width="3.8" stroke-linecap="round" fill="none"/><path d="M257 869h0m16 29h0m-16 18h0" stroke="#7765C8" stroke-width="3.8" stroke-linecap="round" fill="none"/><path d="M246 861h0m-3 42h0" stroke="#6253BD" stroke-width="3.8" stroke-linecap="round" fill="none"/><path d="M198.3 831.1V981.6H344.0" fill="none" stroke="#111" stroke-width="1.5"/><path d="M473 847h0m1 0h0m0 2h0m0-1h0m2 0h0m0 3h0m2 0h0m61 12h0m-1-1h0m0 0h0m-6-2h0m0-5h0m-1 7h0m0 0h0m-1-6h0m0 5h0m0 1h0m-1-5h0m0 6h0m0 0h0m-1-8h0m-1 1h0m0 3h0m0-1h0m-2 2h0m0 1h0m-2-1h0m0-2h0m0-2h0m-1 3h0m-1-3h0m-1 2h0m-1 4h0m-1-5h0m0 1h0m-1 1h0m-1 3h0m-3-1h0m-35-6h0m0 4h0m-1-3h0m0-1h0m-1 7h0m0 0h0m0-6h0m0-3h0m-1 6h0m-1-6h0m0 7h0m0 1h0m-1-9h0m0 9h0m-2-6h0m0 5h0m-30 2h0m30 6h0m1-1h0m0 2h0m1-1h0m0 0h0m0 3h0m4-7h0m24 9h0m1-1h0m4 1h0m0 0h0m2-8h0m1 9h0m0-5h0m1 3h0m0-8h0m1 5h0m0 2h0m1-3h0m1 6h0m0-1h0m2 2h0m1-9h0m0 4h0m0-4h0m1 3h0m0-4h0m0 4h0m2 3h0m1 0h0m1-2h0m1 1h0m1 0h0m0-4h0m0-1h0m1 7h0m0 2h0m0-1h0m0-9h0m1 2h0m1 8h0m1-7h0m1 6h0m0-10h0m0 0h0m1 9h0m0-6h0m0-2h0m1 9h0m0-2h0m1 1h0m1 2h0m1-4h0m0 0h0m0 1h0m0-5h0m0 2h0m0 1h0m1 5h0m0-10h0m0 2h0m0-3h0m0 1h0m1 10h0m0-10h0m1 1h0m0 7h0m1 0h0m0-2h0m0-4h0m1 2h0m0-1h0m1 0h0m1 4h0m0 3h0m0-4h0m0 0h0m1 0h0m1 3h0m3 10h0m0 0h0m0-2h0m0-2h0m-1 6h0m0-2h0m0 0h0m-1 1h0m0-1h0m-1 2h0m0-9h0m0 3h0m-1 3h0m0-2h0m-1 1h0m0 0h0m0-6h0m-1 8h0m-1-6h0m0 3h0m-1-5h0m-1 4h0m-1 4h0m-1 0h0m0-7h0m-5-1h0m-1 1h0m0 7h0m-3 2h0m-2-1h0m0 1h0m0 1h0m-1-2h0m-3 2h0m-1 0h0m0-2h0m0-4h0m-1 2h0m0-1h0m0 0h0m-1-5h0m0 3h0m0 3h0m0 1h0m-1-4h0m0 0h0m0 0h0m0-1h0m0 5h0m0 3h0m-1-10h0m0 1h0m-1 0h0m0 7h0m-1 1h0m-2 0h0m0-5h0m0-1h0m-4-4h0m-1 7h0m0-6h0m0 5h0m-1-4h0m0 2h0m-1 4h0m-1 2h0m-1-2h0m-1-3h0m-4 5h0m-7 1h0m-40-2h0m-16 10h0m1-1h0m3-4h0m5 9h0m2-3h0m8-4h0m42 0h0m10-3h0m13 0h0m2 1h0m0-2h0m1 4h0m0-1h0m3 1h0m0 0h0m3 0h0m0 3h0m0 1h0m0-5h0m1 0h0m4-1h0m1 5h0m1-3h0m0 0h0m1 1h0m0 6h0m1-10h0m1 7h0m0 1h0m0 0h0m1-8h0m2 1h0m0-1h0m0 2h0m2-1h0m0 4h0m0-4h0m0 8h0m3-4h0m0 1h0m2-6h0m0 3h0m1-1h0m0 12h0m-2 3h0m-2-1h0m-1 0h0m-1-5h0m0 0h0m-6 0h0m0 2h0m-72 1h0m-8 8h0m-5-2h0m-4-1h0m-16 7h0m7 5h0m6 1h0m4-9h0m4 10h0m3-4h0m4-1h0m4 1h0m69 13h0m-74-4h0m-6 2h0m0 1h0m-1-6h0m-11 3h0m-3-3h0m-4 11h0m-1-1h0m3 8h0m7-4h0m15 5h0m1 23h0" stroke="#D3D3D3" stroke-width="3.8" stroke-linecap="round" fill="none"/><path d="M473 848h0m2 2h0m58 10h0m-13-3h0m-3 3h0m-4 2h0m-33-5h0m-1 6h0m-2-1h0m0 1h0m-3 0h0m4 1h0m24 11h0m3-2h0m2-4h0m7 3h0m1-2h0m1-3h0m3 4h0m2-4h0m4 4h0m9-4h0m1-3h0m5 8h0m5 9h0m-1-2h0m-4 1h0m-1 0h0m-1 4h0m-16 0h0m-2-3h0m-3 5h0m-4 1h0m-2-8h0m-2 7h0m-6-2h0m-2 0h0m23 12h0m4-2h0m4-3h0m7 3h0m1 1h0m0-1h0m5-3h0m2 1h0m-57 17h0" stroke="#C7B5EA" stroke-width="3.8" stroke-linecap="round" fill="none"/><path d="M471 846h0m1 4h0m1-2h0m41 11h0m-35 3h0m-2-10h0m0 11h0m0 0h0m-1-8h0m-2 14h0m1 1h0m41-2h0m5 3h0m2 0h0m0-2h0m1-3h0m11-2h0m3 1h0m5 12h0m-4 6h0m-9 3h0m-1-2h0m-4 1h0m-12 0h0m-3-1h0m-1-5h0m-3 1h0m-5 0h0m25 14h0m2 1h0m3-2h0m9 4h0m3-1h0" stroke="#BAA7E6" stroke-width="3.8" stroke-linecap="round" fill="none"/><path d="M532 857h0m-87 6h0m-4-2h0m-3 6h0m1 1h0m5-4h0m7 5h0m62-3h0m8-2h0m1 8h0m5 1h0m6-8h0m9 8h0m-2 10h0m-23-6h0m-15 3h0m-43-2h0m-8 7h0m-1-2h0m0-4h0m0 1h0m-2 4h0m-1-7h0m-6 1h0m-6 6h0m-3 7h0m2 1h0m1 5h0m1-8h0m0 6h0m0-2h0m8 3h0m1-1h0m34-1h0m5-3h0m48 5h0m7-5h0m0-3h0m9 15h0m-6-2h0m-7-1h0m-69 1h0m-7 8h0m-5-6h0m-8 6h0m-2 2h0m-3-2h0m0-9h0m-2 5h0m-4-2h0m-1-1h0m-2 1h0m0 16h0m1 1h0m1 3h0m1-3h0m1 0h0m0-4h0m0-4h0m0 0h0m7 9h0m0 1h0m7-1h0m0-7h0m4 4h0m1 5h0m6-4h0m0-6h0m1 3h0m-9 12h0m-1 2h0m-1-5h0m-1-1h0m0 0h0m-1 2h0m-2 9h0m-1-8h0m-1 5h0m-2-7h0m-1 2h0m0 5h0m-3-6h0m-1 7h0m-2-4h0m-6 10h0m0 1h0m4-2h0m0 8h0m1 1h0m7-4h0m1-5h0m1 1h0m4-3h0m13 16h0m-2 0h0m-16 1h0m-5-1h0m-3-2h0m-3 1h0m12 13h0m4-4h0m3 7h0m1-5h0m0 5h0m2-3h0m1 0h0m3-2h0m1 3h0m2 0h0" stroke="#AD98E2" stroke-width="3.8" stroke-linecap="round" fill="none"/><path d="M466 851h0m2-2h0m1 1h0m-6 10h0m-1 3h0m-17-3h0m-2-1h0m-1 0h0m-6 13h0m2-2h0m3 1h0m1-6h0m7 4h0m16-5h0m0 6h0m1-2h0m2-2h0m2 4h0m1-4h0m0 4h0m-11 13h0m0-1h0m-6 2h0m-4 2h0m-2 1h0m-5-1h0m0-9h0m-8 5h0m0-1h0m-2 10h0m4 2h0m2 4h0m2 2h0m3 0h0m1 0h0m4-10h0m1 5h0m2-4h0m3 7h0m0-8h0m1 4h0m1 5h0m0 0h0m4 0h0m0 1h0m1 0h0m3-6h0m13 5h0m12 8h0m0-5h0m-1 2h0m-14-2h0m-14 6h0m-3-7h0m-2 10h0m-3-1h0m-2-4h0m-2 1h0m-1-6h0m-1 3h0m-1 1h0m-5 6h0m-1-1h0m0 0h0m-2-8h0m-7 7h0m-2 14h0m1 0h0m0-9h0m2 4h0m2-4h0m5 5h0m0 3h0m0-8h0m2 3h0m0 3h0m2-6h0m5 10h0m0-11h0m3 9h0m0 2h0m0-11h0m1 1h0m0 0h0m1 0h0m0 0h0m0 0h0m1 5h0m0 3h0m0-5h0m5 5h0m1 2h0m10-10h0m3 9h0m1-2h0m0-3h0m2-2h0m2 4h0m0 1h0m-23 7h0m-8-2h0m0 0h0m-1 5h0m-5 1h0m0-3h0m-5 6h0m0-8h0m-1 7h0m-1 2h0m-1-3h0m3 8h0m4-3h0m3 1h0m2 8h0m4-1h0m3 2h0m4-2h0m0-5h0m-6 18h0m0 0h0m0-5h0m-2-2h0m-1 8h0m-3-10h0m-1 1h0m-2-2h0m-2 4h0m-1 7h0m-2-6h0m0-1h0m-1 3h0m-1-1h0m-1-5h0m-1 3h0m8 11h0m1-2h0m6-1h0m2 1h0m1 2h0m2 3h0m4-6h0m2 6h0m1-2h0" stroke="#A08ADE" stroke-width="3.8" stroke-linecap="round" fill="none"/><path d="M464 850h0m3-1h0m1 2h0m0-2h0m0-3h0m2 5h0m0-2h0m0 1h0m-1 6h0m0 4h0m-6-3h0m-16 6h0m-5-4h0m0 2h0m-2-1h0m-4 13h0m2 2h0m2-3h0m3-1h0m2-5h0m6 6h0m1-3h0m2-2h0m7 6h0m3-4h0m0 0h0m0 3h0m2-6h0m1 3h0m3-5h0m0 5h0m-7 17h0m-1-10h0m-10 10h0m-3-2h0m-1-8h0m-1 9h0m-2-6h0m-2-1h0m0 8h0m-8-4h0m-4 10h0m5-1h0m1 5h0m8-8h0m1 4h0m1 4h0m2 2h0m1-5h0m1 4h0m0-6h0m1-1h0m3 1h0m0 0h0m0 1h0m0 1h0m0-4h0m6 10h0m2-10h0m0 2h0m1 3h0m16 0h0m1 0h0m11 4h0m-17 6h0m-4 3h0m-8-5h0m-8 2h0m-3 6h0m0-9h0m-1 1h0m0 8h0m-1-5h0m0 2h0m-3-1h0m-5-6h0m-1 1h0m-1 10h0m-1-10h0m-1-1h0m-1 8h0m-1 3h0m-2-7h0m-4 6h0m0 11h0m2-3h0m0 3h0m1-3h0m2 5h0m4-5h0m5 3h0m0-3h0m2 0h0m1 0h0m2 5h0m0-3h0m1-3h0m1 3h0m1 0h0m2 1h0m0-8h0m18 10h0m0-9h0m1 8h0m0 1h0m3-6h0m0-1h0m0 2h0m-17 10h0m-4 1h0m-7-4h0m-2 8h0m-4-6h0m0 6h0m-2-8h0m-1 0h0m-1 7h0m-1 3h0m0-4h0m-1-7h0m-2 8h0m-4 13h0m4 0h0m6-9h0m2 6h0m2 3h0m2 1h0m4-2h0m1-5h0m1 8h0m3-8h0m1-1h0m0 4h0m-1 13h0m-3-4h0m-3 8h0m-3-4h0m0 3h0m0-7h0m0-1h0m-1 7h0m-1 0h0m-1-2h0m-1-7h0m-7 5h0m0 0h0m13 12h0m10-4h0" stroke="#8B78D3" stroke-width="3.8" stroke-linecap="round" fill="none"/><path d="M464 850h0m2 1h0m0-1h0m1 0h0m3 13h0m-3-11h0m0 7h0m-1-5h0m0 2h0m0 0h0m-3-4h0m-18 9h0m-2-1h0m-3 10h0m3-2h0m1 2h0m2 4h0m1-9h0m2 2h0m2 3h0m2-4h0m10 3h0m1-1h0m0-4h0m0 0h0m4 5h0m-5 13h0m-6-4h0m0 8h0m-1-8h0m-1-2h0m-3 10h0m-1-1h0m-2 1h0m-2-6h0m0-3h0m-2 10h0m-3-9h0m-10 19h0m2-2h0m3-4h0m0 2h0m4 4h0m3 2h0m0-11h0m2 8h0m1-4h0m1-1h0m2 0h0m3 0h0m2 1h0m0 0h0m0-2h0m0 1h0m0-3h0m1 2h0m1 0h0m1 1h0m6 4h0m15 3h0m10 7h0m-21 0h0m-6 5h0m-10-7h0m-3 0h0m-1 8h0m0-8h0m0 6h0m-1-1h0m-1-4h0m-2 5h0m-5 0h0m-1-9h0m-1 11h0m-1 0h0m0-9h0m0-1h0m-1 10h0m0-11h0m0 6h0m0-1h0m-3 2h0m-3 16h0m1-6h0m2 3h0m1-3h0m2 4h0m3-3h0m1 2h0m2 2h0m3-6h0m1 6h0m1-1h0m6-3h0m0-2h0m8 1h0m0 2h0m14-3h0m1 0h0m4-3h0m-25 16h0m0 0h0m-1-2h0m-1-2h0m0 1h0m-6-2h0m-1 5h0m-1 1h0m-1 2h0m-5 1h0m0-1h0m-2-3h0m-1 3h0m0-8h0m-1 5h0m-3 0h0m0 13h0m1-1h0m1 1h0m3 4h0m1 0h0m1-5h0m1 4h0m3-7h0m0 0h0m2-2h0m3 9h0m1-5h0m1 4h0m1 3h0m6-1h0m4 6h0m-4 7h0m-4-10h0m-1 8h0m-7-9h0m-1 10h0m0-7h0m-1 2h0m0 2h0m0-2h0m-1-5h0m-3 3h0m-2 4h0m-1-1h0m0 5h0m0-8h0m10 11h0m3 2h0m1 0h0m1 1h0m3 1h0m1 1h0m1-5h0m0 1h0m3 1h0m1 2h0" stroke="#7765C8" stroke-width="3.8" stroke-linecap="round" fill="none"/><path d="M464 848h0m3 1h0m1 2h0m1 0h0m0-5h0m1 5h0m0-3h0m0-1h0m1 8h0m0-2h0m-2 4h0m-1-5h0m0 4h0m-1 3h0m-1 4h0m0-8h0m-2 0h0m-18 6h0m-6 2h0m4 9h0m24-4h0m1 2h0m1-6h0m0 3h0m-18 12h0m-2 3h0m-1 4h0m-1-1h0m0 2h0m-3 0h0m-5-6h0m-5 10h0m1 2h0m7 4h0m3-7h0m7 4h0m2 1h0m0-4h0m5 4h0m29 3h0m-21 10h0m-10 0h0m-3-3h0m-5-3h0m-3 5h0m-2 2h0m-13 10h0m1-2h0m5 2h0m1-5h0m9 8h0m9-4h0m5-1h0m-9 12h0m-8 0h0m-9 2h0m-3 4h0m-4-7h0m10 8h0m4 2h0m5 2h0m4 6h0m5 4h0m-1-2h0m-1 8h0m-3-4h0m-1 4h0m-7-7h0m-6-1h0m-2 10h0m21 7h0" stroke="#6253BD" stroke-width="3.8" stroke-linecap="round" fill="none"/><path d="M472 848h0m1-1h0m1 2h0m2 1h0m62 13h0m-2-4h0m-1 1h0m-3 0h0m0 2h0m-2-1h0m0-2h0m0-1h0m-1 4h0m-1-6h0m-1-1h0m0 7h0m0-5h0m-1 1h0m0-3h0m-1 1h0m0 7h0m0-6h0m-1-1h0m-1 6h0m0-1h0m-1-5h0m0 7h0m0-8h0m-2 5h0m0 1h0m-1-2h0m-3 2h0m-2 0h0m-1 2h0m0 0h0m0 0h0m-1-2h0m-1 0h0m-31-5h0m0 6h0m-1-1h0m-1-8h0m0 2h0m-1 0h0m0 0h0m0-2h0m0 3h0m-1-2h0m0 7h0m0-4h0m0 1h0m-1 1h0m0 4h0m0-1h0m0-6h0m-1 6h0m-2-9h0m0 10h0m0-4h0m-35 13h0m2 1h0m1-5h0m32-1h0m0-3h0m1 7h0m0 1h0m1-3h0m4-4h0m25 8h0m4-6h0m1 0h0m1 8h0m0-1h0m1-4h0m1 3h0m1-5h0m1-1h0m0-2h0m3-1h0m0 0h0m0 6h0m1-2h0m0-1h0m0 2h0m1 4h0m0-5h0m0-2h0m0-1h0m1 10h0m0-6h0m1 4h0m0-7h0m0-2h0m1 6h0m0 1h0m0-2h0m1 5h0m1-3h0m0 2h0m0-3h0m0-4h0m1 3h0m0-3h0m0 4h0m1-2h0m1 1h0m0-2h0m1 6h0m1-9h0m1 10h0m0 1h0m0-8h0m1 2h0m1 1h0m1-6h0m0 2h0m1 9h0m1-9h0m0-2h0m1 2h0m1 9h0m1-2h0m0-6h0m1 4h0m1 1h0m0-7h0m1 8h0m0 2h0m0 0h0m1-2h0m1 2h0m0-4h0m4 16h0m-1-2h0m0-6h0m-1 4h0m0 4h0m-1-8h0m-1 8h0m0-11h0m0 2h0m0-1h0m-1 2h0m0 1h0m-1 5h0m0 2h0m-1-3h0m0-4h0m0 4h0m-1-2h0m0 2h0m-1-6h0m-1 0h0m-1 6h0m-1-1h0m0 2h0m0 0h0m0 1h0m-1-2h0m-1-4h0m-1-4h0m0 10h0m0 0h0m-1-10h0m-1 10h0m-1 0h0m0 1h0m-2-1h0m0-1h0m-1-1h0m0 1h0m-1-9h0m0 9h0m-5-7h0m-1 4h0m0-2h0m0 0h0m-1 3h0m0-7h0m0 9h0m0 1h0m0-3h0m-1-1h0m0 0h0m-2-2h0m-3 6h0m-1-2h0m0 0h0m-1-4h0m0 0h0m0-3h0m-1 8h0m-1-5h0m-1 1h0m-1 6h0m0-6h0m0-4h0m0 8h0m-1-9h0m0 2h0m0-2h0m-1 5h0m0 1h0m0-2h0m-1 5h0m-2-8h0m-1 2h0m0 1h0m-1 4h0m-1 1h0m-54 7h0m10-1h0m42-2h0m20 0h0m2 0h0m2 0h0m2 1h0m1 2h0m1-4h0m1 4h0m0-4h0m1 3h0m1 3h0m1 3h0m3-4h0m2 3h0m0-3h0m0-2h0m1 3h0m0-5h0m1 0h0m1 2h0m0-1h0m0 2h0m1-2h0m0 0h0m0 7h0m1 0h0m1-5h0m1 1h0m0-1h0m2-2h0m0 5h0m1-7h0m0 10h0m1-9h0m0-1h0m1 1h0m0 8h0m1-6h0m1-1h0m0-1h0m1 2h0m2 11h0m0 1h0m-3-1h0m-1-2h0m-1 5h0m0 0h0m-1-4h0m-1 4h0m-2-3h0m-73-2h0m0 4h0m-5-3h0m-13 8h0m-2-8h0m-7 5h0m-3 0h0m3 12h0m5-6h0m10 4h0m2 1h0m-11 11h0m-4-3h0m-1 10h0m-4-5h0m-3-2h0m-3 9h0m15 10h0m9-10h0m3 22h0m-13-7h0m10 13h0m1-1h0" stroke="#D3D3D3" stroke-width="3.8" stroke-linecap="round" fill="none"/><path d="M473 848h0m2 1h0m0 1h0m58 7h0m-5 0h0m-1 0h0m-2 0h0m-1 6h0m0-1h0m-2 1h0m-9-3h0m-38-8h0m0 4h0m-1-1h0m0 7h0m30 9h0m0 0h0m1-2h0m5 2h0m0-4h0m2 4h0m4-3h0m3-1h0m1 4h0m1-6h0m7-1h0m0 5h0m3-5h0m5 12h0m-5 8h0m-8 3h0m-9-7h0m-4-2h0m-1 6h0m-2-2h0m0 1h0m-1-2h0m0 1h0m-2-1h0m-2-5h0m-1 1h0m-1 3h0m-5 11h0m24-1h0m8 4h0m0 2h0m17 1h0m2 5h0m-3 3h0m-6-5h0" stroke="#C7B5EA" stroke-width="3.8" stroke-linecap="round" fill="none"/><path d="M473 847h0m57 14h0m-4-2h0m-2 4h0m-2-6h0m-1 1h0m-2 4h0m0 0h0m-6 0h0m-35-9h0m-5 1h0m0 2h0m-1-4h0m2 19h0m0-1h0m31 0h0m7 4h0m3-5h0m1 6h0m11-11h0m8 0h0m9 19h0m-2 2h0m-3-4h0m-3-3h0m-2-1h0m-2 4h0m-2 4h0m-4-1h0m-3-1h0m-5-3h0m-2 2h0m-3 5h0m-2-4h0m-7-2h0m18 7h0m1 3h0m12 1h0m1 2h0m8 2h0m3-3h0m1 3h0m-3 8h0m-2 0h0m-2-1h0" stroke="#BAA7E6" stroke-width="3.8" stroke-linecap="round" fill="none"/><path d="M471 845h0m63 11h0m-2 3h0m-7-4h0m-1 1h0m-51 5h0m-28 2h0m0-1h0m-3-1h0m-1 0h0m0-1h0m71 8h0m15-2h0m8 20h0m-11 1h0m-7-4h0m-3 1h0m0-2h0m-58 4h0m-3 0h0m0-9h0m-2 2h0m-7-1h0m-10 7h0m-1 13h0m9-10h0m3 11h0m1-10h0m1 10h0m2-5h0m4 1h0m1-4h0m2 6h0m0-8h0m1 6h0m27-5h0m60-2h0m3 15h0m-58-3h0m-6 11h0m-22-10h0m-7 5h0m-4-6h0m-1 7h0m-3 2h0m-8 3h0m1 9h0m1-3h0m3 2h0m2 0h0m4 1h0m4-3h0m6 1h0m3-6h0m12 10h0m-22 5h0m-9 4h0m-9 0h0m-2-1h0m-1-4h0m1 14h0m1-1h0m3-1h0m5 2h0m2 0h0m3 5h0m2-2h0m5 1h0m3-4h0m4 9h0m-3 4h0m-3-5h0m-4-1h0m-3 11h0m-6-10h0m-4 3h0m-4 1h0m-3-4h0m16 13h0m1 2h0m3 0h0m3 2h0m8-6h0" stroke="#AD98E2" stroke-width="3.8" stroke-linecap="round" fill="none"/><path d="M462 850h0m2-2h0m0-1h0m5 2h0m-2 5h0m-4 7h0m-22-1h0m2 11h0m0-6h0m0 0h0m1 1h0m0-1h0m2 10h0m3-2h0m0 0h0m2-5h0m17-3h0m-17 18h0m-3 3h0m-1-1h0m-1-7h0m-2 1h0m0 7h0m-1-2h0m-1 0h0m-1-1h0m0 3h0m-1-7h0m-3-3h0m-8 23h0m2-5h0m2-2h0m0 3h0m1 2h0m1-2h0m1-3h0m0-2h0m2 9h0m2-5h0m5-3h0m1 1h0m0-3h0m2 1h0m1-1h0m0 3h0m9-2h0m5-1h0m53 22h0m-28-7h0m-20-4h0m-1 6h0m-14 2h0m-1 2h0m-2-4h0m-5 1h0m0 3h0m0 1h0m-10-2h0m0-2h0m0-3h0m-3-1h0m-2 6h0m0 11h0m3 2h0m1 1h0m4-1h0m1-4h0m6-6h0m3 8h0m2 2h0m1-3h0m0-4h0m4 4h0m1-5h0m3 8h0m4-7h0m10-1h0m2 7h0m2-5h0m1-4h0m2 1h0m-25 21h0m-3-7h0m-1 2h0m-1-1h0m-1 3h0m-1 1h0m0 0h0m-6-6h0m-1-2h0m-2 4h0m-2 2h0m-3 2h0m0 2h0m-4-3h0m0 9h0m2-4h0m2 9h0m4-9h0m2 3h0m8 1h0m3 7h0m2-11h0m4 2h0m1 0h0m1 14h0m-4 5h0m-2 0h0m-1 0h0m-1 0h0m-4-2h0m0 4h0m-1-2h0m-1-6h0m0 1h0m-1 2h0m-2-4h0m-4 5h0m-3-4h0m-1 3h0m-3-2h0m0-4h0m6 13h0m11 3h0m0 1h0m1 1h0m2-6h0m7 2h0" stroke="#A08ADE" stroke-width="3.8" stroke-linecap="round" fill="none"/><path d="M462 847h0m0 3h0m2 0h0m2-1h0m2-1h0m3 14h0m-1-6h0m-5-4h0m-2 10h0m-17 0h0m0 1h0m-1 0h0m-10 10h0m4-2h0m1 2h0m4 1h0m0-1h0m1-8h0m1 0h0m6 5h0m10-6h0m0 5h0m1 0h0m6 0h0m2-4h0m-12 14h0m0-2h0m-1 4h0m-3 4h0m-5 1h0m-1 0h0m-1-4h0m-9 2h0m-1-1h0m0-4h0m-2-3h0m-1 5h0m-4 14h0m1 1h0m2 1h0m0 2h0m4-7h0m0 4h0m6-2h0m2-1h0m1 6h0m0-2h0m1-8h0m4 6h0m7-7h0m2 10h0m0-3h0m1 4h0m8-3h0m8-2h0m1 1h0m0 1h0m-11 6h0m-1-2h0m-1 9h0m-1 1h0m-6-8h0m-1 4h0m-7 0h0m0-2h0m-5-1h0m-8-2h0m-2 4h0m0-5h0m-3 10h0m-1-6h0m-3 17h0m3-1h0m4-7h0m3 6h0m0-5h0m4-2h0m4 2h0m5-1h0m1-1h0m2 2h0m3 6h0m0 0h0m2 1h0m11-7h0m6 6h0m3-6h0m1 1h0m34 6h0m-62 7h0m-4 3h0m-1-6h0m-1 4h0m0-4h0m-1 7h0m-5 2h0m-4-4h0m-4-2h0m-2 3h0m-2-7h0m0 16h0m6-4h0m2 4h0m1-3h0m1 7h0m0 1h0m2 2h0m7-7h0m0 3h0m2-7h0m1 3h0m3 7h0m1-6h0m2 5h0m1 2h0m2 12h0m-2-1h0m0 0h0m-3-5h0m-1 2h0m-1 0h0m-3 1h0m-2 0h0m-3-5h0m-2 1h0m-8-3h0m0 3h0m-1-4h0m-1 6h0m14 9h0m2-1h0m5 4h0m0 0h0m0-3h0m1 0h0m3-3h0" stroke="#8B78D3" stroke-width="3.8" stroke-linecap="round" fill="none"/><path d="M461 851h0m1-3h0m0 3h0m0 0h0m1-1h0m0 0h0m1-3h0m1 1h0m1-2h0m1 15h0m-1-4h0m-1-5h0m-1 2h0m0 6h0m-1-4h0m0 2h0m-21 3h0m0 2h0m-1-2h0m-5 14h0m0-1h0m3-6h0m6 1h0m6 4h0m2-2h0m1 0h0m5 3h0m3-5h0m0-5h0m1 4h0m2-1h0m0 3h0m1-6h0m1 3h0m4-1h0m-5 14h0m-3-3h0m-8 9h0m-6-8h0m0 1h0m-1 7h0m-2-9h0m-8 4h0m0-1h0m-6 18h0m2-8h0m2 7h0m1-1h0m2 3h0m0-2h0m2-2h0m5-2h0m1-2h0m2-2h0m2 10h0m4-9h0m1 7h0m0-8h0m6 8h0m8-4h0m8 2h0m1 4h0m-9 1h0m-3 7h0m-4-3h0m-9 0h0m-2 5h0m-2-1h0m-4 2h0m-3-1h0m-2 2h0m-2-10h0m-1-1h0m0 0h0m-2 5h0m-2 0h0m0-4h0m1 21h0m0-6h0m0-2h0m7 9h0m1-9h0m3 7h0m1-5h0m2 4h0m1-4h0m0 2h0m2-5h0m3-1h0m7 6h0m1-4h0m10 7h0m1 1h0m1-2h0m0 2h0m1-7h0m0-1h0m-24 10h0m0 4h0m-2-4h0m-6 6h0m0-1h0m-4 3h0m0 1h0m-1-4h0m-3 1h0m-1 2h0m-4-8h0m0 8h0m0-4h0m-1 10h0m1 2h0m4 3h0m9-7h0m1 7h0m3-2h0m1 2h0m1-7h0m3 1h0m3-1h0m1 7h0m1-4h0m4 18h0m-1 1h0m-8-1h0m-1-1h0m-1 1h0m-2-1h0m-3 2h0m-2-6h0m-3 2h0m0-2h0m-1 5h0m-3 1h0m-3-7h0m11 10h0m0-1h0m1 1h0m2 3h0m1-2h0m7 1h0m0 1h0m1 2h0m2 0h0m3-1h0" stroke="#7765C8" stroke-width="3.8" stroke-linecap="round" fill="none"/><path d="M463 848h0m8-1h0m-3 13h0m0 1h0m-4-8h0m-3 1h0m-16 8h0m-8 6h0m2 4h0m5-3h0m0-4h0m5 9h0m14-3h0m1-5h0m1 0h0m0 3h0m1-3h0m0 1h0m0 3h0m2 0h0m3-6h0m-10 18h0m-11 5h0m-3-11h0m-1 2h0m-9 14h0m6 4h0m5-7h0m33 3h0m-20 14h0m-13-2h0m-8-3h0m-2 2h0m-2 2h0m-5 16h0m6-9h0m2 6h0m3 3h0m1-4h0m2 6h0m1-5h0m4 1h0m1 3h0m10-5h0m3-4h0m-12 17h0m-3-2h0m-2 0h0m-6 5h0m-1-3h0m-11 2h0m6 15h0m0-1h0m4-10h0m5 6h0m0 3h0m1-4h0m1-2h0m5 7h0m6-2h0m1-3h0m1 9h0m-8-1h0m-3 6h0m-11-2h0" stroke="#6253BD" stroke-width="3.8" stroke-linecap="round" fill="none"/><path d="M472 851h0m1-2h0m0 2h0m1 0h0m0-4h0m3 1h0m56 13h0m0-2h0m-1-3h0m-1 6h0m-1 0h0m-1-7h0m0 7h0m0-6h0m-1 7h0m0-4h0m-1 3h0m0-7h0m0 2h0m-2-1h0m0 5h0m-1 2h0m0-7h0m-2 0h0m0 2h0m-1 4h0m-2 1h0m-1 0h0m-1-5h0m0 3h0m0-2h0m0 4h0m-1-2h0m-1 0h0m0-2h0m-1 2h0m-2-1h0m-2 3h0m-30-4h0m-1 2h0m0-6h0m-1 3h0m0-3h0m0-1h0m0 9h0m-2-7h0m0 1h0m-1 6h0m0 0h0m0-3h0m-1-7h0m0 2h0m0-1h0m-1 5h0m0 0h0m0-7h0m-1 5h0m0 0h0m0 2h0m-30 8h0m8 7h0m22-9h0m0 6h0m3-1h0m2-6h0m1 0h0m1 0h0m21 11h0m2 0h0m2-4h0m2 0h0m0 4h0m3-10h0m1 1h0m0-1h0m0 0h0m0 1h0m0 9h0m0 0h0m1-4h0m1-4h0m1 3h0m1-3h0m1 5h0m0 3h0m0-4h0m0-4h0m1 0h0m1 5h0m0-6h0m0 5h0m1-3h0m1 3h0m0-5h0m2 5h0m0 3h0m0-3h0m1 4h0m0-11h0m1 8h0m0-5h0m1 2h0m1-3h0m0-1h0m1 4h0m1 6h0m1-11h0m0 4h0m1 6h0m3-6h0m0 1h0m0-4h0m1 1h0m0 4h0m0-2h0m1-3h0m1 9h0m0-1h0m1-6h0m0 7h0m0-10h0m0 9h0m0 0h0m0-3h0m1 3h0m0-5h0m1 7h0m0-11h0m0 10h0m0-1h0m0 1h0m1 1h0m0-6h0m0 5h0m0-6h0m2 5h0m6 12h0m-1-2h0m-1 2h0m0-6h0m-1 1h0m0 5h0m-1-7h0m0 0h0m0-1h0m0-1h0m-2 6h0m0-5h0m0 2h0m-1-3h0m0 6h0m0-5h0m-1 2h0m0-2h0m0 6h0m0-7h0m-1 5h0m-1 2h0m-2-7h0m0 9h0m-1 1h0m-3-10h0m-2 1h0m-3 9h0m-1-10h0m0 7h0m0 2h0m-1 1h0m-1-1h0m-3-4h0m0 4h0m-1-4h0m-1 0h0m-1 3h0m-1-4h0m-2 0h0m-1 0h0m-1 4h0m-1 1h0m0-3h0m-1-3h0m-2 0h0m0 5h0m-2-7h0m0 0h0m0 5h0m0-6h0m0 7h0m0 1h0m-1 3h0m-1 0h0m0-11h0m-1 8h0m-1-4h0m0 0h0m0 4h0m-1-8h0m-54 15h0m0-2h0m1 8h0m7-7h0m37 6h0m11-7h0m1-1h0m1 0h0m17 1h0m0 6h0m1-4h0m1-1h0m0 6h0m0-5h0m1 1h0m1-2h0m3 6h0m2-5h0m0 1h0m1-2h0m0 1h0m1 5h0m0-6h0m0 2h0m2 5h0m0-6h0m1 0h0m0 0h0m1-1h0m0 5h0m0 1h0m1-7h0m0 1h0m0 0h0m0 6h0m1-3h0m0-3h0m0 5h0m0-7h0m0 9h0m1-3h0m0 4h0m1-4h0m3-4h0m0 2h0m0 2h0m0 1h0m1-3h0m2-1h0m-1 9h0m0 2h0m-70 3h0m-23 4h0m-19 12h0m19-9h0m2 9h0m0-1h0m6-8h0m-7 12h0m-6 6h0m-8-2h0m-2 17h0m9-8h0m3 9h0m2 2h0m-17 3h0m-2-3h0m26 17h0" stroke="#D3D3D3" stroke-width="3.8" stroke-linecap="round" fill="none"/><path d="M472 850h0m1-3h0m0 1h0m1-1h0m0 3h0m0-1h0m1 1h0m58 13h0m-4-7h0m-1 6h0m-4-3h0m-12 2h0m-2 2h0m-33-7h0m-1 7h0m-2-2h0m-1-8h0m0 6h0m-1-7h0m2 15h0m31 7h0m3-6h0m2 3h0m3-6h0m1 7h0m0-5h0m8 8h0m2-5h0m6-3h0m4 6h0m1-8h0m6 9h0m5 6h0m-2 1h0m-1-2h0m-1 1h0m-4-3h0m-1-1h0m-11 0h0m-1 7h0m-10-7h0m-1 7h0m-1 0h0m-2 4h0m-2-3h0m-3 0h0m-1-6h0m-3 8h0m14 2h0m10 1h0m7 5h0m0-2h0m2 4h0m5-6h0m0 1h0m1-2h0m4 0h0m0 4h0m1-1h0m3 11h0m-7-3h0" stroke="#C7B5EA" stroke-width="3.8" stroke-linecap="round" fill="none"/><path d="M474 848h0m56 11h0m0 4h0m-1-6h0m-2 2h0m0-4h0m-3 3h0m-7 2h0m0 0h0m-6 2h0m-31 1h0m-2-9h0m-2 0h0m0 4h0m-1 2h0m-1 0h0m-1 1h0m0-1h0m0 0h0m29 12h0m3-1h0m7-4h0m3-1h0m11 4h0m6 0h0m4 3h0m2-4h0m5 18h0m-2-7h0m-2 7h0m-1-4h0m-3 3h0m-2-9h0m-1 9h0m-21-6h0m-1 1h0m0 3h0m-2-5h0m-7 0h0m16 10h0m8 8h0m1-5h0m11 3h0m8-4h0m-56 18h0" stroke="#BAA7E6" stroke-width="3.8" stroke-linecap="round" fill="none"/><path d="M533 860h0m-3-4h0m-2 0h0m-13 6h0m0-3h0m-30 4h0m-8-7h0m-16-4h0m-17 12h0m5 10h0m1 1h0m3-10h0m51 9h0m10-1h0m2-3h0m1-4h0m20 9h0m-15 1h0m-12 0h0m-1 1h0m-56 5h0m-4 4h0m-1 1h0m-2-10h0m-1 6h0m-3 4h0m-4-11h0m-7 22h0m0-1h0m1-8h0m0 10h0m1-3h0m1-1h0m1 1h0m12-1h0m1 4h0m1 0h0m0-10h0m6 0h0m1 3h0m0-1h0m1 4h0m64-6h0m-52 12h0m-2 0h0m-13 2h0m-4-2h0m-14 10h0m-4-6h0m6 14h0m1-5h0m0-1h0m7 8h0m0-3h0m5 0h0m0 0h0m0 2h0m3-1h0m0-7h0m7 8h0m14 1h0m-24 5h0m-3-1h0m-2 8h0m-2-2h0m-2 3h0m-1-4h0m-1 0h0m-1-2h0m-1-4h0m-1 2h0m-3 0h0m0 9h0m0 0h0m-4 9h0m1-2h0m1-3h0m2 5h0m9-2h0m4-1h0m4 6h0m1-3h0m3 3h0m1-11h0m0 6h0m5 14h0m-2-3h0m-1-2h0m-2 1h0m-2 7h0m-2-11h0m-1 2h0m-1 5h0m-2 1h0m-1-3h0m0 1h0m-1 2h0m-2-4h0m-9 0h0m0-1h0m-1 0h0m9 9h0m2 0h0m3 4h0m0 1h0m7-2h0m3 1h0m4-4h0" stroke="#AD98E2" stroke-width="3.8" stroke-linecap="round" fill="none"/><path d="M461 850h0m9-3h0m-3 15h0m0-6h0m-1 5h0m-3-1h0m0 1h0m-22 0h0m-1-2h0m-3 14h0m1-7h0m1 1h0m2 1h0m3 2h0m3-5h0m2 3h0m21 1h0m-13 7h0m-1 6h0m-5-2h0m-1-4h0m-2 1h0m-1 8h0m0-5h0m-12 0h0m-1 13h0m2 6h0m0-4h0m1-6h0m4 5h0m6-4h0m3 9h0m1-2h0m2-7h0m8 7h0m2 2h0m13 3h0m-7 0h0m-1-1h0m-1 3h0m0-4h0m0 2h0m-7 3h0m-1-2h0m0 2h0m0-1h0m-3-4h0m-1 11h0m-1-6h0m-3 0h0m-1 6h0m0-4h0m0 3h0m0-3h0m-1-2h0m0-1h0m0-1h0m-2-1h0m-1 3h0m-2-5h0m-4 5h0m-1-2h0m-3 0h0m-1 2h0m0-5h0m-3 4h0m0 2h0m-1-3h0m0-1h0m0 1h0m-1 11h0m1 3h0m1 2h0m1 2h0m0-1h0m3 1h0m1-2h0m0-7h0m2 5h0m3-2h0m1-2h0m3-1h0m7 1h0m4 6h0m0 0h0m0-5h0m1 3h0m1 0h0m1 1h0m14 1h0m0-3h0m2 4h0m1 0h0m0 1h0m1-1h0m0-5h0m5-2h0m-31 13h0m0 4h0m-2-5h0m-8 8h0m0-7h0m-3 9h0m-1-1h0m0 0h0m-2-1h0m-3-8h0m0 5h0m-1-4h0m-2 11h0m2 9h0m2 1h0m2-6h0m0 4h0m0-1h0m3-6h0m1 1h0m8-3h0m0 4h0m0-1h0m3 8h0m2-10h0m6 10h0m0 12h0m-1-9h0m-2 5h0m-1 2h0m0-8h0m-3 0h0m0 7h0m-1 0h0m-1 1h0m-7-2h0m0-1h0m0-6h0m-7 3h0m-3 3h0m0-3h0m-2 0h0m11 11h0m5 1h0m4 0h0m1-1h0m2 3h0m4 0h0m2 2h0m2-3h0" stroke="#A08ADE" stroke-width="3.8" stroke-linecap="round" fill="none"/><path d="M463 847h0m1 3h0m2-4h0m3 0h0m2 8h0m-1 4h0m-1-2h0m-2-4h0m-1 2h0m-2 3h0m-23 1h0m-6 14h0m2 1h0m1-2h0m1-6h0m2 7h0m2-5h0m6 0h0m0-2h0m14 4h0m0-4h0m1 3h0m1-2h0m1 4h0m0-1h0m0 6h0m4-6h0m1 0h0m0 2h0m-14 14h0m-8 1h0m-2-4h0m0 5h0m-2-9h0m-1 2h0m-1 1h0m-1 5h0m-2-9h0m-4 9h0m-4 10h0m1-3h0m1-2h0m5 3h0m1 0h0m3-2h0m3-1h0m0-3h0m2 6h0m1-3h0m0 3h0m1-5h0m0 10h0m1-1h0m2-8h0m2-2h0m2 6h0m1 4h0m4-3h0m7 4h0m7-3h0m12 6h0m-21 8h0m-8-7h0m0 1h0m-1 1h0m-1-1h0m0 4h0m-1-7h0m0 3h0m-2 6h0m-6-5h0m-2 5h0m-1-3h0m-5 3h0m0-7h0m-2 4h0m-1-4h0m-1-1h0m-1 5h0m0-5h0m-1 5h0m-3-2h0m-1-5h0m2 14h0m1 8h0m0-5h0m2 0h0m1-1h0m0-4h0m0 0h0m1 1h0m1 8h0m0-2h0m0-6h0m4 7h0m1-2h0m1 5h0m2-3h0m1-3h0m0-3h0m3 7h0m0-6h0m4 4h0m6-1h0m1-2h0m3-2h0m7-1h0m3 10h0m1-3h0m1-3h0m1 2h0m0-2h0m1 4h0m2-7h0m-26 14h0m-13 0h0m-1-3h0m-2-1h0m-1 8h0m0-1h0m-1 0h0m-5-6h0m-1 3h0m0-2h0m-1 5h0m1 12h0m0 1h0m1-5h0m7-1h0m1 4h0m3-1h0m1-2h0m4 7h0m1-3h0m1-4h0m3 0h0m9 11h0m-1 1h0m-5-2h0m-1 8h0m-1 0h0m-1 1h0m-3-10h0m0 2h0m-3 2h0m0-4h0m-1 3h0m-2 0h0m-3 3h0m-2 1h0m-7-1h0m12 8h0m2 1h0m4 3h0m7 0h0m0-3h0" stroke="#8B78D3" stroke-width="3.8" stroke-linecap="round" fill="none"/><path d="M461 850h0m2 0h0m1-5h0m2-1h0m2 3h0m2 3h0m0-5h0m1 10h0m0-2h0m-4 10h0m-1-6h0m-2 4h0m-2-9h0m0 10h0m-1-10h0m-17 11h0m-2-2h0m-3-1h0m-4 10h0m7-2h0m4-4h0m2 2h0m2 7h0m4-2h0m9-1h0m2-2h0m1-4h0m0 5h0m0-2h0m2 2h0m1-4h0m2 0h0m-8 14h0m-2 3h0m-4 4h0m-5-7h0m-6 6h0m-3-3h0m-2-4h0m0 4h0m-1-4h0m-8 5h0m-2 8h0m1 4h0m8-1h0m1 3h0m4-4h0m1 1h0m0-4h0m3 5h0m7 1h0m0-5h0m0-2h0m0 10h0m1-9h0m27 0h0m1 0h0m-15 12h0m0 7h0m-16-2h0m0 3h0m-2 0h0m0-8h0m-1-1h0m-1 0h0m-2 9h0m0-7h0m-1 3h0m0 2h0m0 0h0m-1 1h0m-1-1h0m-1-1h0m0-7h0m-3 8h0m0 2h0m-2-10h0m-1 7h0m-1 3h0m-1-7h0m-1-2h0m-2 5h0m-3 15h0m2-7h0m4 8h0m10-5h0m1 1h0m4-6h0m1 7h0m3 0h0m0 1h0m2-3h0m1 1h0m0-1h0m4-5h0m13 10h0m3-9h0m-22 17h0m-10 0h0m-2 5h0m-5-2h0m-4-1h0m-5-1h0m7 15h0m4-7h0m1 2h0m3-4h0m1 3h0m0-2h0m2 0h0m1 5h0m1 2h0m5-7h0m1-2h0m54 2h0m-49 10h0m-1 6h0m-1 2h0m-2-6h0m-1-1h0m-3 1h0m0 7h0m0-6h0m-6 0h0m-3-3h0m-1 3h0m-3 6h0m-4-1h0m-1-2h0m0 4h0m7 5h0m5-1h0m2 0h0m0 1h0m9 3h0m0-5h0m0 2h0m5-3h0" stroke="#7765C8" stroke-width="3.8" stroke-linecap="round" fill="none"/><path d="M461 851h0m2-1h0m4 1h0m0-1h0m1-1h0m0-1h0m1-1h0m2-1h0m-1 13h0m-2-6h0m-1 3h0m-2 4h0m0-6h0m-2 3h0m-1 0h0m-14 12h0m16-1h0m2-1h0m2 3h0m1-2h0m0 1h0m2-5h0m0 3h0m-9 12h0m0-1h0m-1 5h0m-3-5h0m-6 7h0m-1 1h0m-2-6h0m-4 4h0m-5-6h0m-1 1h0m-8 19h0m6-1h0m6-1h0m2-3h0m2-4h0m8 6h0m13 10h0m-14 1h0m-13-6h0m-7 8h0m-2-4h0m-1 17h0m17 1h0m8-4h0m0-4h0m2-1h0m17 3h0m-32 19h0m-5-6h0m-3 14h0m3-4h0m13-2h0m2 10h0m4-7h0m1 0h0m0 9h0m-11 3h0m12 14h0" stroke="#6253BD" stroke-width="3.8" stroke-linecap="round" fill="none"/><path d="M415.0 831.1V981.6H560.7" fill="none" stroke="#111" stroke-width="1.5"/><path d="M622 850h0m0 0h0m0 1h0m1-3h0m0 3h0m2-1h0m0-2h0m0-3h0m0 5h0m2-4h0m0 0h0m0 5h0m1-2h0m1 2h0m0 0h0m0-4h0m1 4h0m0-4h0m1 3h0m0-3h0m0 3h0m0-5h0m1 2h0m0-1h0m1 2h0m1 1h0m1-1h0m0 1h0m1 1h0m1 1h0m0-1h0m63 13h0m-1-1h0m-5-2h0m-1 0h0m-2 1h0m0 1h0m-1-7h0m0 7h0m0-5h0m0 6h0m0-6h0m-1 5h0m0-5h0m0-2h0m-1 4h0m0 0h0m-1-4h0m-1 8h0m0-6h0m0-2h0m0 6h0m-1 2h0m-1-5h0m0 3h0m-1 2h0m0-7h0m0 0h0m0 2h0m-2 0h0m0-1h0m0 3h0m-1-1h0m-1 4h0m0-5h0m-4 1h0m0 2h0m-1 1h0m0 0h0m-1-2h0m-1 1h0m-1 2h0m0 0h0m-31 0h0m0-1h0m0-7h0m-1 3h0m0-5h0m0 2h0m0 0h0m0-2h0m-1 10h0m0-7h0m-1-2h0m0 1h0m0 3h0m0-1h0m0 1h0m0 4h0m-1-3h0m0 1h0m0 3h0m-1-3h0m0 1h0m0-6h0m0 6h0m0-1h0m-1-8h0m0 8h0m0 1h0m0-1h0m-1-7h0m0 4h0m0 0h0m0-5h0m0 0h0m-1 2h0m0 1h0m0 0h0m0 5h0m0-7h0m-1 6h0m0 4h0m-1-7h0m-1 4h0m-1-8h0m0 9h0m0-2h0m0-3h0m0 7h0m-1-6h0m0-1h0m0-2h0m-2 0h0m0 6h0m-1-4h0m0 1h0m0-5h0m0 9h0m-1-9h0m0 10h0m-1-8h0m-21 5h0m9 8h0m0 6h0m10 1h0m3-10h0m1 4h0m0 1h0m1-3h0m1 0h0m0 2h0m1-1h0m0 3h0m0-2h0m0-1h0m0 8h0m2-6h0m0 1h0m1 0h0m1-1h0m1-3h0m0-2h0m0 2h0m0 4h0m1-3h0m0-2h0m1 3h0m0 3h0m0 0h0m0 1h0m1-3h0m0-2h0m0 4h0m0-1h0m1 0h0m2-6h0m1 1h0m23 8h0m1 2h0m2-4h0m1-1h0m0 1h0m0-2h0m1 2h0m0 2h0m1-6h0m1 0h0m1 7h0m0 1h0m1-9h0m0 4h0m0-5h0m0-1h0m0 11h0m0 0h0m0-8h0m1 4h0m1-4h0m0 0h0m1 6h0m1-1h0m0-5h0m1 8h0m0-6h0m1 6h0m0-11h0m0 3h0m0 0h0m0 1h0m0 2h0m1 2h0m0-7h0m0 3h0m0-2h0m0 1h0m2 5h0m0-5h0m1 5h0m1-1h0m0-1h0m0 1h0m0-7h0m1 8h0m1 0h0m0-1h0m0-4h0m0-1h0m0 3h0m1 4h0m0 2h0m0-6h0m0 0h0m1-2h0m1 8h0m0-5h0m1 3h0m0-5h0m0 7h0m1-11h0m0 0h0m0 0h0m0 5h0m0-5h0m1 11h0m0-8h0m1 0h0m0 2h0m1 4h0m0-9h0m1 11h0m0-11h0m0 1h0m1 6h0m0-1h0m0 1h0m0 1h0m0-4h0m1-4h0m0 3h0m0-2h0m1 8h0m0-9h0m1 11h0m0-8h0m0-1h0m0 7h0m0-3h0m1 1h0m0 2h0m0 0h0m0-6h0m1-2h0m1 4h0m0 3h0m0-4h0m1 5h0m0-2h0m0 4h0m0-4h0m1 0h0m1 3h0m5 11h0m-1-2h0m-1 1h0m0 0h0m0-4h0m0-1h0m-1 1h0m0 5h0m-1-6h0m0-2h0m0-1h0m0 3h0m0 6h0m0 2h0m0-3h0m-1-7h0m0 8h0m-1-8h0m0 2h0m0 2h0m0-1h0m-1 2h0m0 3h0m0-5h0m0-4h0m0 11h0m0-10h0m-1 0h0m0 10h0m-1-3h0m-1-8h0m0 0h0m-2 10h0m-1-9h0m0 9h0m0 0h0m-3-2h0m0-8h0m0 10h0m-2-10h0m0 10h0m-1-9h0m0 10h0m-2-11h0m0 9h0m-1-9h0m0 9h0m-2-2h0m0 3h0m0 1h0m-1-3h0m0 1h0m-2-4h0m-3 2h0m0-1h0m0 1h0m0 0h0m0 1h0m0-8h0m0 10h0m-1-3h0m-1-3h0m-1-2h0m-1 9h0m0-4h0m0 4h0m0-2h0m-3-7h0m0 6h0m0-3h0m0 3h0m0 0h0m-1-4h0m0 4h0m0 2h0m0-9h0m-1 2h0m-1 1h0m-1 1h0m0-5h0m0 5h0m0-5h0m-1 1h0m0 0h0m0 5h0m0 3h0m-1-7h0m0 2h0m-1 2h0m0-2h0m0 4h0m0 0h0m-1-4h0m0 4h0m0 1h0m-1-9h0m0 1h0m-1 4h0m0-4h0m-1 2h0m-1 5h0m-1 1h0m-1 1h0m-30-6h0m-4-2h0m-10 1h0m-1 1h0m-1-4h0m-15 5h0m1 14h0m12 4h0m7-7h0m1 5h0m0-8h0m1 9h0m22 0h0m15-6h0m1-1h0m9-2h0m0-1h0m12 0h0m3 2h0m3-1h0m0 3h0m0 3h0m1-4h0m0 1h0m1-2h0m0 6h0m0-4h0m1-1h0m0 1h0m1 2h0m0-2h0m1-1h0m2 5h0m2-6h0m0 1h0m0 2h0m0-1h0m1 4h0m0 0h0m1-2h0m0-2h0m0 2h0m0 2h0m0-7h0m1 10h0m0-10h0m1 2h0m0 6h0m0-1h0m1-2h0m0 3h0m2-1h0m1-6h0m0 0h0m0-2h0m0 1h0m0 4h0m0 1h0m0 3h0m1-2h0m0-4h0m0 3h0m0 4h0m1-8h0m2 6h0m1-8h0m0 7h0m0 1h0m1-5h0m0 0h0m0 0h0m0-2h0m1 3h0m0-3h0m1 2h0m0 1h0m2 10h0m-1 1h0m-1 0h0m-1-1h0m0 0h0m-1-2h0m-3 5h0m0-4h0m-1-1h0m0 0h0m-51 9h0m-1-4h0m0-5h0m0 9h0m-13-4h0m-10 4h0m-10-9h0m-6 7h0m-3-4h0m-1 1h0m-1 5h0m0-2h0m-6-6h0m-1 0h0m-3 4h0m-1-3h0m-3 19h0m6-9h0m2 7h0m6-2h0m2-5h0m5 1h0m5 1h0m6 0h0m12 6h0m0 2h0m2-2h0m0-3h0m3-3h0m-26 10h0m-2 2h0m-8 4h0m-1-5h0m-1 2h0m0 5h0m0 1h0m-3-5h0m-1 5h0m-5-1h0m-2-5h0m-2 13h0m12 7h0m1-6h0m2 4h0m0-6h0m3 2h0m1-5h0m2 0h0m5 1h0m1 5h0m0 3h0m2 5h0m-1 0h0m-4 5h0m-2 2h0m-5-9h0m-2 1h0m-1 2h0m-8 1h0m-2 2h0m12 6h0m3 4h0m1 2h0m7-3h0m1-2h0m5-1h0" stroke="#D3D3D3" stroke-width="3.8" stroke-linecap="round" fill="none"/><path d="M691 861h0m-56 1h0m-10 10h0m60-6h0m18 14h0m-10 6h0m-6-2h0m-71-8h0m-23 20h0m1 2h0m11-10h0m1 6h0m2 1h0m2-3h0m6 5h0m0-5h0m1 1h0m68-5h0m22 2h0m-77 12h0m-1 0h0m-17 17h0m3-1h0m21-2h0m-38 16h0m-5 3h0m-2 9h0m10-5h0m3 3h0m14 12h0m-4 3h0m-14 0h0" stroke="#C7B5EA" stroke-width="3.8" stroke-linecap="round" fill="none"/><path d="M686 856h0m-54 6h0m-2-2h0m-22 3h0m-6 5h0m3 5h0m2 1h0m20-5h0m53-3h0m10 18h0m-12 1h0m-55-6h0m-11 7h0m-2-1h0m0-7h0m-18 19h0m2-4h0m1 0h0m2 0h0m0-4h0m5 10h0m4-8h0m2 0h0m2 0h0m1 8h0m11 0h0m18-5h0m-4 7h0m-12 1h0m-5-2h0m-7 5h0m-1-4h0m-3 1h0m-1 3h0m-2 4h0m-4 1h0m-4 1h0m0-6h0m-1-2h0m-3 1h0m-1 17h0m1-4h0m1 3h0m3-8h0m3 2h0m6 8h0m2-5h0m10 0h0m1 3h0m3-8h0m54 9h0m-68 4h0m-1 3h0m-9-2h0m-1 5h0m-5 1h0m-1 13h0m4-7h0m0 8h0m0-4h0m5 3h0m2-4h0m19 7h0m-4 2h0m0 5h0m-5-6h0m-1 4h0m-6-1h0m-1-2h0m-8 6h0m0-6h0m0 1h0m-1 3h0m-3-3h0m-1-2h0m15 11h0m3 5h0m1-3h0m8 3h0m1-1h0m4-4h0" stroke="#BAA7E6" stroke-width="3.8" stroke-linecap="round" fill="none"/><path d="M597 873h0m1-1h0m2 0h0m5-2h0m3-5h0m73 20h0m-63 1h0m-5-1h0m-3-1h0m-9-6h0m-5 3h0m0 1h0m0 2h0m-5 7h0m1 3h0m2 1h0m4 1h0m7 3h0m3-2h0m1-2h0m5-4h0m2-2h0m12 18h0m-1-6h0m-4 0h0m-3 3h0m0 0h0m-7 5h0m-1-3h0m-3 3h0m-1 1h0m-1 0h0m-1 0h0m-5 0h0m-6-3h0m-2-3h0m-1-1h0m1 17h0m0 0h0m4-4h0m3 2h0m2 4h0m1-7h0m1-1h0m0-2h0m5 11h0m2-4h0m5 1h0m7-7h0m11 9h0m3-6h0m0 4h0m1 0h0m4-5h0m-30 14h0m-1-5h0m-2 1h0m-5 7h0m-4-7h0m0 10h0m-1-6h0m-2 4h0m-5-8h0m3 20h0m4-7h0m1 0h0m3 4h0m3 4h0m1 0h0m2-6h0m1-1h0m3 8h0m3-7h0m1 1h0m2-1h0m1 7h0m0 5h0m-8 4h0m-4-1h0m-4-3h0m0 3h0m-3 2h0m-5 2h0m-2-5h0m8 9h0m7 0h0m7-1h0" stroke="#AD98E2" stroke-width="3.8" stroke-linecap="round" fill="none"/><path d="M604 860h0m-3 3h0m-2 12h0m2-2h0m2-6h0m6-1h0m14 3h0m-19 9h0m-2 0h0m-1 1h0m0-1h0m-2 5h0m-7 9h0m3 3h0m1 1h0m2 1h0m8 2h0m1-3h0m3 2h0m0 1h0m3-9h0m1 0h0m2 1h0m0-2h0m0 1h0m0 1h0m8 8h0m1-4h0m25 3h0m-26 5h0m-6 1h0m-3 2h0m-2-5h0m-5 2h0m-1 5h0m-10-6h0m-6 15h0m0-3h0m2 5h0m4-7h0m2 6h0m5 2h0m4-6h0m3 7h0m0-7h0m1 8h0m0 1h0m1-7h0m3-2h0m4 8h0m3-4h0m12 4h0m0-6h0m0 1h0m1 3h0m3-8h0m0 3h0m53 16h0m-76-1h0m-2-2h0m-2-2h0m-5 1h0m-1 5h0m-7 1h0m-7-5h0m0 9h0m1 4h0m3 6h0m9-11h0m0 0h0m5 7h0m6 12h0m-1-6h0m-5 10h0m-3-9h0m-3 3h0m0 1h0m-5-6h0m-4 3h0m-2 1h0m11 8h0m6 6h0m3 1h0m1-1h0m3-6h0m0 4h0" stroke="#A08ADE" stroke-width="3.8" stroke-linecap="round" fill="none"/><path d="M607 861h0m-1 0h0m-4 0h0m-2-1h0m-3 15h0m2-5h0m3 2h0m7-3h0m3 0h0m-1 11h0m-2 7h0m-1-10h0m-2 10h0m-2-3h0m-2-6h0m-1-1h0m-2 4h0m0-5h0m-1 0h0m-2 4h0m-6 19h0m3-8h0m5-1h0m5-2h0m0 11h0m4-10h0m1 3h0m0-3h0m0 10h0m1-8h0m1-2h0m2 8h0m4-6h0m35 15h0m-22 2h0m-5-4h0m-4 5h0m-5-6h0m-2 7h0m-1 0h0m-2-7h0m-1 8h0m-1-5h0m-1-3h0m-2-3h0m-4 8h0m0-5h0m-2-3h0m-1 8h0m-2-8h0m0 6h0m-1-1h0m0-4h0m-2 2h0m-1 5h0m-1-8h0m0 22h0m3 0h0m4-2h0m1-1h0m1-5h0m3 9h0m1-1h0m3-2h0m0 1h0m1-3h0m4 0h0m0 1h0m6-2h0m3 6h0m10-10h0m3 9h0m1-3h0m2-2h0m0 1h0m1 1h0m-22 8h0m-3 3h0m-3 1h0m-1 1h0m-2-8h0m-1 5h0m-4 6h0m-1-5h0m-2 2h0m-2-8h0m-2 2h0m0 6h0m0 0h0m0 0h0m-3-3h0m-2 2h0m3 8h0m2 8h0m2-1h0m0-6h0m1 6h0m9-7h0m2 4h0m0-4h0m3 7h0m8 6h0m-4 1h0m-2 4h0m-1 0h0m0-6h0m-2 6h0m-4 0h0m0 1h0m-8 1h0m0-7h0m-2 0h0m-2 6h0m-1-5h0m7 10h0m2-1h0m6 2h0m0 1h0" stroke="#8B78D3" stroke-width="3.8" stroke-linecap="round" fill="none"/><path d="M603 861h0m0-2h0m-1 1h0m-3 11h0m2 1h0m4 0h0m0-7h0m5 9h0m1 1h0m1-3h0m3-5h0m5 10h0m-1 1h0m-7 7h0m-4 0h0m0-5h0m-1 5h0m-1-1h0m-14 14h0m3-1h0m12-6h0m0-3h0m0 2h0m9 1h0m3-1h0m3 5h0m3-1h0m20-4h0m-9 14h0m-14 2h0m-1-1h0m-9-1h0m-1 7h0m-1-10h0m-6-1h0m-1 0h0m-2 6h0m-4-3h0m0 7h0m-1-1h0m0-4h0m-2 5h0m0 7h0m2 5h0m0-6h0m2-3h0m2 1h0m5 4h0m1 2h0m0-8h0m1 9h0m1-5h0m1 6h0m2-10h0m1 8h0m1 0h0m5-2h0m4 2h0m10-7h0m-19 12h0m-7 4h0m-3 5h0m-1-4h0m-5 1h0m-7-7h0m6 22h0m1-7h0m3 5h0m3-6h0m1 0h0m2 2h0m6-1h0m3 7h0m-4 12h0m-5-7h0m-2-3h0m-1 5h0m-7-2h0m-1 3h0m0-6h0m-2 3h0m-1 1h0m14 11h0m1-1h0m5-2h0m1 2h0m1 4h0m3-3h0m3 2h0m0 1h0m2-6h0" stroke="#7765C8" stroke-width="3.8" stroke-linecap="round" fill="none"/><path d="M623 847h0m0 3h0m1 0h0m0 0h0m0-3h0m0 3h0m0-2h0m1 0h0m0 2h0m0-3h0m2 2h0m0 2h0m0-7h0m0 6h0m1 1h0m0-1h0m0-1h0m1 0h0m0-1h0m1 1h0m0-3h0m0 0h0m1 3h0m0 2h0m0-3h0m0-1h0m2 3h0m0 1h0m1-3h0m0-1h0m0 1h0m0 0h0m1 1h0m0-2h0m0 4h0m0-4h0m0 2h0m0 1h0m0-2h0m1 2h0m0-1h0m0 1h0m3 1h0m60 12h0m0-1h0m-5-2h0m0 1h0m0 2h0m0-4h0m-1 0h0m0 1h0m0 2h0m0-6h0m-1 6h0m-1-1h0m0-2h0m0 4h0m0-5h0m-1-2h0m-1 3h0m-1-4h0m0 7h0m0-7h0m0 3h0m-1 0h0m-1 2h0m0-4h0m0 5h0m-1-2h0m0-1h0m0-2h0m-1 6h0m0-2h0m0-4h0m-1-1h0m-1 7h0m-2 1h0m-2-4h0m0 2h0m0-2h0m0 1h0m0 0h0m-1 1h0m0 0h0m0 1h0m-1 0h0m0-1h0m0-2h0m-2 4h0m0 0h0m0 0h0m0-3h0m-1 1h0m-32-5h0m0 1h0m0 5h0m-1-1h0m-1-6h0m0-1h0m-1 1h0m0 8h0m0-10h0m0 3h0m0 0h0m-1 7h0m0-1h0m0-9h0m-1 10h0m0 0h0m0-3h0m0-4h0m-1 6h0m0 1h0m-1-10h0m0 6h0m0-7h0m-1 7h0m-1-4h0m-1 1h0m0 2h0m-1-1h0m-2-5h0m0 4h0m-1 1h0m0 4h0m0-7h0m0 1h0m-3 5h0m0 0h0m0-2h0m0-1h0m0 5h0m-1 1h0m-23 8h0m3-3h0m0-3h0m7 9h0m1-1h0m13-4h0m0-4h0m1 4h0m0-1h0m0 1h0m0-5h0m1 2h0m0-2h0m0 6h0m0 0h0m1-4h0m0 3h0m0 1h0m1-1h0m0-2h0m1-1h0m0-1h0m0 5h0m1-2h0m0 1h0m0 0h0m1-2h0m0 2h0m0 0h0m1-2h0m1 0h0m5-3h0m1 0h0m24 8h0m0 0h0m2-1h0m0 3h0m0-3h0m1 2h0m3-5h0m1 1h0m0-4h0m1 7h0m0-6h0m0 5h0m0 0h0m1 0h0m1 0h0m0-3h0m0 0h0m1-3h0m1 7h0m0 1h0m1-1h0m0-2h0m0-3h0m0-1h0m1 0h0m0-2h0m0 6h0m1-4h0m0 5h0m1-3h0m0-2h0m0-1h0m1 6h0m0 0h0m2 0h0m0 0h0m0-2h0m0-2h0m1 7h0m0-3h0m0 4h0m0 0h0m0-11h0m1 7h0m0-4h0m1-1h0m0 4h0m1-5h0m0 3h0m1 1h0m1 4h0m0-9h0m0 2h0m1 8h0m0-10h0m0 4h0m1 6h0m0 0h0m0-7h0m1 7h0m0-2h0m1-2h0m1 0h0m0-1h0m1 6h0m0-10h0m0 2h0m0 2h0m1 6h0m0-9h0m0-2h0m1 11h0m0-10h0m0-1h0m0 2h0m0-1h0m0-1h0m1 0h0m0 9h0m0 0h0m0 0h0m1 2h0m0-8h0m1-3h0m1 4h0m0-3h0m1 7h0m0 3h0m1-2h0m1 2h0m3 10h0m0-6h0m0 2h0m-1-2h0m0 5h0m0-1h0m-1-5h0m0-1h0m-1 0h0m-2 5h0m0 0h0m-1 2h0m0-4h0m0-1h0m0-3h0m-1 2h0m0 3h0m0 1h0m0 1h0m0-2h0m0 3h0m-1-6h0m-1 0h0m0 0h0m0 2h0m-1 5h0m0-1h0m-1-1h0m-1 1h0m0-7h0m-1 3h0m-1-4h0m-1 9h0m0-9h0m-5 8h0m-1-8h0m0 11h0m-1-2h0m-4-7h0m-1 2h0m0 7h0m0-7h0m0 0h0m-1 6h0m-1-6h0m0 2h0m0-2h0m-1 0h0m0 7h0m-1-10h0m0 3h0m0 4h0m0-4h0m-1-2h0m-1 6h0m-1 1h0m0-5h0m0 3h0m0-4h0m-1 2h0m0-1h0m-1 0h0m0 4h0m0-5h0m-1 6h0m-1-2h0m-1-6h0m0 5h0m0 2h0m0 0h0m-1 3h0m0-6h0m0 6h0m-1-11h0m0 5h0m0 0h0m-1 0h0m0 3h0m-1-4h0m0 6h0m-1-6h0m-1 0h0m-1 0h0m-10 7h0m-40-1h0m-1 0h0m-15 10h0m3-5h0m12 6h0m1-3h0m6 1h0m2 3h0m4 0h0m20-6h0m22-3h0m2-1h0m14 0h0m1 4h0m0-1h0m1-2h0m0 1h0m1-2h0m1 4h0m1 4h0m0-5h0m1 6h0m1-5h0m0-3h0m1 5h0m0 2h0m1-1h0m4-4h0m0-1h0m0 1h0m0 4h0m1-3h0m0 0h0m1 1h0m1-4h0m0 3h0m1 4h0m0-6h0m0 1h0m0 0h0m1-2h0m0 8h0m0-2h0m1-6h0m0 1h0m0 0h0m1 1h0m0 2h0m0 2h0m0-7h0m1 9h0m1-7h0m0 4h0m0 0h0m0-4h0m0-1h0m3 0h0m0 8h0m0 0h0m2-5h0m1-1h0m0 0h0m1 5h0m-2 4h0m-1 6h0m-1-1h0m-1 0h0m0 0h0m-2-2h0m-4-3h0m-2 2h0m-45-1h0m-21 8h0m-11-3h0m-5 4h0m-1 0h0m-3-5h0m-16 12h0m1 6h0m5-5h0m1 0h0m6 0h0m3 2h0m4-8h0m1 7h0m6-2h0m0 2h0m18 2h0m1-8h0m-24 16h0m-4-4h0m-7 6h0m-6 1h0m-1-2h0m-1 0h0m-2 5h0m0-1h0m-5-2h0m5 12h0m5-2h0m5 3h0m3 0h0m6-9h0m0 1h0m56 1h0m-49 21h0m0-8h0m-5 6h0m-2 0h0m-1-1h0m-4-5h0m-1 3h0m-9-3h0m-1 2h0m-2-1h0m10 9h0m1 1h0m8 3h0m1-1h0m2 2h0" stroke="#D3D3D3" stroke-width="3.8" stroke-linecap="round" fill="none"/><path d="M633 863h0m-8-6h0m-21 8h0m10 6h0m18-6h0m42 9h0m3-6h0m17 2h0m-32 14h0m-48-2h0m-13-1h0m3 15h0m7-3h0m13-4h0m63 7h0m15 2h0m-74 2h0m-2 10h0m-19-1h0m-7 9h0m4-1h0m0 4h0m7-3h0m-9 10h0m-4 3h0m-1 3h0m-5-3h0m-1 0h0m8 10h0m5 0h0m0-3h0m2 0h0m1 8h0m6 0h0m4-3h0m-4 14h0m-7-6h0m0 6h0m-1-9h0" stroke="#C7B5EA" stroke-width="3.8" stroke-linecap="round" fill="none"/><path d="M672 862h0m-34-6h0m-4 3h0m-32 2h0m0-3h0m-3 8h0m1 2h0m5 1h0m18 0h0m2-5h0m7 1h0m0 6h0m1-2h0m48-3h0m3 4h0m16 13h0m-28-1h0m-48 0h0m0-5h0m-2 6h0m-5 3h0m-9-1h0m-2-6h0m-14 16h0m4 2h0m2-4h0m1 3h0m9-6h0m9 1h0m1 3h0m4 5h0m81 6h0m-54-3h0m-20 3h0m-15 2h0m-2-5h0m0 8h0m-1-3h0m0 1h0m0-8h0m-1 4h0m0 3h0m-2-6h0m-4 8h0m-4-4h0m-2 6h0m-1 0h0m-4-5h0m-1-3h0m0 14h0m1 2h0m1-1h0m3-2h0m0-4h0m2 10h0m0-3h0m0-7h0m15 1h0m23 4h0m-22 12h0m-2-5h0m-5 11h0m-11-9h0m-2 3h0m-3 5h0m-2-3h0m1 7h0m2 3h0m1 1h0m2 1h0m5-4h0m5 4h0m2 3h0m1-5h0m4 3h0m3-8h0m1 10h0m3 7h0m-4 4h0m-1 0h0m-2-7h0m-1 7h0m-10-3h0m-2-2h0m8 8h0m5 6h0m3-1h0m3-1h0" stroke="#BAA7E6" stroke-width="3.8" stroke-linecap="round" fill="none"/><path d="M606 863h0m-9 11h0m7-6h0m2-3h0m4 8h0m5-2h0m3 5h0m-5 10h0m-1-1h0m-2-6h0m-6 3h0m0-5h0m-1 10h0m-4-8h0m-4 6h0m3 4h0m1 3h0m2 5h0m3-5h0m1 2h0m11-6h0m3 3h0m3 7h0m9-5h0m8 5h0m1-3h0m5-4h0m-16 9h0m-1 1h0m0-1h0m-11 4h0m-2-1h0m0 1h0m-2-1h0m-2 6h0m-1-3h0m-3 2h0m0 1h0m-5-9h0m-3 0h0m-2 5h0m-2-4h0m-1 16h0m1 6h0m1 0h0m0-9h0m4 4h0m2-2h0m0 3h0m2-1h0m7-2h0m2-3h0m1-1h0m2 0h0m1 5h0m2 3h0m15 1h0m1-5h0m2-1h0m4-1h0m-23 13h0m-6 2h0m-1-5h0m-1 2h0m-1 4h0m-6-4h0m0-1h0m-1 9h0m-1-2h0m0-2h0m0 3h0m-1-6h0m-1 7h0m0 0h0m-1-4h0m-2 3h0m5 3h0m3 2h0m5 5h0m0-3h0m0 0h0m0 3h0m1 2h0m1 1h0m1 1h0m6-9h0m1 13h0m0 5h0m-11-4h0m0 1h0m-2-1h0m0 0h0m-1 0h0m-1 6h0m-1-7h0m-7 0h0m-4-3h0m17 17h0m1-1h0m5 0h0m8 0h0" stroke="#AD98E2" stroke-width="3.8" stroke-linecap="round" fill="none"/><path d="M607 862h0m-1 0h0m-4-1h0m2 10h0m0-4h0m3 8h0m0-10h0m17 21h0m-6-1h0m-9-1h0m0 2h0m-4-6h0m-3 6h0m-7 11h0m1-2h0m6-1h0m2-2h0m4 7h0m2-10h0m6 6h0m0-5h0m2 5h0m4 2h0m4-4h0m27 5h0m-25 12h0m-8-7h0m0 0h0m-10 0h0m-3 5h0m-2 0h0m-1-1h0m-4-4h0m-2 0h0m-3 1h0m-2-1h0m0 2h0m3 17h0m4-1h0m7-3h0m5 0h0m2-5h0m3 5h0m5-6h0m2 3h0m1-1h0m10 9h0m1-2h0m1-6h0m0-1h0m-23 13h0m-3 1h0m0-4h0m-9 7h0m-1-3h0m-2 5h0m0-9h0m-1 7h0m-4-6h0m-1 1h0m3 21h0m7-4h0m1-4h0m1 3h0m5 2h0m0 1h0m1 2h0m7-3h0m1 3h0m3 3h0m-3-1h0m0 9h0m-2-10h0m-4 1h0m-4 7h0m0 0h0m-2 0h0m-6-2h0m-4-3h0m-1 2h0m0-2h0m-2 0h0m13 10h0m5 6h0m9 0h0m2-2h0" stroke="#A08ADE" stroke-width="3.8" stroke-linecap="round" fill="none"/><path d="M606 862h0m-3-1h0m-3 12h0m0-8h0m5-1h0m1 2h0m4 3h0m8 17h0m-7-3h0m-1 3h0m0-6h0m-1 7h0m0-10h0m-1 5h0m0-6h0m-2 11h0m-1-8h0m-2 7h0m-5 10h0m3-2h0m6-2h0m2 2h0m1 0h0m1 0h0m1-3h0m0 6h0m4 2h0m1-9h0m4 5h0m18-1h0m10 10h0m-5 7h0m-26-3h0m-1 2h0m-1 1h0m0-7h0m-4-2h0m-1 8h0m-10-1h0m0-8h0m-2 2h0m-3-1h0m-6 20h0m0 1h0m1-3h0m2 1h0m1 0h0m2-1h0m3-7h0m1 0h0m3 7h0m5-6h0m4 7h0m4-2h0m0-3h0m4 3h0m2 0h0m10-5h0m2 9h0m0-9h0m1 6h0m1-4h0m0 5h0m5-8h0m-26 16h0m-2 1h0m-5-1h0m-4 3h0m-1 1h0m0-7h0m-1 7h0m-5-4h0m-7-1h0m19 8h0m2 8h0m7-4h0m4 12h0m-3 6h0m-8 0h0m-6-9h0m-1-1h0m0 3h0m-1-3h0m-1 1h0m-6 6h0m8 7h0m2 0h0m3 2h0m4-2h0m2 1h0m1 0h0" stroke="#8B78D3" stroke-width="3.8" stroke-linecap="round" fill="none"/><path d="M602 861h0m-3 6h0m9-2h0m6 12h0m-1 9h0m-1-7h0m-1 7h0m-1 0h0m-3-8h0m-10-2h0m-4 13h0m4 3h0m5 3h0m0 2h0m2 0h0m3-4h0m1-2h0m0-2h0m6 1h0m2 2h0m0-4h0m3 10h0m4-1h0m1-8h0m18 5h0m3-4h0m-25 15h0m-1 0h0m0 3h0m-3 3h0m-7-11h0m-2 4h0m-6 5h0m-4-9h0m0 11h0m-4-5h0m-2 4h0m2 8h0m2-5h0m2 7h0m0-7h0m13 10h0m0-2h0m2-9h0m0 3h0m2-2h0m1 8h0m0-3h0m-2 9h0m-1 3h0m-3-5h0m-2 8h0m-2-3h0m-13-6h0m-1 15h0m0 1h0m2 6h0m4 0h0m2-7h0m0-2h0m7 4h0m2-3h0m1 2h0m4-1h0m1-2h0m4 6h0m5 14h0m-2-7h0m-8 1h0m0 5h0m-3-8h0m-3 7h0m-5-7h0m-5 7h0m-1-6h0m0 5h0m0-1h0m-1 1h0m0-3h0m15 10h0m10 3h0" stroke="#7765C8" stroke-width="3.8" stroke-linecap="round" fill="none"/><path d="M622 851h0m1-1h0m0 1h0m1-1h0m1 0h0m0-3h0m1 1h0m2 2h0m1-1h0m0 0h0m0-3h0m0 2h0m1 2h0m1 1h0m1-5h0m0-1h0m1 5h0m1-3h0m0 0h0m0 0h0m0 1h0m0 3h0m3-3h0m1 0h0m59 11h0m-1 1h0m-1-4h0m-2 1h0m0-2h0m-1 7h0m0 0h0m-1-6h0m0 0h0m0 6h0m0-3h0m-1 3h0m0-6h0m0 7h0m-1 0h0m0-7h0m0 0h0m-1-1h0m0 1h0m0 6h0m0-5h0m0 0h0m0 0h0m-1 2h0m-1-2h0m-1 6h0m0 0h0m0-7h0m0 6h0m0-6h0m-2 3h0m0-2h0m0 6h0m-1-7h0m0 2h0m-1 3h0m-1 1h0m0 0h0m0 0h0m-1-5h0m-1 1h0m0 5h0m0-3h0m-2-1h0m-1 2h0m-1 0h0m-1 0h0m-27 2h0m-5-4h0m0 4h0m-1-2h0m-1-7h0m0 9h0m0-4h0m-1-4h0m0-3h0m0 10h0m0-7h0m0 8h0m-1-9h0m0 7h0m0-4h0m-1 2h0m0-7h0m0 10h0m0-6h0m-1-3h0m0 2h0m-1 6h0m0-7h0m0 5h0m0 2h0m0-5h0m-1 3h0m-1-6h0m-2 3h0m-1 5h0m0-9h0m0 1h0m0 3h0m-1-2h0m0 8h0m0-3h0m-1 4h0m0-7h0m-1-4h0m0 0h0m0 8h0m0-6h0m-1 1h0m0 6h0m0-8h0m-1 8h0m-1-4h0m-1-5h0m-16 8h0m17 4h0m1 6h0m0-1h0m0 2h0m1-3h0m0 0h0m1-1h0m0 2h0m1-5h0m0 2h0m0 1h0m2 1h0m1-3h0m1-1h0m0 0h0m0 6h0m1-6h0m0 5h0m0-1h0m1-4h0m0 7h0m1-3h0m1 1h0m1 1h0m3-6h0m1 0h0m21 11h0m2 0h0m1-2h0m2 1h0m1 1h0m0-2h0m1-4h0m1-4h0m1 9h0m1-9h0m1 8h0m0-4h0m1 5h0m0-6h0m1 2h0m0-3h0m0-2h0m0 1h0m1 1h0m1 8h0m0-4h0m1-1h0m0-4h0m1 3h0m0 0h0m0 0h0m1 4h0m0-5h0m1 7h0m0-6h0m1 4h0m0-2h0m0-7h0m1 10h0m0-9h0m0 5h0m2 1h0m0 2h0m0-7h0m1 8h0m0-4h0m0-5h0m1 6h0m0-5h0m1 3h0m0-2h0m3-2h0m3 1h0m0 2h0m1-2h0m1 7h0m0-6h0m0-2h0m1 9h0m1 0h0m1-1h0m0-5h0m1 1h0m0 6h0m0-6h0m0 5h0m0-6h0m0 5h0m0-2h0m0 3h0m1 1h0m0-1h0m1-2h0m0 3h0m1-1h0m0-1h0m1 0h0m0-2h0m4 9h0m0 7h0m-1-5h0m0 3h0m-1-2h0m0 3h0m0 1h0m0-3h0m0-3h0m-1-3h0m-1 9h0m0-11h0m0 10h0m0-8h0m0 2h0m-1-1h0m0 1h0m0 2h0m0 1h0m-1-7h0m0 7h0m-1 1h0m0-3h0m0 3h0m0-1h0m0-3h0m-1-3h0m-1 6h0m-1-7h0m-1 0h0m0 8h0m0 2h0m-1-2h0m0-7h0m0 8h0m0 0h0m-2-4h0m-1 5h0m-1 0h0m-1-9h0m-1 7h0m0 2h0m-2 0h0m0 0h0m-1-3h0m0 0h0m0 3h0m0-1h0m0 0h0m-1 1h0m0-1h0m-1 0h0m0 2h0m-1-11h0m-2 5h0m-1 0h0m0 6h0m-1-6h0m0 1h0m0 3h0m0-4h0m-1-4h0m0 5h0m0 1h0m-1-1h0m0-5h0m0 7h0m0-2h0m-1-6h0m0 4h0m0-1h0m0 5h0m-1-2h0m0 1h0m-1-3h0m0 5h0m-1 1h0m-1 0h0m0 1h0m-1-8h0m0 5h0m0 2h0m-1-9h0m-1 2h0m-1 3h0m-1-5h0m0 3h0m0 2h0m0 1h0m-1-5h0m0 5h0m-1 4h0m0-11h0m0 2h0m0-2h0m-2 4h0m0-4h0m0 10h0m-1-2h0m0-5h0m-41 4h0m-4-5h0m-1 8h0m-3-7h0m-3 7h0m-3-8h0m-15 17h0m1 1h0m1-5h0m1 3h0m2 3h0m0-4h0m4 1h0m13-3h0m3-1h0m1 0h0m19 6h0m16 0h0m3-7h0m20 0h0m2 0h0m0 0h0m0 0h0m2 1h0m0-1h0m4 2h0m0-3h0m3 2h0m0 4h0m0 1h0m0-4h0m1 6h0m1-3h0m4-1h0m1-3h0m0 2h0m2-1h0m0-1h0m0 2h0m1-2h0m0 7h0m0 0h0m1-7h0m0 5h0m0 1h0m1-4h0m1-1h0m0 1h0m1-2h0m0 4h0m1 1h0m1-7h0m0 10h0m1-9h0m0-1h0m1 2h0m0 2h0m0 2h0m0 0h0m0 1h0m1-3h0m0 1h0m1-4h0m1 4h0m2 10h0m0 0h0m-2 0h0m-1-1h0m-1 2h0m-1 1h0m-1-4h0m0 3h0m-1-4h0m-2 2h0m-5-2h0m0 0h0m-19 11h0m-49-9h0m-5 8h0m-1-3h0m-7-2h0m-6-2h0m-10-2h0m-3 2h0m0 8h0m-5 10h0m3-1h0m9 1h0m4 0h0m0-9h0m8 7h0m0-3h0m1 5h0m2-2h0m5-1h0m10-4h0m2 8h0m-15 6h0m-11-3h0m-2 7h0m-5-8h0m-2 2h0m-2 4h0m-2-6h0m1 17h0m0 4h0m3-9h0m3 2h0m2-1h0m2 10h0m10-11h0m1 9h0m1-7h0m-2 14h0m-1-3h0m-3 9h0m0-6h0m-2 4h0m-3 3h0m0 0h0m-1-1h0m-1-7h0m-3 2h0m-5 8h0m7 3h0m3-1h0m8 0h0m3-1h0" stroke="#D3D3D3" stroke-width="3.8" stroke-linecap="round" fill="none"/><path d="M694 857h0m-57-1h0m-2-3h0m-13-1h0m-15 12h0m22 5h0m61 4h0m5-8h0m-76 16h0m-25 14h0m3 4h0m0-4h0m1-3h0m8 7h0m0-11h0m3 1h0m84 2h0m-78 15h0m-10 5h0m6 10h0m4-1h0m-8 13h0m-3 2h0m-5-11h0m2 15h0m10 16h0m-2 0h0m-2-4h0m-9 7h0m-1 0h0" stroke="#C7B5EA" stroke-width="3.8" stroke-linecap="round" fill="none"/><path d="M635 847h0m2 9h0m-2-2h0m-30 9h0m-1-4h0m-2 1h0m-1 10h0m1 1h0m2-6h0m1 1h0m9 0h0m1 5h0m12-7h0m48 16h0m-4-4h0m-2 8h0m-52-2h0m-1 3h0m-7 0h0m-1 0h0m0-8h0m-2 1h0m-2 8h0m-4-2h0m-1-4h0m-5 12h0m1 0h0m0 7h0m1-8h0m1-1h0m3 7h0m5 2h0m0-3h0m0 0h0m4-7h0m4 1h0m0 2h0m1 2h0m1-3h0m2 1h0m0 5h0m6 2h0m7 0h0m1-3h0m10-2h0m50-1h0m-61 8h0m-1 0h0m-1 3h0m-13 6h0m-1-1h0m0 0h0m-2-4h0m-1 1h0m0-5h0m-2 4h0m-3 2h0m0 2h0m-6 0h0m-3-7h0m-1 5h0m-6 14h0m2-7h0m7 7h0m6-5h0m1-4h0m3 10h0m4-4h0m1-5h0m3 1h0m4 4h0m0 3h0m1-5h0m0-3h0m-6 21h0m-2-6h0m-1 2h0m-2-6h0m-6 5h0m-1 6h0m-3-10h0m-7 5h0m-1 1h0m-2-3h0m0 15h0m1-4h0m8 6h0m8-8h0m4 10h0m0-8h0m2 8h0m3-9h0m-1 18h0m-1 3h0m-13-7h0m-3 3h0m-5-7h0m15 16h0m9-1h0m1-2h0m3 4h0" stroke="#BAA7E6" stroke-width="3.8" stroke-linecap="round" fill="none"/><path d="M606 863h0m0 0h0m-3-2h0m-7 12h0m2 0h0m2-5h0m1 0h0m4-3h0m0-1h0m5 3h0m0 1h0m2 15h0m-1-4h0m-2-3h0m-2 1h0m-5 5h0m-9 16h0m0-1h0m2-7h0m5 4h0m0 3h0m7-5h0m7 3h0m3-6h0m6 6h0m9 12h0m-10-6h0m-8 7h0m-12-7h0m-1 10h0m-2-11h0m-2 1h0m-1-1h0m-1 8h0m-2 11h0m4 2h0m0-9h0m3 9h0m0-1h0m9 0h0m4-7h0m2-1h0m1 11h0m3-6h0m2 1h0m2-1h0m10 6h0m2 0h0m-20 5h0m-1 1h0m-1-1h0m-2-3h0m-1 6h0m-1 1h0m-1-7h0m0 0h0m0 3h0m-13 4h0m0 3h0m0-7h0m-4 9h0m1 5h0m2-2h0m17-4h0m5 3h0m1 3h0m0-6h0m2 3h0m3 19h0m-1-6h0m-9 5h0m0-1h0m-5-4h0m8 14h0m1-3h0m3 2h0m0 1h0" stroke="#AD98E2" stroke-width="3.8" stroke-linecap="round" fill="none"/><path d="M603 861h0m0-2h0m0 4h0m2 7h0m0 4h0m5-9h0m2 5h0m0 3h0m12 6h0m-3 3h0m-1-3h0m-9 7h0m-2-4h0m-1 5h0m-1-10h0m-1 6h0m-1-5h0m-3 5h0m-2-4h0m-3 7h0m-5 12h0m3-7h0m0 4h0m3-2h0m1 6h0m5-3h0m1-3h0m1 2h0m1-6h0m0 4h0m1 3h0m1-6h0m1-1h0m1 0h0m0 10h0m5-3h0m0-7h0m0 1h0m0 3h0m0-4h0m2 6h0m5 4h0m17-3h0m4-6h0m6 13h0m-13-1h0m-17 0h0m-9 5h0m-2-3h0m-1 3h0m-6 4h0m-5-6h0m-4 2h0m-1-5h0m-1 7h0m0 4h0m2 1h0m1 8h0m1-1h0m3-9h0m6 9h0m0-8h0m2 10h0m1-5h0m3 2h0m1-5h0m2-2h0m7 4h0m5-4h0m13 3h0m6-3h0m-37 17h0m-1 0h0m-4-2h0m-1-3h0m-1 3h0m-2 7h0m-3 0h0m-4-9h0m0 18h0m4 1h0m1-2h0m2-3h0m2-4h0m1 1h0m11 10h0m1 0h0m2-9h0m7 18h0m-2 3h0m0-9h0m-1 9h0m-6-11h0m-8 9h0m-1-2h0m-5 0h0m-2-2h0m-3-4h0m-2 5h0m16 9h0m3 2h0m1-2h0m3 4h0m2-3h0m1 2h0m0 0h0m2-1h0" stroke="#A08ADE" stroke-width="3.8" stroke-linecap="round" fill="none"/><path d="M602 862h0m-4 11h0m2-6h0m4 4h0m7 3h0m1-6h0m1 2h0m9 3h0m1 3h0m-1 6h0m-4-4h0m-3 6h0m-1 2h0m-3-4h0m-3-2h0m-4 1h0m-11 2h0m5 8h0m8 2h0m0-3h0m4-1h0m3 6h0m3-4h0m23 4h0m1 4h0m-9 1h0m-1 2h0m-2-2h0m0 4h0m-11-3h0m-1 4h0m-5-3h0m-1 7h0m-2-1h0m-6-8h0m0 10h0m-1-5h0m-1-4h0m-1 6h0m0-7h0m0 0h0m-1 6h0m-2 1h0m-4-2h0m-2 16h0m8-2h0m2-6h0m0 4h0m4-4h0m1 8h0m0 2h0m2-5h0m4 4h0m1 0h0m3-4h0m0 3h0m3-3h0m0 1h0m1-2h0m3 0h0m16 4h0m0-8h0m1 6h0m0 1h0m0 0h0m-26 8h0m0-2h0m-3 2h0m-7-1h0m-6 2h0m0-5h0m-3 4h0m0 7h0m-3 5h0m5-4h0m3 0h0m13 1h0m5 3h0m2 1h0m-3 8h0m-1 6h0m-8-4h0m-2 3h0m-2 1h0m-1-7h0m0 13h0m7 1h0m8 4h0m2-4h0m1 4h0" stroke="#8B78D3" stroke-width="3.8" stroke-linecap="round" fill="none"/><path d="M607 863h0m-6-3h0m-5 10h0m0 2h0m1 0h0m1-4h0m8 1h0m7 0h0m1-4h0m8 17h0m-2-4h0m-9 9h0m-1-1h0m-1 1h0m-4-1h0m-1 0h0m-1-2h0m0-6h0m-7 4h0m-3 17h0m7 0h0m0-5h0m11-3h0m1 7h0m0 1h0m8-11h0m4 3h0m5 14h0m-1 1h0m-17-1h0m-4 1h0m0 4h0m-1 1h0m-4-2h0m-4-2h0m-2-3h0m-3 0h0m-2 11h0m5 2h0m0 4h0m3-2h0m2-1h0m8-6h0m2 5h0m1 3h0m2-2h0m1 1h0m0-6h0m2 1h0m2-1h0m1 8h0m3-5h0m-23 13h0m-4 3h0m0 0h0m-4 8h0m0 2h0m1-6h0m4 8h0m2 1h0m3-4h0m0-3h0m7 6h0m0-4h0m5 5h0m2 2h0m4 7h0m-3 5h0m-1-10h0m-3-1h0m0 1h0m-1 1h0m-1-2h0m-1 8h0m0-6h0m-2 9h0m-5-9h0m-5 2h0m10 12h0m1-4h0m1 2h0m1 1h0m0 1h0m4 2h0m4-6h0m1 6h0" stroke="#7765C8" stroke-width="3.8" stroke-linecap="round" fill="none"/><path d="M576.0 831.1V981.6H721.7" fill="none" stroke="#111" stroke-width="1.5"/><path d="M82 1062h0m0-1h0m1-3h0m0 4h0m1 5h0m0-6h0m0-2h0m1 7h0m0-7h0m0 2h0m0 4h0m2 0h0m0 0h0m0-7h0m0 4h0m1 2h0m0 0h0m0-4h0m1 1h0m0-2h0m0-1h0m1 2h0m0 7h0m1-5h0m0-2h0m0 1h0m0-3h0m1 9h0m0-10h0m0 8h0m1-1h0m0-2h0m0 2h0m0-1h0m0-4h0m1 0h0m0 8h0m0-8h0m0 1h0m0-1h0m0 0h0m1 6h0m0 0h0m0-3h0m1 2h0m0-3h0m0 6h0m1-2h0m0-3h0m1 5h0m0 0h0m0-4h0m1 2h0m0 0h0m44 2h0m0 0h0m3-1h0m2 0h0m1 1h0m4 0h0m0-1h0m7 10h0m-1-3h0m0 3h0m0 3h0m-2-1h0m-1-2h0m0-1h0m-1 2h0m0 1h0m0-2h0m0 1h0m0-2h0m-1 0h0m-1 3h0m0-8h0m0 2h0m0-3h0m0 10h0m0-3h0m-1-3h0m-1-5h0m0 4h0m0 1h0m0 0h0m-1 0h0m0 6h0m0-4h0m-1-4h0m0-3h0m0 7h0m-1-5h0m0 0h0m0-1h0m0 0h0m-2 8h0m-1 1h0m0-4h0m0 2h0m-1-2h0m-1-4h0m0 5h0m0-7h0m0 1h0m-1 6h0m0-5h0m-1-2h0m0 4h0m-2 4h0m-1 1h0m0-1h0m0-5h0m0 1h0m0 6h0m-1-2h0m0 1h0m0-1h0m0 2h0m-1-4h0m0-1h0m-1 0h0m-1-2h0m-1 1h0m0 0h0m0 0h0m-1 1h0m-1 4h0m0-2h0m0 2h0m0 2h0m-2-1h0m-23-4h0m-5-6h0m0 5h0m0 1h0m-1-1h0m-1 2h0m0 0h0m0 0h0m-1 0h0m0 1h0m-1-7h0m0 1h0m0 3h0m0-5h0m-1 6h0m-1-3h0m0 0h0m0 7h0m-1-8h0m0 0h0m-1 8h0m0-3h0m-1 1h0m0 1h0m0 0h0m0 1h0m0-2h0m-3-4h0m0 5h0m-1-9h0m0 11h0m-1-5h0m0 5h0m0-11h0m0 10h0m-1-7h0m0 8h0m-1-11h0m0 9h0m0-6h0m0 5h0m0 3h0m-1-11h0m0 3h0m0-2h0m0 4h0m0 0h0m-9 5h0m-9-5h0m0-2h0m-1 4h0m-1 1h0m-1 0h0m-1-2h0m-1 0h0m-5 11h0m3 5h0m0-8h0m2 7h0m1 0h0m0 1h0m2-7h0m0-3h0m1 11h0m0-7h0m1-3h0m5 9h0m7-2h0m2 2h0m3-10h0m0 1h0m2 0h0m0-1h0m1 1h0m0 0h0m2-1h0m1 0h0m0 1h0m1-1h0m1 0h0m1 1h0m0 0h0m2-1h0m0 2h0m0 1h0m1-2h0m0-1h0m0 1h0m26 5h0m0 3h0m2-5h0m1 7h0m1-4h0m0-2h0m1 5h0m0-6h0m0 5h0m1-1h0m0-3h0m1-5h0m2 6h0m0-5h0m0 7h0m1-4h0m0-2h0m0 8h0m0-4h0m1 5h0m1-8h0m1 3h0m0 3h0m0-7h0m1 7h0m1-2h0m0 4h0m0-1h0m0-9h0m1 0h0m1 7h0m0-8h0m1 4h0m1-2h0m1 2h0m1 2h0m0-4h0m0-1h0m1 5h0m0-3h0m1 1h0m0-2h0m1 3h0m0 1h0m0 0h0m0-6h0m0 2h0m2 5h0m0-7h0m1 4h0m1-4h0m1 8h0m1-2h0m0 1h0m1-3h0m1-2h0m1 1h0m0-2h0m0 2h0m0-3h0m0 2h0m0 6h0m1-1h0m1 0h0m0-1h0m1 4h0m0-3h0m1 0h0m0-2h0m0-1h0m0-4h0m1 6h0m0 0h0m1 4h0m0-2h0m0-1h0m1-4h0m0 4h0m0-5h0m0 0h0m1 8h0m0-6h0m0 7h0m1-5h0m0 3h0m0-5h0m0 5h0m1 1h0m0-1h0m1 2h0m0-1h0m1 1h0m1 0h0m1 11h0m0 1h0m-1 0h0m0 0h0m-1-8h0m0 7h0m0 0h0m-1-2h0m0-2h0m0-2h0m0 4h0m0-5h0m-1 1h0m0 3h0m-2 2h0m0-9h0m-1 1h0m0 6h0m-1 0h0m0 0h0m-1-7h0m0 1h0m0-1h0m0 3h0m0 6h0m-2 1h0m-1-6h0m0 2h0m0 3h0m0 2h0m0-8h0m-1 0h0m0 1h0m0 1h0m-1 6h0m0-2h0m0 2h0m0-2h0m-2-5h0m0 2h0m0-1h0m-1-1h0m-3 6h0m-1 1h0m0-2h0m0 1h0m0-6h0m-1-1h0m0-1h0m0 0h0m-1 5h0m0-2h0m0-1h0m-1 0h0m0 1h0m0 6h0m0 0h0m0-3h0m-1-5h0m0 8h0m-2-10h0m-1 5h0m0 4h0m-2-8h0m0 0h0m0-1h0m0 7h0m0-6h0m-1-2h0m0 3h0m0 5h0m-1-4h0m0 2h0m-1-6h0m0 3h0m-1 3h0m0-3h0m-1 3h0m-1-2h0m0 3h0m0-6h0m-1 5h0m0-6h0m0 0h0m0 1h0m0 3h0m-1 0h0m-1 0h0m-2-4h0m0 2h0m0-2h0m-1 1h0m0 3h0m0 2h0m-1 1h0m0-7h0m-1 8h0m0-5h0m-1 0h0m0 2h0m-2-5h0m-5 10h0m0-1h0m-6-2h0m-5 3h0m-23-8h0m-4 7h0m-1 1h0m-1-6h0m0 5h0m0-4h0m0 2h0m0 3h0m-4-5h0m-1 2h0m0-1h0m-2 5h0m-1-3h0m-4-6h0m0 3h0m-1-2h0m-1-2h0m-3 2h0m-6 0h0m-1 19h0m0-6h0m1 1h0m0 1h0m1-1h0m1 4h0m0-6h0m1 8h0m1-1h0m0-1h0m0-7h0m0-2h0m1 10h0m1-2h0m0-2h0m0 1h0m1-5h0m2 6h0m2-5h0m1 4h0m0-6h0m2-1h0m1 8h0m0-5h0m1 4h0m0 3h0m1 1h0m1-9h0m1 3h0m2-3h0m3 7h0m0-5h0m1 7h0m5-3h0m4 1h0m1-1h0m8 3h0m3-8h0m11 4h0m3-3h0m32-1h0m1 2h0m1-3h0m0 0h0m5-2h0m1 2h0m1 0h0m0-2h0m2 7h0m1-4h0m0-1h0m0 2h0m0 0h0m1-2h0m0 2h0m0-1h0m2-3h0m0 0h0m0 1h0m0 3h0m1-3h0m1 7h0m0 3h0m0-6h0m1 3h0m1-5h0m0 5h0m1-4h0m2 5h0m0-2h0m0 2h0m1 1h0m1 1h0m1 0h0m-6 1h0m0 0h0m-1 0h0m-53 4h0m-6 2h0m-7 3h0m-4 1h0m-3-5h0m-2-3h0m-6 6h0m0-1h0m0 0h0m-5 2h0m-1-2h0m-1-7h0m-3 6h0m0 5h0m-1-9h0m-1 0h0m-1 5h0m-1 0h0m-1-1h0m0-3h0m-1 2h0m-6 0h0m-2 2h0m-1-1h0m-1 0h0m-1-3h0m0 0h0m-2-1h0m-2 21h0m0-6h0m2-3h0m0 8h0m3-4h0m1-6h0m3 4h0m1-2h0m1 9h0m4-6h0m1-2h0m0-2h0m1 7h0m5-1h0m0-6h0m2 4h0m0-3h0m0 5h0m1-3h0m1-2h0m2-1h0m0 2h0m2-1h0m1 2h0m1-2h0m15 2h0m38 0h0m-61 17h0m-3-9h0m-2 0h0m-1 8h0m0 3h0m0 0h0m0-1h0m0 1h0m-1-1h0m0-4h0m-1-5h0m-1-1h0m-1 3h0m0-1h0m-1 4h0m0 0h0m-1 3h0m-2-5h0m-1-3h0m0 7h0m-1-3h0m0-1h0m0 6h0m-1-8h0m-1-1h0m0 1h0m-2 1h0m-2 8h0m0-5h0m-2 4h0m0-7h0m-1 0h0m1 13h0m0 5h0m0-5h0m1 3h0m2 4h0m2-1h0m0 1h0m4-7h0m0-3h0m3 9h0m0 0h0m2-5h0m0 6h0m1-10h0m1 5h0m2-3h0m0-1h0m1 1h0m0 1h0m1 2h0m2 2h0m2-3h0m1-5h0m5 9h0m-2 7h0m-2 6h0m0-2h0m-1-4h0m-1-1h0m-2 2h0m0-1h0m-2 1h0m-3 5h0m0-3h0m-1 1h0m-3 2h0m0-9h0m-3 3h0m-4-4h0m-1 3h0m-4-2h0m19 11h0m1 2h0m6 0h0m1-2h0m0 1h0m1 0h0" stroke="#D3D3D3" stroke-width="3.8" stroke-linecap="round" fill="none"/><path d="M144 1071h0m-8 7h0m-39-6h0m-30 2h0m-7 5h0m-1-1h0m-1 10h0m8 3h0m4 0h0m10-6h0m68 1h0m18 11h0m-10 5h0m-29-7h0m-47 5h0m-3 1h0m-1 1h0m-1 1h0m-1-1h0m0-4h0m-7 4h0m-1-4h0m-3 0h0m-4-6h0m-4 11h0m1 11h0m0-2h0m0-6h0m1 2h0m3 7h0m5-8h0m1-1h0m4 9h0m2-7h0m4-3h0m77 2h0m-52 19h0m-4 0h0m0-10h0m-13 0h0m-10 4h0m-1 5h0m-2-7h0m-2 3h0m-5 4h0m-7-2h0m-7 11h0m2-2h0m4 1h0m3-3h0m13 6h0m1-5h0m0 8h0m1 0h0m1-7h0m21 1h0m1-5h0m-19 22h0m-4-1h0m-2 2h0m-1-3h0m-3-8h0m-3 8h0m-2 1h0m-2-5h0m0 7h0m-4-8h0m-3-1h0m-2 2h0m0-4h0m1 23h0m4-11h0m0 5h0m7 3h0m3-2h0m6 0h0m3 2h0m2 5h0m-5 8h0m-6 0h0m10 5h0" stroke="#C7B5EA" stroke-width="3.8" stroke-linecap="round" fill="none"/><path d="M158 1079h0m-8-6h0m-55 0h0m-3 2h0m-28 4h0m-1-8h0m-5 12h0m2 0h0m5-2h0m8 9h0m5 0h0m2 0h0m58-6h0m0 17h0m-54 2h0m-8-1h0m-6 1h0m-2 0h0m0-1h0m-14 0h0m-1 5h0m4-2h0m0 8h0m0-6h0m2 1h0m0 3h0m10-2h0m7-2h0m21 19h0m-15-9h0m-3-1h0m-3 0h0m-2 7h0m-1-2h0m-5-4h0m-1 5h0m-11-5h0m-1 8h0m-2 4h0m1 2h0m2 4h0m3-2h0m2 3h0m20-4h0m2-3h0m-10 12h0m-1 9h0m-12-10h0m-2 4h0m4 8h0m15 11h0m1-8h0m1 6h0m-1 11h0m-2-4h0m-4 4h0m0 3h0m-4-11h0m-1 0h0m-4 9h0m12 4h0m2-1h0" stroke="#BAA7E6" stroke-width="3.8" stroke-linecap="round" fill="none"/><path d="M63 1073h0m-6 13h0m6-6h0m8 5h0m0 1h0m12 1h0m50-7h0m33 10h0m-1 4h0m-96 7h0m-1-1h0m-12-8h0m3 22h0m2-8h0m3 5h0m4-1h0m7 4h0m7-1h0m1-6h0m8 1h0m9-1h0m2-3h0m8 10h0m27 8h0m-36 3h0m-4 2h0m-8-11h0m0 0h0m-9 1h0m-5 6h0m0 1h0m-1-5h0m-5-2h0m-2 0h0m0 3h0m-1 4h0m0-6h0m-4 3h0m-10 15h0m4-3h0m2-2h0m4-3h0m0 2h0m10 2h0m0-1h0m3 0h0m0-3h0m19 5h0m-34 13h0m-1 1h0m-7 3h0m-1-1h0m0 6h0m3 5h0m1-1h0m10 1h0m8 1h0m5-6h0m4 15h0m-8-2h0m-5 7h0m-3-11h0m-2 5h0m-9 0h0" stroke="#AD98E2" stroke-width="3.8" stroke-linecap="round" fill="none"/><path d="M59 1086h0m9 2h0m3-4h0m16 7h0m-16 1h0m-2 4h0m-1-2h0m-1 6h0m-11-6h0m-2 9h0m-3 9h0m4-3h0m3-1h0m3-2h0m5 5h0m1-7h0m3 9h0m9-1h0m3-1h0m8 2h0m1-9h0m8 1h0m-16 20h0m-4 0h0m-3-9h0m-2 9h0m-13-9h0m-3 2h0m-1-2h0m0 7h0m0-2h0m-3 8h0m1 6h0m2 0h0m8-2h0m2-4h0m4 0h0m1 8h0m26-5h0m-22 17h0m-14-7h0m0 4h0m-3-2h0m-3 3h0m0-4h0m-1 1h0m0 2h0m-4 5h0m-1 0h0m9 1h0m6 4h0m3-4h0m4 6h0m1 5h0m7-2h0m-3 10h0" stroke="#A08ADE" stroke-width="3.8" stroke-linecap="round" fill="none"/><path d="M82 1063h0m-13 15h0m-7-9h0m-1 1h0m-1 21h0m1-2h0m3 1h0m6-6h0m4-2h0m2 5h0m2 10h0m-4-4h0m-7 8h0m-3 2h0m-7-1h0m-1-9h0m-4 16h0m0 0h0m0-3h0m5 6h0m14-2h0m11 0h0m7 2h0m1 1h0m1-2h0m19-2h0m-9 15h0m-17 3h0m-12-10h0m-1 5h0m-2 0h0m-13-6h0m-4 10h0m1 6h0m3 3h0m0-4h0m11 2h0m1 4h0m1-4h0m0-2h0m6 0h0m1 3h0m19-6h0m-34 14h0m-2 2h0m-4 2h0m0 13h0m7 1h0m0 0h0m10-1h0m5-2h0m1 5h0m-2 13h0m-1-4h0m-5 2h0m-10-5h0m-4-4h0m14 12h0m5 2h0" stroke="#8B78D3" stroke-width="3.8" stroke-linecap="round" fill="none"/><path d="M53 1130h0m4 7h0m7-4h0m3-3h0m3 5h0m11-1h0m-8 6h0m-4 3h0m-12-2h0m16 19h0m6 0h0m3 7h0m-18-1h0m9 11h0" stroke="#7765C8" stroke-width="3.8" stroke-linecap="round" fill="none"/><path d="M82 1062h0m0 1h0m0 2h0m1-6h0m0 3h0m1-1h0m1 0h0m0-1h0m0-2h0m1 5h0m0-3h0m1-2h0m0-2h0m0 5h0m1 5h0m0 1h0m1-5h0m0-1h0m0-1h0m0 4h0m0 3h0m0-7h0m1 1h0m0 2h0m1-1h0m0 0h0m0-3h0m1 7h0m0-1h0m0-1h0m1-2h0m1 3h0m0 0h0m0-2h0m0-4h0m0 0h0m0 1h0m1 7h0m0-1h0m0-6h0m0-1h0m0 1h0m0-1h0m0-1h0m0 1h0m1 2h0m0 0h0m1 5h0m0 1h0m0-2h0m1 1h0m0-2h0m0 3h0m1-3h0m0 2h0m0 1h0m0-1h0m1 0h0m43 1h0m2 0h0m1 0h0m1 0h0m1-1h0m0 1h0m1-1h0m11 9h0m-3 3h0m0-8h0m-1 2h0m0 5h0m-1-9h0m0 7h0m0 1h0m-1 2h0m0-7h0m0-1h0m-2 5h0m0-2h0m0 1h0m-1 4h0m0-8h0m-1 8h0m0-1h0m-1-3h0m0-1h0m0 2h0m0 0h0m0-6h0m0 10h0m0-4h0m-1-7h0m0 5h0m-1 5h0m0-8h0m-1 1h0m0-2h0m0 4h0m0-5h0m-1 0h0m0 1h0m-1 10h0m0-6h0m-1 1h0m0 1h0m-1 1h0m0-3h0m0 6h0m-1-1h0m0-7h0m-1 0h0m0 3h0m0-1h0m-1 1h0m-1 1h0m0-3h0m-3-2h0m0 3h0m-1 2h0m0 2h0m0 2h0m0-2h0m0-4h0m0 1h0m0 0h0m-1 5h0m0 0h0m0 0h0m-1-6h0m-2 4h0m-2 1h0m-27-9h0m-1 4h0m-2 2h0m-1 0h0m0-7h0m-1 6h0m0-3h0m0 3h0m0 0h0m-1-1h0m0 0h0m-1-1h0m0 0h0m0 1h0m0-2h0m0 2h0m0 6h0m-1-11h0m0 9h0m0-6h0m-1 3h0m0-3h0m0 8h0m-1-9h0m0-2h0m0 7h0m-1 1h0m0-8h0m0 1h0m-1 8h0m-1-4h0m0-1h0m0 2h0m-1-5h0m0 6h0m0-2h0m0-5h0m0 10h0m0 0h0m-1-1h0m0 0h0m0-2h0m-1 0h0m-1-4h0m0-3h0m-1 8h0m0-2h0m0 2h0m0-3h0m-13 5h0m-3-3h0m-1 0h0m0-2h0m-2-2h0m-1 1h0m0 2h0m-1-3h0m-6 20h0m2-6h0m0 0h0m1 2h0m2-4h0m0-3h0m4 1h0m0 4h0m2 1h0m3 4h0m0-4h0m0-6h0m0 1h0m2 10h0m0-7h0m0-1h0m3-1h0m9 7h0m0-8h0m0 2h0m3-2h0m0-1h0m0 1h0m0 0h0m0 5h0m2-5h0m0-1h0m0 2h0m2-2h0m1 3h0m1-2h0m3 1h0m24 8h0m2-2h0m0 2h0m0-6h0m0 4h0m1 3h0m0-5h0m2 2h0m0-6h0m1 0h0m0 3h0m0-2h0m1 5h0m0-6h0m0 2h0m3 7h0m0-4h0m0-2h0m1 2h0m0-1h0m1-1h0m0-5h0m0 2h0m0 9h0m0-9h0m1 4h0m1-2h0m1 7h0m0-7h0m1 3h0m0-4h0m0 3h0m0-3h0m0-1h0m2 6h0m0-8h0m0 0h0m0 2h0m1 9h0m1-8h0m1-1h0m1-1h0m0 1h0m0-1h0m1 5h0m1-3h0m0-1h0m0-1h0m1 0h0m2-1h0m1 4h0m2 2h0m0 0h0m1-6h0m2 6h0m0-6h0m0 11h0m3-7h0m1 1h0m0-1h0m0 1h0m0 0h0m1 5h0m1-1h0m0-4h0m0-2h0m0 2h0m1-2h0m0 2h0m0 6h0m0-11h0m1 8h0m0-2h0m0-3h0m0 4h0m0 1h0m1-3h0m0 3h0m1-3h0m0 3h0m0 3h0m0-3h0m0-5h0m1 7h0m4 13h0m0-7h0m-1 5h0m0-7h0m-1 1h0m0 2h0m0-3h0m0 8h0m0-2h0m0-7h0m-1 9h0m0-4h0m0-2h0m-2 3h0m0 0h0m0-2h0m0-1h0m-1 6h0m0-10h0m0 2h0m0 1h0m0 5h0m-1 1h0m0-6h0m-1 8h0m0-1h0m0-10h0m0 2h0m0 6h0m0 1h0m0-7h0m-1 1h0m0 8h0m-1-1h0m-1 0h0m0 1h0m-1-7h0m0 2h0m-1-1h0m0 4h0m-2 2h0m0-2h0m0 1h0m-1 0h0m-3-7h0m0 3h0m0 0h0m-2-2h0m0 6h0m0-5h0m-1 6h0m0-6h0m0 6h0m-1-4h0m-1-1h0m-1-2h0m0 5h0m0-2h0m-1 1h0m-1-7h0m0 9h0m-1-9h0m0 7h0m-1-7h0m0 5h0m0-2h0m-1-3h0m0 3h0m0 4h0m0-2h0m-2 2h0m-1-5h0m-1 1h0m-2-2h0m-1 1h0m0 0h0m-1 0h0m0 3h0m-2-4h0m0-2h0m-2 7h0m-1 2h0m0-9h0m-1 3h0m0 0h0m-1-3h0m0 6h0m-6-1h0m-33-4h0m-5 9h0m-1-5h0m-1 5h0m0-9h0m-1 10h0m0-2h0m0-1h0m0 1h0m-1-5h0m-1 6h0m-1-4h0m-1 5h0m-2-3h0m0-3h0m-2 0h0m-1 6h0m-1-1h0m-4-5h0m-3-5h0m-6 23h0m1-10h0m1 0h0m1 4h0m1 1h0m1-2h0m1 4h0m1 0h0m2-2h0m0-2h0m0 4h0m0 0h0m2-5h0m1 5h0m1-5h0m0-3h0m1 11h0m1-4h0m0 3h0m0-5h0m3-5h0m0 8h0m1-2h0m1-4h0m3 2h0m1 1h0m0-5h0m3 11h0m1-9h0m2 2h0m0 2h0m1 4h0m0-1h0m4-1h0m0-1h0m1 0h0m1 2h0m10-7h0m9 8h0m36-7h0m3-2h0m0 3h0m1-2h0m4-2h0m2 7h0m1-2h0m0 4h0m0-2h0m1-3h0m1 3h0m1-3h0m1-2h0m1 7h0m1-8h0m0 6h0m3-6h0m0 1h0m0 1h0m3 7h0m0-10h0m1 4h0m-4 9h0m-1 0h0m-64 8h0m-8 0h0m-4-6h0m-3 6h0m-1 1h0m-2-8h0m-2-2h0m-3 6h0m-1 0h0m0 1h0m-2 1h0m-2-7h0m0-1h0m-4 10h0m0-6h0m-2 3h0m0-3h0m0 3h0m-2 2h0m-2-4h0m-1 0h0m-1 4h0m-2-8h0m0 7h0m-1-1h0m0 0h0m-2-7h0m-2 9h0m-1-6h0m-2 13h0m0 0h0m0 3h0m1-7h0m1 10h0m1-8h0m2 7h0m4-2h0m1 2h0m0-7h0m1 7h0m3-4h0m0-4h0m0 8h0m2-8h0m1 4h0m1-4h0m1 6h0m0-2h0m2 0h0m0 2h0m1-5h0m2 0h0m1-1h0m1 9h0m1-10h0m1 1h0m2 2h0m0 8h0m1-11h0m0 2h0m1-2h0m0 1h0m12 6h0m3-4h0m55 11h0m-73 9h0m-2-3h0m-1 0h0m0-7h0m-1-1h0m-1 9h0m-1-8h0m-2 6h0m-1-4h0m-1 5h0m0-6h0m-2 3h0m-2 3h0m0-8h0m0 10h0m-1-1h0m-1-4h0m-1 0h0m-3 5h0m0-9h0m0 5h0m-1 0h0m0-5h0m-2 2h0m-1 6h0m0-9h0m-3 5h0m-2-1h0m3 9h0m2 4h0m1 4h0m0 2h0m0-8h0m0 8h0m0-8h0m1 3h0m0-3h0m0 8h0m1-5h0m4-6h0m2 7h0m2 4h0m3-8h0m1 2h0m2 1h0m0 0h0m4 2h0m1-7h0m0 0h0m1 3h0m4 6h0m1 7h0m-1 2h0m-3 2h0m-2 1h0m0-8h0m-3 2h0m-1 1h0m-1-2h0m0 1h0m-2 4h0m0-4h0m-2-2h0m0 4h0m-1-2h0m-1 4h0m-2-6h0m-7 3h0m-3-4h0m21 12h0m5-1h0m0 2h0" stroke="#D3D3D3" stroke-width="3.8" stroke-linecap="round" fill="none"/><path d="M89 1063h0m5 0h0m51 4h0m-6 2h0m-76 3h0m-1 0h0m-5 15h0m3-7h0m8 7h0m1-7h0m15 10h0m51-6h0m32 15h0m-44-2h0m-50-1h0m-5 3h0m-12-4h0m0 7h0m-1 8h0m6 2h0m1-7h0m5 10h0m0-8h0m1 0h0m2-2h0m0 9h0m3 1h0m36 0h0m1 2h0m-12 10h0m-7-2h0m-13-5h0m-3-2h0m0 4h0m-1 1h0m-3-3h0m-4 3h0m-2-3h0m0 7h0m-6-3h0m-2-7h0m-1 0h0m2 14h0m6 1h0m3-2h0m2 7h0m27-5h0m-29 8h0m-11 18h0m14 3h0m7-2h0m0 2h0m6 14h0m0-3h0m-4 1h0m-10-7h0m0 1h0m-13-2h0m13 11h0m1 1h0" stroke="#C7B5EA" stroke-width="3.8" stroke-linecap="round" fill="none"/><path d="M99 1066h0m0-4h0m61 17h0m-6-10h0m-13 6h0m-74-1h0m-2 0h0m-2 5h0m-2 5h0m11-4h0m8 9h0m81-5h0m-34 8h0m-48 0h0m-2 5h0m-1 6h0m-3-1h0m-6-2h0m-1-6h0m-1 5h0m-2 0h0m-9 7h0m1 6h0m4 1h0m3-6h0m15-3h0m11 11h0m12-6h0m11 12h0m-22-2h0m-10 0h0m-8 0h0m-7 5h0m-11-7h0m-2 5h0m0 11h0m3 6h0m1-5h0m5-6h0m1 1h0m1 7h0m4-5h0m5 6h0m0-6h0m7-2h0m21 3h0m-24 8h0m-2 10h0m-4 1h0m-5-8h0m-12 20h0m1-10h0m4 4h0m9 5h0m2-4h0m11-5h0m-3 13h0m-3 1h0m-2 0h0m-2 7h0m-1 1h0m-1-1h0m-1-1h0m-3-7h0m-8-1h0m-1 0h0m16 13h0" stroke="#BAA7E6" stroke-width="3.8" stroke-linecap="round" fill="none"/><path d="M65 1078h0m-1-7h0m-2 1h0m0 10h0m3-2h0m2 9h0m16 1h0m63 6h0m-72 6h0m-4-5h0m-2 0h0m0 0h0m-1 4h0m-1 0h0m-2-9h0m-6 9h0m-5 1h0m0 12h0m1-7h0m0-1h0m6 4h0m1-2h0m0 6h0m4-3h0m2-6h0m2 5h0m1-5h0m3-1h0m3 6h0m1 5h0m1-9h0m10 5h0m0 3h0m11-5h0m-5 16h0m-2 0h0m-5-4h0m-14 6h0m-1-6h0m-2-1h0m-7 6h0m-2-5h0m-4 2h0m-7 10h0m2-5h0m2 0h0m2 0h0m3 2h0m0 1h0m1-2h0m0 8h0m3-5h0m5 7h0m3-11h0m1 2h0m2 9h0m1-7h0m3 7h0m18-8h0m-43 32h0m2-7h0m1 6h0m3-5h0m5 6h0m3-4h0m4-3h0m2 1h0m3 2h0m3 13h0m0 0h0m0-2h0m-4 5h0m-2-1h0m-2-10h0m-8 0h0m0 0h0m-1 10h0m-6-7h0m0-2h0" stroke="#AD98E2" stroke-width="3.8" stroke-linecap="round" fill="none"/><path d="M74 1077h0m-4 0h0m-2 0h0m-2-5h0m-5 18h0m9-6h0m9 6h0m5 10h0m-8 3h0m-2 0h0m-3-1h0m-1-7h0m-1 1h0m-4-4h0m-13 11h0m1 5h0m5-4h0m10 11h0m14-6h0m0 1h0m4-5h0m14 1h0m13 4h0m-28 15h0m-4-9h0m-2 2h0m-5 7h0m0-4h0m-6 4h0m-7-3h0m-4 2h0m0 0h0m-4-7h0m-1-1h0m5 19h0m5-2h0m5-1h0m5-1h0m11-3h0m-10 12h0m-1 1h0m-6-1h0m-11 3h0m-5-1h0m4 10h0m2 6h0m0 4h0m8-9h0m1 8h0m5-5h0m3 3h0m4 16h0m-4-11h0m-1 4h0m-2 3h0m-2-1h0m-1-1h0m-1 2h0m-4-5h0m-3 1h0m17 9h0" stroke="#A08ADE" stroke-width="3.8" stroke-linecap="round" fill="none"/><path d="M67 1072h0m0 4h0m-2 1h0m-9 7h0m1 1h0m0 0h0m10 0h0m3 4h0m2 1h0m4 10h0m-3 1h0m-8-4h0m-8 5h0m-6 1h0m-1 7h0m2 4h0m0-7h0m3 1h0m0 6h0m13-1h0m1-7h0m2 8h0m1-4h0m4-1h0m1 3h0m1-2h0m21 13h0m-1 2h0m-18-5h0m-7 4h0m0 0h0m-2-3h0m-4-1h0m-3 4h0m-5 0h0m-4-7h0m-4 8h0m8 6h0m12 4h0m2 6h0m-6 9h0m-3-1h0m-7-8h0m-1 4h0m-1 2h0m0 10h0m1 0h0m0 4h0m4-5h0m4 5h0m0 1h0m1-9h0m3 10h0m4 6h0m-4 6h0m-3 0h0m-1-3h0m0-6h0m-2 6h0m-7-6h0m14 10h0m4 2h0m7-2h0" stroke="#8B78D3" stroke-width="3.8" stroke-linecap="round" fill="none"/><path d="M55 1139h0m5-1h0m2 1h0m1-1h0m8-9h0m1 0h0m8 5h0m-8 14h0m-1-8h0m-4 4h0m-3 5h0m-14-9h0m2 13h0m10 5h0m13 11h0m-14-3h0" stroke="#7765C8" stroke-width="3.8" stroke-linecap="round" fill="none"/><path d="M82 1063h0m1 0h0m0-2h0m0 2h0m1 0h0m0-2h0m0-3h0m0 4h0m1-6h0m0 6h0m0 4h0m0-7h0m0 2h0m1 2h0m0 3h0m1-5h0m0 2h0m0 3h0m1-4h0m0-1h0m0 1h0m0-1h0m1 1h0m0-5h0m1 1h0m0 0h0m0-1h0m1 1h0m0-1h0m1 10h0m0-9h0m0-1h0m0 1h0m1 3h0m1-3h0m0 5h0m1 3h0m0-6h0m0 1h0m0-1h0m1 0h0m1 0h0m0 6h0m0-4h0m1 5h0m0-8h0m44 8h0m4 0h0m2 0h0m2-1h0m0 1h0m0 0h0m9 8h0m0-1h0m-1 5h0m-1-4h0m-1 1h0m0-1h0m0 2h0m-1 1h0m-1-1h0m0-6h0m0 7h0m0-6h0m-1 3h0m0-3h0m-2-4h0m0 4h0m0 2h0m0-4h0m0 5h0m0-6h0m-1-1h0m0 7h0m0-6h0m-1 7h0m-1-2h0m0 1h0m0-7h0m0 9h0m-1-8h0m-1 9h0m0-1h0m0-2h0m0-3h0m0 7h0m-1-4h0m0-1h0m0-3h0m0 3h0m0 3h0m-1 2h0m0-1h0m0-8h0m0-2h0m0 10h0m-3-8h0m-1 7h0m0-4h0m0 1h0m0 4h0m-1 1h0m0 0h0m0-10h0m0 8h0m-1-8h0m0 1h0m0 2h0m0-1h0m0 7h0m-1 0h0m0-5h0m0 5h0m0-5h0m0 0h0m-1-3h0m0 8h0m0-7h0m-1 7h0m0 0h0m-1-4h0m0 4h0m0-6h0m-1 6h0m-2 0h0m0-3h0m0 1h0m0-2h0m-2 5h0m0-2h0m-28-7h0m-1 5h0m0 0h0m-1-6h0m0 7h0m0-5h0m-1 3h0m0 0h0m0-6h0m0 0h0m0 7h0m-1-2h0m0-4h0m-1 1h0m0 1h0m0 1h0m0-4h0m-1 5h0m0 1h0m-1-3h0m-1 7h0m0-4h0m0-5h0m0 1h0m-1 8h0m-1-3h0m0-6h0m0 6h0m0 4h0m-1-8h0m0 8h0m-1-8h0m-1-1h0m0 1h0m-1-3h0m0 7h0m0 4h0m-1 0h0m-1 0h0m-1-6h0m0 3h0m-1-8h0m-15 9h0m-2-3h0m0 0h0m-1 2h0m-1 1h0m-2-4h0m-1-2h0m-1 5h0m0-5h0m-1 11h0m2 0h0m1 2h0m2-2h0m3 7h0m0 0h0m1 0h0m1-2h0m4-6h0m1 7h0m1-5h0m2 6h0m6 1h0m1-9h0m0-1h0m0 0h0m0 1h0m1 0h0m0 2h0m1-3h0m1 0h0m3 1h0m0-1h0m1 1h0m0-1h0m2 2h0m1 1h0m1-1h0m1 0h0m24 9h0m3-8h0m0 4h0m0-1h0m1-1h0m1-3h0m0 7h0m0 0h0m0-2h0m1-7h0m0 9h0m1-2h0m0 0h0m0 1h0m2 2h0m0 0h0m1-2h0m0 2h0m1-1h0m0-7h0m0 0h0m3 9h0m1-2h0m0-6h0m0 8h0m2 0h0m0-3h0m0-2h0m0-6h0m0 1h0m0 0h0m0-1h0m1 1h0m1 10h0m1-8h0m0 3h0m0-5h0m0 8h0m1-6h0m1-1h0m0 1h0m1 4h0m0-3h0m0 3h0m1-4h0m1 4h0m0-5h0m1 5h0m0-5h0m1 4h0m1-6h0m1 8h0m0-3h0m1 0h0m0-1h0m0 4h0m1-5h0m1 5h0m0 0h0m0-7h0m2 5h0m0-2h0m0-4h0m1 8h0m0 0h0m0-4h0m1 1h0m1 4h0m0-2h0m0-2h0m0-4h0m1 6h0m0-5h0m0 3h0m0 1h0m1 3h0m0-9h0m0 0h0m1 6h0m0-6h0m0 11h0m1-5h0m1-2h0m0 7h0m0-8h0m2 7h0m0 1h0m0-3h0m0-1h0m4 16h0m-1-3h0m0 0h0m-1-8h0m0 11h0m-1-9h0m0-2h0m-1 9h0m0-1h0m0-5h0m-1-3h0m-1 10h0m-1-9h0m0 3h0m0-4h0m0 1h0m0 9h0m-1-7h0m0 6h0m0-6h0m0 0h0m0 7h0m0 1h0m-1-9h0m0 6h0m0 2h0m-1-2h0m-1-8h0m0 10h0m-1 0h0m0 1h0m0-3h0m-1-3h0m0 0h0m-1-2h0m0 8h0m-1-5h0m0 5h0m0-11h0m-1 10h0m0 1h0m-1-6h0m-1-1h0m0 1h0m-3 6h0m0-5h0m-1-2h0m0 2h0m-1 3h0m0 2h0m-1-9h0m0 8h0m0-4h0m0 1h0m-2 2h0m-1 2h0m0-7h0m-1 4h0m-1-8h0m0 0h0m-1 3h0m0 0h0m0 3h0m-1-4h0m0-1h0m0 2h0m0-2h0m-1-1h0m0 0h0m-1 1h0m-1 6h0m0-3h0m-1-1h0m-1 3h0m-1-3h0m-1-3h0m-1 3h0m-1-1h0m-1-1h0m0 2h0m-1 3h0m0-4h0m0-1h0m-1 5h0m0-6h0m-1 1h0m0 1h0m-1-2h0m-1 3h0m0 0h0m0-3h0m-1 0h0m-2 3h0m-1 2h0m-3 6h0m-10-1h0m0 0h0m-23-7h0m0-2h0m-1 0h0m-3 3h0m-2 7h0m-4-7h0m-1 4h0m0-6h0m-1 3h0m0 4h0m0-4h0m0 0h0m-1 1h0m0-5h0m0 4h0m0 1h0m0 4h0m0-4h0m0 0h0m-1 4h0m0-10h0m-2 7h0m-6-4h0m-2 5h0m-1 1h0m-1-9h0m-1 11h0m0-2h0m-2-1h0m0 7h0m0 8h0m2-9h0m1 5h0m1 2h0m1-6h0m0-2h0m2 3h0m5-1h0m1 4h0m4-2h0m0 2h0m1 0h0m1 2h0m1-1h0m1-6h0m4 4h0m0-3h0m1 3h0m1 4h0m0 1h0m2-9h0m1 4h0m1 1h0m1-6h0m4 8h0m7-1h0m6-7h0m9 8h0m32-7h0m1-2h0m1 0h0m2 3h0m0 0h0m1 1h0m1-1h0m1 0h0m1-3h0m2 4h0m1-3h0m0 2h0m1-2h0m3 1h0m3 0h0m0 0h0m0 3h0m0 0h0m1-4h0m0 2h0m1 3h0m2-6h0m0 4h0m0-2h0m0 3h0m1 6h0m0-3h0m0-8h0m1 9h0m3 2h0m0-1h0m-4 3h0m-1-1h0m-2 0h0m-59 8h0m-8 3h0m-10-5h0m-8 3h0m-2 0h0m-1-8h0m-1 2h0m0 6h0m0-3h0m-1-1h0m-1-5h0m-1 1h0m0 2h0m0 7h0m-1-8h0m-1-2h0m-1 5h0m-1-5h0m0 5h0m-1-3h0m-1 2h0m-1 0h0m-2 2h0m-1-2h0m0-1h0m0-2h0m-1 0h0m0 9h0m-2-2h0m0-4h0m-2 7h0m0-7h0m-3-2h0m-2 8h0m0-6h0m0 5h0m0 12h0m1-2h0m0 4h0m1-7h0m1 1h0m0-5h0m1 4h0m2-1h0m1 6h0m1-1h0m1 3h0m0-9h0m0 0h0m0 1h0m1 8h0m2-2h0m0 0h0m0 1h0m3-4h0m2-6h0m0 0h0m1 8h0m3-3h0m1 4h0m1 1h0m1-8h0m1-2h0m0 3h0m2-1h0m1-2h0m3 2h0m1-1h0m10 5h0m1 0h0m1-3h0m0 4h0m0-1h0m0-6h0m1 5h0m0-2h0m2 0h0m0-3h0m1 2h0m31 20h0m-51-1h0m-2 2h0m-5-9h0m-3 9h0m-3-9h0m0 8h0m-3-5h0m-1-1h0m0 5h0m-1 1h0m0-9h0m-1 6h0m0 2h0m-1-4h0m-1-3h0m0 0h0m-1 2h0m-3 2h0m-1-4h0m0 5h0m-2 1h0m1 5h0m0 9h0m1-4h0m2-2h0m5 7h0m0-7h0m3-3h0m0 1h0m3 3h0m2 0h0m1-4h0m0 2h0m3 5h0m1 1h0m0 1h0m0-3h0m1-2h0m3-3h0m2 4h0m4 13h0m-3-7h0m0 2h0m-1 9h0m-3-1h0m0 1h0m0-1h0m-2-8h0m-1 3h0m-4 6h0m0 0h0m-3-1h0m-1-9h0m0 4h0m-1-5h0m-6 0h0m0 9h0m0-9h0m0 6h0m11 6h0m6 2h0m3-1h0m1-1h0m1 1h0m1 1h0" stroke="#D3D3D3" stroke-width="3.8" stroke-linecap="round" fill="none"/><path d="M153 1074h0m-53 0h0m-26 2h0m-8 1h0m-3-7h0m-5 9h0m-1 5h0m8 6h0m1-1h0m4-4h0m3-4h0m66 11h0m-12 3h0m-54 2h0m-1-1h0m-2 4h0m0-2h0m0 3h0m-3-4h0m-10 6h0m0-5h0m-5 16h0m1 0h0m6-10h0m13 10h0m3 0h0m22-1h0m-22 3h0m-2 8h0m-2-1h0m0-5h0m-4 3h0m-1 0h0m-6 4h0m-1-7h0m-5 18h0m3-8h0m3 2h0m4 1h0m6 1h0m8-4h0m21 4h0m-21 19h0m-1-1h0m-1 0h0m-1-9h0m-12 5h0m-1-4h0m-1 9h0m-6-6h0m-3-2h0m-1 12h0m3 6h0m3 1h0m5-1h0m1-6h0m9 6h0m5-8h0m3 17h0m-2 5h0m-7-6h0m-2-2h0m-2 0h0m0 2h0m-1-5h0" stroke="#C7B5EA" stroke-width="3.8" stroke-linecap="round" fill="none"/><path d="M159 1073h0m-74-1h0m-17 3h0m-8 8h0m5 1h0m3 7h0m14-7h0m62-4h0m3 1h0m11 13h0m-81 6h0m-1-1h0m-14-5h0m-10 12h0m11 5h0m6-5h0m2 6h0m30-7h0m55 3h0m7 5h0m-92 13h0m-3-7h0m-4 0h0m-4 6h0m-4-7h0m-2 10h0m3 4h0m8 3h0m2 1h0m5-2h0m1 3h0m22-9h0m2 1h0m2 2h0m-23 15h0m-2-6h0m-4 3h0m-5 4h0m-7-6h0m-3 3h0m-3 4h0m3 15h0m2-10h0m1-1h0m1 11h0m8-4h0m0 3h0m10-6h0m2 6h0m0-10h0m2 18h0m-1-6h0m-4 9h0m-15 1h0m-2-4h0m-4-4h0m20 10h0" stroke="#BAA7E6" stroke-width="3.8" stroke-linecap="round" fill="none"/><path d="M70 1079h0m-7-7h0m-1 1h0m-2 6h0m-1-1h0m1 6h0m1 7h0m1-11h0m2 8h0m3 2h0m4-3h0m1-6h0m53 2h0m15 18h0m-59-7h0m-4 8h0m-1 1h0m0-2h0m-4-7h0m-2 8h0m-1-1h0m-1 0h0m-2-2h0m-8 3h0m-3 3h0m9 3h0m16 6h0m20-3h0m11 6h0m-9 9h0m-10-8h0m-20 6h0m-15-8h0m-3 17h0m11-4h0m5 3h0m2 2h0m6-6h0m17 3h0m0 2h0m2-5h0m1 3h0m-30 17h0m-2-4h0m-1-3h0m-4 6h0m0 1h0m-7-5h0m-3 8h0m3 2h0m1 10h0m4-4h0m3 4h0m8-4h0m3-4h0m1 4h0m6-1h0m1 5h0m-5 1h0m0 3h0m-5 8h0m-3-5h0m-11-3h0m21 10h0" stroke="#AD98E2" stroke-width="3.8" stroke-linecap="round" fill="none"/><path d="M66 1076h0m-1-1h0m-2 14h0m6-1h0m35 13h0m-20-1h0m-5 1h0m-3 1h0m-10-7h0m-2 8h0m0-7h0m-1 2h0m-2-5h0m-2 19h0m0 0h0m1 0h0m0-4h0m0-2h0m3 4h0m2-4h0m13 1h0m7-1h0m3 9h0m11 11h0m-22-1h0m-7-8h0m-5 6h0m-4-2h0m-1 4h0m-2-1h0m-2-8h0m-2 5h0m-1-5h0m-2 16h0m1 0h0m2 0h0m0-1h0m9 7h0m0-6h0m1-4h0m4 8h0m2 1h0m1-4h0m0 2h0m0 0h0m7-5h0m1 1h0m1-3h0m1 1h0m14 4h0m-19 7h0m-10 11h0m-2-8h0m-7 8h0m-2 3h0m4 8h0m4-2h0m3-5h0m5 5h0m10 2h0m0-3h0m-2 11h0m-5-1h0m-2 0h0m-1-1h0m-1 5h0m-3-4h0m-2-5h0m-9 6h0m13 6h0m2 1h0m7 1h0m2-2h0" stroke="#A08ADE" stroke-width="3.8" stroke-linecap="round" fill="none"/><path d="M62 1072h0m-6 9h0m16-1h0m1 10h0m11 8h0m-13 0h0m0-4h0m-7 3h0m-9-1h0m1 11h0m0 7h0m2-9h0m9 9h0m4-1h0m5-7h0m6 5h0m8 0h0m7-4h0m-9 15h0m-15-1h0m-17 5h0m0-8h0m-3 13h0m6 2h0m8 6h0m4-7h0m1-2h0m3-1h0m5 4h0m14 0h0m2-5h0m-26 23h0m-3-8h0m-3 7h0m-1-6h0m-4 1h0m-2 0h0m-5 6h0m15 12h0m2-1h0m6-2h0m1 1h0m4 4h0m-1 5h0m-10 1h0m-1-4h0m-2 2h0m-7-3h0m-5-1h0m15 11h0m5 2h0m8-2h0m1 0h0" stroke="#8B78D3" stroke-width="3.8" stroke-linecap="round" fill="none"/><path d="M83 1122h0m-30 8h0m7 3h0m3 2h0m6 1h0m1-5h0m3 7h0m3-8h0m1 17h0m-3 1h0m-5-4h0m-10 4h0m5 5h0m1 7h0m1 3h0m1-1h0m4-3h0m11 4h0m-11 5h0m-5 6h0m8 4h0" stroke="#7765C8" stroke-width="3.8" stroke-linecap="round" fill="none"/><path d="M36.0 1042.5V1193.0H181.7" fill="none" stroke="#111" stroke-width="1.5"/><path d="M244 1062h0m0 0h0m0-1h0m1 4h0m0-2h0m0-1h0m0 1h0m1-2h0m0 0h0m0 1h0m1-1h0m0 5h0m0-8h0m1 5h0m0 0h0m0-7h0m0 6h0m1 3h0m0-9h0m0 10h0m1-2h0m0-3h0m1 1h0m0 2h0m1-3h0m0-2h0m0 4h0m1-5h0m0 4h0m1 4h0m1-9h0m1 2h0m0 1h0m0 7h0m0-8h0m1 6h0m0-6h0m0 1h0m0 3h0m1 2h0m1 1h0m0-4h0m0 3h0m1 2h0m1 0h0m0-2h0m48 2h0m0 0h0m1 0h0m0 0h0m0-1h0m1 0h0m1 1h0m10 8h0m0 1h0m-1-1h0m0-1h0m-1 4h0m0-3h0m0 4h0m-1-7h0m0 6h0m-1 0h0m0-2h0m0 0h0m0 1h0m-1 0h0m0-7h0m-1 5h0m0 3h0m0-6h0m-1 0h0m0 2h0m0-1h0m-1-5h0m-1 10h0m0-6h0m0 0h0m0 1h0m0-3h0m0 0h0m0-1h0m-1 4h0m0-5h0m-1 7h0m0-2h0m0-2h0m0 5h0m0-7h0m0 6h0m-1 0h0m0-6h0m0 8h0m-1-2h0m-1 2h0m0-2h0m0-1h0m0-3h0m0 1h0m0 7h0m-1-5h0m0-6h0m-1 6h0m0 1h0m0-5h0m0 3h0m-1 2h0m-1 4h0m-1-4h0m0-5h0m-1 1h0m0 2h0m-1-4h0m-1 0h0m0 2h0m0 7h0m0 0h0m0 0h0m0-6h0m0 1h0m0 5h0m-1-5h0m0 5h0m-2-3h0m0 4h0m-1-6h0m0-2h0m-1 8h0m-1-6h0m0 1h0m-1 3h0m0-1h0m0-1h0m0 4h0m-2-1h0m0-1h0m-28-7h0m0-1h0m0 5h0m-1-5h0m0 4h0m-1 3h0m-1-1h0m-1-2h0m0-5h0m-1 2h0m0 4h0m0 0h0m0-2h0m-1 0h0m0 7h0m0-1h0m-1-6h0m0-3h0m0 2h0m0 2h0m-1 5h0m0-10h0m0 3h0m0 8h0m-1-5h0m0 3h0m0 1h0m-1-8h0m0-1h0m0 10h0m-1-11h0m0 1h0m-1 2h0m0 1h0m-1 0h0m0-4h0m0 11h0m-1-10h0m0 6h0m0-7h0m0 0h0m-1 0h0m0 11h0m0-2h0m-1-9h0m0 3h0m0 2h0m-1 1h0m0-1h0m0-5h0m-10 8h0m-4 3h0m-2-7h0m-1 2h0m-1-1h0m0-1h0m-1 5h0m0-1h0m0-2h0m-1-3h0m-1 3h0m0-1h0m-2 1h0m-1 4h0m0 0h0m-3 13h0m0-7h0m0 0h0m1-1h0m0 4h0m0-2h0m0 0h0m1-3h0m1 1h0m1 8h0m0-2h0m1 0h0m0-9h0m0 2h0m1 0h0m1 6h0m1 2h0m1-9h0m3 7h0m1 1h0m1-3h0m0-2h0m0 0h0m1 6h0m0 1h0m1-10h0m0-1h0m0 1h0m1 7h0m1-5h0m6 2h0m2-4h0m1 9h0m0-9h0m0 2h0m1-2h0m0 0h0m1 0h0m1-1h0m0 1h0m1 0h0m1-1h0m0 0h0m0 1h0m1 0h0m0 1h0m0-2h0m3 1h0m1 2h0m2-1h0m25 9h0m0-2h0m2-2h0m1-4h0m0 3h0m0-1h0m1 2h0m1-2h0m0-2h0m0 2h0m1-3h0m1 5h0m1 3h0m1-3h0m0 1h0m1 1h0m0-2h0m0 1h0m0-6h0m1 0h0m2 2h0m1 7h0m0-7h0m0 5h0m1-2h0m0-4h0m0-2h0m1 10h0m0-5h0m0-5h0m0-1h0m1 4h0m0-4h0m1 11h0m2-9h0m1 1h0m0 3h0m0-5h0m2 2h0m0-1h0m0 1h0m1 4h0m0-7h0m0 0h0m1 2h0m2 5h0m0-1h0m0-6h0m0 6h0m1 2h0m1-4h0m0 2h0m1-6h0m1 8h0m0-1h0m0-6h0m1 5h0m1-3h0m0-1h0m1 5h0m0-4h0m1 1h0m1-3h0m1 6h0m0 0h0m1 2h0m0-4h0m0 0h0m1-5h0m0 6h0m0-3h0m0 2h0m0 6h0m0-4h0m0 4h0m1-5h0m0-4h0m1 8h0m0-7h0m1 1h0m0 5h0m0-1h0m1 0h0m0 3h0m1-1h0m1 1h0m2 11h0m0 1h0m0 0h0m-1-1h0m0 0h0m0-2h0m-1-6h0m0 3h0m0 0h0m0 6h0m-1-3h0m-1-1h0m-1-3h0m0-4h0m-1 2h0m-1 9h0m0-10h0m0 8h0m0-8h0m-1 10h0m0-4h0m-1-6h0m0 1h0m-1 0h0m0-2h0m0 10h0m-1-2h0m-1-5h0m0 2h0m0 6h0m0-6h0m0 4h0m-1 0h0m0 0h0m-1-3h0m0 5h0m-1 0h0m-1-5h0m0-1h0m-1-1h0m-3 6h0m0-4h0m-1 4h0m-1-6h0m0 7h0m0 0h0m0-6h0m0 6h0m-1-7h0m-1 6h0m0 1h0m0 0h0m-1-7h0m-1 5h0m-1 1h0m0 0h0m-1-2h0m0 0h0m-1-8h0m0 6h0m0-2h0m0-4h0m-1 1h0m0 2h0m0-1h0m0 1h0m-1-2h0m-1-1h0m0 4h0m0-1h0m-1 0h0m0 1h0m-1 2h0m0-3h0m-1 0h0m-1 0h0m0 4h0m-3-7h0m0 4h0m-1-2h0m0 0h0m0 1h0m0 0h0m-1-1h0m0-2h0m-1 2h0m0 5h0m-2 1h0m0-5h0m0 0h0m-1-3h0m0 0h0m0 5h0m0 0h0m-1-5h0m-2 3h0m-4 6h0m-1 2h0m-5-4h0m-5 2h0m-20-3h0m-1 5h0m-2-10h0m-2 9h0m-2-1h0m0-5h0m-1 7h0m0-6h0m0 4h0m0 2h0m0-2h0m0-8h0m-1 9h0m0-2h0m0 3h0m0-2h0m0-1h0m-1-7h0m-1 10h0m-1-9h0m-1 3h0m-1 0h0m0 0h0m-1 4h0m0-3h0m0 3h0m-1-1h0m0 3h0m-1-9h0m0 9h0m0 0h0m0-3h0m-1 2h0m0-8h0m0 5h0m-1 0h0m-1-7h0m-1 5h0m-1 1h0m-1-5h0m-3 9h0m0-7h0m-3-3h0m-2 8h0m-1 2h0m0-7h0m-1 14h0m0 5h0m1 1h0m0-7h0m1-3h0m0 4h0m1-1h0m0 6h0m0-8h0m1 3h0m1 4h0m1 1h0m0 0h0m0-9h0m0 8h0m0-3h0m1 2h0m1-2h0m0 1h0m0-3h0m0 5h0m2-3h0m0 2h0m0 0h0m2-5h0m0 0h0m0 1h0m0 2h0m1-3h0m0-2h0m1 2h0m2 4h0m0 3h0m0-2h0m0-2h0m1-1h0m0 4h0m1 2h0m0-1h0m1-10h0m0 8h0m0 1h0m1-5h0m0 6h0m0-2h0m3 2h0m2-6h0m0 7h0m1-11h0m0 6h0m1 0h0m1 5h0m0-1h0m0 1h0m2-5h0m1-2h0m3-3h0m4 8h0m0 0h0m0 0h0m1-2h0m1-3h0m4 7h0m4-8h0m1-1h0m9 5h0m1-2h0m2 1h0m32-6h0m2 2h0m0 1h0m1 1h0m1 0h0m5-3h0m0 3h0m0-4h0m1 7h0m0-4h0m1 1h0m1-2h0m1 0h0m0 2h0m0-1h0m7 1h0m1 4h0m0-3h0m1-5h0m1 9h0m1 2h0m1 0h0m0-1h0m-6 3h0m-1-1h0m-26 6h0m-27-5h0m-8 7h0m0 2h0m-3 1h0m-2-1h0m-8-10h0m-3 6h0m-1-6h0m-2 7h0m0-1h0m-1-5h0m-3-1h0m-1 4h0m-2 4h0m-1-6h0m0 7h0m-1-4h0m0-2h0m0 4h0m0-2h0m-1 3h0m0-3h0m-2-1h0m0-2h0m0 0h0m0 8h0m-1-9h0m0 0h0m0 3h0m-1-3h0m-1-1h0m-1 4h0m0 2h0m0-1h0m-1-1h0m-1 4h0m-1-4h0m-2 2h0m0-1h0m0 1h0m-1 3h0m0-5h0m0-3h0m-1 1h0m-2 5h0m0 0h0m0-6h0m0 6h0m-1-7h0m0 0h0m0 8h0m0-7h0m0 5h0m-1-6h0m-3 2h0m-1 8h0m0-1h0m-2 9h0m0 1h0m1-7h0m1 4h0m1-2h0m0 9h0m2-2h0m0 2h0m1-11h0m0 7h0m2-4h0m0 0h0m1 2h0m0 0h0m0-2h0m1 6h0m0-5h0m1-2h0m0 9h0m2-1h0m0-1h0m1-4h0m0-1h0m0 6h0m0-1h0m2-6h0m0 2h0m0 1h0m1-2h0m0-3h0m1 8h0m0-7h0m0-1h0m0 7h0m0-6h0m0 9h0m1-3h0m0 1h0m1-5h0m0-1h0m1-2h0m1 4h0m0 0h0m0-1h0m0 0h0m0 5h0m0-7h0m1 7h0m3 1h0m0-7h0m1 1h0m2-1h0m0-3h0m0 11h0m2-8h0m2-2h0m1 1h0m10 3h0m1-2h0m1 0h0m0 0h0m0 2h0m1-2h0m0-3h0m1 3h0m0 0h0m0 1h0m1-2h0m0 2h0m-21 15h0m-2 1h0m-1 1h0m-1-9h0m0 8h0m-1-7h0m0 0h0m0 0h0m-1 9h0m0-3h0m-1 1h0m-1-8h0m0 3h0m0-1h0m-1 9h0m0-1h0m-2-10h0m0 4h0m0 6h0m-1-10h0m0 11h0m-1-2h0m0-6h0m0-1h0m0-2h0m0 7h0m-1 2h0m0-5h0m-2 3h0m0-3h0m-1 0h0m0 7h0m0-10h0m-1 6h0m0-7h0m0 1h0m0 5h0m-1 0h0m0 1h0m0-2h0m0-4h0m-1 3h0m0-2h0m0 0h0m-1 9h0m0-8h0m-1 2h0m-1-2h0m0 0h0m0 1h0m-1 7h0m0-9h0m-1 3h0m0 3h0m0-2h0m-1-2h0m-1-2h0m0 1h0m0 13h0m0 5h0m1-8h0m1 6h0m1-6h0m0-1h0m2 10h0m0-3h0m0 4h0m0-1h0m1-4h0m0-6h0m0 10h0m1-5h0m1 6h0m2 0h0m1-11h0m1 8h0m0 0h0m0 1h0m1-1h0m1 1h0m1 2h0m0-2h0m0 2h0m0-6h0m0 3h0m0-4h0m1 6h0m0 0h0m2-9h0m1 6h0m0-3h0m1 2h0m2 1h0m0 2h0m0-1h0m1-1h0m2 1h0m0 0h0m0 1h0m0-4h0m1 2h0m0 2h0m0-5h0m2 4h0m0-4h0m2 3h0m1 3h0m2 10h0m-1-5h0m0 2h0m-3 1h0m0 0h0m-1 2h0m0-2h0m-1-5h0m0 1h0m-1 8h0m-1-8h0m-1 0h0m0 1h0m0 1h0m-2-4h0m0 10h0m0-7h0m-1 1h0m-1 5h0m0-9h0m0 4h0m-2-1h0m-1 7h0m0-4h0m-1-1h0m-1 3h0m0 2h0m0-10h0m0 5h0m-1-5h0m0 8h0m-1-6h0m0 0h0m0 0h0m0 0h0m-2 6h0m-1-6h0m-1 1h0m-1-1h0m-2 4h0m0-6h0m-1 3h0m0-2h0m0 1h0m-1 0h0m0 3h0m15 7h0m1 0h0m0 0h0m2 2h0m0-1h0m1 1h0m1 0h0m0-1h0m3 1h0m2-2h0m0 1h0m2-1h0" stroke="#D3D3D3" stroke-width="3.8" stroke-linecap="round" fill="none"/><path d="M256 1070h0m-20 12h0m70 15h0m-74 5h0m-4-1h0m-3-6h0m-7 7h0m17 12h0m8 0h0m4 0h0m-22 21h0m7 9h0m-3-3h0m-7 3h0m19 8h0m-9 16h0" stroke="#C7B5EA" stroke-width="3.8" stroke-linecap="round" fill="none"/><path d="M320 1079h0m-93-4h0m-1-5h0m-5 17h0m2-7h0m11 0h0m89 8h0m-97 8h0m-9 14h0m9 1h0m2-7h0m3 5h0m4 6h0m76-9h0m-52 20h0m-18-1h0m-12-4h0m-4 5h0m-6 0h0m-4 3h0m8 7h0m0-6h0m-2 15h0m-3 16h0m23 1h0m-12 5h0m-6 1h0m19 10h0" stroke="#BAA7E6" stroke-width="3.8" stroke-linecap="round" fill="none"/><path d="M253 1075h0m-13 22h0m-1 5h0m-19 5h0m42 0h0m-10 14h0m-1-5h0m-15 6h0m-2 0h0m-3 3h0m-10-8h0m13 17h0m2 4h0m10-9h0m11 6h0m41-3h0m-63 8h0m-7 2h0m-3 4h0m-6 16h0m12-7h0m1 1h0m9-3h0m-7 22h0m-2-8h0m9 9h0" stroke="#AD98E2" stroke-width="3.8" stroke-linecap="round" fill="none"/><path d="M230 1076h0m0 25h0m0-9h0m-8 38h0m0 0h0m7-1h0m10 1h0m20 3h0m-25 7h0m-16 5h0m-1 4h0m-2 9h0m13 11h0" stroke="#A08ADE" stroke-width="3.8" stroke-linecap="round" fill="none"/><path d="M228 1075h0m0-1h0m-2 2h0m3 13h0m4-9h0m1 5h0m-9 13h0m-2 16h0m1-2h0m26 2h0m23 0h0m-37 10h0m-6-1h0m-1 0h0m-5-2h0m-1 9h0m9 6h0m-1 15h0m8 2h0m4 17h0m-8 3h0" stroke="#8B78D3" stroke-width="3.8" stroke-linecap="round" fill="none"/><path d="M214 1108h0m30 3h0m8 0h0m7 2h0m-35 26h0m1 10h0m-6-7h0m16 19h0m8 2h0" stroke="#7765C8" stroke-width="3.8" stroke-linecap="round" fill="none"/><path d="M245 1061h0m1 6h0m0-4h0m0-2h0m0 2h0m0-5h0m1 3h0m0-1h0m0 1h0m1-1h0m0 5h0m0 1h0m1-8h0m1 8h0m0-4h0m0 5h0m1-5h0m0 5h0m0-10h0m0 3h0m1 1h0m0 2h0m0 4h0m0-9h0m1 2h0m0 1h0m0-4h0m0 1h0m1 7h0m0 2h0m0-9h0m0-1h0m0 8h0m0-6h0m1 8h0m0-3h0m0-1h0m0-5h0m1 6h0m0 1h0m0-2h0m0-4h0m0-1h0m0 1h0m1 7h0m0-7h0m0 3h0m0-3h0m0 1h0m0-1h0m1 2h0m0 0h0m1 5h0m0-6h0m0 1h0m0 0h0m0 6h0m0 0h0m1-1h0m0-2h0m0 3h0m0-8h0m1 5h0m0 2h0m0-4h0m1 5h0m0-1h0m0 0h0m43 1h0m0 0h0m2 0h0m4-1h0m0 1h0m1 0h0m1-1h0m3 1h0m5 9h0m0 3h0m0-6h0m-3 4h0m0-2h0m-1-4h0m0 7h0m0-7h0m0-3h0m0 8h0m-2 2h0m0-2h0m-1-1h0m0-2h0m0 0h0m0 2h0m-1 3h0m0-1h0m0-2h0m-1-1h0m0-5h0m-1 0h0m0 10h0m-1-11h0m0 2h0m-1 8h0m0-8h0m0-2h0m-1 3h0m0-2h0m0 7h0m-1 3h0m0-1h0m-1-4h0m-1-4h0m0-1h0m-1 4h0m-1 4h0m0-9h0m0 10h0m-1 1h0m0-5h0m0 0h0m-1 3h0m0-7h0m0-1h0m-1 2h0m0 5h0m-1-2h0m0-1h0m0 5h0m-1 0h0m-1-1h0m0 1h0m0-4h0m0 0h0m0-1h0m-1 6h0m0-1h0m0-6h0m0 0h0m-1 0h0m-1 6h0m-2-1h0m-1 2h0m-28-6h0m0 0h0m-1 2h0m0 0h0m0-1h0m-1 2h0m0-2h0m0-3h0m0 4h0m-1 0h0m0 0h0m0-7h0m0 2h0m-1 4h0m-1-3h0m-1 2h0m0-2h0m0 2h0m0 1h0m-1 4h0m0-7h0m-2 5h0m0-1h0m0 2h0m0-1h0m-2 0h0m-1 1h0m-1-3h0m-1-1h0m0-5h0m0 7h0m0 3h0m0 0h0m0 1h0m-1-2h0m0-6h0m0 4h0m0 4h0m-1-7h0m0 7h0m0-4h0m0 4h0m-1-10h0m0 4h0m-1-5h0m0 8h0m-9 1h0m-3 0h0m-4-2h0m-1 3h0m0-1h0m-2-6h0m0 8h0m-2-7h0m-2 4h0m0-5h0m-4 10h0m0 4h0m1 1h0m0-1h0m2 3h0m0-6h0m1 8h0m0-6h0m1-1h0m1 7h0m0-6h0m1 5h0m0 0h0m0-9h0m1 3h0m1-1h0m0-2h0m0 4h0m0 1h0m0-1h0m1-3h0m0-1h0m1 11h0m1-2h0m0 2h0m2-5h0m0-2h0m0 1h0m1 5h0m0 1h0m2-1h0m0-6h0m2-2h0m2 7h0m0-2h0m7 3h0m0-1h0m0-9h0m0 1h0m2 0h0m0 2h0m1-3h0m0 1h0m3-1h0m1 0h0m0 1h0m1 0h0m0 0h0m2 1h0m0 1h0m1-3h0m1 1h0m25 9h0m1-4h0m0-2h0m1 4h0m2-6h0m0 7h0m0-7h0m0 7h0m0-6h0m1-1h0m0-2h0m0 9h0m0-5h0m1 6h0m0-2h0m0-3h0m1-5h0m2 6h0m1-4h0m0 8h0m0-9h0m0 5h0m0 4h0m0-8h0m1 9h0m3-2h0m0-6h0m0 8h0m1-4h0m0-1h0m0 5h0m0-8h0m1 7h0m1-2h0m0-7h0m1 10h0m0-11h0m0 0h0m1 1h0m2 1h0m0 2h0m0-2h0m1 4h0m0 1h0m1-3h0m0 0h0m1 1h0m0 1h0m0-4h0m1 5h0m0-1h0m0-4h0m1-2h0m1 4h0m0-4h0m1 5h0m0-5h0m1 5h0m1-2h0m3-2h0m0-1h0m0 0h0m1 6h0m1 0h0m0-1h0m0 3h0m0-4h0m1 3h0m0 3h0m0-5h0m1-5h0m1 4h0m0-4h0m0 6h0m1 4h0m0-10h0m1 6h0m0-3h0m0-1h0m0 5h0m0 1h0m1-4h0m1 2h0m0 3h0m0-1h0m0-5h0m1 5h0m0 2h0m1 0h0m2 1h0m0-1h0m1 9h0m0 4h0m-1-2h0m0-1h0m0-5h0m0 8h0m-1-7h0m0-4h0m0 1h0m-1 7h0m0-4h0m0-2h0m-1 5h0m0 1h0m0-5h0m-2 7h0m0-10h0m0 10h0m-1-1h0m0-9h0m0 3h0m-1 0h0m0-1h0m0 7h0m0 2h0m-1-11h0m0 3h0m0 5h0m0 2h0m-1 0h0m0-2h0m-1-5h0m-1 7h0m0 0h0m0-1h0m-1-5h0m0 1h0m0 0h0m-1-2h0m0 8h0m0 0h0m-1-2h0m-1-5h0m0 7h0m-2-6h0m0 1h0m-3-2h0m0-2h0m0 9h0m0-6h0m0-1h0m-1-1h0m0 4h0m0-3h0m-1 3h0m-1-3h0m0 2h0m0 1h0m0 1h0m-1-5h0m0 4h0m-1-6h0m0 3h0m-1-3h0m-1 0h0m0 5h0m-1-4h0m0-1h0m-1-1h0m0 3h0m0 6h0m0-5h0m0 4h0m0-2h0m-1-4h0m0 1h0m-1-3h0m-1 4h0m-2 0h0m0 2h0m-1 0h0m-1-5h0m-1 2h0m0-3h0m-1 3h0m-2-3h0m-1 6h0m0-5h0m0 3h0m0 2h0m-1 3h0m0-9h0m-1 1h0m0 2h0m0 0h0m-1 3h0m-1-3h0m0 0h0m0-3h0m-17 10h0m0 0h0m-21-2h0m-2-5h0m-1-2h0m-3 7h0m-1 2h0m0 0h0m-1-6h0m0 3h0m0 2h0m0 1h0m0-5h0m0 5h0m-2-1h0m0-3h0m-1-2h0m0 6h0m0-6h0m-1 0h0m0-4h0m-1 10h0m0-7h0m0 4h0m0-1h0m-1 2h0m0 2h0m0 1h0m-1-7h0m0 6h0m0-4h0m0 3h0m0-2h0m-1 3h0m0-5h0m-1 1h0m0-3h0m0 5h0m-1 2h0m-1 1h0m-2-9h0m-1 3h0m-3-5h0m-1 9h0m-1-3h0m-1-6h0m-1 11h0m-3 0h0m-1 0h0m-1 7h0m1 2h0m1 2h0m0-7h0m0 7h0m0-8h0m1 9h0m0-1h0m2-9h0m0 8h0m0-8h0m1 10h0m0-3h0m0-6h0m0 1h0m0 4h0m1 3h0m1-7h0m0 5h0m0-8h0m1 4h0m0 2h0m0 2h0m1 2h0m0 1h0m0-3h0m1-6h0m0 0h0m1-1h0m3 6h0m1-5h0m0 0h0m1 9h0m0-1h0m0-9h0m1 2h0m1-1h0m0 0h0m0 1h0m1 6h0m0-4h0m0-4h0m0 6h0m0 4h0m1-9h0m0 4h0m0 4h0m1-4h0m0 1h0m1-7h0m1 2h0m0 6h0m2-6h0m0 4h0m1-5h0m0 7h0m1 3h0m0-8h0m1 3h0m3 3h0m0-4h0m1-2h0m1 6h0m4-1h0m0-1h0m0 0h0m1 1h0m2-8h0m6 8h0m2-7h0m0 4h0m4-4h0m7 9h0m3-6h0m30-2h0m2 1h0m0-3h0m2 2h0m1 1h0m1 0h0m2 0h0m1-3h0m1 0h0m0 2h0m1 0h0m1-1h0m1 4h0m0 2h0m2-3h0m1 0h0m1-2h0m0-1h0m1 0h0m0 4h0m0-1h0m2 7h0m0-3h0m1-2h0m2-6h0m0 11h0m0-8h0m1 4h0m0 2h0m1 1h0m0 0h0m1-6h0m-3 8h0m-1 0h0m0 1h0m-1-1h0m-53 5h0m-7 1h0m0 2h0m-4 1h0m-2-9h0m-1 11h0m0 0h0m0-2h0m-2 0h0m-3-7h0m0 7h0m-1 0h0m-2-3h0m0-3h0m-5 8h0m0-1h0m-2-10h0m-3 2h0m-1 7h0m-1-3h0m-1 1h0m0-6h0m-1 6h0m0-1h0m-1 3h0m0-4h0m-1 3h0m-1-8h0m0 8h0m0-7h0m0 2h0m-1 3h0m0-4h0m0 5h0m-2 0h0m0-1h0m0-1h0m-1-2h0m0 7h0m0-6h0m-1-2h0m0 5h0m0-1h0m0-4h0m-2 2h0m0 5h0m0-2h0m0 4h0m-4-2h0m0-4h0m0-2h0m0-2h0m0 4h0m0 5h0m-1-1h0m-2-1h0m-1-1h0m0-5h0m-1-2h0m0 2h0m0-1h0m-3 0h0m-1 3h0m0-1h0m0-3h0m0 10h0m-1-1h0m0 7h0m1 7h0m1-4h0m0 1h0m0-5h0m0 1h0m1-2h0m0-2h0m0 5h0m0-2h0m0-3h0m1 6h0m0-6h0m1 5h0m0 2h0m1-7h0m0 7h0m0 2h0m0-5h0m2-1h0m0-1h0m1-1h0m0 8h0m0-6h0m0-3h0m1 5h0m1 3h0m0-6h0m1 2h0m1 5h0m0-9h0m1 3h0m1 2h0m1 0h0m1-5h0m0 8h0m1-5h0m1 1h0m1 3h0m1 1h0m0-5h0m1 7h0m0-7h0m0-1h0m0 7h0m1 2h0m1-10h0m0 1h0m0-2h0m1 2h0m0 2h0m0 3h0m3-6h0m0-1h0m1 3h0m1 2h0m0-4h0m0 3h0m13 2h0m1-1h0m1-1h0m0-4h0m0 0h0m2 0h0m1 4h0m53 10h0m-73 7h0m0 2h0m-1 0h0m-1-1h0m-1-9h0m0 8h0m0-9h0m-1 0h0m-1 0h0m0 10h0m-2-8h0m-2 6h0m0 3h0m-1-3h0m0 3h0m0-3h0m-1-8h0m-2 4h0m-1 4h0m0-5h0m0 5h0m-1-2h0m0-1h0m-1 4h0m0 0h0m-1-7h0m-1 8h0m0-2h0m-1-2h0m-1-1h0m0 3h0m-1-7h0m-1 0h0m0 3h0m-1 3h0m0-4h0m0 3h0m-1 0h0m-1-4h0m-1 8h0m0-3h0m-1 4h0m-1-3h0m0 3h0m0-2h0m0 1h0m0-10h0m0 11h0m-1-8h0m2 12h0m1-2h0m1 7h0m0 3h0m1 0h0m0-2h0m0-2h0m0-5h0m1 7h0m0-3h0m0-1h0m0-2h0m1-2h0m1-1h0m1 0h0m0 10h0m0-5h0m0 2h0m1-3h0m1-3h0m1-1h0m0 8h0m1-7h0m0 9h0m1-9h0m0 1h0m1 6h0m1 2h0m0-9h0m1 10h0m0-4h0m0 0h0m2 3h0m0-10h0m1 3h0m1 4h0m0 1h0m1-2h0m0 2h0m1-5h0m0 6h0m0-3h0m0 2h0m1-3h0m1 3h0m2 3h0m3-1h0m1-1h0m1 2h0m2 12h0m-1-4h0m-1-1h0m-2-4h0m-1 6h0m0-4h0m0 2h0m0 5h0m-1 0h0m0-3h0m-1 1h0m0-6h0m0 4h0m-1-7h0m0 11h0m-1-6h0m-1-1h0m0 0h0m-1 1h0m0 0h0m0-2h0m-1 2h0m-1 0h0m0 6h0m-1-4h0m0 3h0m0 1h0m-1-9h0m0 9h0m0-5h0m-1 5h0m0-5h0m-1 2h0m0-4h0m0-4h0m0 5h0m-1 2h0m-2-6h0m0 8h0m-6-9h0m0 0h0m-1 3h0m0-2h0m-2 0h0m-1 0h0m15 11h0m1 0h0m5 0h0m0 1h0m1-1h0m0 2h0m1-2h0m1 1h0m1 1h0m0-2h0m2 0h0m2 0h0" stroke="#D3D3D3" stroke-width="3.8" stroke-linecap="round" fill="none"/><path d="M248 1066h0m6-2h0m3 9h0m-28 1h0m13 18h0m-4 9h0m-5-7h0m-18 20h0m2-2h0m28-2h0m78-1h0m-93 12h0m-4 4h0m-7-8h0m-2 14h0m5 7h0m11-5h0m29-2h0m-36 18h0m9 10h0m6 14h0m-6-4h0m-3 2h0" stroke="#C7B5EA" stroke-width="3.8" stroke-linecap="round" fill="none"/><path d="M260 1063h0m33 14h0m-70-6h0m-1 8h0m108 17h0m-14 7h0m-22-7h0m-27 6h0m-34 17h0m-2-3h0m-2 5h0m-17 12h0m25-2h0m-13 15h0m3 17h0m8 0h0m10 8h0" stroke="#BAA7E6" stroke-width="3.8" stroke-linecap="round" fill="none"/><path d="M253 1062h0m55 4h0m-59 8h0m-23-3h0m-5 15h0m6-5h0m5 9h0m72-9h0m-88 28h0m3 4h0m3-7h0m14 0h0m92-1h0m-100 19h0m-4-3h0m-2 4h0m-2-2h0m-1-1h0m13 15h0m1 0h0m-6 16h0m7 15h0m-4 1h0m0-5h0m-3 0h0" stroke="#AD98E2" stroke-width="3.8" stroke-linecap="round" fill="none"/><path d="M230 1097h0m1 13h0m14 0h0m-28 9h0m-3 9h0m2 5h0m13-2h0m9 3h0m1 38h0m-7 6h0" stroke="#A08ADE" stroke-width="3.8" stroke-linecap="round" fill="none"/><path d="M228 1074h0m2 15h0m9 13h0m-8-4h0m-1 2h0m-12-7h0m13 22h0m19 0h0m11 10h0m-42-1h0m-3 8h0m-1 30h0m12 1h0m13 12h0m-13 0h0m-1-6h0" stroke="#8B78D3" stroke-width="3.8" stroke-linecap="round" fill="none"/><path d="M236 1102h0m-5-9h0m-14 13h0m23 0h0m33 7h0m-28 12h0m-8 8h0m6-3h0m1 0h0m1-2h0m14 1h0m-44 24h0m8 3h0m19 5h0m0 3h0m-23 5h0" stroke="#7765C8" stroke-width="3.8" stroke-linecap="round" fill="none"/><path d="M238 1150h0m-9-5h0m3 28h0" stroke="#6253BD" stroke-width="3.8" stroke-linecap="round" fill="none"/><path d="M245 1063h0m0-4h0m0 4h0m1-1h0m0-3h0m1 0h0m1 0h0m0-1h0m1 3h0m0 4h0m0-2h0m0-5h0m0 4h0m1-1h0m0 1h0m0-1h0m0-1h0m1 1h0m0-1h0m1-2h0m0-1h0m1 3h0m0-2h0m1 4h0m1 0h0m0-3h0m0 3h0m1 3h0m0-4h0m0-1h0m1 7h0m0-1h0m0-6h0m0-1h0m0-1h0m0 2h0m1 4h0m0-4h0m1 2h0m1 5h0m0-2h0m1 1h0m0-1h0m44 2h0m0 0h0m2 0h0m1 0h0m7-1h0m7 13h0m-1-6h0m-2 2h0m0-5h0m-1 7h0m0-1h0m-1 1h0m0-2h0m0 0h0m0 3h0m0-3h0m-1-6h0m0 3h0m0-3h0m-1 1h0m0 9h0m-1-5h0m-1-1h0m0-5h0m0 11h0m0-5h0m0 1h0m-1 0h0m-1-2h0m0-5h0m0 7h0m-1-1h0m0-4h0m0-2h0m-1 10h0m0-9h0m0 0h0m-1 8h0m0 1h0m0-5h0m0 1h0m-2 5h0m0-1h0m0-7h0m0-3h0m-1 7h0m0-7h0m-1 8h0m0 2h0m0-8h0m-1 1h0m0 1h0m-1 1h0m0 1h0m0 3h0m-1-2h0m0-3h0m0 4h0m-1 1h0m0-5h0m-1 4h0m0-3h0m0 3h0m0-6h0m-1 3h0m0-3h0m0 1h0m-1 7h0m0 0h0m-1-4h0m0 3h0m-1 2h0m0-7h0m0 1h0m-2 2h0m-2 3h0m-23-4h0m-5-6h0m-2 7h0m0 0h0m0-1h0m0 1h0m-1-6h0m0-1h0m-1 1h0m0 3h0m0 1h0m0-5h0m-1 3h0m0 3h0m0-3h0m0-3h0m-1 2h0m0 3h0m0 0h0m-1-3h0m0 5h0m0 2h0m0-6h0m-1 3h0m-1 4h0m0-3h0m-1-7h0m0 7h0m0-4h0m-1 8h0m-1-8h0m0-1h0m0 7h0m-1-4h0m0 6h0m0-1h0m-2-1h0m-1-6h0m0 5h0m-1-5h0m0 2h0m0 3h0m-1 0h0m-7 2h0m-5 0h0m-2 0h0m0-1h0m-1 0h0m0-2h0m-1 0h0m0 1h0m0-5h0m-1 6h0m0-4h0m-1 3h0m-2-4h0m0 0h0m0 0h0m0 7h0m0-7h0m-1 1h0m0-3h0m0 1h0m0 1h0m0 2h0m0-1h0m0-4h0m-2 10h0m-2 0h0m2 4h0m1 7h0m0-10h0m0 4h0m5 6h0m0-1h0m1-4h0m0 1h0m1 4h0m0-1h0m1-2h0m0 0h0m0 1h0m1-7h0m1 6h0m1-4h0m1 7h0m0-9h0m5 9h0m1 0h0m1 0h0m0-1h0m1 1h0m2-6h0m0 3h0m1-7h0m0 0h0m0 1h0m1-1h0m2 0h0m0 11h0m0-5h0m1-6h0m2 1h0m1-1h0m0 0h0m1 3h0m1-1h0m2-1h0m0-1h0m0 2h0m1 0h0m26 8h0m0-2h0m1 3h0m0-5h0m0-2h0m2 7h0m1-3h0m0-1h0m1 1h0m0-1h0m0-3h0m0 4h0m2 2h0m1 1h0m0-6h0m1 1h0m1-2h0m0 1h0m0-5h0m0 2h0m0 9h0m1-8h0m0 3h0m0-6h0m1 2h0m1 7h0m0 2h0m0-5h0m0-2h0m2 4h0m0-6h0m0-1h0m1 0h0m0-1h0m0 2h0m1 2h0m1-1h0m0 3h0m0 3h0m1-6h0m0 0h0m0-1h0m1 0h0m1 5h0m0-1h0m0-5h0m1 2h0m0-2h0m1 1h0m0-1h0m2 0h0m1 3h0m2 2h0m0 2h0m1-2h0m0 2h0m2 0h0m0-6h0m0 9h0m1-7h0m0-4h0m1 8h0m2 1h0m0-2h0m0-2h0m0-1h0m0 1h0m0 2h0m1 3h0m0-5h0m0-3h0m0 3h0m1 4h0m0-9h0m0 6h0m0-3h0m0 2h0m2 3h0m0-1h0m1-2h0m0-1h0m0 7h0m0-8h0m1 2h0m0-1h0m0 7h0m1-1h0m0-1h0m0-2h0m0 4h0m1 0h0m2 4h0m0-1h0m0 0h0m0 9h0m-1-1h0m0-4h0m0-6h0m0 10h0m0-2h0m-1-2h0m0-3h0m0 1h0m-1 5h0m0-2h0m-1-2h0m-1 4h0m0-6h0m0-2h0m0 7h0m0-8h0m-1 4h0m0-1h0m0-1h0m0 8h0m0 0h0m0-3h0m-1-7h0m0 10h0m0-10h0m0 8h0m0-5h0m0 4h0m0 2h0m-1-6h0m-1 7h0m-1 0h0m0 1h0m0 0h0m-1-7h0m0 0h0m0 2h0m0 0h0m-3 4h0m0 0h0m0-10h0m-1 4h0m0 6h0m-1-5h0m-2-2h0m0 3h0m-1 3h0m-1 1h0m0 1h0m-1-9h0m0 4h0m0-1h0m-1 4h0m0-3h0m-1-4h0m0 9h0m-1-2h0m-1 2h0m0-3h0m-1-2h0m-1 3h0m0-9h0m-1 2h0m-1-1h0m0 7h0m0 0h0m-1-7h0m-1-1h0m0 8h0m0-2h0m-1-5h0m-1 5h0m0 1h0m-1-5h0m-1-2h0m0 1h0m0 2h0m-1 0h0m0-3h0m-1 4h0m0 2h0m-2-6h0m-1 1h0m0 2h0m-1-2h0m-1 5h0m0-6h0m0 7h0m0-7h0m-1 2h0m-3-2h0m-3 5h0m0 0h0m-2 5h0m-31-2h0m-1-7h0m-1 1h0m-1 0h0m-2 7h0m-1-4h0m-2 6h0m-1 0h0m0-4h0m-1-3h0m0 7h0m-1-1h0m0 0h0m0-5h0m-2 6h0m-1-3h0m0-3h0m0-3h0m-1 3h0m0 0h0m0 3h0m0-2h0m-1 3h0m-1 0h0m0-4h0m-1 4h0m0-4h0m-1-5h0m-1 2h0m0 9h0m0-4h0m0-2h0m-1 0h0m-1 2h0m-2-6h0m-1 2h0m-2 5h0m-1-6h0m0 7h0m0 1h0m-2-1h0m0 2h0m0-7h0m-1 7h0m-2 6h0m0-3h0m1 1h0m0 0h0m1 0h0m2 0h0m1 7h0m0-8h0m0-2h0m1 4h0m0-3h0m0 3h0m1-4h0m0 4h0m0 3h0m0 1h0m2 0h0m0-6h0m1 1h0m0 5h0m0-4h0m3 3h0m0 0h0m1 0h0m0 1h0m1-5h0m0-3h0m1 11h0m0-11h0m1 7h0m1-6h0m2 8h0m0-3h0m1-1h0m2 5h0m2-5h0m0 4h0m0-4h0m1-5h0m1 3h0m1 5h0m2-6h0m0 5h0m1-1h0m1 1h0m2-6h0m1 8h0m1 2h0m1-2h0m0-1h0m9-5h0m2-1h0m0 3h0m0 2h0m1-6h0m1-1h0m8 11h0m35-8h0m2 2h0m1-4h0m3-1h0m2 3h0m3 4h0m0 2h0m1-6h0m0 1h0m1-2h0m1 5h0m1-7h0m0 4h0m1-4h0m0 2h0m0 0h0m0 7h0m1-8h0m0 0h0m0 7h0m0-3h0m0 2h0m0-4h0m1 6h0m1-1h0m1-5h0m0-1h0m0 0h0m0 2h0m3 5h0m0-9h0m2 11h0m-4 2h0m-2-1h0m-53 1h0m-1 3h0m-9 6h0m0-1h0m-2-2h0m0 3h0m-6 0h0m-1-1h0m-3-6h0m-4 6h0m-2-7h0m-1 5h0m-2-6h0m0-1h0m0 4h0m-1-1h0m-1 6h0m-1 0h0m-1-9h0m0 6h0m0 1h0m0-7h0m-1 7h0m0-4h0m0-3h0m0 0h0m-1 9h0m0-5h0m0 7h0m-1-11h0m0 9h0m-1-7h0m0-1h0m0 4h0m0 6h0m-1-10h0m0 9h0m-1-8h0m-1 2h0m0 1h0m-1-4h0m-1 6h0m-2-4h0m-3 2h0m-1-5h0m-1 8h0m-1-6h0m0 6h0m-1 0h0m0-1h0m0 1h0m0-4h0m-1 1h0m-1-5h0m-1 3h0m0 6h0m-1-9h0m0 2h0m-1 7h0m-2-3h0m0 10h0m1 1h0m0 4h0m0 1h0m1 0h0m0-8h0m1 9h0m0-9h0m0 6h0m1-7h0m1 5h0m1-1h0m1 4h0m1-7h0m0 1h0m0 4h0m0 1h0m1 3h0m1-2h0m0-8h0m1-1h0m1 5h0m0 5h0m1-6h0m1-3h0m0 4h0m2 0h0m0-4h0m2 4h0m1 3h0m0-3h0m1 2h0m0 0h0m0 0h0m1 0h0m0-7h0m0 1h0m0 2h0m1 4h0m0-6h0m0 5h0m0-4h0m0 9h0m1-9h0m0 9h0m1-10h0m0 1h0m0 2h0m0-1h0m1-3h0m2 2h0m0-2h0m0 1h0m0-1h0m0 2h0m0-1h0m2 10h0m1-5h0m0 0h0m1-6h0m1 0h0m0 4h0m0-3h0m10 5h0m1 1h0m1-1h0m0-6h0m1 0h0m1 0h0m0 3h0m2 1h0m31 18h0m-52 0h0m0 1h0m-1-3h0m-1-8h0m0 6h0m-1-5h0m0 8h0m-1 0h0m-1-8h0m-1 7h0m0 3h0m-1-11h0m-1 3h0m-1 8h0m-1-1h0m-1-10h0m-1 10h0m0 0h0m-1 0h0m-1-7h0m0 3h0m0-1h0m-2-3h0m0 0h0m0 3h0m0 6h0m0-7h0m-2 6h0m-1-6h0m0 0h0m-1-2h0m-1 1h0m0 2h0m-1-1h0m0-1h0m0 4h0m-1-7h0m-1 6h0m-2 5h0m0-11h0m-2 4h0m1 11h0m0 1h0m2 7h0m1 0h0m0-10h0m1 4h0m0 0h0m0 6h0m0-7h0m1 2h0m0 5h0m1-6h0m0-2h0m1 8h0m2-7h0m2 2h0m1 4h0m1-7h0m0-2h0m0 9h0m1-3h0m1-2h0m0-2h0m1 3h0m1 5h0m0-6h0m0 1h0m1-4h0m1 1h0m1 1h0m0 5h0m1-3h0m0 0h0m1 4h0m1-3h0m2-7h0m1 2h0m1 1h0m1 3h0m0-3h0m1 3h0m1 3h0m0 3h0m-1 1h0m-1 8h0m-2-5h0m0 6h0m0 0h0m-1 1h0m0-7h0m0 6h0m0 1h0m0-4h0m-1-2h0m-2 0h0m-1 3h0m0-4h0m-1 4h0m0-5h0m-1 8h0m-1-1h0m-1-1h0m0-6h0m-1 7h0m-1-10h0m0 9h0m-1 1h0m0-9h0m-2 1h0m0-2h0m0 0h0m-1 10h0m-1 0h0m-2-1h0m0-3h0m-1 0h0m-1-3h0m0-3h0m-1 1h0m-1 0h0m-3 0h0m17 11h0m1 1h0m0-1h0m1 1h0m1 1h0m3 0h0m3 0h0m1-1h0m0 0h0m1-1h0m1 2h0" stroke="#D3D3D3" stroke-width="3.8" stroke-linecap="round" fill="none"/><path d="M256 1063h0m51 14h0m-5 2h0m-62 9h0m76 0h0m-95 24h0m2-4h0m21-2h0m6 12h0m-1 3h0m-31-1h0m-2-3h0m-3 15h0m1 0h0m15 7h0m14-11h0m-22 22h0m0-9h0m4 22h0m5 12h0m12 2h0" stroke="#C7B5EA" stroke-width="3.8" stroke-linecap="round" fill="none"/><path d="M250 1064h0m-23 27h0m4-11h0m69 8h0m15-4h0m8 2h0m-91 11h0m-11-5h0m-1 11h0m-3-1h0m-2 8h0m1-4h0m1 3h0m5-1h0m16-1h0m15 4h0m-36 21h0m1-1h0m1-3h0m11 0h0m27 5h0m-27 10h0m-7 5h0m-3-7h0m-5 22h0m5-5h0" stroke="#BAA7E6" stroke-width="3.8" stroke-linecap="round" fill="none"/><path d="M288 1089h0m-68 13h0m0 3h0m19 3h0m8 17h0m-3-1h0m-9 0h0m-2-3h0m-16 0h0m-2 11h0m10 7h0m3-10h0m3 6h0m2-4h0m11-1h0m14 3h0m-26 22h0m7 4h0m-4 10h0m-13-1h0" stroke="#AD98E2" stroke-width="3.8" stroke-linecap="round" fill="none"/><path d="M219 1085h0m4 6h0m11 7h0m-2-2h0m4 10h0m3 19h0m-12-5h0m-1 4h0m-6 11h0m12 8h0m-3 15h0m3-1h0m3 0h0m4-4h0m0 0h0m-9 13h0m0 5h0" stroke="#A08ADE" stroke-width="3.8" stroke-linecap="round" fill="none"/><path d="M243 1100h0m-7-2h0m-2 0h0m-16-3h0m9 12h0m2 4h0m16 1h0m2-6h0m-34 27h0m4 2h0m10 0h0m0 6h0m-5 8h0m-8-6h0m4 13h0" stroke="#8B78D3" stroke-width="3.8" stroke-linecap="round" fill="none"/><path d="M246 1090h0m-17 29h0m4 10h0m-2 17h0m0 5h0m-12-10h0m-1 14h0m0 8h0m26-1h0" stroke="#7765C8" stroke-width="3.8" stroke-linecap="round" fill="none"/><path d="M218 1127h0m22 30h0" stroke="#6253BD" stroke-width="3.8" stroke-linecap="round" fill="none"/><path d="M198.3 1042.5V1193.0H344.0" fill="none" stroke="#111" stroke-width="1.5"/><path d="M469 1058h0m1 0h0m1 7h0m0-8h0m0 1h0m1 6h0m0-5h0m1 4h0m0-4h0m0-1h0m0 9h0m0-8h0m1 8h0m0-1h0m0-4h0m0-1h0m0-2h0m2 7h0m0-4h0m0 5h0m0-2h0m1 1h0m0-3h0m1 2h0m44 2h0m2 0h0m3 0h0m2-1h0m0 1h0m7 11h0m-1-1h0m-1 1h0m0-2h0m-1-1h0m-3-2h0m0 1h0m-2 0h0m0 5h0m-4-1h0m-1 1h0m-4-6h0m-1 1h0m-1-2h0m0-1h0m-1 7h0m0 0h0m-3-3h0m0-1h0m-1 5h0m-2-4h0m-31-2h0m0 1h0m-1 1h0m-1 0h0m-1 0h0m0-5h0m-1 4h0m-1-1h0m0 0h0m-1 0h0m0 0h0m-1 4h0m-1 1h0m-1-3h0m-32 3h0m6 6h0m5 7h0m21-11h0m1 3h0m1-2h0m2 0h0m0 1h0m30 0h0m1 0h0m0-2h0m1 8h0m2 2h0m2 0h0m0-3h0m0-5h0m5 8h0m4-9h0m2 1h0m0 0h0m1 4h0m1-6h0m1 0h0m0 2h0m3 2h0m1 1h0m0-5h0m2 0h0m2 11h0m1-8h0m3 2h0m0 0h0m3 1h0m0-1h0m1-1h0m1 0h0m0 7h0m1-5h0m1 3h0m0-2h0m2 4h0m0 11h0m0-9h0m-1 1h0m0 1h0m-1 4h0m-3-6h0m0-1h0m-1 3h0m-1-1h0m-1 0h0m-1 8h0m0 0h0m-1-2h0m0 3h0m-1-6h0m-1 6h0m-2-1h0m0 0h0m0-4h0m-6-3h0m0 3h0m0-1h0m-2-1h0m0 2h0m0 2h0m-1-4h0m-3-3h0m-3 2h0m-1-3h0m-1 1h0m-3 3h0m0 2h0m-1-5h0m-1 5h0m-3-4h0m-4 4h0m0-3h0m-39 5h0m-8 3h0m-4-9h0m-2 3h0m-1-1h0m-4 1h0m-9-4h0m3 17h0m12-4h0m17 9h0m9-8h0m60 1h0m1-1h0m0 4h0m2-7h0m1 2h0m0 0h0m0 3h0m2 1h0m5 4h0m1-6h0m1 6h0m-6 2h0m0 0h0m-90 7h0m-2-1h0m-2-2h0m-17 10h0m1 2h0m3-4h0m8 7h0m1-1h0m5 3h0m8-9h0m18 3h0m1 1h0m-23 17h0m-2-9h0m-6 10h0m-2 0h0m-5-2h0m-5-8h0m-1 2h0m6 14h0m13 5h0m2-1h0m5 4h0m-22 9h0m17 3h0" stroke="#D3D3D3" stroke-width="3.8" stroke-linecap="round" fill="none"/><path d="M471 1058h0m4 2h0m2 7h0m45 0h0m7 0h0m6 8h0m-5-7h0m0 2h0m-2 1h0m-2-2h0m-2 5h0m-8-1h0m-1 0h0m-36 2h0m-1-4h0m-4 0h0m0 3h0m-1-2h0m-1-4h0m0 3h0m-3 8h0m1 1h0m1 1h0m3 0h0m26 8h0m2-3h0m4 1h0m1-7h0m2 11h0m0-3h0m1 1h0m1-4h0m0-5h0m0 2h0m3 9h0m1-4h0m0 4h0m2-11h0m2 9h0m2-8h0m0 1h0m2-1h0m10-1h0m0 2h0m7 0h0m7 21h0m-2-1h0m-1-10h0m-1 8h0m-4 3h0m-3-1h0m-1 0h0m0-1h0m0-6h0m-4 1h0m-6 0h0m-6 2h0m-1-2h0m-5-1h0m-2-2h0m-5 0h0m0 2h0m-2 6h0m-4-9h0m26 15h0m1-2h0m1 1h0m4 0h0m0 1h0m3 4h0m9-4h0" stroke="#C7B5EA" stroke-width="3.8" stroke-linecap="round" fill="none"/><path d="M469 1067h0m1-5h0m1 5h0m0-3h0m4-3h0m0 0h0m2 6h0m1-1h0m0-4h0m54 5h0m0 2h0m-1 4h0m-1-3h0m-1 8h0m-2-9h0m-3 8h0m-5-6h0m-3 5h0m-4 3h0m-35-4h0m-1-7h0m-1 3h0m-2-1h0m-3 0h0m-1-2h0m0 1h0m32 15h0m7 6h0m8-10h0m1 8h0m3-5h0m0 1h0m6-4h0m1 0h0m11 6h0m1 5h0m1-9h0m2 6h0m1 2h0m2 5h0m-1 1h0m-4 5h0m-1 0h0m0-1h0m0-1h0m-4-3h0m-1 0h0m-3 7h0m-4-1h0m-1 1h0m-7-2h0m-1-9h0m-1 8h0m-2-8h0m-11 0h0m-7 5h0m-51 7h0m80 2h0m18 0h0m-113 33h0m2-3h0m18-5h0m1 0h0m5 20h0m-4-11h0m-10 3h0m0 0h0m-4 6h0m-2-5h0m-1 1h0m-1-2h0m-4 0h0m5 10h0m5-1h0m15 2h0m0-1h0m2 0h0m-2 21h0m-11-10h0m4 12h0" stroke="#BAA7E6" stroke-width="3.8" stroke-linecap="round" fill="none"/><path d="M469 1058h0m1 2h0m0-2h0m4 8h0m64 13h0m-4-3h0m-5 3h0m-1-4h0m-4-6h0m-7 7h0m-1 2h0m-2-5h0m-2 5h0m-32-9h0m-2 6h0m-2-6h0m-4 9h0m-1-1h0m-1-9h0m-24 8h0m-5-7h0m-1 5h0m-2 12h0m3 4h0m1-10h0m6 8h0m0-8h0m2 6h0m1-2h0m8 1h0m7 6h0m7-9h0m31 5h0m6-1h0m0 0h0m5 0h0m9 0h0m4 2h0m1 0h0m1-1h0m2-7h0m2 8h0m3-3h0m1 0h0m7 7h0m-1 6h0m-4-5h0m-1 9h0m0-10h0m-2 10h0m0-2h0m-2-2h0m-15-2h0m-3 2h0m-2 2h0m-5-2h0m0-6h0m-8 5h0m-1-5h0m-44 9h0m-2 0h0m0-2h0m-2-6h0m-5 3h0m0-3h0m-1 6h0m-3 0h0m-11 4h0m-4 7h0m3 5h0m2-2h0m0-6h0m2 6h0m0-3h0m3-4h0m7 9h0m8-1h0m6-8h0m1 5h0m1-1h0m1 4h0m7-10h0m18 10h0m36-7h0m9-2h0m1 6h0m3-5h0m2-2h0m0 4h0m7 5h0m3 2h0m-5 2h0m-55 0h0m-20 4h0m-6-5h0m-3 0h0m-4 6h0m-3-1h0m0-1h0m-5 3h0m-2-2h0m-1-3h0m0 5h0m-2 2h0m0-1h0m-3-2h0m-2-4h0m-2 4h0m-1 4h0m-4-7h0m-1 3h0m-1 13h0m5 2h0m14-1h0m2-3h0m0 2h0m1-5h0m0 0h0m1 8h0m0-1h0m1 2h0m1-8h0m1 0h0m5 1h0m0 2h0m1-2h0m-6 18h0m-2-2h0m-4-8h0m0 3h0m-10 3h0m-1 0h0m-3-1h0m-1-1h0m0-1h0m-2 4h0m-2 9h0m1 7h0m2-10h0m2 2h0m3 7h0m5-3h0m1 1h0m0 0h0m5-4h0m2 2h0m0 0h0m11 14h0m-7 2h0m0-7h0m-3 1h0m-2 1h0m-1-1h0m-3 6h0m-3-10h0m-2 10h0m-6-4h0m13 6h0m1 1h0" stroke="#AD98E2" stroke-width="3.8" stroke-linecap="round" fill="none"/><path d="M462 1063h0m1-5h0m3 3h0m2 1h0m67 14h0m-5-4h0m-2 3h0m-1 2h0m-4 1h0m-1-4h0m0-5h0m-3 4h0m0 1h0m-2-2h0m0 6h0m-2-4h0m0 4h0m-2-1h0m-46 2h0m-1-4h0m0-2h0m-1 6h0m-1 0h0m0 0h0m-1-3h0m-14 3h0m-1-1h0m-1-1h0m0 0h0m-2-4h0m-3 3h0m-1-3h0m0-1h0m0-1h0m0 9h0m2 3h0m1-3h0m1 1h0m4 3h0m2-4h0m12 1h0m0 0h0m1-1h0m38 7h0m10-1h0m2 5h0m12-4h0m0-7h0m5 8h0m6-1h0m3-4h0m0 4h0m6 7h0m-2 0h0m-3 8h0m0-10h0m-2 7h0m-1 1h0m-9-3h0m-3-1h0m-2 7h0m0-6h0m-4 5h0m-4-8h0m-60 8h0m0-1h0m0-8h0m-1 7h0m-6-3h0m-3 6h0m0-6h0m-8-5h0m-3 22h0m1-6h0m1-1h0m3 7h0m1-2h0m2-4h0m5-2h0m0 8h0m1 1h0m2-5h0m0 0h0m1-4h0m4 3h0m5 0h0m3-3h0m5 7h0m9-8h0m14 3h0m52-3h0m-72 21h0m-1-8h0m-3-2h0m-10 0h0m0 2h0m-4-1h0m-2 4h0m-1-4h0m-1 5h0m-1-4h0m-10 7h0m-2-8h0m-1 6h0m0-2h0m-1 6h0m-1-8h0m0 6h0m-2-9h0m-3 16h0m2 4h0m1-7h0m3-1h0m1 4h0m2-2h0m4 2h0m4-2h0m0 1h0m1-3h0m2 7h0m3 4h0m2-10h0m4 2h0m2-1h0m1 0h0m13 1h0m0 3h0m1-3h0m-17 20h0m-7-11h0m-1 7h0m-1-4h0m-2 3h0m-2-2h0m0 7h0m-1-8h0m0 5h0m-3-4h0m-1 7h0m-4 0h0m-2-2h0m-1-3h0m-2-6h0m-1 15h0m4 8h0m1-1h0m1-5h0m1-5h0m4 8h0m0 1h0m2 2h0m0-3h0m5-5h0m2 4h0m6-6h0m5 14h0m-2-1h0m-1 7h0m-1 2h0m-5-8h0m-4 7h0m6 4h0m3 0h0m2-1h0" stroke="#A08ADE" stroke-width="3.8" stroke-linecap="round" fill="none"/><path d="M461 1063h0m3-2h0m0 0h0m3 3h0m1-2h0m0-2h0m58 7h0m13 8h0m-3 3h0m-3 0h0m-6-8h0m-5 5h0m-2 3h0m-1 0h0m-8-5h0m-43-1h0m-1 0h0m-2 5h0m0-6h0m0 6h0m-2-6h0m-1 3h0m-17-1h0m-1 2h0m-1 2h0m0-1h0m-2-4h0m-5 14h0m0-1h0m2-3h0m8 7h0m1-2h0m5 3h0m0 0h0m10-10h0m0 10h0m1 0h0m0-10h0m0 0h0m42 5h0m8-3h0m6 1h0m0-1h0m17 8h0m3 0h0m7 9h0m-8-6h0m-2-1h0m-32 0h0m-41 11h0m-8-2h0m0-2h0m0 4h0m-1-7h0m-1 6h0m-5-1h0m0 0h0m0 2h0m-1 0h0m0-6h0m-4-1h0m-1 3h0m-4-4h0m-1 7h0m-1 0h0m-1-10h0m-3 16h0m1-1h0m0 2h0m1 1h0m2-3h0m2 5h0m8 2h0m7-8h0m2 0h0m2 1h0m4 4h0m0-5h0m1 2h0m1 3h0m27 10h0m-13 6h0m-10-9h0m-9 1h0m-6 5h0m-2-5h0m-4 4h0m0-1h0m-1 2h0m0-3h0m-2-2h0m-7-3h0m0 8h0m-1-2h0m-6 11h0m0 1h0m3-4h0m5 1h0m2-2h0m0 10h0m0-2h0m12-1h0m4 2h0m0-10h0m20 5h0m-27 10h0m0 8h0m-2-6h0m-2-4h0m-1 8h0m-3-2h0m-2-2h0m-4 0h0m-3 5h0m-1-2h0m0 3h0m4 6h0m7 1h0m1 2h0m0 2h0m1-1h0m15 1h0m0-10h0m0 9h0m0 14h0m-2-9h0m-1 0h0m0 8h0m-3-10h0m0 10h0m-5-3h0m-5-7h0m-8 1h0m23 12h0m2-1h0" stroke="#8B78D3" stroke-width="3.8" stroke-linecap="round" fill="none"/><path d="M462 1059h0m0 3h0m4 3h0m0 1h0m0-4h0m1 2h0m1-1h0m0 14h0m0 0h0m-2-9h0m0 10h0m0 1h0m0-1h0m-3-5h0m-17 1h0m-3-3h0m-1 2h0m0-1h0m-5 7h0m-2 5h0m2 4h0m1 2h0m1-7h0m1 1h0m3 6h0m6-6h0m2 6h0m0-9h0m1 0h0m10 9h0m1-7h0m5-3h0m-5 20h0m-2-5h0m-6 7h0m0-1h0m0-4h0m-3 5h0m-4-4h0m-2 2h0m-11-6h0m-1 12h0m1 5h0m1 2h0m3-1h0m5-6h0m2-2h0m4 0h0m0 9h0m5-6h0m0 3h0m2 5h0m11-3h0m0-1h0m10-4h0m14 3h0m-16 16h0m-8-10h0m-9 1h0m-2 3h0m-2 3h0m-2 2h0m-1 0h0m-2-6h0m-3 4h0m0-3h0m-1-3h0m0 4h0m-3 4h0m-2-3h0m-2 3h0m-1-1h0m-1-6h0m0 5h0m-7-3h0m0 17h0m1-5h0m1-2h0m1-2h0m5 3h0m3 2h0m2-2h0m0 2h0m5 0h0m2 2h0m0 0h0m2 2h0m2-7h0m1 0h0m1 0h0m1-2h0m20 0h0m-21 20h0m-1-8h0m-4 1h0m-3 7h0m0 3h0m-2-8h0m-4 1h0m-3 3h0m-3-4h0m0-1h0m-2 5h0m-1-4h0m-1 20h0m3-5h0m3-1h0m1 6h0m0-7h0m2 7h0m8-8h0m3 7h0m3-3h0m0 1h0m0 1h0m0-9h0m3 6h0m0 12h0m-4 5h0m-6 0h0m-2-8h0m0 1h0m-2-4h0m-4 10h0m14 4h0m1-2h0m3 0h0" stroke="#7765C8" stroke-width="3.8" stroke-linecap="round" fill="none"/><path d="M445 1076h0m0-2h0m-1 10h0m1 5h0m14 1h0m5-9h0m20 21h0m-32-5h0m-1-1h0m-2 7h0m-2-2h0m-6-7h0m-10 12h0m6 2h0m1 4h0m0 0h0m2 0h0m3-1h0m2-4h0m2 2h0m3 2h0m25 1h0m3 14h0m-34-3h0m-1-3h0m-13 5h0m-1 7h0m2-4h0m1 4h0m1 7h0m0-8h0m2 4h0m3-5h0m6 3h0m2-1h0m0-3h0m1 7h0m8-2h0m2-4h0m-3 10h0m-8 4h0m-3 5h0m-2-7h0m-1 8h0m-4-9h0m-1 6h0m-5 2h0m0 6h0m2-2h0m6-1h0m14 11h0m5 2h0m-2 10h0m-5 0h0m0-8h0m-3 0h0m-10-3h0m-2 1h0m24 13h0" stroke="#6253BD" stroke-width="3.8" stroke-linecap="round" fill="none"/><path d="M469 1063h0m2 3h0m0-1h0m2-2h0m0 2h0m0-5h0m0-1h0m1 6h0m0-5h0m0 0h0m0 0h0m1 1h0m1 5h0m0-1h0m2-1h0m0 2h0m0 0h0m47 0h0m2 1h0m5-1h0m4 9h0m-1-3h0m-4 3h0m-1-7h0m0 1h0m-1-1h0m-2 2h0m-2 1h0m-2 3h0m-1-4h0m-1 5h0m-1 0h0m0-7h0m0 3h0m0 1h0m-1 5h0m0-3h0m-2 3h0m0-7h0m0 1h0m-1 6h0m-2-7h0m-1 2h0m-1 0h0m-4 7h0m-30-3h0m-2-7h0m0 4h0m-1-3h0m0 4h0m0-2h0m-2-1h0m-1 4h0m-1 1h0m0 2h0m0-2h0m0-5h0m-1 4h0m-30 8h0m1 1h0m29-4h0m2 2h0m2-2h0m1 2h0m24 9h0m3-8h0m1 8h0m0-6h0m1 4h0m0-6h0m2 5h0m3-7h0m0 4h0m5 4h0m0 0h0m0-6h0m3-3h0m0 0h0m0 2h0m2 1h0m2 3h0m1 0h0m0-3h0m0 4h0m5-1h0m6 2h0m3-1h0m0-3h0m1 1h0m0 1h0m1-6h0m0 5h0m1-5h0m0 3h0m0-3h0m1 3h0m1 1h0m2 6h0m4 12h0m-1-1h0m-1-4h0m0 0h0m0 3h0m-2 1h0m0-5h0m-2-4h0m0 10h0m0-2h0m-2 2h0m-4 1h0m-1-2h0m-1 0h0m-5-6h0m0 3h0m-2 4h0m-2-6h0m-3 5h0m-2-1h0m0 2h0m-1-10h0m-1 1h0m0 2h0m0 5h0m-1-7h0m-2-1h0m-1 4h0m-2 3h0m-1-7h0m0 3h0m-1 0h0m-4-2h0m0 5h0m-1 0h0m-3-3h0m-6 7h0m-37 0h0m-16-4h0m-11 16h0m5-10h0m2 0h0m19 2h0m65 0h0m5 2h0m8 5h0m2-5h0m3-3h0m0 4h0m4 0h0m1 6h0m-77 4h0m-14 3h0m-4 4h0m-10-5h0m-4 7h0m3 2h0m4 3h0m2-4h0m17-1h0m15 4h0m-25 9h0m-8-1h0m-2 9h0m-10-3h0m27 18h0m-8 11h0m-18-10h0m23 13h0" stroke="#D3D3D3" stroke-width="3.8" stroke-linecap="round" fill="none"/><path d="M469 1057h0m5 1h0m47 9h0m7 0h0m10 6h0m-4 2h0m0 3h0m-4-3h0m-1 2h0m0-8h0m-2 4h0m-4-3h0m-5 9h0m-5-1h0m-1-6h0m0 0h0m-32-4h0m-3 7h0m0-7h0m-2 3h0m-1 7h0m-3 3h0m31 5h0m4 1h0m3 3h0m1-6h0m3 5h0m24 1h0m3-2h0m1 0h0m5 15h0m-3-8h0m-1 2h0m-2 5h0m-7 1h0m-10 0h0m-3 0h0m-2-11h0m-2 0h0m0 1h0m-6 3h0m-4-1h0m-1 1h0m21 10h0m4-2h0m11 5h0m6 5h0" stroke="#C7B5EA" stroke-width="3.8" stroke-linecap="round" fill="none"/><path d="M470 1062h0m1-5h0m1 4h0m1 4h0m0-6h0m1 6h0m65 11h0m-1-1h0m0-1h0m-6 2h0m-3-3h0m-2 1h0m-2 1h0m0-2h0m-2 6h0m-2-3h0m0-3h0m-3 6h0m0-2h0m-4-4h0m-4 6h0m-33-5h0m-3-3h0m-1 1h0m-3 7h0m5 3h0m29 5h0m0-2h0m2 0h0m10-4h0m9 6h0m2-3h0m5 2h0m2 2h0m8 0h0m5 15h0m-2-9h0m-1 8h0m-5 1h0m-4-5h0m-1-3h0m-2 3h0m-8 3h0m-4-8h0m-3 8h0m-4-3h0m-3-3h0m-1 1h0m-2-4h0m-1 0h0m-1 1h0m-16 6h0m-55 2h0m93 7h0m15 5h0m1-6h0m-112 28h0m2-2h0m8-5h0m10 4h0m2 6h0m-10 8h0m-3-2h0m-9 18h0m4-7h0m21 17h0m-12 3h0m-2-11h0m-8 2h0m17 12h0" stroke="#BAA7E6" stroke-width="3.8" stroke-linecap="round" fill="none"/><path d="M470 1057h0m1 10h0m1-4h0m1-4h0m2 5h0m4 2h0m45 1h0m4-1h0m5 3h0m-1 3h0m-7 5h0m0 2h0m-3-11h0m-4 1h0m-2 4h0m-6 4h0m0 0h0m-36-4h0m-1-3h0m-1 8h0m-2-3h0m-1 1h0m-27 3h0m0-9h0m-5 13h0m2-3h0m1 0h0m1 2h0m1 7h0m8 1h0m0-6h0m2-3h0m1 7h0m5 2h0m12-9h0m3-1h0m0 3h0m0 0h0m28 5h0m8-2h0m0 1h0m6-4h0m1-2h0m5 2h0m9 3h0m0-3h0m1 5h0m1-6h0m3 2h0m6 6h0m1-5h0m0 4h0m-1 6h0m-7 2h0m-8 5h0m-9-6h0m-5-1h0m-2 0h0m-7-2h0m0 2h0m-1-3h0m-4 3h0m-37-1h0m-6 9h0m-4-7h0m-1 6h0m0-2h0m-1 1h0m0-1h0m0-3h0m-1 1h0m-3 1h0m-2-5h0m-11 1h0m-1 14h0m1-2h0m0 7h0m2-2h0m1 2h0m1-1h0m2-2h0m5-4h0m1 0h0m5 8h0m7-11h0m1 6h0m0-3h0m2 7h0m0 1h0m2-2h0m8 0h0m10-7h0m10 5h0m39-4h0m4 1h0m9-3h0m4-1h0m-1 12h0m-2 0h0m-64 7h0m-2-7h0m-1 11h0m-2-2h0m-15 0h0m-4-9h0m-1 3h0m0 3h0m-3-4h0m0 0h0m-4 1h0m-1 2h0m-4 0h0m-2-4h0m-4 0h0m-2 16h0m1 1h0m1 0h0m1 3h0m1-6h0m2-1h0m1 0h0m0 9h0m2-1h0m1-9h0m2 2h0m2-2h0m0 10h0m2-2h0m1-4h0m7-3h0m2 3h0m2-5h0m1 2h0m12 5h0m4-5h0m53 12h0m-83 6h0m0 3h0m-1-1h0m-1-9h0m-1 1h0m-3 7h0m-4-4h0m0 2h0m0-3h0m-1-2h0m-8 1h0m1 18h0m4-5h0m0 7h0m2-11h0m8 5h0m10 0h0m6 4h0m0-2h0m-2 13h0m-3 3h0m-2-6h0m-4 4h0m0-2h0m-1 0h0m-7-5h0m-7 3h0m18 9h0m5-1h0" stroke="#AD98E2" stroke-width="3.8" stroke-linecap="round" fill="none"/><path d="M461 1061h0m2 1h0m1 4h0m4-5h0m0-1h0m59 6h0m10 13h0m0 0h0m-9-11h0m-3 0h0m-1 6h0m-1-3h0m-1 4h0m-6-2h0m-1-3h0m-2 9h0m0-5h0m-3 4h0m-25-4h0m-40-2h0m0-1h0m-4 2h0m-2 6h0m-2 6h0m2-1h0m0-1h0m5-2h0m7 10h0m3-9h0m0 1h0m50 5h0m1-5h0m6 8h0m2-5h0m2-3h0m0-2h0m0 1h0m6-1h0m2 2h0m1 4h0m5-2h0m4-4h0m1 6h0m2 2h0m2-3h0m0-3h0m1 5h0m4 0h0m4 15h0m-3-3h0m-2-1h0m-2 0h0m-1-4h0m0-1h0m-4 2h0m-2-1h0m-1 6h0m-1-4h0m-12 3h0m-2-2h0m-4-2h0m-1 2h0m-3-6h0m-3 0h0m-1 6h0m-1-6h0m0 7h0m-3-4h0m-41-1h0m-11 3h0m-2-5h0m-4 11h0m-7 0h0m-1-11h0m0 10h0m-1 1h0m-2-1h0m1 3h0m3 0h0m0 9h0m2-6h0m0 5h0m1 2h0m4-8h0m1 4h0m1-5h0m0-2h0m2 3h0m2 7h0m3-2h0m4 3h0m5-5h0m6 1h0m9 2h0m14 0h0m45-2h0m5 2h0m1-8h0m-65 21h0m0-1h0m-5 0h0m-4-3h0m-2 0h0m-4 1h0m-9-2h0m-4 0h0m-2-1h0m-1 3h0m-1-3h0m0 7h0m-1-3h0m-1 2h0m-3-1h0m-3-2h0m-1-7h0m-2 5h0m-2-5h0m-1 12h0m4 4h0m1 1h0m1-2h0m4 6h0m1-1h0m1 2h0m1-10h0m0 4h0m3 7h0m2-2h0m6-6h0m6-3h0m2 1h0m10 5h0m1-1h0m4-2h0m-20 19h0m-1 1h0m-4-1h0m-5-10h0m-1 0h0m-5 2h0m0 4h0m-1-4h0m-2 2h0m0-3h0m-2 0h0m-2 2h0m0 1h0m-4 7h0m3 10h0m2 2h0m1-6h0m0 5h0m9-7h0m1 3h0m0 0h0m0 4h0m1-4h0m1-5h0m4 8h0m9 10h0m-2-1h0m-6-2h0m-1 1h0m0 0h0m-1 3h0m-5-8h0m-3 1h0m-8 2h0m0-3h0m-2 1h0m19 12h0m1 1h0m4 0h0m1-2h0m4 0h0" stroke="#A08ADE" stroke-width="3.8" stroke-linecap="round" fill="none"/><path d="M461 1062h0m2-3h0m1 7h0m1-6h0m0 6h0m1-5h0m1 0h0m0 6h0m0-7h0m68 17h0m-2-6h0m-4 4h0m-6 3h0m-6-9h0m-4 4h0m-6 5h0m-40-8h0m0-2h0m-1 6h0m-2-6h0m0 9h0m0-2h0m-1-2h0m-23-3h0m-1 6h0m2 13h0m8 1h0m4-8h0m3 7h0m9-9h0m1 1h0m0 0h0m2-1h0m0 2h0m0-1h0m36 8h0m12-1h0m0-7h0m7 1h0m1 3h0m7-1h0m5-3h0m2 8h0m2-2h0m1 14h0m-1-5h0m0-3h0m0 2h0m-1 6h0m-1-6h0m-6 8h0m-6-5h0m-3-1h0m-6-2h0m-33 7h0m-25-2h0m-1 1h0m-1-4h0m-2 5h0m-3-4h0m-2-4h0m-1 1h0m-1 3h0m-1 4h0m0-5h0m-1 4h0m-1-6h0m-3 3h0m-6 3h0m-3 1h0m1 3h0m1 7h0m2-7h0m2 3h0m1-2h0m1 4h0m0-3h0m1 3h0m5 1h0m2 2h0m2-4h0m3 5h0m1-6h0m1 5h0m2-3h0m1 4h0m2-4h0m1-3h0m3-2h0m14 2h0m9 8h0m1-1h0m42-10h0m10 8h0m0 3h0m3-11h0m0 2h0m2 5h0m-66 15h0m-16-1h0m-3-7h0m-2 2h0m-6 4h0m-1-3h0m0 6h0m-3-9h0m-3 2h0m-6 0h0m-4 3h0m0-7h0m0 1h0m-1 1h0m-3 0h0m0 12h0m0 8h0m1-7h0m5 2h0m15 6h0m20-4h0m1-2h0m2-5h0m-20 19h0m-1 2h0m-3-8h0m-1 10h0m-4-3h0m-2-8h0m-3 6h0m-2-5h0m-5 2h0m-1 3h0m-3-2h0m0 4h0m0 3h0m1 7h0m2 1h0m5-3h0m3 6h0m6-8h0m1 7h0m2-2h0m10 3h0m0 8h0m-2-5h0m-1 5h0m-2 5h0m-8-8h0m0 0h0m-1 3h0m0 4h0m-3-9h0m-1 4h0m0 3h0m-3-6h0m-9-1h0m17 11h0m2 0h0m4 1h0" stroke="#8B78D3" stroke-width="3.8" stroke-linecap="round" fill="none"/><path d="M461 1062h0m1 1h0m0-2h0m1 0h0m1-1h0m1 3h0m1-7h0m1 6h0m-1 6h0m0 11h0m-1-4h0m0 4h0m-2-8h0m0-2h0m0-1h0m0 5h0m-1 3h0m0 0h0m0-3h0m-9 4h0m-8-2h0m-9 10h0m1 0h0m2 6h0m1 0h0m11-8h0m15-3h0m0 6h0m2-5h0m-10 11h0m-2 8h0m0 2h0m-1-6h0m0 4h0m0 2h0m-2-4h0m-3 1h0m-1-1h0m-1-1h0m-1-3h0m-1 8h0m-1-8h0m-13 20h0m1-8h0m5 5h0m3-6h0m3 6h0m0 1h0m1-1h0m2 4h0m1-9h0m1-1h0m2 8h0m4-8h0m2 5h0m5 2h0m15 13h0m-13 0h0m-7 0h0m-2-2h0m-1 0h0m-3-7h0m-1 1h0m-2 0h0m-2-1h0m-1 2h0m-1 2h0m-5 1h0m0 5h0m-2-2h0m-1 0h0m-5 2h0m-1 7h0m6 2h0m3-7h0m7 2h0m2 1h0m1 1h0m1 3h0m0-7h0m0 4h0m1 5h0m0-3h0m23-6h0m1 4h0m0-1h0m1-3h0m-18 21h0m-3-3h0m-4 2h0m-3 3h0m-4-3h0m-2-3h0m-5-3h0m-6 3h0m0 8h0m4 10h0m6-11h0m1 2h0m2 7h0m1 2h0m0 0h0m1 0h0m3-4h0m0-3h0m2 2h0m6-2h0m1 4h0m0 8h0m-3 0h0m0-4h0m-4 5h0m-1-1h0m-3-2h0m0 4h0m-2-1h0m0 5h0m-2-8h0m-9 0h0m14 10h0m0 0h0" stroke="#7765C8" stroke-width="3.8" stroke-linecap="round" fill="none"/><path d="M463 1067h0m5 0h0m-1 7h0m-1 4h0m-19-3h0m-2-1h0m-1 1h0m-2-3h0m-2 18h0m6-1h0m3-8h0m1 6h0m7 3h0m6-1h0m1-8h0m-9 20h0m-2 1h0m-1-6h0m-7 2h0m3 13h0m2-1h0m0 4h0m19-3h0m10 0h0m-26 14h0m-5-3h0m-13-4h0m3 15h0m10 2h0m6-3h0m21-4h0m-19 22h0m-1-9h0m-1 0h0m-1 8h0m-1-8h0m-3 10h0m-10-11h0m-2 1h0m-3 18h0m0-3h0m1 1h0m0 4h0m17-1h0m3 0h0m1 3h0m1-1h0m1 8h0m-3 3h0m-10-9h0m-2 10h0m-3-6h0" stroke="#6253BD" stroke-width="3.8" stroke-linecap="round" fill="none"/><path d="M469 1060h0m0 1h0m1 1h0m0-3h0m2 5h0m0-2h0m0 0h0m1-3h0m0 1h0m0 3h0m1-4h0m0 0h0m1 8h0m2 0h0m48 0h0m10 9h0m-1-8h0m0 7h0m-1 2h0m0 1h0m-1-3h0m0-5h0m0 4h0m-1-1h0m0 1h0m-1-2h0m-2 1h0m0 2h0m-2 3h0m-1 0h0m0-9h0m-1 6h0m0-4h0m0 5h0m-1-8h0m-2 2h0m-3-1h0m-1 9h0m-2 0h0m0-7h0m-1 7h0m0 0h0m-1-4h0m-2-1h0m-1 1h0m-2 4h0m0-1h0m-29-2h0m0-2h0m-1 2h0m-1 1h0m0-2h0m-1-1h0m0-5h0m-1 6h0m-2 5h0m-2-5h0m-22 4h0m-11 4h0m9 7h0m2-9h0m50 10h0m2-2h0m1-4h0m2-2h0m1 8h0m0-1h0m1-7h0m0 6h0m4-6h0m1 9h0m2 0h0m1-7h0m0 0h0m1 3h0m1 4h0m0-11h0m2 11h0m1-5h0m1-4h0m2 2h0m2-3h0m1 1h0m1 4h0m3-2h0m0 4h0m4-5h0m0-3h0m2 7h0m0-2h0m1 0h0m2 4h0m1-2h0m2-2h0m1-1h0m0 7h0m0-8h0m1 8h0m1 0h0m2 9h0m-2-4h0m-2 3h0m0-3h0m0-4h0m-4 3h0m-4 2h0m-1 4h0m0 2h0m-1 0h0m-2-6h0m-2 1h0m-2 3h0m-1-7h0m-1 5h0m-1 3h0m0-4h0m-1-3h0m0 8h0m0-4h0m-1 1h0m-1-7h0m-3 1h0m0 0h0m-1 6h0m-2-5h0m-3-1h0m-3 2h0m-2-4h0m-4 5h0m-45-1h0m-1 6h0m-6-10h0m-1 5h0m-4 4h0m-11 2h0m2 3h0m12 3h0m1-4h0m17 8h0m1-1h0m12-6h0m44-2h0m2 5h0m4-2h0m3-3h0m2 1h0m1 4h0m0-1h0m4-3h0m5 3h0m1 4h0m4 3h0m-4 2h0m-3-1h0m-71 9h0m-1 0h0m-17 0h0m-13-9h0m-1 9h0m-9 8h0m0-1h0m3-3h0m6 9h0m2 1h0m1-2h0m7-6h0m3-2h0m-7 11h0m-1 2h0m-3 7h0m-8 11h0m11-7h0m5 4h0m1 1h0m2 1h0m5-4h0m-10 9h0m13 14h0" stroke="#D3D3D3" stroke-width="3.8" stroke-linecap="round" fill="none"/><path d="M470 1061h0m8 4h0m61 14h0m-6-7h0m-1 6h0m-4-3h0m0 1h0m-3 1h0m0-5h0m-4 7h0m-8-2h0m0-6h0m-3 4h0m-30-5h0m0 3h0m-3-5h0m-2 6h0m-1-1h0m-2 1h0m0-4h0m-1 5h0m0 4h0m-2 2h0m33 10h0m8-9h0m7 6h0m4-7h0m2 2h0m10 3h0m2 0h0m1-1h0m1 2h0m1-7h0m2 8h0m5 7h0m-7 6h0m0 1h0m-6 0h0m-7-8h0m-1 5h0m-1 0h0m-5-1h0m-3-2h0m0 2h0m-10-4h0m0 5h0m-3-7h0m24 15h0m16 5h0m4 1h0m-57 7h0" stroke="#C7B5EA" stroke-width="3.8" stroke-linecap="round" fill="none"/><path d="M474 1060h0m2 0h0m0 2h0m1-3h0m45 8h0m16 6h0m-4 4h0m-1-6h0m-5-2h0m-1-1h0m-10 4h0m-5 7h0m-2-3h0m-32-7h0m-3-1h0m-3 1h0m-2 0h0m-30 20h0m60-3h0m1 4h0m4-1h0m6-7h0m6 2h0m0-3h0m1 3h0m11 2h0m2-5h0m10 2h0m0 8h0m3-1h0m3 6h0m-1 7h0m-7-8h0m0-1h0m-4 8h0m-9-5h0m-1 6h0m-7-10h0m-1 1h0m-1 1h0m-9-1h0m0 0h0m-4 0h0m0 1h0m33 12h0m0-1h0m0 2h0m7 9h0m-105 19h0m2 0h0m1 3h0m6-11h0m0 9h0m3-6h0m-9 14h0m-2-4h0m6 21h0m7-3h0m-1 9h0m-1-4h0m-4 8h0m-8-6h0" stroke="#BAA7E6" stroke-width="3.8" stroke-linecap="round" fill="none"/><path d="M477 1067h0m0-3h0m1 3h0m58 3h0m-2 7h0m-2-5h0m-2 1h0m-3-5h0m-3 0h0m-7 7h0m-1 1h0m-7 1h0m-29-3h0m-4-2h0m-3-1h0m-2 6h0m-2-6h0m-15 7h0m-8-4h0m-11 7h0m0 4h0m1 2h0m7-5h0m0-2h0m6 6h0m12-2h0m8-4h0m47 6h0m2 5h0m4-4h0m2-5h0m2-1h0m3 5h0m8-2h0m0-4h0m2 11h0m4-1h0m2 0h0m1 10h0m-2 0h0m-3-6h0m-9-2h0m-6 4h0m-1 0h0m-3 5h0m-5-8h0m-3 2h0m-1 4h0m-17-2h0m-1 4h0m-12 0h0m-30 2h0m0-1h0m-1-1h0m-3-1h0m-3 0h0m-15 14h0m1-7h0m3 0h0m2-3h0m1 8h0m0 2h0m1-8h0m3 5h0m2-4h0m1 4h0m1-4h0m1 5h0m3 0h0m1-4h0m2-2h0m2 3h0m1-1h0m6 2h0m5 1h0m2 2h0m11-8h0m44 2h0m0-3h0m9 3h0m3 1h0m2 0h0m1-2h0m2 5h0m2 1h0m5 3h0m-32 7h0m-33 0h0m-7 5h0m-9-8h0m-1 2h0m-5-4h0m-6 8h0m-1-7h0m-2 6h0m-1 0h0m0-3h0m-2-4h0m-2 0h0m-7 4h0m-2 3h0m-1 0h0m-3-7h0m-2 8h0m-2 1h0m2 5h0m2 8h0m1-8h0m4 1h0m0-1h0m5-2h0m2 7h0m1 0h0m1 0h0m3-5h0m0-1h0m3-1h0m0 6h0m5-1h0m1-5h0m18 2h0m0 1h0m0 0h0m-28 8h0m-2 11h0m-3-1h0m-5 1h0m-2-3h0m-1-2h0m-1-2h0m-4-2h0m-3 9h0m0-11h0m2 13h0m1 0h0m3 9h0m1-7h0m0 8h0m5-3h0m2-7h0m3 9h0m1-5h0m1 5h0m2-2h0m0-4h0m2 1h0m0 3h0m1-1h0m3 0h0m0-2h0m0-1h0m4 7h0m2 6h0m0 2h0m-6 0h0m-2-4h0m0 2h0m-1-3h0m-1 7h0m-2-5h0m-1 4h0m-1-6h0m0 9h0m-1-5h0m0 5h0m-1-2h0m-1 1h0m-1-5h0m-2 4h0m-1-1h0m-2-4h0m-4-1h0m-2-2h0m15 11h0m6 1h0m7-1h0" stroke="#AD98E2" stroke-width="3.8" stroke-linecap="round" fill="none"/><path d="M463 1061h0m0 0h0m62 6h0m2-1h0m8 9h0m-2-5h0m-1 9h0m-2-1h0m-1-3h0m-2-6h0m-1 1h0m-2 4h0m-1-1h0m-3-3h0m-54-1h0m0-1h0m-21 9h0m-1 1h0m-1-7h0m0 8h0m-1-7h0m-4 6h0m-2 6h0m2 3h0m6-6h0m0 4h0m5 4h0m0-4h0m20-5h0m37 4h0m6-1h0m1 1h0m10-2h0m0 2h0m1 2h0m10-2h0m2 3h0m1-5h0m3 4h0m0 0h0m6 5h0m-1 11h0m-7-10h0m0 11h0m-9-7h0m-6-2h0m0 9h0m-17-8h0m-3 5h0m0-5h0m-3-3h0m-45 11h0m-8-6h0m0 3h0m-2 2h0m-8-2h0m-5 0h0m-1 7h0m1 8h0m2-1h0m2-2h0m3-4h0m1-2h0m1 2h0m5 7h0m1-2h0m0-3h0m1 0h0m2 2h0m1 2h0m1 1h0m0-11h0m4 0h0m0 8h0m11 2h0m14-9h0m52 1h0m4 0h0m4 1h0m5 6h0m1-9h0m-67 20h0m0 1h0m-17 1h0m-1-1h0m-3-9h0m-3 9h0m-5-8h0m-1 4h0m0-3h0m-3 7h0m-13-9h0m-3 16h0m11 3h0m0 2h0m4-4h0m2 0h0m9-5h0m0 11h0m4-10h0m12 4h0m1 0h0m0-5h0m2 1h0m1 2h0m32 19h0m-57-10h0m-1 10h0m0-8h0m-14-1h0m-3 5h0m-5-4h0m1 14h0m1 3h0m1 4h0m2-9h0m1 7h0m1-3h0m10 1h0m2-4h0m8-2h0m3 5h0m0 3h0m1 1h0m2 13h0m-2-5h0m-4 4h0m-5-7h0m0 1h0m-5 1h0m-1 2h0m-2-5h0m-1 0h0m-4 1h0m-2-3h0m13 14h0m10-1h0" stroke="#A08ADE" stroke-width="3.8" stroke-linecap="round" fill="none"/><path d="M461 1063h0m0 2h0m1-7h0m0 4h0m1 1h0m1-4h0m0 6h0m0-6h0m0-1h0m1 5h0m1-5h0m2 3h0m0-2h0m70 17h0m-9-3h0m-2 2h0m-9 1h0m-50-5h0m-4 1h0m-18 0h0m0 3h0m-2 2h0m-3-5h0m-6 19h0m11-1h0m0-4h0m1 2h0m4-8h0m6 8h0m2 1h0m3-2h0m3-6h0m1 0h0m1-1h0m38 4h0m4 4h0m3-8h0m21 4h0m9 5h0m3 14h0m-1-5h0m-6-6h0m-2 11h0m-2-6h0m-4-1h0m-4 7h0m-1 0h0m-17-8h0m-14 8h0m-10-1h0m-21-4h0m0-5h0m-3 0h0m-6 10h0m-5-2h0m-1-3h0m-1 2h0m-2-1h0m-2 4h0m0-11h0m-2 5h0m-1-4h0m-1 2h0m-3 3h0m-2-2h0m-3 7h0m-1 9h0m1 2h0m0-5h0m3-4h0m0 4h0m3 5h0m0-9h0m9 0h0m3 4h0m0 2h0m9 1h0m12-4h0m8 1h0m3-5h0m52 0h0m11 4h0m-63 18h0m-2-1h0m-16 2h0m-1-5h0m-1 2h0m-5 1h0m-2-9h0m-3 0h0m0 11h0m-1-4h0m0 3h0m-3 0h0m0-5h0m-1 1h0m-6-3h0m0-2h0m-3 3h0m-2-3h0m0 3h0m-3-2h0m0-1h0m-1 21h0m1-6h0m1-4h0m1 7h0m1-2h0m0 2h0m2 2h0m1-2h0m1-5h0m0 0h0m0 3h0m1-4h0m2 9h0m0-6h0m1 5h0m3-8h0m4 0h0m1 4h0m0-4h0m1 6h0m2-3h0m0-2h0m0-2h0m2 0h0m2 1h0m4 0h0m11 5h0m1-3h0m0-3h0m-19 20h0m-7-6h0m0 8h0m-4-3h0m-1-1h0m0 3h0m-1-4h0m-4 5h0m0-5h0m-1-3h0m-5 9h0m-2-8h0m3 20h0m0-11h0m1 5h0m1 1h0m0 5h0m3 0h0m0-4h0m1-6h0m3 2h0m1 7h0m4-10h0m1 3h0m4 0h0m6 17h0m-1 0h0m-2-4h0m-6 5h0m-4 0h0m-9-4h0m-1-4h0m15 12h0m3 1h0m6-2h0" stroke="#8B78D3" stroke-width="3.8" stroke-linecap="round" fill="none"/><path d="M461 1063h0m3-7h0m0 6h0m0-1h0m2 4h0m0-2h0m0-5h0m1 8h0m0-4h0m0-1h0m1-3h0m0-1h0m-1 16h0m0-2h0m-1 4h0m-2-4h0m0 5h0m-1-8h0m-1 0h0m-18 8h0m-2-5h0m0 3h0m-1 0h0m-1-3h0m-1 8h0m0-8h0m1 11h0m3 6h0m1 2h0m0 1h0m1 0h0m1-6h0m1 6h0m3-6h0m5 2h0m7-6h0m1 0h0m1 2h0m1-2h0m1-1h0m-10 17h0m-1 6h0m0-1h0m-4 1h0m-1-5h0m0 0h0m-2 4h0m-5-5h0m0 0h0m-2-4h0m-3-1h0m-1 9h0m-7 2h0m1 5h0m1 1h0m0 1h0m3 5h0m0-6h0m0-3h0m4 6h0m1-4h0m1 4h0m0 0h0m3-7h0m3 9h0m0-7h0m12 8h0m4-2h0m1-8h0m3 10h0m0-3h0m12-3h0m10 0h0m1 8h0m-7 7h0m-22-1h0m-6-7h0m0 6h0m0-6h0m-7 0h0m-1 3h0m-2 1h0m-4 1h0m-4 3h0m-1-1h0m0 0h0m-1-7h0m-1 3h0m-2-2h0m-2 8h0m0 14h0m6-4h0m2-4h0m3-1h0m4 3h0m4-1h0m4-2h0m1 3h0m1-1h0m3-1h0m1 0h0m1-1h0m15 3h0m40-1h0m-61 8h0m-1 9h0m-3-1h0m-2-4h0m-5 6h0m-3-6h0m-2 0h0m0 6h0m-2-9h0m-6 9h0m-1-6h0m8 14h0m7 5h0m0-7h0m7 4h0m2-3h0m-1 12h0m-1 0h0m-1 0h0m-2 6h0m-2-6h0m-1 3h0m-2-6h0m-6-2h0m-1 3h0m22 10h0m1-1h0" stroke="#7765C8" stroke-width="3.8" stroke-linecap="round" fill="none"/><path d="M468 1064h0m-15 12h0m-4 1h0m-5-3h0m-4 15h0m6 0h0m2-2h0m11 3h0m2 3h0m-4 4h0m-6 0h0m-1-3h0m-1 8h0m-2 0h0m-1-1h0m-2-9h0m-2 3h0m-6 7h0m-1-7h0m-4 11h0m2 0h0m1 2h0m3 0h0m2 2h0m29 3h0m2-2h0m5 4h0m-21 9h0m-1-1h0m0-4h0m-1 5h0m-2-4h0m-10 1h0m-7 7h0m6 9h0m7-4h0m4-4h0m1 5h0m6-5h0m0 0h0m2-1h0m0 11h0m-19 9h0m-5 14h0m7-9h0m1 0h0m2 4h0m0-4h0m1 6h0m1 4h0m4-2h0m1-3h0m4 3h0m1-6h0m4 8h0m-3 10h0m-4-2h0m-1-3h0m-6 7h0m-1-6h0m-8 1h0m-1 0h0m19 6h0" stroke="#6253BD" stroke-width="3.8" stroke-linecap="round" fill="none"/><path d="M415.0 1042.5V1193.0H560.7" fill="none" stroke="#111" stroke-width="1.5"/><path d="M622 1062h0m0 0h0m0 1h0m1 0h0m0-4h0m0 3h0m1-4h0m0 4h0m1-1h0m0 1h0m0-3h0m0 6h0m0-4h0m0-3h0m1 5h0m1-2h0m0 4h0m1-1h0m1 3h0m0-10h0m1 3h0m0-2h0m1 4h0m0-5h0m1 0h0m0 8h0m1-1h0m0-1h0m1 2h0m0-6h0m0-1h0m1 7h0m0 1h0m0-6h0m0 0h0m0 2h0m0-4h0m0 3h0m0-1h0m0-1h0m1 2h0m0 6h0m1-7h0m0 2h0m0 5h0m0-2h0m1 1h0m0 1h0m0-4h0m0 4h0m1-1h0m0-1h0m0 0h0m0-3h0m1 4h0m45 1h0m1 0h0m0 0h0m0-1h0m1 1h0m1-1h0m1 0h0m11 13h0m-1-6h0m0 3h0m0-3h0m-1 6h0m-1-1h0m-1-3h0m-1 2h0m0-1h0m-1-4h0m0-1h0m-1-1h0m0 9h0m0-3h0m-1-3h0m0 1h0m-1 4h0m0-10h0m0 4h0m0-4h0m0 4h0m0-2h0m0 5h0m0-6h0m-1 6h0m-1-2h0m0 3h0m0 3h0m-1-11h0m0 2h0m0-1h0m0-1h0m-1 2h0m-1 8h0m0-1h0m0-2h0m0-2h0m0-1h0m0 7h0m-1-4h0m0-7h0m-1 11h0m0-5h0m0-6h0m0 5h0m-1-5h0m0 1h0m-1 6h0m-1-5h0m0-2h0m0 3h0m-1 0h0m0 2h0m0 5h0m-1 1h0m0 0h0m0-2h0m-1 0h0m0-1h0m0-4h0m-1 4h0m0 0h0m0-3h0m-1-3h0m-1 8h0m-1-1h0m0-3h0m0-3h0m-1 8h0m0-7h0m-2 5h0m-1 0h0m-2 1h0m-27-8h0m0-2h0m-1 7h0m0-2h0m0 1h0m-1-5h0m0 6h0m0-4h0m-1 5h0m0-1h0m0 0h0m-1-6h0m0 0h0m0 1h0m-1 4h0m0 0h0m0 0h0m0-2h0m0 2h0m-1-1h0m0 0h0m0 5h0m-1-6h0m-1 6h0m0-4h0m0-5h0m0 8h0m0-7h0m-1 7h0m0-1h0m0-5h0m-2 0h0m0 8h0m-1-2h0m-1 2h0m-1-11h0m0 0h0m-1 9h0m-1-9h0m0 4h0m0 7h0m0-2h0m0-6h0m-1-2h0m0-1h0m0 8h0m-1-2h0m0-1h0m-9 4h0m-5 1h0m-2-6h0m0 3h0m0 1h0m-1-4h0m0 2h0m-1 0h0m-1 3h0m-2-4h0m0 1h0m-1-4h0m0 4h0m-3 9h0m1 3h0m0-4h0m3 8h0m0-10h0m0 2h0m2 8h0m1-10h0m0 1h0m2 8h0m1-2h0m1 1h0m1-7h0m2 2h0m1 7h0m0-9h0m3 6h0m1 2h0m7-9h0m1 1h0m0 2h0m2-2h0m0-1h0m1 0h0m1 2h0m0-1h0m1 0h0m0-1h0m1 0h0m1 3h0m2-1h0m1-1h0m0 1h0m0-1h0m1 1h0m24 8h0m2-6h0m1 2h0m0-2h0m1 1h0m1-3h0m1 7h0m1-1h0m0-3h0m0-1h0m0 4h0m1-8h0m1 10h0m1 1h0m0-5h0m0-5h0m0 7h0m1-4h0m0-2h0m0 4h0m0-4h0m0 0h0m1 3h0m0-3h0m0 0h0m1 4h0m1 0h0m1 5h0m1-8h0m0-1h0m1-1h0m1 7h0m0 0h0m0-8h0m0 0h0m0 1h0m1 10h0m1-5h0m0 3h0m1-6h0m0-1h0m1 0h0m0-1h0m0 1h0m1 4h0m0 0h0m0-2h0m2 2h0m2 0h0m1-2h0m0-4h0m1 8h0m1-3h0m0 1h0m1 1h0m1-6h0m1 5h0m0-4h0m1-1h0m0 3h0m0 4h0m3 1h0m0 1h0m0-9h0m0 6h0m1 3h0m0-3h0m0 0h0m0-2h0m0-5h0m1 0h0m0 6h0m0 0h0m2 1h0m1-3h0m0 7h0m1-5h0m0 5h0m0-3h0m0-5h0m1 7h0m2 1h0m1 0h0m1 11h0m0 1h0m0-7h0m0 7h0m-1-3h0m-1 2h0m0-2h0m0-7h0m-1 1h0m0 8h0m0-2h0m0-4h0m0-2h0m0-2h0m-2 7h0m0-2h0m0-1h0m-1-4h0m-1 1h0m0 9h0m0-3h0m-1 4h0m0-8h0m0-3h0m0 9h0m0-6h0m0-1h0m-1 0h0m0 1h0m0 0h0m-2 7h0m0 1h0m-1-1h0m0 1h0m0 0h0m-1-7h0m0 1h0m0 0h0m0 4h0m-1 2h0m0-2h0m-1-9h0m-2 5h0m-2 1h0m-1 4h0m-1 1h0m0-1h0m0-4h0m-1-3h0m0-1h0m0 9h0m0-6h0m0 6h0m-1-2h0m0-4h0m-1-3h0m0 3h0m0 6h0m0-5h0m0 1h0m0 4h0m-1-4h0m-1 1h0m-1-4h0m-1 2h0m0 3h0m0-1h0m-1-7h0m-1 2h0m0-2h0m0 7h0m-1-7h0m0-1h0m-1 8h0m0-2h0m-1-5h0m-1 5h0m-1-3h0m-1 1h0m0 2h0m0 1h0m-1-1h0m0-3h0m0 0h0m-2 0h0m-2-1h0m0-1h0m-1 0h0m-1 6h0m0-7h0m-1 3h0m0 0h0m-1-3h0m0 5h0m0 0h0m-8 6h0m-5-4h0m-26-6h0m-2 0h0m-1 0h0m-3 3h0m-2 7h0m0-4h0m0 2h0m-3-3h0m-2-4h0m-1 1h0m0 7h0m-1-5h0m0 6h0m-1-1h0m-2-4h0m0 4h0m-2-8h0m0 9h0m-2-10h0m-4 8h0m-1 1h0m-1-10h0m0 3h0m-3 20h0m3-6h0m0 3h0m0-6h0m2 2h0m1 3h0m2-3h0m2 3h0m2-6h0m3 9h0m4-4h0m1 2h0m3-7h0m1-1h0m3 10h0m3-7h0m1 7h0m0-3h0m1-5h0m3 9h0m1-4h0m7 1h0m1 1h0m3-2h0m2-6h0m11 3h0m30-2h0m2 1h0m0-3h0m2 2h0m0 1h0m0-1h0m1 2h0m1-2h0m4 1h0m1-2h0m0-1h0m2 7h0m0 0h0m2-4h0m0-1h0m1 2h0m1-2h0m1-1h0m1 0h0m0 0h0m0 10h0m0-6h0m0 2h0m1 1h0m1 0h0m1-8h0m0 2h0m1-2h0m1 7h0m1 3h0m0-10h0m1 4h0m1 7h0m0-1h0m0 1h0m-6 1h0m-1 0h0m-26 6h0m-36 4h0m-2 0h0m-2 0h0m0-10h0m-3 9h0m-4-4h0m-2 1h0m-3 3h0m-3-8h0m0 6h0m-4-3h0m-2-4h0m-1 0h0m-2 5h0m0 6h0m-2-9h0m0 5h0m-2-6h0m0 4h0m-1-1h0m0-3h0m-1-1h0m0 5h0m0 0h0m-1 3h0m0-4h0m-1 3h0m-1 2h0m-1 1h0m-2-10h0m-1 10h0m-2-2h0m-1-7h0m0 4h0m-1 5h0m0-6h0m-1 5h0m-2-8h0m-1-1h0m-1 10h0m0-6h0m0 13h0m1 2h0m0 4h0m0-1h0m1-9h0m1 2h0m1 4h0m1-7h0m0 7h0m0-4h0m1 4h0m1-4h0m1 2h0m0-2h0m1 6h0m1-8h0m0 7h0m1-3h0m1 5h0m1-10h0m0 1h0m5 2h0m1 6h0m1-2h0m1 2h0m0-1h0m0-5h0m2-1h0m1 3h0m0-3h0m2 0h0m1 0h0m3 2h0m1 0h0m1-3h0m12 4h0m0-5h0m4 2h0m0 2h0m-21 18h0m-1 0h0m0 1h0m-3-2h0m-3-9h0m-1 3h0m-1 5h0m-1-8h0m-1 4h0m0 1h0m-1-3h0m-1 6h0m0-6h0m-1 7h0m-2-5h0m-1 0h0m0-2h0m0-1h0m0 3h0m-1-4h0m0 8h0m-1-4h0m-2-3h0m0 3h0m-2-4h0m-3 4h0m0 6h0m-1 1h0m-1 0h0m1 4h0m1-2h0m0 6h0m1-6h0m2 10h0m1-2h0m2-9h0m1 11h0m0-4h0m4 1h0m0 2h0m1-1h0m0 1h0m3 1h0m2-9h0m1 2h0m0 5h0m2-1h0m0-2h0m1 2h0m1-1h0m2 2h0m1-2h0m0-6h0m1 3h0m1-4h0m0 20h0m0 0h0m0 3h0m-1-10h0m0 10h0m-1-1h0m-1 0h0m0-8h0m0-2h0m0 10h0m-1-5h0m-1 0h0m-1 0h0m0 4h0m-1-1h0m0-4h0m0 0h0m-1 7h0m0-7h0m-1 0h0m-1-1h0m0 8h0m-1 0h0m0-5h0m0 5h0m0-5h0m0 1h0m-1-4h0m0 5h0m-6 2h0m-5-10h0m0 1h0m13 11h0m0 0h0m1 1h0m0 1h0m3 0h0m4-2h0m1 2h0m1-2h0" stroke="#D3D3D3" stroke-width="3.8" stroke-linecap="round" fill="none"/><path d="M627 1065h0m1-4h0m10 6h0m56 2h0m-11 5h0m-3-1h0m-44-3h0m-8 1h0m-31 15h0m3 5h0m8-2h0m12 1h0m62-9h0m12 5h0m-76 11h0m-2 5h0m0 1h0m-1 0h0m-4-11h0m-18 22h0m14-10h0m2 2h0m2-2h0m5 4h0m7 4h0m10 14h0m-20-2h0m0 0h0m-2-5h0m0 7h0m-9-5h0m-2 4h0m-3 10h0m14 0h0m0-7h0m2 7h0m6-4h0m-10 13h0m-1 2h0m-3-6h0m0 7h0m-3-2h0m-3 0h0m-2-2h0m-2 0h0m-1 9h0m6 4h0m2 4h0m0-8h0m10 6h0m8 8h0m-23 3h0m22 8h0" stroke="#C7B5EA" stroke-width="3.8" stroke-linecap="round" fill="none"/><path d="M695 1078h0m0-3h0m-5-6h0m-94 16h0m2 0h0m13 2h0m1-3h0m2-2h0m17-2h0m63 0h0m7 12h0m-5 4h0m-13 0h0m-5 2h0m-11-3h0m-49 6h0m-2-1h0m0 2h0m-8-8h0m-6 3h0m-7 4h0m0 5h0m1 1h0m2-2h0m8 6h0m2 4h0m1-4h0m14-1h0m17-4h0m9 8h0m4-4h0m-33 7h0m0 3h0m-3 5h0m-1-2h0m-1 1h0m-7 2h0m-2-8h0m-6 7h0m-1-1h0m-2-1h0m-6 10h0m3 3h0m10-3h0m1 0h0m0-4h0m1 2h0m3 4h0m3-5h0m7 1h0m15 4h0m0-2h0m1-2h0m-26 17h0m-5-2h0m-6-5h0m2 15h0m16-4h0m3 21h0m-2 2h0m-8-8h0m0 8h0m-5-1h0m16 2h0" stroke="#BAA7E6" stroke-width="3.8" stroke-linecap="round" fill="none"/><path d="M605 1078h0m-5-7h0m-3 13h0m3 0h0m3-4h0m8 4h0m11 0h0m11-2h0m41 13h0m-29 7h0m-29 1h0m-4-7h0m-4 3h0m-4-2h0m-12 17h0m0-8h0m1 4h0m4-2h0m0-2h0m3 6h0m0-6h0m2 6h0m2-1h0m0-4h0m6-2h0m8 5h0m0-4h0m8-1h0m3 8h0m-12 9h0m-7-2h0m-3 2h0m-3 2h0m0 0h0m0 1h0m-2-4h0m-1-4h0m-4-1h0m-1 1h0m-6 17h0m6 0h0m11-2h0m1 5h0m10-9h0m0 1h0m1 0h0m2-1h0m2 0h0m15 4h0m-26 19h0m-18 2h0m1 6h0m18-4h0m8 15h0m-10-1h0m-9 3h0m-8-7h0m0 0h0" stroke="#AD98E2" stroke-width="3.8" stroke-linecap="round" fill="none"/><path d="M614 1076h0m-6-1h0m-3 2h0m-3-5h0m-3 10h0m6 2h0m4 3h0m11 3h0m-1 2h0m-3 4h0m0 7h0m-8-1h0m0-2h0m-11 10h0m10 4h0m0-10h0m4 7h0m1 3h0m2-8h0m2 0h0m9-1h0m14 2h0m2 17h0m-29 3h0m-1-10h0m0 1h0m-1-1h0m-11 1h0m-8 4h0m9 6h0m10 4h0m5 3h0m1-4h0m1-3h0m-4 13h0m-6 0h0m-7 5h0m-10-6h0m5 17h0m0 2h0m1 4h0m17-2h0m6-3h0m-3 15h0m-9 1h0m-3-9h0m-2 1h0m-8-1h0m17 11h0" stroke="#A08ADE" stroke-width="3.8" stroke-linecap="round" fill="none"/><path d="M603 1072h0m-7 19h0m7-2h0m7-9h0m1 6h0m5 15h0m-5-3h0m-1 3h0m-4-6h0m-11 8h0m-2-1h0m6 2h0m1 2h0m2 6h0m3-5h0m11 0h0m1 2h0m0 3h0m2 0h0m3-1h0m18-2h0m-25 7h0m-9 2h0m-2 2h0m-2 2h0m-2-1h0m-4-5h0m-1 3h0m-4 6h0m2 5h0m1 3h0m0 0h0m2 0h0m1-5h0m2 3h0m5 0h0m12 3h0m22-3h0m-34 12h0m-1 1h0m-1 5h0m-4-3h0m-3 10h0m1 7h0m1-10h0m5 5h0m0 5h0m1 1h0m-4 2h0" stroke="#8B78D3" stroke-width="3.8" stroke-linecap="round" fill="none"/><path d="M595 1139h0m-3 23h0m2-1h0m2 1h0m2 11h0" stroke="#7765C8" stroke-width="3.8" stroke-linecap="round" fill="none"/><path d="M622 1063h0m1-1h0m1-1h0m0 2h0m0-2h0m0 0h0m1 5h0m0 0h0m0-7h0m1 7h0m1-8h0m0-2h0m0 2h0m0 4h0m1 4h0m0-6h0m1 3h0m0 1h0m1-3h0m0-3h0m1 4h0m0-4h0m0 3h0m0-3h0m1 7h0m0 2h0m0-9h0m0 0h0m1 6h0m1-1h0m0-4h0m0 8h0m0-8h0m0 0h0m0 4h0m1 2h0m0 1h0m1-2h0m0-3h0m0 0h0m0-1h0m1 6h0m0-4h0m2 4h0m43 1h0m1 0h0m2 0h0m3 0h0m0-1h0m2 0h0m10 9h0m-1 0h0m0-1h0m0 5h0m-1 0h0m-1-4h0m-1 1h0m0-1h0m-1 3h0m0-3h0m-1-4h0m0 7h0m-1 0h0m0-6h0m0 2h0m-2-1h0m0 1h0m0-4h0m-1-2h0m0 7h0m-1-1h0m0 1h0m0-4h0m0-2h0m0 6h0m-1-1h0m0-1h0m0 2h0m-1-6h0m-1 2h0m0-2h0m-1 9h0m0-4h0m-1 4h0m0 0h0m-1-8h0m0 5h0m0 0h0m-1 1h0m0-3h0m-1 5h0m0-3h0m-2-6h0m0 7h0m-1-4h0m0-1h0m0 7h0m0-6h0m-1 6h0m0 0h0m0 0h0m-1 0h0m0 0h0m-1-5h0m0 5h0m0-8h0m-1 9h0m0-1h0m0-6h0m-1 6h0m0 1h0m0-7h0m-1 1h0m-1 5h0m0-1h0m0-1h0m0 3h0m-2 0h0m0-1h0m0-1h0m-29-4h0m0 2h0m-1 1h0m-1-1h0m0-1h0m0 0h0m0-6h0m-1 5h0m0-1h0m0 1h0m0-5h0m-2 5h0m0-2h0m-1-1h0m0 3h0m0 6h0m0-8h0m-1 4h0m0-4h0m-1 7h0m0-4h0m-1-6h0m0 7h0m0 0h0m0-6h0m-1 0h0m-2 1h0m-1 4h0m0-5h0m0 6h0m0-7h0m0 7h0m0 3h0m0 0h0m0 1h0m-1-4h0m-1 4h0m-1-11h0m0 3h0m0 2h0m0 0h0m0 0h0m-1-5h0m0 8h0m-8 2h0m-5 1h0m-4-4h0m0-4h0m-2 5h0m0-5h0m-1 2h0m-1 0h0m-1-2h0m-1 8h0m0 0h0m-1 11h0m0-3h0m2 3h0m1-6h0m2-4h0m1 5h0m2 4h0m1 2h0m2-7h0m1 6h0m1 1h0m2-3h0m10 2h0m0-9h0m0 2h0m1-3h0m0 1h0m1-1h0m1 1h0m0 5h0m2-6h0m0 1h0m2 0h0m1 0h0m2-1h0m0 3h0m0 0h0m1-3h0m1 2h0m25 4h0m1 4h0m1-4h0m1 5h0m1-4h0m0 2h0m0-6h0m0 4h0m1-5h0m0 3h0m0-5h0m0 9h0m1-1h0m0-1h0m2 3h0m1 0h0m1-1h0m0-3h0m1 5h0m2 0h0m0-7h0m0 5h0m0-7h0m1 7h0m0 0h0m1 2h0m0-1h0m1-4h0m0-6h0m0 0h0m1 2h0m1 9h0m1-8h0m0-1h0m2 0h0m1 1h0m0 4h0m0 0h0m1-5h0m1 5h0m0-1h0m0-5h0m0 1h0m0 0h0m1 0h0m1 5h0m2-2h0m0-5h0m1 6h0m0-2h0m1 2h0m0-6h0m1 4h0m2-1h0m0-3h0m0 2h0m1 6h0m0 0h0m0-1h0m0-3h0m1 3h0m0-2h0m1 2h0m0-2h0m0 0h0m0-1h0m0 1h0m0 0h0m1-1h0m0 2h0m1 3h0m0 0h0m0-9h0m0 5h0m1-5h0m0 11h0m0-3h0m1-5h0m0-1h0m0 6h0m0-2h0m0-4h0m1 8h0m0-2h0m0 3h0m0-8h0m1 5h0m0 1h0m2 2h0m0-1h0m1 0h0m2 13h0m-1-9h0m0 9h0m-1-8h0m0 7h0m0-5h0m0 6h0m-1-5h0m0-2h0m-1 5h0m-1-2h0m0-7h0m-1 9h0m0-1h0m-1 1h0m0-8h0m-1 8h0m0-6h0m0-1h0m0 6h0m-1-8h0m0 0h0m0 10h0m-2-10h0m-1 4h0m0 2h0m0 3h0m0-6h0m-3 3h0m0 4h0m-1-6h0m0 6h0m-2-6h0m0 1h0m-3-1h0m0 5h0m0-5h0m-1-2h0m0 2h0m0 2h0m0-2h0m-1 0h0m-1 0h0m0 6h0m-1-7h0m-1 6h0m-1-8h0m-1 0h0m0 7h0m-1-4h0m0-4h0m0 0h0m-1 3h0m0 5h0m0-2h0m-1-3h0m0 5h0m-1-8h0m-1 0h0m-1 4h0m-2-2h0m0-1h0m-1 2h0m-1-3h0m-2 2h0m0-2h0m-1 0h0m0 0h0m0 3h0m-1 3h0m0-5h0m0 5h0m-1-6h0m-1 1h0m-1 2h0m-1 0h0m0 0h0m-1-3h0m-2 3h0m-1 2h0m-41 5h0m0 0h0m-1 1h0m-2-1h0m-1-1h0m-3 2h0m0-6h0m-1-4h0m-2 9h0m-1-8h0m-1 3h0m-6-5h0m-2 10h0m-6 10h0m1-5h0m1 8h0m0-8h0m2 7h0m0-9h0m0 2h0m0 5h0m0-3h0m1 2h0m1 2h0m0-6h0m1 7h0m1-2h0m0 1h0m2-1h0m1-4h0m3 3h0m1 0h0m0-4h0m1 8h0m1-5h0m1 0h0m1-1h0m1 3h0m6-8h0m1 11h0m4-6h0m0 1h0m1-2h0m7 5h0m0-2h0m57-4h0m1 1h0m2-1h0m3-3h0m0 2h0m1 0h0m0 1h0m1-2h0m0 6h0m1 2h0m1-7h0m0 2h0m0 0h0m1 3h0m2-7h0m1 2h0m0 3h0m1 3h0m0-5h0m1 6h0m2-7h0m0 3h0m0-1h0m1 7h0m1-2h0m-3 4h0m-1-1h0m-53 4h0m-11 3h0m-1 4h0m0-2h0m-2 2h0m-7-8h0m-1-1h0m-1 3h0m-3 5h0m-4-10h0m-1 2h0m-2 7h0m-1-2h0m-1 0h0m0-1h0m-3-1h0m0-4h0m-2 1h0m-2 1h0m-1 1h0m-1 3h0m0-2h0m0 2h0m-5-4h0m0 2h0m-5-5h0m-3 9h0m-3 10h0m1 4h0m0-2h0m0-9h0m1 8h0m1-6h0m0 8h0m1-10h0m1 9h0m1-4h0m4-4h0m0 1h0m0 8h0m3-6h0m0 0h0m1 1h0m2 0h0m0-4h0m1 10h0m0-9h0m0 3h0m2 3h0m1-5h0m1 6h0m0-2h0m0 0h0m1-2h0m0 1h0m1 5h0m0-2h0m1 2h0m1-7h0m0-4h0m3 1h0m1-1h0m1 6h0m0 5h0m2-11h0m11 6h0m1 0h0m1 0h0m1-1h0m1-2h0m1 0h0m1 0h0m31 19h0m-54 0h0m0-9h0m-2 8h0m-1-8h0m0-1h0m-2 8h0m-1-8h0m0 3h0m-1 8h0m0 0h0m0-1h0m-1 0h0m-3-7h0m-1 7h0m-1-1h0m-1-7h0m-1 8h0m-2-5h0m-1-3h0m0-1h0m-1 0h0m-1 2h0m-1 0h0m0 4h0m0-2h0m-2 1h0m-1-3h0m0 2h0m-1 6h0m0-2h0m0 12h0m1 2h0m1-5h0m2-2h0m1 2h0m0 4h0m0-7h0m0 8h0m1-1h0m5-1h0m1-6h0m0 7h0m1-9h0m1 7h0m1 3h0m0 0h0m1-5h0m0 1h0m1-7h0m0 6h0m1-5h0m1 6h0m0-2h0m2 1h0m1 1h0m0 2h0m2-1h0m0-3h0m2 4h0m1 1h0m2-4h0m1 4h0m0 1h0m0-4h0m2 16h0m0-6h0m-3-4h0m0-1h0m0 6h0m-1 0h0m-2 2h0m0-1h0m0 3h0m0-8h0m-1 2h0m-1 3h0m-1-3h0m-1 0h0m0 1h0m0-2h0m-1 0h0m-1 2h0m0-1h0m0-4h0m-1 9h0m0-1h0m-1-6h0m0 9h0m0-1h0m-1-7h0m0 7h0m-2-10h0m0 0h0m-1 0h0m-1 0h0m-2 10h0m-1-6h0m0-2h0m-1 2h0m-3-1h0m-2-1h0m14 10h0m0 0h0m2 1h0m2 0h0m1 1h0m2-2h0m1 2h0m1-1h0m0 0h0m2 0h0m0 1h0m0-1h0m2-1h0m1 0h0" stroke="#D3D3D3" stroke-width="3.8" stroke-linecap="round" fill="none"/><path d="M633 1061h0m63 16h0m-7-2h0m-86-4h0m0 8h0m-5 0h0m7 12h0m2-5h0m8-4h0m3 6h0m47 0h0m22-8h0m12 20h0m-88 2h0m-1-5h0m-1 1h0m-1-6h0m-1 8h0m-7-5h0m-6 8h0m-2 0h0m4 12h0m3-5h0m0 1h0m1-1h0m1 4h0m1-2h0m1-2h0m2-4h0m3 3h0m2 5h0m1-8h0m8 4h0m9 5h0m-35 1h0m0 2h0m2 14h0m5 7h0m9-6h0m3-4h0m9 0h0m14-1h0m2 0h0m-21 18h0m-7 5h0m-4-1h0m-1-4h0m-6-4h0m-2 5h0m-4-7h0m14 22h0m7-2h0m8 1h0m-5 14h0m-10-1h0m-1 1h0m-1-9h0m-8 1h0m0-2h0m-4 0h0m23 11h0" stroke="#C7B5EA" stroke-width="3.8" stroke-linecap="round" fill="none"/><path d="M629 1062h0m-22 12h0m-2 1h0m-2-3h0m1 16h0m6-3h0m0-1h0m5-1h0m8 7h0m0-9h0m43 3h0m18 14h0m-20 2h0m-19 2h0m-29-2h0m-6-3h0m0 3h0m-3 1h0m-3-4h0m-1 1h0m-7 4h0m-2 0h0m-1-2h0m0 14h0m2-9h0m4 3h0m1 0h0m11 2h0m9 5h0m2-2h0m2 0h0m3 0h0m14-8h0m9 12h0m-28 6h0m-8 0h0m0-2h0m0-1h0m-6 5h0m-8 0h0m-1-1h0m-1 0h0m-2-2h0m-1-5h0m-3 11h0m1 4h0m1-4h0m6 2h0m7 3h0m2 3h0m0 1h0m4 0h0m3-5h0m2-2h0m18 2h0m-30 12h0m0 6h0m-5-3h0m-4-6h0m-2 5h0m-5-2h0m7 13h0m3-4h0m5 0h0m13 2h0m2 21h0" stroke="#BAA7E6" stroke-width="3.8" stroke-linecap="round" fill="none"/><path d="M627 1066h0m12-2h0m-5 6h0m-2 5h0m-7 0h0m-20 1h0m-5 0h0m-3 9h0m4-2h0m6 6h0m24-9h0m72 4h0m-24 14h0m-15-4h0m-43 0h0m-18 5h0m0-4h0m-6 8h0m0-5h0m0 7h0m14 8h0m5-3h0m1 5h0m4-9h0m7 6h0m2 1h0m1-2h0m6-4h0m7 15h0m-12 3h0m-18-6h0m-2-2h0m-1 2h0m-4-2h0m-9 0h0m-3 2h0m-1 2h0m1 13h0m2-6h0m2 2h0m0 3h0m3-5h0m1 9h0m4-6h0m1-3h0m3 5h0m0-4h0m24 2h0m1 2h0m1-4h0m55 13h0m-76 6h0m-1-7h0m-3 1h0m-3 9h0m0 0h0m-4-3h0m-2-3h0m0 0h0m-4-1h0m-7 9h0m7-1h0m1 11h0m7-1h0m1 1h0m8-4h0m6 3h0m-6 13h0m-9-7h0m-9-4h0m-3 1h0" stroke="#AD98E2" stroke-width="3.8" stroke-linecap="round" fill="none"/><path d="M608 1077h0m-4-6h0m0 8h0m4 9h0m3-3h0m1-5h0m1 10h0m5 0h0m6 10h0m-10-7h0m0 5h0m-3 0h0m-16-2h0m-2 13h0m0-1h0m1-1h0m2 7h0m1-10h0m5 6h0m0-5h0m5 0h0m3 10h0m5-1h0m7-4h0m18-4h0m10 3h0m-13 18h0m0-2h0m-12 0h0m-2-3h0m-9-3h0m-3 1h0m0 6h0m-14-3h0m0 1h0m-5 2h0m1 5h0m9 5h0m1 2h0m9-8h0m1 8h0m7-10h0m2 1h0m1 1h0m13 1h0m-29 9h0m0 10h0m-8 0h0m-4-1h0m0-5h0m-4 11h0m2-2h0m4 5h0m12 4h0m1-7h0m9 6h0m-11 5h0" stroke="#A08ADE" stroke-width="3.8" stroke-linecap="round" fill="none"/><path d="M610 1078h0m-4-4h0m-7 4h0m-3 3h0m2 7h0m7 2h0m0-6h0m1-3h0m1 9h0m5-9h0m11-1h0m-5 17h0m-5-1h0m-1 0h0m-3 6h0m-3-1h0m-2-9h0m-6 8h0m-8 10h0m2-1h0m14-3h0m1 1h0m2-1h0m21 7h0m10 12h0m-16-9h0m-1 9h0m-7-9h0m-3 5h0m0 4h0m-2-4h0m-1-3h0m-3 5h0m-6-2h0m-1-4h0m-10 15h0m4-4h0m6 9h0m3-2h0m8-2h0m3 5h0m1-9h0m3-1h0m5 1h0m12 6h0m2-7h0m-25 22h0m-6 1h0m-1-10h0m-5 6h0m-1-2h0m-5-2h0m-1 8h0m0-9h0m1 21h0m1 0h0m4-1h0m5 1h0m0-10h0m7 5h0m0-2h0m2 1h0m4 0h0m-9 13h0m-3-1h0m-1 0h0" stroke="#8B78D3" stroke-width="3.8" stroke-linecap="round" fill="none"/><path d="M599 1135h0m12-3h0m0-3h0m4 0h0m19 4h0m-30 10h0m-7 2h0m1 13h0m9 0h0" stroke="#7765C8" stroke-width="3.8" stroke-linecap="round" fill="none"/><path d="M622 1061h0m1 0h0m0 2h0m0-5h0m1 9h0m0-8h0m1 1h0m0-4h0m0 5h0m1 2h0m0-3h0m1 3h0m0-2h0m1 3h0m0-2h0m0-1h0m0 1h0m1-1h0m0 1h0m0-1h0m0-1h0m0-1h0m0-1h0m1 5h0m0 4h0m0-10h0m1 3h0m0 2h0m1 4h0m0 1h0m0-3h0m0-7h0m1 5h0m0-3h0m1 4h0m0 2h0m0-6h0m0 1h0m0-1h0m0 1h0m1 7h0m0-8h0m0 0h0m2 7h0m0-1h0m1 2h0m0-8h0m1 7h0m0 1h0m44 0h0m5 0h0m1 0h0m1 0h0m0 0h0m3 0h0m7 9h0m-3 2h0m0-8h0m-1 2h0m0 5h0m0-1h0m-1 1h0m0-1h0m-1 1h0m0-2h0m0 3h0m0-8h0m-1 5h0m0-6h0m0 3h0m-1 3h0m0-2h0m-2 0h0m0 6h0m0-1h0m0-1h0m0-4h0m-1 2h0m0-7h0m-1 2h0m0-1h0m0 8h0m-1 1h0m-1-1h0m0-9h0m-1 6h0m0-3h0m0-2h0m0 5h0m0 2h0m0 1h0m-1 2h0m0-9h0m-2 0h0m-1 2h0m-1 5h0m0-3h0m0 0h0m-1 0h0m0-5h0m-1 0h0m0 1h0m0 1h0m0 4h0m0 3h0m-1-1h0m0-4h0m0 0h0m-1 0h0m0-2h0m-1 2h0m-1 2h0m0-1h0m0 3h0m0-4h0m0 1h0m-1 5h0m-1-6h0m-1 2h0m0-1h0m-25 0h0m-5-5h0m0 4h0m0 1h0m-2 1h0m0 0h0m-1-7h0m-1 7h0m0-7h0m-1 3h0m0 0h0m0-3h0m-1 3h0m0 2h0m0 1h0m-1-2h0m0 1h0m0-2h0m-1-3h0m0 10h0m-1-2h0m0 3h0m-1-9h0m0 5h0m0 4h0m-1-3h0m0-8h0m-1 3h0m0 1h0m-1 1h0m0 1h0m-1 5h0m0-1h0m-1-7h0m0 8h0m0-2h0m0 2h0m-1-3h0m-1-5h0m-1 5h0m-15 1h0m-1-3h0m-1 3h0m0-1h0m0-3h0m-1 2h0m-2-1h0m0-2h0m-1-1h0m-2 12h0m10 7h0m2 0h0m0-10h0m7 10h0m1-1h0m3 1h0m1-1h0m0-9h0m0 1h0m2 0h0m0 0h0m1 0h0m0-1h0m3 0h0m2 1h0m1 0h0m27 10h0m2-3h0m0 0h0m1 3h0m0-8h0m0 4h0m2-5h0m0 3h0m0 4h0m1 1h0m0-7h0m1-1h0m0 5h0m3 0h0m0 1h0m0-3h0m1 5h0m0-3h0m1-7h0m0 11h0m1-8h0m0-3h0m2 3h0m0 1h0m0 7h0m1-4h0m0 0h0m0-4h0m0-2h0m1 10h0m0-3h0m0-7h0m0 0h0m1 3h0m0-4h0m1 4h0m1-1h0m0-2h0m1 3h0m1-1h0m0 3h0m0-5h0m2 2h0m0 1h0m0-1h0m0-2h0m0 1h0m0-2h0m1 5h0m0-5h0m1 7h0m1-7h0m0 1h0m1 3h0m0 2h0m2 2h0m0 0h0m1-5h0m1 5h0m0 0h0m1 3h0m3-5h0m0-2h0m2 1h0m0-3h0m2 4h0m0-3h0m0 2h0m0 5h0m0-10h0m0 7h0m1-3h0m0-1h0m0 5h0m0-2h0m0 1h0m1-2h0m0-1h0m1 1h0m0 4h0m1 1h0m0 1h0m0-3h0m0 1h0m0-2h0m0 3h0m3 11h0m0-1h0m0-1h0m0 4h0m-1-8h0m0 2h0m0-3h0m0-2h0m0 10h0m-1-2h0m0-2h0m0-3h0m-1 5h0m0-4h0m0 3h0m0-4h0m-2 7h0m0-10h0m0 2h0m0 1h0m0 7h0m-1-9h0m0 3h0m-1 6h0m0-3h0m0 4h0m-1-10h0m0 10h0m0-2h0m-1 1h0m0-2h0m-1 2h0m0 0h0m-1 0h0m0-2h0m0-2h0m-1-3h0m0 2h0m0 0h0m-1-2h0m0 8h0m0 0h0m0-2h0m-1 2h0m0-2h0m0 2h0m-1-1h0m0-4h0m0 5h0m0-6h0m-1-1h0m-2-1h0m0 3h0m-2 4h0m0 1h0m0-6h0m-2 2h0m0 4h0m0-4h0m-1 1h0m-1 1h0m0 2h0m-2-10h0m0 10h0m0-1h0m-3-8h0m0-1h0m0 1h0m0 7h0m0-5h0m0-2h0m-1 0h0m0-1h0m-1-1h0m0 4h0m-1-1h0m0 0h0m-1 4h0m0-3h0m-1 2h0m-2-6h0m0 0h0m0 1h0m0 3h0m-1-1h0m0 1h0m0 2h0m-1-2h0m-2-4h0m0 3h0m-1-1h0m0 2h0m-1 5h0m0-3h0m0-6h0m-1 3h0m-1-3h0m-1 0h0m-1 0h0m-4 5h0m-1 5h0m0-1h0m-11 1h0m-21-4h0m0 5h0m-5-1h0m-3-3h0m-3 3h0m0-5h0m-1-3h0m0 9h0m0-6h0m-1 3h0m-1-3h0m0 3h0m-1-4h0m0 2h0m-1-1h0m-1 4h0m-1-2h0m-2-3h0m-1 2h0m-4-6h0m-3 1h0m-1 10h0m-4 0h0m1 5h0m0-2h0m2-1h0m0 1h0m0 0h0m1 7h0m2 0h0m1-5h0m1 4h0m0 2h0m0-2h0m2-6h0m1 1h0m2 1h0m1 4h0m2 3h0m1-2h0m0-1h0m2 1h0m0 2h0m0-4h0m1 1h0m11-1h0m1-1h0m5 1h0m1 1h0m7 3h0m13 0h0m1-4h0m34-7h0m1 3h0m1 2h0m2-4h0m1 2h0m2-3h0m1 0h0m1 4h0m3 0h0m1-1h0m0 1h0m1-2h0m0 2h0m2-4h0m0 1h0m0 3h0m1-2h0m0 7h0m0-4h0m2 1h0m1-3h0m1-2h0m0 2h0m0 1h0m1 4h0m1 1h0m0 0h0m1 1h0m1 1h0m-3 2h0m-1-1h0m0 1h0m-54 4h0m-7 3h0m-2 2h0m-5 0h0m-5-1h0m-1 0h0m-2-9h0m0 0h0m-1 3h0m-2 3h0m-5-6h0m-2 3h0m-3 6h0m-1-8h0m-1 6h0m0 2h0m-1-4h0m-1-5h0m-3 6h0m-1-1h0m-3-1h0m0 7h0m-7-9h0m0 5h0m-1 1h0m0-2h0m0 1h0m-4-6h0m-1 15h0m4 3h0m1-3h0m1-1h0m2 1h0m0-1h0m0 2h0m1 4h0m1 2h0m1-1h0m0-1h0m3-3h0m1 2h0m0-7h0m1-1h0m0 1h0m0 7h0m0 3h0m1-6h0m2-2h0m3 8h0m1-8h0m0 0h0m1-3h0m2 11h0m2-8h0m1-1h0m0 0h0m0 4h0m14-1h0m0-5h0m1 3h0m3 1h0m37 0h0m-59 15h0m-1-7h0m0 9h0m-1 0h0m-1-1h0m-1 2h0m-3 1h0m-4-11h0m-3 6h0m-1-4h0m0 4h0m-1 5h0m-1-10h0m-1 9h0m0-6h0m0-3h0m0 7h0m-2-6h0m0 9h0m-2-5h0m-1-4h0m0 4h0m-2 2h0m-1 2h0m0-7h0m0 13h0m0 0h0m2 7h0m1-3h0m1-3h0m1 1h0m0 4h0m1 1h0m2-6h0m1-1h0m2-4h0m2 8h0m1 0h0m0-3h0m0-1h0m1-3h0m1 6h0m1-2h0m1-2h0m0 0h0m1 1h0m1 3h0m0 1h0m1-1h0m1 3h0m0 1h0m0-4h0m3 1h0m1-6h0m0-1h0m0 3h0m1-1h0m1 5h0m0-7h0m0 9h0m1-1h0m3 11h0m0-1h0m-1-4h0m0 3h0m-2-6h0m-1 9h0m0-3h0m-1 2h0m-2-5h0m-1 0h0m0 8h0m-1-9h0m-1 3h0m0-5h0m-1 5h0m0 0h0m0 6h0m-1-8h0m-1 6h0m0-2h0m-1 0h0m-2-2h0m-1 2h0m0 3h0m-1-9h0m-1 7h0m0-6h0m-5 1h0m0 3h0m-2-6h0m-1 3h0m0 3h0m13 6h0m1 0h0m2 2h0m2 0h0m1 0h0m0 0h0m3 0h0m1-2h0m1 0h0m1 2h0" stroke="#D3D3D3" stroke-width="3.8" stroke-linecap="round" fill="none"/><path d="M628 1067h0m3-8h0m4 1h0m3 4h0m57 4h0m-4 5h0m-7-2h0m-8 3h0m-44 4h0m-5-5h0m-17 4h0m-7-1h0m-4 2h0m2 13h0m5 0h0m4 0h0m3-10h0m62 3h0m18-4h0m1 3h0m5 0h0m0 2h0m1 6h0m0 11h0m-20 0h0m-1-10h0m-16 6h0m-41-3h0m0-1h0m-5 3h0m0-4h0m-1 8h0m0 1h0m-6-5h0m-1 1h0m0 3h0m0 0h0m-2-4h0m-2 2h0m-12-4h0m-1 19h0m3-6h0m2 6h0m0-1h0m8-2h0m3-4h0m0 0h0m5-3h0m29 0h0m8 10h0m1-1h0m-10 12h0m-19-1h0m-3-8h0m0 9h0m-1 0h0m-3-7h0m-1 7h0m0-1h0m-2-2h0m0-6h0m-5 4h0m-1 1h0m-5 1h0m-3 2h0m-5-6h0m8 21h0m3-2h0m1-2h0m5 0h0m2-3h0m26 0h0m-19 17h0m0 2h0m-4-11h0m-2 1h0m-4 2h0m-3-3h0m-2 9h0m-6-7h0m-7 6h0m-1-6h0m3 21h0m3-2h0m7-8h0m4 16h0m-1 3h0" stroke="#C7B5EA" stroke-width="3.8" stroke-linecap="round" fill="none"/><path d="M622 1065h0m7-5h0m54 7h0m-1 12h0m-9-7h0m-2 3h0m-42 2h0m-1-9h0m-30 17h0m2-5h0m1 9h0m5 0h0m1-4h0m2-5h0m14 7h0m6-7h0m32 9h0m40 6h0m-24 0h0m-9-1h0m-49 7h0m-2-1h0m-1 2h0m-1-6h0m-1 7h0m-5-5h0m-1-1h0m-1 6h0m0-3h0m-8-5h0m-1 7h0m-6 12h0m2-5h0m2 5h0m4-2h0m0 3h0m1-9h0m5-2h0m4 1h0m2 8h0m0-5h0m8 7h0m2-9h0m9 2h0m20 9h0m-19 1h0m-16 4h0m-5 0h0m0-4h0m-7 1h0m-6 1h0m-1 3h0m0-7h0m-1 1h0m1 20h0m10-7h0m5 0h0m1 1h0m3 7h0m4-5h0m2-3h0m-10 11h0m-3 1h0m-10 4h0m-6 1h0m2 7h0m7 6h0m4-3h0m0-2h0m3 0h0m3 6h0m1-3h0m6 10h0m0 2h0m-3-2h0m-2 0h0m-6-4h0m-2 9h0m0-4h0m-3 4h0" stroke="#BAA7E6" stroke-width="3.8" stroke-linecap="round" fill="none"/><path d="M622 1063h0m11-1h0m60 4h0m-61 11h0m-4-5h0m-22 1h0m-3-3h0m-2 14h0m3-2h0m20-1h0m52 5h0m24 13h0m-2-5h0m-32 5h0m-42 1h0m-27 1h0m-5 8h0m6-4h0m2 3h0m13 7h0m2-1h0m2-1h0m3 1h0m8-2h0m3-8h0m8 1h0m1 2h0m56 2h0m8 7h0m-80 11h0m-2-9h0m-8 7h0m0-3h0m-5 1h0m-2-1h0m-2-2h0m-4 1h0m-4 2h0m-1 4h0m-5 5h0m2-2h0m0 0h0m1 2h0m0-1h0m0-2h0m6 1h0m1 0h0m3 2h0m6 0h0m6-2h0m1 18h0m-6-1h0m-10 1h0m-5-5h0m-4 8h0m4 4h0m1 0h0m6-1h0m2 7h0m11-1h0m6 3h0m0 8h0m-15-2h0m-4-5h0" stroke="#AD98E2" stroke-width="3.8" stroke-linecap="round" fill="none"/><path d="M602 1069h0m-5 16h0m4 4h0m0-9h0m0 2h0m1 7h0m3-8h0m5 8h0m10-4h0m24 16h0m-24-1h0m-3 1h0m-1-4h0m-2 5h0m-3-3h0m-1-1h0m0 3h0m-2 2h0m0-2h0m0-1h0m-2-1h0m-1-7h0m-4 1h0m-5 1h0m0-2h0m-3 15h0m2 3h0m9-3h0m1 0h0m4 7h0m2 0h0m1-5h0m1-3h0m5 4h0m0-3h0m21 2h0m-26 15h0m-4-8h0m-2 3h0m-6 1h0m-1 5h0m-4-7h0m0 0h0m-4 1h0m-1 6h0m-1 8h0m0-1h0m4 7h0m3-8h0m2-1h0m0 6h0m3-6h0m10 4h0m0-3h0m3-1h0m0 2h0m21-4h0m2 0h0m-20 23h0m-6-11h0m-13 7h0m-3 10h0m1-5h0m7 7h0m1 4h0m9-6h0m3 6h0m0-10h0m-4 21h0m-9-8h0m-6 4h0m17 7h0m0 0h0" stroke="#A08ADE" stroke-width="3.8" stroke-linecap="round" fill="none"/><path d="M602 1072h0m0 0h0m-6 12h0m1 3h0m3-4h0m4 0h0m6 3h0m17 5h0m-10 11h0m-1-1h0m-2 1h0m-3-8h0m-2 2h0m-1 1h0m-4 6h0m-2-9h0m-5 18h0m1-5h0m0-3h0m1 8h0m9-1h0m1-2h0m3 1h0m2-4h0m2 3h0m1-1h0m1-1h0m10 4h0m0 3h0m-16 10h0m-4-1h0m-13-7h0m-3 16h0m1 0h0m7-2h0m2 9h0m6-3h0m5-7h0m2 11h0m-1 0h0m-6 8h0m-1-5h0m-3 6h0m-1 0h0m-2 2h0m-1-2h0m-2-5h0m-2 1h0m-1-1h0m-5-1h0m17 19h0m0 2h0m-4 2h0m-5-2h0m-3 5h0m0-3h0" stroke="#8B78D3" stroke-width="3.8" stroke-linecap="round" fill="none"/><path d="M598 1137h0m9-8h0m6 11h0m-1 8h0m-15 9h0m10 16h0" stroke="#7765C8" stroke-width="3.8" stroke-linecap="round" fill="none"/><path d="M576.0 1042.5V1193.0H721.7" fill="none" stroke="#111" stroke-width="1.5"/><text transform="translate(775.70 43.50) scale(0.9800 1.0000)" font-size="56" font-weight="bold" fill="#111">c</text><rect x="930.00" y="81.05" width="31.88" height="28.85" fill="#FEFCFC"/><rect x="961.88" y="81.05" width="31.88" height="28.85" fill="#FEFCFC"/><rect x="993.75" y="81.05" width="31.88" height="28.85" fill="#FEF9F6"/><rect x="1025.62" y="81.05" width="31.88" height="28.85" fill="#FEFBF9"/><rect x="930.00" y="231.27" width="31.88" height="28.85" fill="#FEF8F5"/><rect x="961.88" y="231.27" width="31.88" height="28.85" fill="#FEF9F7"/><rect x="993.75" y="231.27" width="31.88" height="28.85" fill="#FEFAF9"/><rect x="1025.62" y="231.27" width="31.88" height="28.85" fill="#FEFAF9"/><rect x="930.00" y="288.97" width="31.88" height="28.85" fill="#FDD0C2"/><rect x="930.00" y="335.23" width="31.88" height="28.85" fill="#FEE6DC"/><rect x="930.00" y="439.19" width="31.88" height="28.85" fill="#FDD3C4"/><rect x="961.88" y="439.19" width="31.88" height="28.85" fill="#FDE2D7"/><rect x="993.75" y="439.19" width="31.88" height="28.85" fill="#FEF8F5"/><rect x="1025.62" y="439.19" width="31.88" height="28.85" fill="#FEFAF8"/><rect x="930.00" y="468.04" width="31.88" height="28.85" fill="#B8302A"/><rect x="961.88" y="468.04" width="31.88" height="28.85" fill="#FBB29A"/><rect x="993.75" y="468.04" width="31.88" height="28.85" fill="#FBAA90"/><rect x="1025.62" y="468.04" width="31.88" height="28.85" fill="#FCC3AF"/><rect x="930.00" y="514.30" width="31.88" height="28.85" fill="#FBAE97"/><rect x="961.88" y="514.30" width="31.88" height="28.85" fill="#FDC5B2"/><rect x="993.75" y="514.30" width="31.88" height="28.85" fill="#FDDCD0"/><rect x="1025.62" y="514.30" width="31.88" height="28.85" fill="#FEE6DB"/><rect x="930.00" y="543.15" width="31.88" height="28.85" fill="#FEFAF9"/><rect x="961.88" y="543.15" width="31.88" height="28.85" fill="#FDD9CC"/><rect x="993.75" y="543.15" width="31.88" height="28.85" fill="#FEE6DD"/><rect x="1025.62" y="543.15" width="31.88" height="28.85" fill="#FEEEE6"/><rect x="930.00" y="572.00" width="31.88" height="28.85" fill="#FDC6B2"/><rect x="961.88" y="572.00" width="31.88" height="28.85" fill="#FEE8E0"/><rect x="993.75" y="572.00" width="31.88" height="28.85" fill="#FBAD95"/><rect x="1025.62" y="572.00" width="31.88" height="28.85" fill="#FBB6A0"/><rect x="930.00" y="600.85" width="31.88" height="28.85" fill="#FDF9F7"/><rect x="961.88" y="600.85" width="31.88" height="28.85" fill="#E03E2C"/><rect x="993.75" y="600.85" width="31.88" height="28.85" fill="#FEF0EC"/><rect x="1025.62" y="600.85" width="31.88" height="28.85" fill="#FEF4F0"/><rect x="930.00" y="629.70" width="31.88" height="28.85" fill="#F7846A"/><rect x="961.88" y="629.70" width="31.88" height="28.85" fill="#D02C20"/><rect x="993.75" y="629.70" width="31.88" height="28.85" fill="#FBA88E"/><rect x="1025.62" y="629.70" width="31.88" height="28.85" fill="#FBA78D"/><rect x="930.00" y="658.55" width="31.88" height="28.85" fill="#FEECE5"/><rect x="961.88" y="658.55" width="31.88" height="28.85" fill="#E44F35"/><rect x="993.75" y="658.55" width="31.88" height="28.85" fill="#FBA88E"/><rect x="1025.62" y="658.55" width="31.88" height="28.85" fill="#FBA88E"/><rect x="930.00" y="687.40" width="31.88" height="28.85" fill="#FEF8F5"/><rect x="961.88" y="687.40" width="31.88" height="28.85" fill="#E03A2A"/><rect x="993.75" y="687.40" width="31.88" height="28.85" fill="#FEF0E8"/><rect x="1025.62" y="687.40" width="31.88" height="28.85" fill="#FEEDEA"/><rect x="930.00" y="733.66" width="31.88" height="28.85" fill="#FEFBFB"/><rect x="961.88" y="733.66" width="31.88" height="28.85" fill="#FDC3AF"/><rect x="993.75" y="733.66" width="31.88" height="28.85" fill="#FEFAF8"/><rect x="1025.62" y="733.66" width="31.88" height="28.85" fill="#FEFBFA"/><rect x="961.88" y="762.51" width="31.88" height="28.85" fill="#FDC3AF"/><rect x="993.75" y="762.51" width="31.88" height="28.85" fill="#FEFAF7"/><rect x="1025.62" y="762.51" width="31.88" height="28.85" fill="#FEF8F3"/><rect x="930.00" y="808.77" width="31.88" height="28.85" fill="#FEF9F8"/><rect x="961.88" y="808.77" width="31.88" height="28.85" fill="#C53020"/><rect x="993.75" y="808.77" width="31.88" height="28.85" fill="#DB2E1C"/><rect x="1025.62" y="808.77" width="31.88" height="28.85" fill="#DB2E1C"/><rect x="930.00" y="837.62" width="31.88" height="28.85" fill="#FEFCFC"/><rect x="961.88" y="837.62" width="31.88" height="28.85" fill="#EE6144"/><rect x="993.75" y="837.62" width="31.88" height="28.85" fill="#E03B26"/><rect x="1025.62" y="837.62" width="31.88" height="28.85" fill="#EA5639"/><rect x="930.00" y="866.47" width="31.88" height="28.85" fill="#FDE6DA"/><rect x="961.88" y="866.47" width="31.88" height="28.85" fill="#D92E1C"/><rect x="993.75" y="866.47" width="31.88" height="28.85" fill="#AE2D29"/><rect x="1025.62" y="866.47" width="31.88" height="28.85" fill="#AE2D29"/><rect x="930.00" y="895.32" width="31.88" height="28.85" fill="#FEFBFB"/><rect x="961.88" y="895.32" width="31.88" height="28.85" fill="#FDE8DE"/><rect x="993.75" y="895.32" width="31.88" height="28.85" fill="#DD3120"/><rect x="1025.62" y="895.32" width="31.88" height="28.85" fill="#DD3120"/><rect x="1025.62" y="941.58" width="31.88" height="28.85" fill="#FEFEFE"/><rect x="961.88" y="970.43" width="31.88" height="28.85" fill="#FEFEFE"/><rect x="993.75" y="970.43" width="31.88" height="28.85" fill="#FDE5DA"/><rect x="1025.62" y="970.43" width="31.88" height="28.85" fill="#FDE6DC"/><rect x="930.00" y="999.28" width="31.88" height="28.85" fill="#FEF8F5"/><rect x="961.88" y="999.28" width="31.88" height="28.85" fill="#FEE9DF"/><rect x="993.75" y="999.28" width="31.88" height="28.85" fill="#F9967A"/><rect x="1025.62" y="999.28" width="31.88" height="28.85" fill="#F98E70"/><rect x="930.00" y="1028.13" width="31.88" height="28.85" fill="#FEFBFB"/><rect x="961.88" y="1028.13" width="31.88" height="28.85" fill="#FEF6F1"/><rect x="993.75" y="1028.13" width="31.88" height="28.85" fill="#F99372"/><rect x="1025.62" y="1028.13" width="31.88" height="28.85" fill="#F98E6F"/><rect x="930.00" y="1056.98" width="31.88" height="28.85" fill="#F67F5E"/><rect x="961.88" y="1056.98" width="31.88" height="28.85" fill="#BF2F24"/><rect x="993.75" y="1056.98" width="31.88" height="28.85" fill="#A52A2A"/><rect x="1025.62" y="1056.98" width="31.88" height="28.85" fill="#A32A2B"/><rect x="930.00" y="1103.24" width="31.88" height="28.85" fill="#F9977C"/><rect x="961.88" y="1103.24" width="31.88" height="28.85" fill="#FAA38A"/><rect x="993.75" y="1103.24" width="31.88" height="28.85" fill="#DA3322"/><rect x="1025.62" y="1103.24" width="31.88" height="28.85" fill="#DA3322"/><rect x="930.00" y="1132.09" width="31.88" height="28.85" fill="#FEF9F7"/><rect x="961.88" y="1132.09" width="31.88" height="28.85" fill="#FDE4D9"/><rect x="993.75" y="1132.09" width="31.88" height="28.85" fill="#F99D82"/><rect x="1025.62" y="1132.09" width="31.88" height="28.85" fill="#FAA68C"/><rect x="930.00" y="1189.79" width="31.88" height="28.85" fill="#FCBBA4"/><rect x="961.88" y="1189.79" width="31.88" height="28.85" fill="#FEF9F6"/><rect x="993.75" y="1189.79" width="31.88" height="28.85" fill="#FDCAB7"/><rect x="1025.62" y="1189.79" width="31.88" height="28.85" fill="#FDCCB9"/><rect x="930.00" y="1218.64" width="31.88" height="28.85" fill="#FEFCFB"/><rect x="993.75" y="1218.64" width="31.88" height="28.85" fill="#FEFBFA"/><rect x="1025.62" y="1218.64" width="31.88" height="28.85" fill="#FEFBFA"/><rect x="961.88" y="1351.45" width="31.88" height="28.85" fill="#FEFCFC"/><path d="M930.00 52.20h127.50v57.70h-127.50zM961.88 52.20v57.70M993.75 52.20v57.70M1025.62 52.20v57.70M930.00 81.05h127.50M930.00 127.31h127.50v57.70h-127.50zM961.88 127.31v57.70M993.75 127.31v57.70M1025.62 127.31v57.70M930.00 156.16h127.50M930.00 202.42h127.50v115.40h-127.50zM961.88 202.42v115.40M993.75 202.42v115.40M1025.62 202.42v115.40M930.00 231.27h127.50M930.00 260.12h127.50M930.00 288.97h127.50M930.00 335.23h127.50v86.55h-127.50zM961.88 335.23v86.55M993.75 335.23v86.55M1025.62 335.23v86.55M930.00 364.08h127.50M930.00 392.93h127.50M930.00 439.19h127.50v57.70h-127.50zM961.88 439.19v57.70M993.75 439.19v57.70M1025.62 439.19v57.70M930.00 468.04h127.50M930.00 514.30h127.50v201.95h-127.50zM961.88 514.30v201.95M993.75 514.30v201.95M1025.62 514.30v201.95M930.00 543.15h127.50M930.00 572.00h127.50M930.00 600.85h127.50M930.00 629.70h127.50M930.00 658.55h127.50M930.00 687.40h127.50M930.00 733.66h127.50v57.70h-127.50zM961.88 733.66v57.70M993.75 733.66v57.70M1025.62 733.66v57.70M930.00 762.51h127.50M930.00 808.77h127.50v115.40h-127.50zM961.88 808.77v115.40M993.75 808.77v115.40M1025.62 808.77v115.40M930.00 837.62h127.50M930.00 866.47h127.50M930.00 895.32h127.50M930.00 941.58h127.50v144.25h-127.50zM961.88 941.58v144.25M993.75 941.58v144.25M1025.62 941.58v144.25M930.00 970.43h127.50M930.00 999.28h127.50M930.00 1028.13h127.50M930.00 1056.98h127.50M930.00 1103.24h127.50v173.10h-127.50zM961.88 1103.24v173.10M993.75 1103.24v173.10M1025.62 1103.24v173.10M930.00 1132.09h127.50M930.00 1160.94h127.50M930.00 1189.79h127.50M930.00 1218.64h127.50M930.00 1247.49h127.50M930.00 1293.75h127.50v86.55h-127.50zM961.88 1293.75v86.55M993.75 1293.75v86.55M1025.62 1293.75v86.55M930.00 1322.60h127.50M930.00 1351.45h127.50" fill="none" stroke="#1a1a1a" stroke-width="1.25"/><text transform="translate(822.80 76.62) scale(1.0400 1.0000)" font-size="25" font-style="italic" fill="#111">POU5F1</text><text transform="translate(827.48 105.48) scale(1.0400 1.0000)" font-size="25" font-style="italic" fill="#111">NANOG</text><text transform="translate(1069.17 89.10) scale(1.0550 1.0000)" font-size="30" fill="#111">Pluripotent</text><text transform="translate(865.44 151.74) scale(1.0400 1.0000)" font-size="25" font-style="italic" fill="#111">GSC</text><text transform="translate(847.76 180.59) scale(1.0400 1.0000)" font-size="25" font-style="italic" fill="#111">NOTO</text><text transform="translate(1069.17 159.70) scale(1.0550 1.0000)" font-size="30" fill="#111">Notochord</text><text transform="translate(857.12 226.85) scale(1.0400 1.0000)" font-size="25" font-style="italic" fill="#111">PAX6</text><text transform="translate(826.18 255.70) scale(1.0400 1.0000)" font-size="25" font-style="italic" fill="#111">NKX6−1</text><text transform="translate(854.52 284.55) scale(1.0400 1.0000)" font-size="25" font-style="italic" fill="#111">SOX1</text><text transform="translate(841.52 313.40) scale(1.0400 1.0000)" font-size="25" font-style="italic" fill="#111">ASCL1</text><text transform="translate(1068.97 276.80) scale(1.0550 1.0000)" font-size="30" fill="#111">Neural tube</text><text transform="translate(793.42 359.66) scale(1.0400 1.0000)" font-size="25" font-style="italic" fill="#111">NEUROG2</text><text transform="translate(796.80 388.51) scale(1.0400 1.0000)" font-size="25" font-style="italic" fill="#111">NEUROD1</text><text transform="translate(847.24 417.36) scale(1.0400 1.0000)" font-size="25" font-style="italic" fill="#111">OLIG1</text><text transform="translate(1068.97 383.00) scale(1.0550 1.0000)" font-size="30" fill="#111">Late neural</text><text transform="translate(853.74 463.62) scale(1.0400 1.0000)" font-size="25" font-style="italic" fill="#111">TBXT</text><text transform="translate(852.70 492.47) scale(1.0400 1.0000)" font-size="25" font-style="italic" fill="#111">SOX2</text><text transform="translate(1068.37 477.50) scale(1.0550 1.0000)" font-size="30" fill="#111">NMP</text><text transform="translate(846.98 538.73) scale(1.0400 1.0000)" font-size="25" font-style="italic" fill="#111">AXIN2</text><text transform="translate(855.82 567.58) scale(1.0400 1.0000)" font-size="25" font-style="italic" fill="#111">DKK1</text><text transform="translate(835.80 596.43) scale(1.0400 1.0000)" font-size="25" font-style="italic" fill="#111">DUSP4</text><text transform="translate(831.38 625.28) scale(1.0400 1.0000)" font-size="25" font-style="italic" fill="#111">MSGN1</text><text transform="translate(852.70 654.12) scale(1.0400 1.0000)" font-size="25" font-style="italic" fill="#111">HES7</text><text transform="translate(853.48 682.98) scale(1.0400 1.0000)" font-size="25" font-style="italic" fill="#111">LFNG</text><text transform="translate(856.86 711.83) scale(1.0400 1.0000)" font-size="25" font-style="italic" fill="#111">TBX6</text><text transform="translate(1070.47 628.00) scale(1.0550 1.0000)" font-size="30" fill="#111">PSM</text><text transform="translate(833.98 758.09) scale(1.0400 1.0000)" font-size="25" font-style="italic" fill="#111">MESP2</text><text transform="translate(817.34 786.94) scale(1.0400 1.0000)" font-size="25" font-style="italic" fill="#111">RIPPLY2</text><text transform="translate(1070.20 772.30) scale(1.0550 1.0000)" font-size="30" fill="#111">Anterior PSM</text><text transform="translate(835.28 833.20) scale(1.0400 1.0000)" font-size="25" font-style="italic" fill="#111">FOXC2</text><text transform="translate(832.94 862.05) scale(1.0400 1.0000)" font-size="25" font-style="italic" fill="#111">MEOX1</text><text transform="translate(842.04 890.90) scale(1.0400 1.0000)" font-size="25" font-style="italic" fill="#111">TCF15</text><text transform="translate(813.96 919.75) scale(1.0400 1.0000)" font-size="25" font-style="italic" fill="#111">UNCX4.1</text><text transform="translate(1073.02 883.80) scale(1.0550 1.0000)" font-size="30" fill="#111">Somite</text><text transform="translate(859.20 966.01) scale(1.0400 1.0000)" font-size="25" font-style="italic" fill="#111">PAX1</text><text transform="translate(857.38 994.86) scale(1.0400 1.0000)" font-size="25" font-style="italic" fill="#111">PAX9</text><text transform="translate(867.52 1023.71) scale(1.0400 1.0000)" font-size="25" font-style="italic" fill="#111">SCX</text><text transform="translate(828.52 1052.56) scale(1.0400 1.0000)" font-size="25" font-style="italic" fill="#111">TWIST1</text><text transform="translate(824.10 1081.41) scale(1.0400 1.0000)" font-size="25" font-style="italic" fill="#111">COL2A1</text><text transform="translate(1069.52 1030.30) scale(1.0550 1.0000)" font-size="30" fill="#111">Sclerotome</text><text transform="translate(857.12 1127.67) scale(1.0400 1.0000)" font-size="25" font-style="italic" fill="#111">PAX3</text><text transform="translate(832.94 1156.52) scale(1.0400 1.0000)" font-size="25" font-style="italic" fill="#111">DMRT2</text><text transform="translate(856.08 1185.37) scale(1.0400 1.0000)" font-size="25" font-style="italic" fill="#111">PAX7</text><text transform="translate(845.16 1214.22) scale(1.0400 1.0000)" font-size="25" font-style="italic" fill="#111">MYOF</text><text transform="translate(849.58 1243.07) scale(1.0400 1.0000)" font-size="25" font-style="italic" fill="#111">MYH3</text><text transform="translate(852.18 1271.92) scale(1.0400 1.0000)" font-size="25" font-style="italic" fill="#111">MYF5</text><text transform="translate(1068.57 1206.40) scale(1.0550 1.0000)" font-size="30" fill="#111">Dermomyotome</text><text transform="translate(836.84 1318.18) scale(1.0400 1.0000)" font-size="25" font-style="italic" fill="#111">SOX17</text><text transform="translate(841.26 1347.03) scale(1.0400 1.0000)" font-size="25" font-style="italic" fill="#111">GATA4</text><text transform="translate(840.48 1375.88) scale(1.0400 1.0000)" font-size="25" font-style="italic" fill="#111">GATA6</text><text transform="translate(1068.77 1357.20) scale(1.0550 1.0000)" font-size="30" fill="#111">Endoderm</text><path d="M1245.2 267.5H1268V377.8H1246 M1155.4 621.2H1289.8V762.5H1267 M1238 1018.7H1325V1196.7H1302.9" fill="none" stroke="#333" stroke-width="1.3"/><text transform="translate(1283.47 333.00) scale(1.0550 1.0000)" font-size="30" fill="#111">Neural</text><text transform="translate(1305.07 701.20) scale(1.0550 1.0000)" font-size="30" fill="#111">PSM</text><text transform="translate(1334.17 1123.70) scale(1.0550 1.0000)" font-size="30" fill="#111">Late somite</text><text transform="translate(959.80 1458.72) rotate(-90) scale(1.0510 1.0400)" font-size="30" fill="#111">NMP</text><text transform="translate(991.00 1457.36) rotate(-90) scale(1.0667 1.0400)" font-size="30" fill="#111">PSM</text><text transform="translate(1022.80 1486.77) rotate(-90) scale(1.0475 1.0400)" font-size="30" fill="#111">Somite</text><text transform="translate(1054.10 1551.82) rotate(-90) scale(1.0516 1.0400)" font-size="30" fill="#111">Late somite</text><defs><linearGradient id="cb" x1="0" x2="1" y1="0" y2="0"><stop offset="0" stop-color="#FFF5F0"/><stop offset="0.03" stop-color="#FFF3EE"/><stop offset="0.237" stop-color="#FCBBA1"/><stop offset="0.36" stop-color="#F7815F"/><stop offset="0.475" stop-color="#E5432E"/><stop offset="0.62" stop-color="#D7291E"/><stop offset="0.712" stop-color="#D02C20"/><stop offset="0.95" stop-color="#A82A2D"/><stop offset="1" stop-color="#9E2A2E"/></linearGradient></defs><rect x="1146" y="1488" width="304" height="25.8" fill="url(#cb)"/><path d="M1146.0 1508.6V1513.8M1216.5 1508.6V1513.8M1288.5 1508.6V1513.8M1361.0 1508.6V1513.8M1433.3 1508.6V1513.8" stroke="#fff" stroke-width="1.3"/><text transform="translate(1146.0 1538.2) scale(1.04 1)" font-size="25" text-anchor="middle" fill="#111">0</text><text transform="translate(1216.5 1538.2) scale(1.04 1)" font-size="25" text-anchor="middle" fill="#111">1</text><text transform="translate(1288.5 1538.2) scale(1.04 1)" font-size="25" text-anchor="middle" fill="#111">2</text><text transform="translate(1361.0 1538.2) scale(1.04 1)" font-size="25" text-anchor="middle" fill="#111">3</text><text transform="translate(1433.3 1538.2) scale(1.04 1)" font-size="25" text-anchor="middle" fill="#111">4</text><text transform="translate(1212.38 1478.00) scale(1.0578 1.0000)" font-size="25" fill="#111">Log expression</text><text transform="translate(64.76 1335.00) scale(1.0000 1.0000)" font-size="56" font-weight="bold" fill="#111">d</text><text transform="translate(270.65 1336.00) scale(1.0539 1.0000)" font-size="35" fill="#111">Late somite</text><path transform="scale(0.5)" d="M399 2650h0m13 1h0m0-4h0m0-3h0m18 7h0m4-5h0m1 5h0m0-3h0m8 3h0m3 7h0m-7 5h0m0-7h0m-4 4h0m-6-8h0m-3 9h0m0-5h0m-19-2h0m-8 2h0m-3 2h0m-2 5h0m-2-5h0m-4 11h0m9 0h0m8 0h0m1 0h0m16-3h0m2 3h0m5 1h0m1-6h0m2 10h0m0-8h0m3 3h0m40 9h0m-3-2h0m-5 3h0m-16 8h0m-17 0h0m-9-7h0m-1-3h0m-21-1h0m-11 11h0m-9-1h0m1 5h0m6-2h0m3 8h0m6-3h0m11-4h0m3 6h0m9-2h0m0-5h0m0 3h0m1 2h0m2-6h0m3 1h0m1 1h0m1 1h0m2 4h0m1-3h0m44 16h0m-28-6h0m0 7h0m-6-3h0m-6-2h0m-2 1h0m-4-5h0m-2 5h0m-1-4h0m0 2h0m-14-2h0m0 0h0m-5 3h0m-4-3h0m-1 9h0m-1-8h0m-10 4h0m-7-2h0m0 3h0m-2-7h0m-3 1h0m-10 4h0m-5 0h0m-18 17h0m6-1h0m1-1h0m23 3h0m15-5h0m7-2h0m1-1h0m1 3h0m3 5h0m37 0h0m2-6h0m38-3h0m1 8h0m13 11h0m-9-7h0m-9 6h0m-4-7h0m-9 6h0m-6-5h0m-44 9h0m-13-11h0m-5 0h0m-7 1h0m-4 6h0m-9-2h0m-1 2h0m-7-4h0m-6-3h0m-3 7h0m-9-2h0m-5 5h0m-13-4h0m-1-2h0m-9 10h0m13-2h0m5 4h0m6-1h0m33 6h0m13-9h0m16 1h0m1 9h0m18-3h0m3-2h0m1 5h0m2-9h0m8 9h0m5-1h0m28-1h0m15-7h0m8 8h0m101-1h0m7-5h0m4 6h0m23-2h0m12 14h0m0-8h0m-10 4h0m-11 4h0m-36-5h0m-74 5h0m-4-2h0m-1 0h0m-16-6h0m-8 9h0m-9 0h0m-1-7h0m-10-2h0m-12 8h0m0-9h0m0 9h0m-2-6h0m-2 8h0m-7-5h0m-13 2h0m-1 0h0m-5-5h0m-8 2h0m-18 2h0m-8-7h0m-2 3h0m-4 1h0m-2-2h0m-70 8h0m0-8h0m-1 9h0m0 11h0m10 0h0m7 0h0m17 1h0m35-9h0m0 8h0m6-5h0m29 5h0m13-7h0m8-3h0m19 5h0m5 4h0m9-1h0m43-1h0m6-7h0m13 11h0m61-5h0m0 1h0m6-5h0m10 4h0m12-2h0m30 10h0m-19 7h0m-30-5h0m-9-2h0m-6-2h0m-4 6h0m-38 2h0m-2-1h0m-6-6h0m-19 3h0m-24 2h0m-8 2h0m-3 0h0m-4-6h0m-2 4h0m0-4h0m-5 1h0m-2 8h0m-4-3h0m-5 2h0m-6-5h0m-12-3h0m-1 7h0m-58-6h0m-1-3h0m-14 11h0m-12-9h0m-13 5h0m0-5h0m-4 6h0m-2-2h0m-7-2h0m-24 18h0m22-4h0m16-5h0m4 8h0m15-9h0m9 7h0m26-1h0m19-6h0m6 3h0m5 7h0m1-1h0m3-7h0m2 6h0m9 0h0m7 0h0m1 0h0m5-4h0m8 2h0m5-3h0m10-3h0m6 4h0m9 5h0m44-6h0m7 6h0m12-2h0m1-1h0m30-2h0m9 6h0m0-1h0m6-3h0m32-2h0m1 7h0m1-4h0m6 3h0m2-5h0m4 6h0m3-8h0m8 5h0m4-2h0m3-2h0m10 12h0m-6-3h0m-5-1h0m-6 3h0m-8-3h0m-19 1h0m0-1h0m-3 4h0m-3-1h0m-10-1h0m-2 6h0m-5-6h0m-3 6h0m-4-5h0m-10-3h0m-16 0h0m-72 1h0m-6 4h0m0-4h0m-3 2h0m-44 2h0m-1-1h0m-4-4h0m-3 6h0m-1-1h0m-6-3h0m-10 4h0m-15 3h0m-9-7h0m-10 6h0m-4-6h0m-14 0h0m-13 7h0m-5-5h0m-12 6h0m-2-9h0m-11 1h0m-16-2h0m-4 8h0m-4-8h0m-1 15h0m10-2h0m22 7h0m1-6h0m0 2h0m2-2h0m8 8h0m25-7h0m31-2h0m6 5h0m8 3h0m6-5h0m39-4h0m1 7h0m4 0h0m15 1h0m3-8h0m116 7h0m1 2h0m5-6h0m2 6h0m1-2h0m0-4h0m6 7h0m1-4h0m39-5h0m17 10h0m17-10h0m5 3h0m-6 17h0m-3 1h0m-7-6h0m-7 2h0m-16-5h0m-36 8h0m0-2h0m-4-7h0m-5 3h0m-3-2h0m-81 6h0m-17 0h0m-34-5h0m-11 4h0m-6-6h0m-3 8h0m-60 2h0m-4-5h0m-5 5h0m-16-10h0m-7 6h0m-10 1h0m-4 2h0m-5 0h0m-29 2h0m-3-1h0m-1-9h0m-8-1h0m1 22h0m3-10h0m3 8h0m26-4h0m6-3h0m1 1h0m0 4h0m2 2h0m1-2h0m4-3h0m6 7h0m7 1h0m1-9h0m18 7h0m4-4h0m78 3h0m2-1h0m0-6h0m6 4h0m16 5h0m39-1h0m45-9h0m2 9h0m7 1h0m5-3h0m25-2h0m4 5h0m3-3h0m5-6h0m17 4h0m6-4h0m7 1h0m5 5h0m33-4h0m1-3h0m23 6h0m-1 7h0m-4 7h0m-7 3h0m-4-10h0m-1 9h0m-18-4h0m-6-5h0m-3 5h0m-12-1h0m-43-1h0m-2-3h0m-10-1h0m-4 6h0m-9 1h0m-71-1h0m-13 2h0m-4 1h0m0-9h0m-27 1h0m0 7h0m-5-1h0m-1-1h0m-3-6h0m-6 1h0m-6 7h0m-2-4h0m-4 6h0m-30-2h0m-5 1h0m-16-4h0m-15-3h0m0 2h0m-6 2h0m-3-3h0m-14-2h0m-8 1h0m-18 4h0m-9 4h0m-21 1h0m1 8h0m6 4h0m8-10h0m15 7h0m3-6h0m29 1h0m6-1h0m27 9h0m7 0h0m46-5h0m5 1h0m4 3h0m5-9h0m33 4h0m11 0h0m13 5h0m3-9h0m52 9h0m33-7h0m28 6h0m1 2h0m1-3h0m3-6h0m3 2h0m1 5h0m6-5h0m1 3h0m2 3h0m4-8h0m4 0h0m31 4h0m10-5h0m19 0h0m2 1h0m-34 11h0m-12 6h0m0 1h0m-8-2h0m-1 1h0m-9-4h0m-20 8h0m-1-8h0m-5-1h0m-15 9h0m-22-3h0m-33 1h0m-36-4h0m-1-5h0m-5 2h0m-2 4h0m-5-4h0m-9 0h0m-9 2h0m-8 0h0m-13 3h0m-3-6h0m-18 1h0m-4-1h0m-21 4h0m-7-2h0m-53-2h0m-8-1h0m-32 4h0m-9-1h0m-8-1h0m5 17h0m28 3h0m27-10h0m22 3h0m4 5h0m1-8h0m1 10h0m7-4h0m0-3h0m7 4h0m28-5h0m19 8h0m1-8h0m14 0h0m2-1h0m6 4h0m1 2h0m18-3h0m7 1h0m7-3h0m9 9h0m39-8h0m15 4h0m5 1h0m3 2h0m0 1h0m7-2h0m1-5h0m17-3h0m0 7h0m5 2h0m8 0h0m0-9h0m2 9h0m1-2h0m14-3h0m19-4h0m0 5h0m29-6h0m5 5h0m5-5h0m3 8h0m18 12h0m-45-6h0m-4 0h0m-3 4h0m-12 4h0m0-8h0m-26 0h0m-8-2h0m-7 6h0m-7 3h0m-20-6h0m-3 3h0m-1-5h0m-5 3h0m-3 3h0m-5-7h0m0 8h0m-42-1h0m-6 1h0m-56 0h0m-10-3h0m-6 0h0m-16-4h0m0 10h0m-8-8h0m-8-2h0m-1 7h0m-14-2h0m-25-3h0m-7 0h0m-27 0h0m-3 3h0m-4 5h0m-3-11h0m-24 6h0m3 7h0m26 2h0m5 6h0m19-4h0m8 4h0m7-6h0m8 5h0m3 3h0m12-8h0m12 0h0m9 6h0m16-7h0m7 3h0m18 6h0m3-7h0m29-2h0m1 0h0m4-1h0m1 10h0m2-6h0m2 4h0m0-7h0m56-2h0m8 3h0m25 5h0m2 0h0m0 0h0m7-5h0m4 3h0m0-2h0m2 5h0m6-7h0m4 2h0m1 7h0m9-8h0m3 7h0m6-5h0m6 4h0m17-9h0m22 2h0m6 1h0m1 3h0m24 5h0m4-7h0m7 1h0m13 2h0m1 1h0m1-2h0m2 5h0m1-1h0m2-6h0m1 0h0m5 5h0m-30 14h0m-12-8h0m-23 4h0m-6-7h0m-9 9h0m0 2h0m-2-10h0m-9 10h0m-4 0h0m-8-8h0m-3 5h0m-5 0h0m-5-1h0m-9 0h0m-29-2h0m-1-2h0m-13 4h0m-3-2h0m-2-2h0m-6 1h0m-4 4h0m-6-2h0m-52 3h0m-1-9h0m-6 6h0m-9-1h0m-10 1h0m-6-6h0m-14 9h0m-5-4h0m-1-4h0m-11 7h0m-2-1h0m-8-1h0m-2 4h0m-9-7h0m-3 3h0m-20 4h0m-2-7h0m-63 6h0m-18-4h0m9 10h0m44 4h0m2-6h0m20 10h0m6-6h0m26 3h0m0-8h0m15 9h0m5-2h0m13-6h0m20 3h0m7-1h0m4 6h0m30-6h0m6 1h0m11 3h0m6 2h0m30-3h0m7 0h0m39 4h0m13-8h0m1 9h0m11-10h0m15 6h0m3 4h0m1-11h0m5 10h0m6-2h0m1-5h0m37 4h0m10 0h0m11-5h0m36 7h0m-55 3h0m-2 6h0m-3-4h0m-5 5h0m-1-3h0m-2 7h0m-8 0h0m-7-2h0m-1-7h0m-8 0h0m-5 6h0m-1-7h0m-4 2h0m-42 4h0m-3 0h0m-5 0h0m-2-2h0m-2 2h0m-5-6h0m-16 1h0m-4 7h0m0-4h0m-7 5h0m-2 0h0m-3-6h0m-10 6h0m-10-1h0m-6-6h0m-60 1h0m0-3h0m-12 3h0m-9 5h0m-3 1h0m-5-2h0m-12 3h0m-8-8h0m0-2h0m-20 2h0m-5-3h0m-14 0h0m-3 3h0m-10 7h0m-43-1h0m-7 1h0m-4-4h0m24 17h0m18-7h0m5-3h0m6 8h0m0-9h0m54 1h0m3 9h0m15-9h0m21-1h0m25 10h0m9-7h0m12-2h0m32 3h0m0 1h0m18 5h0m3-6h0m4 5h0m2-1h0m1-4h0m10 3h0m16 4h0m13-6h0m7-1h0m24 6h0m2 1h0m3-11h0m9 11h0m42-2h0m13-1h0m11 2h0m8-5h0m4 6h0m3-2h0m5-2h0m11-7h0m1 0h0m-10 19h0m-8-2h0m-5-4h0m-5 6h0m-1 4h0m0-6h0m-3 4h0m-2-3h0m-2-1h0m-5 4h0m-22-7h0m-16 6h0m-4-3h0m-6-5h0m-22 6h0m-9 4h0m-2-4h0m-15-4h0m-2 7h0m0 1h0m-1-7h0m-1 6h0m-6-2h0m-12-1h0m-13 1h0m-6-6h0m-8 5h0m-2-6h0m-40 8h0m-12 1h0m-8-3h0m-4-2h0m-6-3h0m-2 2h0m-27 6h0m-7 2h0m-30-5h0m-24-1h0m-6-2h0m-12 2h0m-1-4h0m-5 7h0m-1-4h0m-16-4h0m-13 1h0m-15 11h0m6 11h0m9-10h0m5 10h0m14-1h0m24 0h0m0-2h0m1-4h0m27 6h0m17-3h0m5-4h0m17 3h0m7-2h0m15-4h0m7 0h0m10 7h0m27-2h0m47 5h0m32-5h0m15 2h0m3-1h0m3-4h0m5 0h0m4 3h0m0-2h0m14-3h0m1 7h0m9 2h0m9 0h0m5-6h0m25 4h0m6-4h0m4 1h0m1 2h0m3-4h0m4 0h0m2 0h0m3-2h0m23 2h0m-19 14h0m-3 4h0m-12-6h0m-16 1h0m-3 0h0m-30-1h0m-5 1h0m-13-3h0m-34 11h0m-9-11h0m-5 7h0m-11-2h0m-3 4h0m-5-5h0m-21-2h0m-6 3h0m-5 6h0m-6-8h0m-7 4h0m-4 1h0m-22-3h0m-37 0h0m-11 2h0m-23-2h0m-4 4h0m-1-7h0m-1-1h0m-2 1h0m-10 5h0m-5 1h0m-4-5h0m-27-1h0m-6 1h0m-27 1h0m-2 0h0m-8 2h0m-1-4h0m10 12h0m5 7h0m1-6h0m4 5h0m24-3h0m2 6h0m33-10h0m19 3h0m8 7h0m11-4h0m4-5h0m2-1h0m12 10h0m0-11h0m1 11h0m6 0h0m26-2h0m6-4h0m1-5h0m7 7h0m18 2h0m14-7h0m20 8h0m0 1h0m1-8h0m23 0h0m10 2h0m1-3h0m5 6h0m7-3h0m3-4h0m14 0h0m29 5h0m41 5h0m7-10h0m6-1h0m2 1h0m10 6h0m1 1h0m0-6h0m6 5h0m1 9h0m-12 2h0m-11-1h0m-4 3h0m-4-4h0m-8 1h0m0 4h0m-6 2h0m-14-7h0m-37 3h0m-1 2h0m0-7h0m-7 0h0m-17-2h0m-50 2h0m-8 9h0m-18-1h0m-6-7h0m-9-1h0m-2 8h0m-20 0h0m-20-4h0m-5-6h0m-1 7h0m-4 1h0m0-5h0m-26 6h0m-7-2h0m0 1h0m-4-6h0m-9 4h0m-6 4h0m-2 0h0m-19-5h0m-9 0h0m-47 15h0m42-1h0m31-3h0m4-4h0m12 11h0m3-8h0m1 2h0m3 6h0m1-5h0m4 1h0m0 0h0m0-4h0m6 3h0m0-2h0m7 2h0m1 2h0m6 2h0m32-10h0m15 11h0m28-5h0m17-4h0m84 2h0m0 6h0m4-4h0m22 0h0m4-4h0m15-1h0m4 9h0m4-3h0m1-5h0m3 7h0m6-5h0m2 2h0m15 3h0m8-6h0m0-2h0m3 7h0m2 12h0m-5-5h0m-1 5h0m-2 1h0m-2-5h0m-1-1h0m-1 0h0m-12 3h0m-7-6h0m-63 1h0m-12 2h0m-32 8h0m-6-7h0m-4 6h0m-1-9h0m-9 1h0m-33 3h0m-7 5h0m-25-6h0m-1 6h0m-1-3h0m-30 2h0m-3 0h0m-6-6h0m-11 2h0m-13-5h0m-8 5h0m-20 0h0m-30-3h0m-2 6h0m-14-2h0m-2-6h0m-3 6h0m-2-6h0m-12 12h0m14 2h0m21 2h0m9 1h0m16 0h0m5-2h0m2 4h0m2 3h0m21-9h0m38 3h0m118 0h0m12-1h0m6 5h0m3-1h0m7-1h0m2-3h0m6 5h0m26-1h0m1-7h0m5 7h0m3-3h0m6 5h0m13 0h0m4-6h0m9 7h0m7 0h0m23-3h0m4-6h0m2 1h0m-2 17h0m-7-2h0m-47 5h0m-11 0h0m-6-5h0m-4 6h0m-8-1h0m-32-8h0m0 6h0m-4-8h0m-51 6h0m-6 3h0m-2 1h0m-45 0h0m-18-1h0m-25-4h0m-16 6h0m-2-1h0m-8 0h0m-9-4h0m-2 3h0m-3-5h0m-3-1h0m-1 2h0m-8 0h0m0 0h0m0 2h0m-8-6h0m-25 5h0m-6 5h0m-7 1h0m4 6h0m11 4h0m21-5h0m6-1h0m2 0h0m6-2h0m6-2h0m44 2h0m20 8h0m5-4h0m2-1h0m4 3h0m35-8h0m13 7h0m13-4h0m17 0h0m7 2h0m2 4h0m1-7h0m8 9h0m3-3h0m2-7h0m2 4h0m5 3h0m2-6h0m19 2h0m4 7h0m12-6h0m2 6h0m3-1h0m0-5h0m3-1h0m9 5h0m2-7h0m1 3h0m6 1h0m16 2h0m1-2h0m9-2h0m7 0h0m4 4h0m6-6h0m2 9h0m3-3h0m1-3h0m4 5h0m4-9h0m-12 20h0m-3-6h0m-1 8h0m-12 0h0m-10-9h0m-2 0h0m-28-1h0m0 8h0m-3-5h0m-10 7h0m0-5h0m-13 1h0m-3 0h0m-5-4h0m-15 0h0m-6-2h0m-24 3h0m-15 0h0m-8 3h0m-9-6h0m-28 3h0m-2 6h0m-3-8h0m0 9h0m-2-3h0m-1-7h0m-5 6h0m-12-1h0m-4-1h0m-1 6h0m-36-10h0m-4 5h0m-1 2h0m-15 3h0m-1-4h0m-4-3h0m-8 5h0m-1 2h0m0-2h0m-9-8h0m-1 7h0m-1-8h0m-17 4h0m-15 2h0m5 13h0m20-7h0m1 1h0m8 3h0m5 0h0m10-1h0m14-2h0m0 0h0m24 7h0m3 1h0m2-8h0m16 3h0m2 5h0m12 1h0m1 1h0m8-9h0m1 9h0m33-1h0m7-3h0m24-4h0m38-1h0m28 0h0m1-1h0m12 0h0m25-1h0m0 11h0m13-7h0m0-2h0m3 5h0m0-3h0m4 1h0m2-2h0m7 2h0m8-2h0m-8 11h0m-2 7h0m0 2h0m-1-2h0m-5-4h0m-9-5h0m-6 0h0m-2 6h0m-29 3h0m-28-6h0m-2 6h0m-6-4h0m-3 6h0m-2-1h0m-64 0h0m-40-9h0m-16 0h0m-4 5h0m-5 0h0m-11-3h0m-8 7h0m-10-10h0m-6 9h0m-4-4h0m-7-3h0m-17 2h0m-13 3h0m-2 0h0m-5 3h0m-2-3h0m0-3h0m-4 4h0m-3 5h0m9-1h0m3 10h0m28-2h0m7 1h0m1-3h0m5 3h0m20-4h0m14-3h0m20 3h0m3 3h0m3 1h0m0-2h0m4 1h0m4 1h0m11 1h0m2-6h0m10 5h0m10-8h0m51 9h0m3-4h0m1 4h0m0-8h0m1 7h0m1-1h0m3-7h0m0 10h0m2-1h0m0-6h0m3 3h0m31 1h0m3-5h0m2 8h0m2-8h0m15 8h0m4-1h0m22-3h0m11-3h0m10 3h0m8 14h0m-7-6h0m-4 5h0m0-8h0m-3 7h0m-10-6h0m-14 0h0m-5 4h0m-6-5h0m-1 8h0m-6 0h0m-9-5h0m-2-1h0m-1 7h0m-4 1h0m-11-8h0m-32-2h0m-11 6h0m-9 1h0m-13-5h0m-2-2h0m-3 6h0m-34-3h0m-5-1h0m-9 5h0m-5 3h0m-2 1h0m-6 0h0m-26-3h0m-2-7h0m-3 7h0m-5-5h0m-11 2h0m-16 5h0m-9-8h0m-3 9h0m0-9h0m-2 3h0m-1 5h0m-11-8h0m-6 1h0m-3 19h0m8-5h0m26-1h0m18 6h0m8-6h0m2 7h0m48-6h0m8-4h0m43 4h0m30-1h0m2 6h0m2-4h0m5-6h0m4 9h0m3-7h0m9 2h0m2 7h0m12-10h0m0 8h0m1-7h0m1 8h0m26-8h0m44 0h0m8 3h0m2-3h0m3 3h0m-7 13h0m-21 0h0m-1 4h0m-5-10h0m-7 3h0m-14 0h0m-5 5h0m-13-1h0m-21 1h0m-23-5h0m-9 7h0m-7-5h0m-20-3h0m0-2h0m-5 3h0m-3 1h0m-4 7h0m-32-3h0m-3-3h0m-4 3h0m-12 2h0m-3-4h0m-4 0h0m-1-3h0m-2 3h0m-37 3h0m-1 0h0m-3-3h0m-1-3h0m-2 0h0m-3 0h0m-30 7h0m-1-10h0m-3 5h0m-3-2h0m20 10h0m5 5h0m4-4h0m6 6h0m7-3h0m3 6h0m2-6h0m0-4h0m1 7h0m11 2h0m1-2h0m1-8h0m52 2h0m107 0h0m5 4h0m4-5h0m5 5h0m31-1h0m-166 7h0m-28 6h0m-7 0h0m-1-2h0m-24 3h0m-20-7h0m-4 3h0m-3 2h0m27 10h0m2 4h0m27-7h0" stroke="#5ECACD" stroke-width="9.6" stroke-linecap="round" fill="none"/><path d="M107 1746h0m-10 15h0m28-6h0m2 1h0m-37 23h0m27 8h0m5-3h0m20 2h0m62-2h0m-5 15h0m-22 0h0m-2-4h0m-23-3h0m-6-4h0m-17 8h0m-12-6h0m0 9h0m-14-1h0m-36-6h0m-10 0h0m-3 10h0m7 1h0m4 5h0m4 2h0m25-7h0m7 7h0m4-9h0m7-1h0m3 0h0m17 7h0m3-6h0m23 0h0m24 0h0m3 9h0m1-5h0m1-2h0m5 6h0m3-6h0m2 0h0m1-1h0m1 0h0m6-1h0m5 10h0m5-9h0m10 5h0m2 1h0m3 13h0m-3-5h0m-1 1h0m-3-2h0m-2 8h0m-1-10h0m-2 8h0m-26-1h0m-3-8h0m-4 11h0m-33-4h0m-4 4h0m-20-11h0m-3 9h0m-2-8h0m-33 0h0m-2 2h0m-10 2h0m-10 0h0m-3 1h0m18 16h0m12 0h0m5-10h0m6 7h0m3 1h0m10-2h0m5-5h0m5 5h0m1 3h0m6-2h0m3 0h0m5-4h0m0 4h0m4 0h0m2 1h0m0-3h0m1 2h0m44 3h0m3 1h0m3-4h0m4-5h0m1 2h0m5 1h0m1-3h0m1 5h0m9 2h0m6 2h0m5-9h0m2-2h0m19 21h0m-3 2h0m-17-9h0m-4-2h0m-17 4h0m-7-3h0m-5 3h0m-2-2h0m-1 1h0m-6-1h0m-6 9h0m-2-9h0m-3 1h0m-4 3h0m-3-3h0m-3-3h0m-1 8h0m-17-5h0m0 3h0m-8 5h0m-3-3h0m-8-8h0m-10 2h0m-17 9h0m-2-5h0m-6-6h0m0 6h0m-4-4h0m-4 9h0m-4-2h0m-17 0h0m-1-2h0m-2-4h0m-9 5h0m34 4h0m6 7h0m1-3h0m10 4h0m4-4h0m3 4h0m2 0h0m0-5h0m6 3h0m9 5h0m2-8h0m3 7h0m5-10h0m9 6h0m8 2h0m6 3h0m11 0h0m2-9h0m29 3h0m2-3h0m9 7h0m0-8h0m1 3h0m4-3h0m3 9h0m8 1h0m2-9h0m3 8h0m13-10h0m12 14h0m-5 3h0m-6 2h0m0-3h0m-3 2h0m-2 3h0m-2 1h0m-1-5h0m-7-5h0m-11 9h0m0-8h0m-17 10h0m-9-1h0m-4 0h0m-3-10h0m-1 0h0m-1 9h0m-13-8h0m0 3h0m-1-3h0m-6 1h0m-3 2h0m-15-1h0m-5 0h0m-21-2h0m-1 1h0m-21 7h0m-8 0h0m-3 0h0m-4-7h0m-3 5h0m-16-6h0m-3 1h0m14 20h0m1-6h0m6-1h0m5 2h0m6-2h0m0 0h0m7 2h0m3 4h0m1-2h0m5-2h0m3 1h0m4-5h0m7 8h0m1-7h0m23 7h0m7-7h0m10 7h0m0-3h0m10 4h0m36-10h0m2 5h0m2-2h0m1 2h0m3-2h0m2-2h0m10 4h0m7-3h0m3-2h0m4 6h0m2 5h0m0-1h0m7-10h0m-6 21h0m-8-5h0m-4 5h0m-5 0h0m-11-2h0m-2 2h0m-11-1h0m-1-6h0m-10 0h0m-3-2h0m-24 6h0m-16-1h0m-9 0h0m-9-1h0m-2-3h0m-3 0h0m-10 8h0m-2 0h0m0 2h0m-4-4h0m0 1h0m-1 3h0m-8-3h0m-14 1h0m-19 0h0m4 6h0m9-2h0m7 4h0m14 6h0m4-2h0m1 1h0m18-10h0m18 1h0m12 2h0m4-2h0m14-1h0m16 5h0m3 3h0m1-2h0m1 3h0m3-9h0m0 5h0m15 1h0m6 1h0m23-7h0m0 2h0m4 0h0m1 9h0m1-7h0m-5 13h0m-4 4h0m0-4h0m-3-1h0m-14-4h0m-11 2h0m-3 3h0m-18-1h0m-3-3h0m-9 6h0m-2-5h0m-7 0h0m-6 1h0m-15 7h0m-2-10h0m-1 8h0m-7-1h0m0-4h0m-20 6h0m-9-9h0m-1 11h0m-7-9h0m0 4h0m0 2h0m-1-3h0m-16-2h0m-2-2h0m6 12h0m7 3h0m1 3h0m17 3h0m12-3h0m2-6h0m1 3h0m14 6h0m0-8h0m15 9h0m4-9h0m1 6h0m23 3h0m4 0h0m3-4h0m18-1h0m18-3h0m0-3h0m1 1h0m5 6h0m1-3h0m0-4h0m-17 12h0m-3 5h0m-7-1h0m-4 4h0m-1-3h0m-12 3h0m-2-3h0m-1 5h0m-15-9h0m-1-1h0m-17 1h0m-12 3h0m-13-4h0m-3 1h0m-7 9h0m-17-1h0m-2 2h0m5 9h0m3-2h0m1-4h0m2 2h0m8 0h0m2 0h0m0-3h0m18-1h0m6 7h0m6-4h0m47-3h0m-80 14h0" stroke="#F2F2F0" stroke-width="5" stroke-linecap="round" fill="none"/><path d="M109 1745h0m-1-1h0m-5 8h0m3 9h0m-9 5h0m-2 8h0m-6-7h0m-11 0h0m-16 9h0m7 4h0m13-3h0m4 0h0m14 1h0m8 1h0m96 8h0m-27 6h0m-52 1h0m-6-2h0m-8 2h0m0 2h0m-12-4h0m-14 2h0m-2-5h0m-17 6h0m-14-3h0m28 19h0m39 4h0m101 25h0m29 32h0m-139 68h0" stroke="#2F55AA" stroke-width="5" stroke-linecap="round" fill="none"/><path d="M88 1760h0m18 1h0m2-8h0m0 7h0m-13 5h0m-3 9h0m-2-10h0m-18 9h0m-8 6h0m4-1h0m16 4h0m1 3h0m27 1h0m10-9h0m77 8h0m7 8h0m-26-2h0m-22 5h0m-24-1h0m-6-2h0m0 4h0m-1-2h0m-18-7h0m-31 9h0m-14-2h0m-14 16h0m15-4h0m47-3h0m79-1h0m12 15h0m-11 4h0m-41-8h0m-25 9h0m-8-1h0m-26-7h0m-4 3h0m-34 11h0m74-5h0m25 6h0m56-3h0m47 20h0m-43-4h0m-28-7h0m-11 9h0m-33 0h0m-29-6h0m-14 6h0m1 13h0m10-9h0m77 1h0m29 6h0m37 15h0m-53-11h0m-16 1h0m-1 4h0m-12-1h0m-50-2h0m-52-2h0m13 18h0m87-1h0m3 4h0m27 2h0m7-9h0m7 7h0m39-9h0m-82 21h0m-31-6h0m-14 5h0m-3 14h0m19-8h0m86 8h0m29-10h0m-3 15h0m-3-1h0m-6 9h0m-13-8h0m-14 7h0m-20-5h0m-19-5h0m-27 3h0m-12 7h0m-15 0h0m-3-3h0m-7-5h0m-1 10h0m15 11h0m2-5h0m79 0h0m35-1h0m-45 14h0m-17 3h0m-2 1h0m-22-7h0m-24 4h0m-3 13h0m1-9h0m85 2h0" stroke="#A5B5E3" stroke-width="5" stroke-linecap="round" fill="none"/><path d="M106 1746h0m-16 5h0m-5 8h0m10-6h0m4 10h0m5-10h0m28 22h0m-19-4h0m-6-6h0m-22 0h0m-5 2h0m-1 8h0m-26 9h0m52 3h0m12 0h0m66-5h0m16 0h0m4 17h0m-21-10h0m-25 6h0m-2 4h0m-12-8h0m-19 8h0m-3 0h0m-54-1h0m-7 1h0m-10 2h0m4 6h0m11 3h0m1-8h0m13-2h0m2 8h0m14-1h0m3 2h0m6-5h0m0 4h0m4-8h0m5 2h0m3 2h0m6 3h0m2 2h0m7 1h0m5-7h0m28-3h0m28 11h0m6-9h0m5-1h0m7 2h0m3-1h0m5 1h0m7 12h0m-8-1h0m-6 8h0m0-4h0m-2-1h0m-16-3h0m-3 4h0m-2-6h0m-7 11h0m-58-4h0m-37 3h0m0-3h0m-4 3h0m-6-1h0m-3-7h0m-17 17h0m4 0h0m21-5h0m1 4h0m12-1h0m21 6h0m3-7h0m2 0h0m4 7h0m7 0h0m39-2h0m20-7h0m24 0h0m15-2h0m2 1h0m1 9h0m10-8h0m12 19h0m-3 1h0m-6 0h0m-16 0h0m-1-1h0m-6-5h0m-14 7h0m-3-1h0m-4-1h0m-1-7h0m-4 7h0m-1-1h0m0-5h0m-4 6h0m-64-3h0m-7-1h0m-15-1h0m-3-3h0m-3 0h0m-6-1h0m-9 11h0m-4-1h0m-8 1h0m-1-9h0m-6 16h0m20 2h0m1-3h0m30 5h0m3-7h0m5-2h0m2 3h0m8 3h0m5 4h0m1-9h0m7-2h0m28 2h0m1 5h0m2-5h0m2 1h0m5 8h0m12-2h0m11-5h0m7 0h0m2 5h0m5-1h0m1 2h0m26-4h0m11 16h0m-3-4h0m-21-6h0m-2 2h0m-4 0h0m-5 5h0m-11-1h0m-12 5h0m-1-1h0m-1-6h0m-18 0h0m-2 3h0m-18 3h0m-14-3h0m-1 1h0m-12 3h0m-18-8h0m-18 4h0m-7-1h0m-9 1h0m-4 0h0m-3 5h0m27 1h0m8 6h0m20 3h0m5-4h0m10-6h0m7 6h0m6 5h0m4-4h0m13-2h0m9 1h0m9 1h0m2-3h0m2-2h0m14 0h0m4 2h0m3-2h0m6 9h0m12-5h0m6-5h0m7 8h0m5 10h0m-1 0h0m-10-4h0m-3 0h0m-2 4h0m-24 3h0m-1-5h0m0 6h0m-32-10h0m-1 1h0m-14-2h0m-1 3h0m-4-1h0m-6 8h0m-7-4h0m-22-1h0m-3 6h0m0-7h0m-1 0h0m-1-2h0m-7 4h0m-9-3h0m-6 9h0m11 5h0m3-4h0m1 5h0m2 4h0m6-9h0m19 4h0m39 5h0m11-9h0m12 6h0m20-3h0m3 2h0m19-5h0m6-1h0m4 6h0m2-2h0m-7 12h0m-6-2h0m-2 7h0m-4 2h0m-1-5h0m-1-2h0m-10-1h0m-1 1h0m-6 1h0m-1 5h0m0-2h0m-1-5h0m-3 8h0m-2-6h0m-4 2h0m-7-6h0m-3 2h0m-7-1h0m-18 4h0m-18 5h0m-6-3h0m-3-3h0m-17-5h0m-1 0h0m-7 8h0m-5 1h0m-2-7h0m-11 5h0m-4-2h0m-3 3h0m13 9h0m4-5h0m2 4h0m8 7h0m12-10h0m11 4h0m5-3h0m23-1h0m22 7h0m1 3h0m2 0h0m2-1h0m3-5h0m11 5h0m2-2h0m1 0h0m14-6h0m3 1h0m9 3h0m6 11h0m0-2h0m-3-2h0m-1 4h0m-1-5h0m-9 9h0m-3 1h0m0-10h0m-6 11h0m-2-11h0m-13 1h0m-5 5h0m0 3h0m-4-4h0m-5-5h0m-2 8h0m-3-6h0m-11 7h0m-21 2h0m-2-8h0m0 3h0m-3-2h0m-7 7h0m-8-8h0m-2 0h0m-10 8h0m-17-10h0m-2 0h0m8 19h0m6-5h0m8-1h0m0 3h0m8 4h0m3 0h0m16-9h0m54 4h0m18 0h0m8-4h0" stroke="#F2F2F0" stroke-width="5" stroke-linecap="round" fill="none"/><path d="M114 1749h0m-2-3h0m-2 2h0m-12-2h0m-7 3h0m-3 4h0m4 10h0m11-1h0m4-7h0m16 2h0m7 13h0m-21-4h0m-3 0h0m-20 1h0m-24 9h0m9 0h0m13 8h0m3 1h0m30-1h0m16-5h0m3-1h0m6 8h0m52 1h0m-74 9h0m-5-8h0m-40 9h0m-10-1h0m4 5h0m148 10h0m-146 30h0m62 7h0m56 47h0m-30 19h0m5 19h0" stroke="#2F55AA" stroke-width="5" stroke-linecap="round" fill="none"/><path d="M111 1751h0m-2-5h0m-4 4h0m-12-2h0m-1-3h0m-6 16h0m3-1h0m6-7h0m8 10h0m4-11h0m23 21h0m-2-5h0m-16 6h0m-7-9h0m-6 0h0m0 0h0m-5 1h0m-1 5h0m-21 2h0m-20 14h0m51-2h0m4-2h0m9 1h0m62 1h0m14 5h0m-9 4h0m-37 0h0m-60-4h0m-3 2h0m-11 1h0m-6 0h0m-14 12h0m29-2h0m17 2h0m11-2h0m11 8h0m20-8h0m33-1h0m12 1h0m0 6h0m3 1h0m1-2h0m4 7h0m-64 6h0m-5-5h0m-54 2h0m-16-6h0m10 19h0m33-2h0m42-2h0m2-3h0m1 0h0m9 1h0m3 7h0m73-2h0m-2 14h0m-34-1h0m-13-2h0m-1-4h0m-22 5h0m-11 4h0m-17-1h0m-13 0h0m-11 0h0m-16-5h0m-15 0h0m37 13h0m7 6h0m21-5h0m18 1h0m8 2h0m43-5h0m7 1h0m4 0h0m2 6h0m33-11h0m4 18h0m-5 5h0m-30-10h0m-18 3h0m-19 3h0m-3 2h0m-25 2h0m-5-3h0m-19 3h0m-7-8h0m-48 16h0m40-2h0m14 2h0m5-6h0m110 8h0m1-9h0m-4 23h0m0-3h0m-2 2h0m-3-4h0m-3 1h0m-3-4h0m-17 1h0m-38 3h0m-24-6h0m-18 9h0m-18-6h0m-18 10h0m17 5h0m39-4h0m83 1h0m13-4h0m-10 14h0m-3 4h0m-11-4h0m-3-2h0m-1 7h0m-3-7h0m-9 8h0m-9-1h0m-11-4h0m-30 6h0m-3-3h0m0 3h0m-49 9h0m18-1h0m35 6h0m76-1h0m2-10h0m3 9h0m2-3h0m5 13h0m-4-4h0m-26 1h0m-28 7h0m-9-5h0m-1-4h0m-45 4h0m-17-5h0m8 16h0m35-4h0m56-1h0m30 0h0" stroke="#A5B5E3" stroke-width="5" stroke-linecap="round" fill="none"/><path d="M106 1751h0m-15 2h0m13 7h0m2-7h0m3 14h0m-3 0h0m-12 2h0m0 5h0m-10-9h0m-1 9h0m8 12h0m6-7h0m8 2h0m2 0h0m5 2h0m15 2h0m59-5h0m27 19h0m-7-1h0m-27-4h0m-25-1h0m-23 6h0m-7-8h0m-2 5h0m-17-7h0m-55 19h0m16-1h0m9-2h0m12-2h0m2 2h0m2-5h0m21 4h0m25-2h0m27-2h0m16 2h0m4-2h0m4 8h0m1 1h0m1-4h0m2 6h0m15-9h0m3 5h0m0-7h0m2 0h0m24 21h0m-19 2h0m-12-7h0m-10 0h0m-2 3h0m-7 2h0m-7-2h0m-3 1h0m-3-1h0m-29-5h0m-3 7h0m-14-3h0m-5 3h0m-29 1h0m-10 1h0m-6-10h0m-5 8h0m-3-2h0m0-4h0m-5 8h0m-8-7h0m-2-1h0m-2 1h0m-1 12h0m0-3h0m7 1h0m6 2h0m14 2h0m1-4h0m37-2h0m3 0h0m1 6h0m10 5h0m19 0h0m36-2h0m8 2h0m9-6h0m1 0h0m0-1h0m1 3h0m0 3h0m2-7h0m4 1h0m5 7h0m2-2h0m1-1h0m4 1h0m6-6h0m13-2h0m10 22h0m-9-5h0m-1 3h0m-22-4h0m-3 3h0m-1-7h0m-16 1h0m-4 4h0m-3 5h0m-1-1h0m-1-1h0m-4 2h0m-4-7h0m-1-2h0m0 3h0m-1-4h0m-6 5h0m-28-6h0m-1 8h0m-2-8h0m-3 9h0m-5-8h0m-12 4h0m-10 2h0m-17-5h0m-12 2h0m-26-3h0m3 13h0m8 2h0m28 7h0m1-9h0m7 8h0m3-7h0m6 0h0m10 0h0m2-3h0m13 9h0m5-6h0m3 1h0m24-1h0m3 0h0m5 4h0m13 3h0m5-10h0m3 3h0m2-3h0m1 9h0m0-3h0m1-3h0m16 1h0m1 6h0m1-4h0m16 4h0m1-2h0m1-8h0m4 8h0m21 0h0m0 6h0m-8 7h0m-5 1h0m0-1h0m-2 0h0m-14-1h0m-7 2h0m-13-8h0m-1 7h0m0-2h0m-12 1h0m-3-8h0m-6 6h0m-7 4h0m0-5h0m-4-5h0m-2 6h0m-3 0h0m-25 3h0m-18-7h0m-9-1h0m-8 8h0m0-3h0m-13 2h0m-8 2h0m-8-7h0m-10 13h0m2 6h0m2-10h0m11 5h0m3 6h0m18-8h0m3 1h0m1 4h0m2 2h0m2-8h0m15 7h0m5-9h0m8 2h0m14 5h0m19-4h0m3 5h0m13 0h0m4 3h0m1-2h0m1-7h0m2-2h0m2 0h0m2 1h0m28 1h0m5-1h0m1 4h0m3 4h0m9 2h0m0 4h0m-3-3h0m-2 4h0m-2 6h0m-5-6h0m-3-3h0m-2 4h0m-4 5h0m-21-2h0m-5-6h0m-42 3h0m-28-4h0m-2 3h0m-1-3h0m-8-1h0m-1 8h0m-3-1h0m-1-6h0m-10 5h0m-1-1h0m-17-4h0m-7 10h0m-4-11h0m-3 0h0m8 16h0m0-3h0m8 9h0m5-4h0m6 2h0m3 2h0m1-5h0m11-1h0m12 6h0m4-8h0m15-2h0m34 3h0m4 0h0m2 2h0m12 1h0m20-1h0m18 2h0m8-5h0m1 8h0m0 3h0m-5 10h0m-1-1h0m0-4h0m-12-3h0m-4 7h0m-5-10h0m-3 9h0m-4 1h0m-1-7h0m-7 5h0m-2-6h0m-8 9h0m-3-5h0m-3-2h0m-11 7h0m-4-4h0m-4 1h0m-10-7h0m-6 6h0m-10-3h0m-3-4h0m-1 10h0m-2 1h0m-8-9h0m-6 4h0m-6 5h0m0-11h0m-1 10h0m-7-9h0m-2 9h0m0-1h0m-7-6h0m-1 7h0m0 0h0m-12-10h0m7 20h0m1-2h0m2-1h0m2 6h0m13 0h0m3-7h0m7-1h0m5 6h0m9-4h0m2-4h0m1 2h0m3 6h0m3 2h0m0-1h0m2 0h0m0-7h0m1-1h0m0 9h0m6-2h0m11-2h0m23 3h0m1 1h0m2-3h0m1 1h0m3-2h0m5-3h0m26 1h0m7-5h0m6 10h0m4 9h0m-7-4h0m-13-1h0m-3 1h0m-3 0h0m-4-2h0m-1 0h0m-7 4h0m0 3h0m-18-2h0m-6-3h0m-7 7h0m-20-5h0m-25 4h0m-10 2h0m-3-5h0m0-2h0m-4-3h0m-1 3h0m-1-2h0m0 2h0m-6 2h0m2 7h0m17 5h0m1-5h0m6 5h0m0-1h0m0-3h0m2 6h0m2 3h0m10-11h0m1 1h0m23 0h0m18 0h0m17 2h0m6 1h0m7-4h0m14 1h0" stroke="#F2F2F0" stroke-width="5" stroke-linecap="round" fill="none"/><path d="M108 1749h0m-10-5h0m-2 3h0m7 15h0m4 1h0m1-1h0m4 5h0m-18 5h0m-1-2h0m-3 2h0m-3-6h0m-18 7h0m19 10h0m9 0h0m9 4h0m22-10h0m3 10h0m14 0h0m52 9h0m-66 0h0m-7 1h0m-7-2h0m-17 2h0m5 4h0m17 8h0m115 9h0m-65-2h0m-98 4h0m-9 6h0m120 21h0m-68-1h0m104 21h0m-75-1h0" stroke="#2F55AA" stroke-width="5" stroke-linecap="round" fill="none"/><path d="M105 1748h0m-7-5h0m-9 5h0m5 8h0m9 4h0m0-4h0m1 1h0m1 3h0m11 0h0m10 15h0m-7 0h0m-4-9h0m0 2h0m-27 6h0m-12 0h0m-24 13h0m6-8h0m8 1h0m9-3h0m7-1h0m18 9h0m14-3h0m13 5h0m0-5h0m8 2h0m2-2h0m51 0h0m-1 8h0m-8 0h0m-52 3h0m-20 5h0m-23-6h0m-23 2h0m-1-2h0m-9 10h0m16 4h0m6-2h0m42-4h0m1 4h0m21 0h0m45-3h0m18-1h0m-9 21h0m-57-1h0m-8 3h0m-2-4h0m-21 4h0m-17-2h0m-9-1h0m-6-3h0m0-2h0m-3 1h0m0 2h0m-15 1h0m-3 1h0m10 5h0m62 4h0m53 0h0m5 10h0m-71 1h0m-53 1h0m39 16h0m12 2h0m80-9h0m40 1h0m16 2h0m-3 13h0m-30 3h0m-8-1h0m-6-8h0m-28 1h0m-75 0h0m-6 3h0m-11 13h0m4 1h0m75 5h0m34-5h0m5 4h0m5 0h0m52-3h0m-68 6h0m-43 3h0m-8 5h0m0-1h0m-6 1h0m-24-6h0m-10 8h0m22 11h0m18-9h0m46 10h0m28 0h0m6-4h0m24 0h0m6 0h0m-17 11h0m-33-2h0m-62 4h0m-23 11h0m35 1h0m56 3h0m30 0h0m12 1h0m-21 0h0m-68 10h0m-18-8h0m-20 9h0m16 13h0" stroke="#A5B5E3" stroke-width="5" stroke-linecap="round" fill="none"/><path d="M342 1745h0m-1-1h0m-1 2h0m-19 14h0m10 1h0m5-9h0m3 9h0m2-1h0m1-7h0m17 2h0m1 1h0m-30 10h0m-2 8h0m-3 0h0m-2-10h0m0 3h0m-12 0h0m-6 6h0m-10 3h0m2 3h0m18-2h0m2 5h0m3-5h0m3 2h0m10-1h0m8 1h0m9 8h0m5-3h0m0-7h0m77 8h0m7 8h0m-48 3h0m-12-8h0m-17 8h0m-1-3h0m-1 2h0m-2-1h0m-7 5h0m-1-9h0m-6 4h0m0 2h0m-2-8h0m-6 10h0m-4-6h0m-14 2h0m-1-5h0m-17 3h0m-1 3h0m-9-3h0m-5 0h0m-2 19h0m11-8h0m4 4h0m0 1h0m5 2h0m11 1h0m13-8h0m18 1h0m3-4h0m17 7h0m3-6h0m23 0h0m24 0h0m4 4h0m6 4h0m4-6h0m2-1h0m1 0h0m16 0h0m10 5h0m3 1h0m2 13h0m-3-5h0m-1 1h0m-3-2h0m-31 5h0m0 2h0m-3-10h0m-37 7h0m-1-5h0m-3 9h0m-20-11h0m-2 11h0m-1-2h0m-2-8h0m-4 2h0m-1 7h0m-26-7h0m-4 3h0m0-3h0m-20 2h0m-3 1h0m-11 11h0m30 5h0m12 0h0m4-10h0m6 7h0m22-7h0m1 6h0m1 3h0m6-2h0m3 0h0m5-4h0m4 4h0m2 1h0m0-3h0m48 6h0m4-4h0m3-5h0m2 2h0m2-1h0m4-1h0m1 5h0m8 2h0m6 2h0m5-9h0m21 19h0m-20-7h0m-4-2h0m-17 4h0m-12 0h0m-2-2h0m-7 0h0m-6 9h0m-1-11h0m0 2h0m-14-2h0m-1 8h0m-17-5h0m0 3h0m-10 2h0m-2 1h0m-28-6h0m-6 8h0m-2-5h0m-6-6h0m-4 2h0m-4 9h0m-21-2h0m-1-2h0m-2-4h0m-9 5h0m34 4h0m6 7h0m1 3h0m0-6h0m10-3h0m4 3h0m4 4h0m1-5h0m1 5h0m14 3h0m33 0h0m11 0h0m2-9h0m31 0h0m9-1h0m1 3h0m4-3h0m3 9h0m10-8h0m3 8h0m20 7h0m-6-1h0m-2 7h0m-1-5h0m-2 3h0m-2 1h0m-1-5h0m-18 4h0m-26 1h0m-3-10h0m0 10h0m-3-10h0m-1 0h0m-2 9h0m-11-4h0m-2-4h0m0 3h0m-25-1h0m-5 0h0m-21-2h0m-1 1h0m-8 0h0m-21 7h0m-10-2h0m-19-5h0m11 16h0m4-2h0m7-1h0m5 2h0m22 0h0m2 1h0m11 3h0m1-7h0m23 7h0m7-7h0m10 7h0m10 1h0m15 1h0m7-9h0m14-2h0m3 5h0m1-2h0m4 0h0m12 2h0m7-3h0m3-2h0m2 0h0m2 6h0m2 5h0m7-11h0m-6 21h0m-12 0h0m-16-2h0m-14-5h0m-10 0h0m-3-2h0m-32 9h0m-8-4h0m-18-1h0m-2-3h0m-2 2h0m-10 6h0m-3 0h0m-2-1h0m-2-1h0m0 1h0m-9 0h0m-33 1h0m13 4h0m7 4h0m14 6h0m7-1h0m16-10h0m3 2h0m15-1h0m16 0h0m30 4h0m8-5h0m1 5h0m14 1h0m2 4h0m4-3h0m24-5h0m4 9h0m-4 6h0m-2-2h0m-2 6h0m0-4h0m-1-3h0m-2 2h0m-4 7h0m-13-8h0m-8-1h0m-21 2h0m-5 1h0m-7 2h0m-30 3h0m-2-10h0m-1 8h0m-6-5h0m0 0h0m-1 4h0m-10 3h0m-10-1h0m-9-9h0m-7 2h0m-1 4h0m-17-3h0m-2-2h0m6 12h0m7 3h0m1 3h0m5-7h0m13 10h0m13-9h0m30 10h0m4-9h0m31 5h0m5-1h0m13 0h0m18-3h0m0-3h0m1 1h0m5 6h0m-16 5h0m-3 5h0m-11 3h0m-1-3h0m-12 3h0m-2-3h0m-2 2h0m-14-6h0m-1-1h0m-2 10h0m-24-6h0m-19-3h0m-5 7h0m-2 2h0m-19 1h0m-2-3h0m7 12h0m4-6h0m2 2h0m7 5h0m1-5h0m2 0h0m0-3h0m30 2h0" stroke="#F2F2F0" stroke-width="5" stroke-linecap="round" fill="none"/><path d="M385 1792h0m-18 3h0m-29 6h0m7-1h0m98 11h0m-120 2h0m19 19h0m10-2h0m25 1h0m67-2h0m-30 10h0m-7 6h0m-65 11h0m15-2h0m95 3h0m16 2h0m18-11h0m12 14h0m-173 0h0m-8 20h0m28-1h0m73 15h0m48 12h0m-60 20h0m70-3h0" stroke="#D8281C" stroke-width="5" stroke-linecap="round" fill="none"/><path d="M339 1761h0m-11 4h0m-27 13h0m1 2h0m16 5h0m27 1h0m31 0h0m61 1h0m0-3h0m-5 15h0m-19-8h0m-2 8h0m-1-6h0m-2 2h0m-47 2h0m-8-5h0m-42 5h0m-14-2h0m-10 7h0m48 8h0m83 0h0m2-7h0m4 0h0m6 0h0m8-2h0m16 22h0m-1-10h0m-1 8h0m-16-3h0m-18 5h0m-107-6h0m46 8h0m27 6h0m2-1h0m42 4h0m40-10h0m21 23h0m-5 0h0m-31-7h0m-7 3h0m-7-6h0m-8 2h0m-21 3h0m-3-3h0m-29 8h0m-11-11h0m-10 2h0m-25 4h0m-1 3h0m-11 0h0m48 6h0m4 7h0m4-10h0m9 6h0m8 2h0m26-6h0m22 3h0m7 3h0m40 11h0m-16-7h0m-11 1h0m-17 10h0m-28-10h0m-4 0h0m-6 1h0m-3 2h0m0 0h0m-63 5h0m-11 0h0m-23-8h0m-4-1h0m33 15h0m0 0h0m7 2h0m4 2h0m12-6h0m43 4h0m3 4h0m2-3h0m39 3h0m12-4h0m5-4h0m21-1h0m5 10h0m-7 6h0m-9 5h0m-12 0h0m-12-1h0m-38-2h0m-25-1h0m-14-4h0m-12 10h0m-5 0h0m-22-2h0m-15 6h0m34 6h0m1 1h0m48-7h0m37 5h0m1-2h0m1 3h0m47-9h0m2 0h0m2 2h0m2 2h0m-40 13h0m-3 5h0m-18-9h0m-11 1h0m-7 0h0m-3-2h0m-3 3h0m-51 7h0m-3-3h0m-1 4h0m-7-9h0m0 6h0m-1-3h0m16 18h0m2-5h0m7 1h0m3-3h0m14 6h0m0-8h0m43 9h0m5 0h0m45-7h0m0-4h0m-27 16h0m-20 6h0m-20 1h0m-12-10h0m-13 3h0m-12-4h0m-27 9h0m5 9h0m11-6h0m20 0h0m6 7h0m53-7h0m6 2h0m-86 12h0" stroke="#FCB6A3" stroke-width="5" stroke-linecap="round" fill="none"/><path d="M347 1749h0m-2-3h0m-1 5h0m-1-3h0m-1-2h0m-3 0h0m-1 4h0m-12-2h0m0-3h0m-2 4h0m-1 2h0m-5 8h0m1 2h0m2-8h0m1 7h0m3 3h0m3-10h0m1 0h0m3 10h0m4 0h0m0-1h0m1-9h0m3 2h0m0-3h0m16 5h0m10 18h0m-3-5h0m0 3h0m-2-5h0m-15 3h0m-1 3h0m-2-8h0m-3-1h0m-1 1h0m-1-1h0m-6 0h0m0 0h0m-5 1h0m-8 1h0m-1-2h0m-5 2h0m-1 8h0m-7-2h0m-20 14h0m1-3h0m9-8h0m9 0h0m13 8h0m3 1h0m20-2h0m9 1h0m1 3h0m0-3h0m16-5h0m3-1h0m42 7h0m16 2h0m5-5h0m4 17h0m-11-9h0m-10-1h0m-36 5h0m-3-3h0m-19 8h0m-3 0h0m-35-9h0m-3 2h0m-8 5h0m-10-1h0m-15 5h0m2 4h0m3 2h0m10 3h0m15-10h0m1 8h0m14-1h0m3 2h0m0-4h0m6-1h0m0 4h0m4-8h0m1 3h0m5-1h0m2 2h0m6 3h0m2 2h0m7 1h0m5-7h0m4 0h0m24-3h0m9 2h0m12 7h0m3 1h0m1-2h0m9-6h0m5-1h0m9 21h0m-1-4h0m-2-1h0m-21-5h0m-59 9h0m-5-5h0m-38 6h0m-4 0h0m-6-1h0m-3-7h0m-3 4h0m-10 13h0m4 0h0m18-1h0m15-1h0m18 6h0m5-7h0m4 7h0m7 0h0m10-11h0m2 0h0m8 1h0m3 7h0m36-6h0m39-2h0m3 10h0m0-9h0m22 20h0m-2 1h0m-26-2h0m-4-4h0m-16 6h0m-9-1h0m-2-1h0m0-5h0m-17-2h0m0 4h0m-22 1h0m-12 4h0m-17-1h0m0-3h0m-13 3h0m-8-5h0m-3 5h0m-1-8h0m-9-1h0m-5 4h0m-4 7h0m-3-1h0m-9-6h0m0 7h0m-1-6h0m0-3h0m-6 16h0m20 2h0m31 3h0m11-7h0m6-4h0m1 7h0m5 4h0m8-11h0m8 7h0m20-5h0m5 1h0m5 8h0m24-7h0m6 0h0m2 1h0m0 4h0m5-1h0m27-2h0m4-6h0m4 18h0m-1 0h0m-5 5h0m-17-9h0m-3 0h0m-6 5h0m-22-3h0m-1 7h0m-18-4h0m-1-3h0m-3 3h0m-24 4h0m-5-3h0m-4 0h0m-12 3h0m-3 0h0m-39-5h0m-14 1h0m-3 5h0m1 7h0m40-2h0m19-4h0m10-1h0m17 7h0m13-2h0m9 1h0m9 1h0m22-3h0m9 7h0m12-5h0m6-5h0m4 8h0m8 10h0m-11-4h0m-1 8h0m0-3h0m-2 2h0m-9-7h0m-17 2h0m-1 6h0m-25 0h0m-8-9h0m-4 5h0m-11-4h0m-4-1h0m-6 8h0m-7-4h0m-22-1h0m-12 1h0m-9-3h0m-6 9h0m14 1h0m1 5h0m1 1h0m39-4h0m26 7h0m23-3h0m20-3h0m3 2h0m11-2h0m8-3h0m6-1h0m0 0h0m4 6h0m2-2h0m-6 12h0m-7-2h0m-2 7h0m-6-5h0m-10-1h0m0-1h0m-1 2h0m-2 3h0m-4-2h0m-1 3h0m-1-5h0m-2 8h0m-3-6h0m-11-4h0m-3 2h0m-7-1h0m-1 1h0m-17 3h0m-13 3h0m-1-3h0m-2 3h0m-2 2h0m-6-3h0m-3-3h0m-17-5h0m-8 8h0m-5 1h0m-2-7h0m-5 15h0m5-5h0m1 4h0m8 7h0m3-6h0m36 6h0m12-10h0m25 10h0m5-6h0m14 3h0m14-6h0m7-2h0m10 19h0m-4-4h0m-12 7h0m-6 1h0m-8-7h0m-12 5h0m-11-1h0m-3-6h0m-2 9h0m-9-5h0m0 3h0m-1-7h0m-18-1h0m-2 10h0m-2-5h0m-2-2h0m-8 7h0m-10-8h0m-20-2h0m-6 0h0m-3 0h0m8 19h0m6-5h0m3 2h0m5-3h0m11 7h0m16-9h0m54 4h0m5-4h0m13 4h0m8-4h0m9 0h0" stroke="#F2F2F0" stroke-width="5" stroke-linecap="round" fill="none"/><path d="M336 1785h0m17 11h0m-5-8h0m-43 5h0m-12 6h0m157 12h0m1-8h0m7 12h0m-44 8h0m-127-11h0m40 17h0m15 24h0m15-4h0m137 21h0m-178-3h0m155 23h0m-116-4h0m117 33h0m-19-11h0m-18 7h0m-44-1h0m44 16h0m34-7h0m9 3h0m-32 7h0" stroke="#D8281C" stroke-width="5" stroke-linecap="round" fill="none"/><path d="M331 1746h0m-5 25h0m12 16h0m37-1h0m41-4h0m0 12h0m-26 1h0m-2 4h0m-88-1h0m-1-5h0m1 9h0m2-1h0m12 2h0m39 8h0m65-8h0m7 8h0m19-8h0m2-1h0m4 12h0m-24 1h0m0-1h0m-3 4h0m-67 1h0m-37 0h0m-30 12h0m25-5h0m37 2h0m21-1h0m31 6h0m44-7h0m13 4h0m15-4h0m3 20h0m-16 0h0m-1-1h0m-20 2h0m-7-2h0m-1-7h0m-9 7h0m0-2h0m-71-2h0m-21-4h0m-13 16h0m30 5h0m3-7h0m18 3h0m3-4h0m23 7h0m13-2h0m2-5h0m19 7h0m9-5h0m7 1h0m6 6h0m5-1h0m12 2h0m-15 1h0m-7 5h0m-13 4h0m-1-6h0m-19 5h0m-19 1h0m-14-3h0m-23-4h0m-8 0h0m-18 4h0m4 6h0m8 6h0m20 0h0m0 3h0m5-4h0m17 0h0m6 5h0m37-7h0m2-2h0m14 0h0m7 0h0m28-2h0m3 9h0m5 10h0m-14-4h0m-2 4h0m-4 0h0m-20 3h0m0-6h0m-32-3h0m-16-1h0m-14 1h0m-18 9h0m-11-6h0m0 7h0m0-7h0m-6 0h0m-19 10h0m12 3h0m6 5h0m6-9h0m19 4h0m50-4h0m50 13h0m-4 4h0m0 0h0m-14-6h0m-5 10h0m-7-2h0m-3-1h0m-80-7h0m-25 7h0m-4-2h0m-3 3h0m12 10h0m27-5h0m11 4h0m5-3h0m46 9h0m0-3h0m18 2h0m2-2h0m20 2h0m5-1h0m2-3h0m6 11h0m0-2h0m-3-2h0m-1 4h0m-1-5h0m-9 9h0m-3-9h0m-8 0h0m-18 6h0m-4-1h0m-5-5h0m-39 3h0m-18 0h0m-5 3h0m-7 5h0m3 6h0m8 4h0m22-8h0" stroke="#FCB6A3" stroke-width="5" stroke-linecap="round" fill="none"/><path d="M342 1749h0m-3 2h0m-1-3h0m-7-4h0m0-1h0m-2 4h0m-7 1h0m2 5h0m3 3h0m9 4h0m0 2h0m1-5h0m0 3h0m0-4h0m1 4h0m1-7h0m1 10h0m1-1h0m8-2h0m11 15h0m-8 0h0m-4-9h0m0 2h0m-3-1h0m-3 0h0m-3 0h0m-11 2h0m-1 5h0m0-2h0m-1-2h0m-3 2h0m-2 2h0m-1-8h0m-3-1h0m-1 9h0m-7 0h0m-7-1h0m-11 6h0m8 1h0m9-3h0m8-1h0m5 7h0m9 0h0m0-4h0m3 6h0m6 2h0m0-6h0m1 0h0m7 1h0m13 5h0m0-5h0m1-5h0m3 10h0m4-3h0m2-2h0m8 5h0m43-5h0m19 16h0m-10-2h0m-18-6h0m-25 3h0m-23 6h0m0-3h0m-4-3h0m-3-2h0m-2 5h0m-15 2h0m-7-1h0m-39-3h0m-10 8h0m17 4h0m5-2h0m2 1h0m14 0h0m2-5h0m14 1h0m7 3h0m4 0h0m21-2h0m43 0h0m2-1h0m2-1h0m4 8h0m1 1h0m1-4h0m2 6h0m8-11h0m7 2h0m3-2h0m2 0h0m5 23h0m-11-7h0m-15 5h0m-4 0h0m-8-2h0m-3 1h0m-3-1h0m-29-5h0m-10 6h0m-8 3h0m-2-4h0m-2 2h0m-38 2h0m-6-3h0m-4 0h0m-2 1h0m-1-6h0m-2 4h0m0-4h0m-1 1h0m-14-1h0m-1 4h0m-1-3h0m-2 4h0m1 8h0m0-3h0m9 0h0m4 3h0m2-2h0m12 4h0m1-4h0m37-2h0m4 6h0m11 5h0m18 0h0m26-6h0m10 4h0m8 2h0m10-6h0m0 0h0m1 2h0m0 3h0m2-7h0m4 1h0m5 7h0m7-2h0m7-6h0m12-2h0m10 22h0m-10-2h0m-26-8h0m-16 1h0m-8 8h0m-5 1h0m-1 0h0m-3-7h0m-1-2h0m0 3h0m-1-4h0m-5 5h0m-29-6h0m-37 4h0m-13-2h0m-12 2h0m-26-3h0m3 13h0m34 7h0m2 2h0m11-8h0m18-3h0m13 9h0m5-6h0m3 1h0m24-1h0m3 0h0m5 4h0m8-5h0m16 4h0m0-6h0m1 9h0m16-5h0m1 6h0m1-4h0m21-1h0m1 3h0m21 0h0m0 6h0m-12 8h0m-24 0h0m-8-3h0m-6 2h0m0-2h0m-12 1h0m-1 0h0m-6-8h0m-9 10h0m-4-10h0m-5 6h0m-32 0h0m-20-5h0m-8 5h0m-21 4h0m-4-9h0m-3 2h0m-2 1h0m-9 12h0m2 2h0m0 4h0m2-10h0m11 5h0m21-2h0m3 1h0m1 4h0m4-6h0m15 7h0m5-9h0m12 11h0m32-3h0m2-2h0m10 4h0m6-1h0m5-9h0m2 1h0m28 1h0m9 7h0m3-2h0m6 4h0m1 4h0m-6 1h0m-7 0h0m-3-3h0m-2 4h0m-4 5h0m-21-2h0m-5-6h0m-28-1h0m-14 4h0m-30-1h0m-1-3h0m-6 8h0m0-1h0m-3 0h0m-3 1h0m0-2h0m-11-1h0m-1-1h0m-12-2h0m-5-2h0m-5 10h0m-2 0h0m-7-11h0m8 16h0m0-3h0m13 5h0m10 4h0m23 0h0m4-8h0m15-2h0m22 11h0m12-8h0m4 0h0m2 2h0m10 6h0m3-5h0m19-1h0m8 2h0m18-5h0m1 8h0m-5 13h0m-1-5h0m-21-6h0m-3 9h0m-5-6h0m-7 5h0m-2-6h0m-8 9h0m-6-7h0m-5 0h0m-30 3h0m-13-7h0m-1 10h0m-2 1h0m-20-11h0m-10 9h0m-7-6h0m0 7h0m-1 0h0m-12-10h0m7 20h0m1-2h0m3 1h0m1 4h0m24-8h0m10 5h0m3-3h0m4-2h0m5 7h0m2 0h0m2 1h0m6-2h0m33 1h0m1 1h0m2-3h0m35-3h0m18 14h0m-8-4h0m-5-3h0m-8 2h0m-3 1h0m-3 0h0m-4-2h0m-3-1h0m-5 5h0m0 3h0m-24-5h0m-39 7h0m-13-1h0m-5-7h0m-4 9h0m-3-7h0m-1 2h0m-4-5h0m-2 3h0m-6 2h0m0 5h0m2 2h0m24 5h0m0-1h0m1-3h0m3 9h0m10-11h0m1 1h0m24 0h0m34 2h0m6 1h0m7-4h0m-95 12h0" stroke="#F2F2F0" stroke-width="5" stroke-linecap="round" fill="none"/><path d="M428 1816h0m-92 7h0m-45 3h0m123 13h0m-36 5h0m-32-1h0m-44 9h0m158-1h0m13-3h0m-40 12h0m-103 23h0m54-9h0m104 10h0m-125 0h0m107 27h0m-4 7h0m-11 0h0m-22-4h0m-94 11h0m30 4h0m18 2h0m44 0h0m30 0h0m20-1h0m-115 15h0m8 7h0" stroke="#D8281C" stroke-width="5" stroke-linecap="round" fill="none"/><path d="M285 1787h0m40-1h0m20-3h0m15 2h0m59-5h0m28 19h0m-27-9h0m-8 4h0m-55 3h0m-7-2h0m-12-6h0m-21 3h0m-24 0h0m-10 16h0m16-1h0m21-4h0m28-3h0m8 9h0m14-5h0m27-4h0m46 7h0m27 14h0m0-3h0m-44 1h0m-21-3h0m-31 5h0m-14-3h0m-34 4h0m-7-1h0m-9-8h0m-6 4h0m-3 1h0m-4 5h0m-8-7h0m63 8h0m3 5h0m81-1h0m15 4h0m0 1h0m24 9h0m-23-1h0m-3 3h0m-21-2h0m-3 5h0m-2-2h0m-47-9h0m-3 9h0m-5-8h0m-12 4h0m-5 5h0m-62-5h0m42 9h0m7 8h0m2 1h0m7-8h0m10 0h0m68 7h0m5-10h0m3 3h0m4 0h0m34 7h0m1-2h0m18 13h0m-5 0h0m-2 0h0m-10-3h0m-4 2h0m-19-6h0m-7 7h0m-15-3h0m-8-1h0m-6 1h0m-13-5h0m-15 8h0m-18-7h0m-17 7h0m-13-1h0m-29 9h0m45 5h0m44-3h0m19-4h0m10 7h0m6-2h0m4 3h0m3-9h0m1-2h0m37 1h0m1 4h0m5 17h0m-110-9h0m-1 3h0m-15-3h0m-39-1h0m13 22h0m11-2h0m4 2h0m0-5h0m11-1h0m7-3h0m80 6h0m30 0h0m4 0h0m10 6h0m-7 9h0m-24-4h0m-39 5h0m-4-4h0m-4 1h0m-10-7h0m-16 3h0m-14-2h0m-6 4h0m-2 2h0m-4 3h0m-1-1h0m-7-9h0m-1 9h0m4 13h0m3-7h0m23-3h0m4 8h0m5-6h0m1-1h0m17 5h0m27 2h0m3-2h0m5-3h0m33-4h0m-21 13h0m-25 5h0m-13 4h0m-20-5h0m-43-1h0m-1-2h0m13 16h0m63-5h0m44 0h0" stroke="#FCB6A3" stroke-width="5" stroke-linecap="round" fill="none"/><path d="M574 1746h0m-9 15h0m28-6h0m1 1h0m-37 23h0m27 8h0m6-3h0m23 4h0m-16 8h0m-12-6h0m0 9h0m-15-1h0m-35-6h0m-11 0h0m5 11h0m4 5h0m4 2h0m24-7h0m22-3h0m17 7h0m2-6h0m23 0h0m24 0h0m5 4h0m6 4h0m3-6h0m3-1h0m1 0h0m16 0h0m10 5h0m2 1h0m2 13h0m-3-5h0m0 1h0m-3-2h0m-32 5h0m-2-8h0m-38 7h0m-3 4h0m-20-11h0m-4 9h0m-1-8h0m-36 2h0m-19 2h0m-3 1h0m18 16h0m12 0h0m5-10h0m6 7h0m22-1h0m2 3h0m5-2h0m4 0h0m5-4h0m3 4h0m2-2h0m1 3h0m48 3h0m3-4h0m3-5h0m2 2h0m6-2h0m1 5h0m8 2h0m7 2h0m5-9h0m20 19h0m-19-7h0m-4-2h0m-17 4h0m-12 0h0m-3-2h0m-6 0h0m-6 9h0m-2-9h0m-14-2h0m0 8h0m-17-5h0m-1 3h0m-10 2h0m-35 3h0m-3-5h0m-5-6h0m-4 2h0m-4 9h0m-22-2h0m-1-2h0m-1-4h0m-10 5h0m35 4h0m6 7h0m0-3h0m15 0h0m3 4h0m1-5h0m1 5h0m15 3h0m32 0h0m12 0h0m2-9h0m31 0h0m9-1h0m1 3h0m4-3h0m3 9h0m10-8h0m3 8h0m19 7h0m-5-1h0m-4 2h0m-2 3h0m-2 1h0m-1-5h0m-18 4h0m-25 1h0m-4 0h0m-3-10h0m-1 0h0m-2 9h0m-13-8h0m0 3h0m-24-1h0m-5 0h0m-21-2h0m-2 1h0m-28 7h0m-11-2h0m-18-5h0m15 14h0m6-1h0m5 2h0m22 0h0m3 1h0m11 3h0m0-7h0m23 7h0m7-7h0m11 7h0m10 1h0m35-10h0m3 5h0m1-2h0m5 0h0m11 2h0m7-3h0m7 4h0m2 5h0m7-11h0m-5 21h0m-12 0h0m-16-2h0m-14-5h0m-11 0h0m-3-2h0m-39 5h0m-18-1h0m-2-3h0m-13 8h0m-3 0h0m-3-2h0m0 1h0m-9 0h0m-34 1h0m13 4h0m8 4h0m13 6h0m24-11h0m17 1h0m16 0h0m31 4h0m7-5h0m1 5h0m15 1h0m6 1h0m23-5h0m4 9h0m-4 6h0m-3 4h0m0-4h0m-4-1h0m-25-2h0m-20 2h0m-13 3h0m-29 3h0m-3-10h0m-1 8h0m-6-5h0m-1 4h0m-19 2h0m-9-9h0m-8 6h0m-18-3h0m-2-2h0m7 12h0m7 3h0m1 3h0m17 3h0m13-9h0m31 10h0m3-9h0m32 5h0m18-1h0m17-3h0m1-3h0m1 1h0m5 6h0m-16 5h0m-3 5h0m-12 3h0m-1-3h0m-11 3h0m-2-3h0m-17-4h0m-1-1h0m-45 1h0m-6 9h0m-20 1h0m6 9h0m4-6h0m2 2h0m8 0h0m1-3h0m1 3h0m29-1h0" stroke="#F2F2F0" stroke-width="5" stroke-linecap="round" fill="none"/><path d="M576 1744h0m0 1h0m-6 7h0m4 9h0m-10 5h0m-1 8h0m-6-7h0m-12 0h0m-15 9h0m6 4h0m13-3h0m5 0h0m13 1h0m9 1h0m95 8h0m-27 6h0m-52 1h0m-13 0h0m-1 2h0m-11-4h0m-15 2h0m-1-5h0m-17 6h0m-14-3h0m28 19h0m39 4h0m129 57h0m-139 68h0" stroke="#2F55AA" stroke-width="5" stroke-linecap="round" fill="none"/><path d="M556 1760h0m17 1h0m3-8h0m0 7h0m-17 14h0m-2-10h0m-17 9h0m-9 6h0m20 3h0m39-5h0m77 8h0m6 8h0m-48 3h0m-30-3h0m-1 2h0m-18-7h0m-58 23h0m15-4h0m46-3h0m81 18h0m-41-8h0m-25 9h0m-8-1h0m-26-7h0m-4 3h0m-35 11h0m75-5h0m81 3h0m-25 9h0m-44 9h0m-28-6h0m-14 19h0m11-9h0m143 22h0m-54-11h0m-17 5h0m-62-3h0m-38 16h0m117 5h0m7-9h0m46-2h0m-83 21h0m-30-6h0m-14 5h0m-3 14h0m19-8h0m85 8h0m27 5h0m-3-1h0m-7 9h0m-13-8h0m-34 2h0m-45-2h0m-12 7h0m-26-8h0m0 10h0m96 6h0m-10 13h0m-18 3h0m-24-6h0m-23 4h0m-4 13h0" stroke="#A3B4E2" stroke-width="5" stroke-linecap="round" fill="none"/><path d="M563 1765h0m-10 20h0m26 1h0m8 6h0m71 11h0m12 15h0m54 29h0m-37-7h0m-122 5h0m118 11h0m-147 4h0m100 17h0m43 4h0" stroke="#D08EE0" stroke-width="5" stroke-linecap="round" fill="none"/><path d="M619 1792h0m-46 9h0m7-1h0m97 11h0m-119 2h0m19 19h0m9-2h0m25 1h0m67-2h0m-29 10h0m-72 17h0m15-2h0m95 3h0m16 2h0m18-11h0m11 14h0m-172 0h0m-9 20h0m29-1h0m73 15h0m48 12h0m-61 20h0" stroke="#E03A1E" stroke-width="5" stroke-linecap="round" fill="none"/><path d="M602 1795h0m40 50h0m68 80h0" stroke="#E84A66" stroke-width="5" stroke-linecap="round" fill="none"/><path d="M536 1778h0m74 8h0m61-2h0m-4 15h0m-20-8h0m-2 8h0m-2-4h0m-47 2h0m-50 0h0m-15-2h0m-9 7h0m47 8h0m84 0h0m2-7h0m9 0h0m9-2h0m16 22h0m-1-10h0m-2 8h0m-33 2h0m-108-6h0m47 8h0m26 6h0m3-1h0m41 4h0m40-10h0m17 23h0m-39-4h0m-6-6h0m-9 2h0m-21 3h0m-2-3h0m-30 8h0m-11-11h0m-10 2h0m-25 4h0m-11 3h0m48 6h0m3 7h0m4-10h0m10 6h0m7 2h0m27-6h0m22 3h0m46 14h0m-15-7h0m-12 1h0m-17 10h0m-27-10h0m-4 0h0m-6 1h0m-3 2h0m-1 0h0m-62 5h0m-11 0h0m-23-8h0m29 14h0m0 0h0m6 2h0m4 2h0m13-6h0m45 8h0m3-3h0m51-1h0m5-4h0m20-1h0m6 10h0m-7 6h0m-10 5h0m-12 0h0m-12-1h0m-37-2h0m-25-1h0m-15-4h0m-11 10h0m-6 0h0m-21-2h0m-15 6h0m33 6h0m2 1h0m48-7h0m37 5h0m1 1h0m0-3h0m47-6h0m2 0h0m2 2h0m2 2h0m-39 13h0m-3 5h0m-19-9h0m-10 1h0m-8 0h0m-2-2h0m-3 3h0m-52 7h0m-2-3h0m-1 4h0m-7-9h0m-1 6h0m0-3h0m15 18h0m2-5h0m8 1h0m3-3h0m13 6h0m0-8h0m43 9h0m5 0h0m46-7h0m0-4h0m-28 16h0m-19 6h0m-20 1h0m-13-10h0m-12 3h0m-13-4h0m-27 9h0m6 9h0m11-6h0m20 0h0m5 7h0m54-7h0m5 2h0m-85 12h0" stroke="#FCB3A0" stroke-width="5" stroke-linecap="round" fill="none"/><path d="M573 1746h0m-15 5h0m-5 8h0m9-6h0m4 10h0m5-10h0m29 22h0m-20-4h0m-6-6h0m-21 0h0m-6 2h0m-1 8h0m-26 9h0m64 3h0m82-5h0m5 17h0m-21-10h0m-39 2h0m-20 8h0m-2 0h0m-72 2h0m5 6h0m10 3h0m15-10h0m1 8h0m15-1h0m2 2h0m7-5h0m0 4h0m3-8h0m6 2h0m3 2h0m5 3h0m2 2h0m8 1h0m4-7h0m28-3h0m35 2h0m4-1h0m9 21h0m0-4h0m-2-1h0m-21-5h0m-102 10h0m-4 0h0m-6-1h0m-4-7h0m-13 17h0m22-1h0m34 5h0m5-7h0m4 7h0m7 0h0m58-9h0m40-2h0m2 1h0m1 9h0m22 11h0m-3 1h0m-30-6h0m-16 6h0m-9-1h0m-1-6h0m-1 5h0m-67-2h0m-22-2h0m-3-3h0m-9-1h0m-9 11h0m-4-1h0m-8 1h0m-1-9h0m-6 16h0m20 2h0m41-4h0m7 3h0m5 4h0m8-11h0m29 2h0m5 1h0m5 8h0m23-7h0m7 0h0m1 5h0m6-1h0m26-2h0m9 12h0m-23-4h0m-4 0h0m-5 5h0m-23 4h0m-20-7h0m-2 3h0m-33 1h0m-13 3h0m-42-5h0m-13 1h0m-3 5h0m70 0h0m16 7h0m13-2h0m10 1h0m8 1h0m22-3h0m9 7h0m13-5h0m6-5h0m11 18h0m-10-4h0m-30 2h0m0 6h0m-34-9h0m-14 1h0m-4-1h0m-6 8h0m-7-4h0m-22-1h0m-12 1h0m-10-3h0m-5 9h0m13 1h0m1 5h0m67 4h0m22-3h0m21-3h0m2 2h0m20-5h0m6-1h0m3 6h0m3-2h0m-7 12h0m-7-2h0m-2 7h0m-5-5h0m-11-1h0m-1 1h0m-5 1h0m-2-2h0m0 5h0m-3 3h0m-3-6h0m-11-4h0m-3 2h0m-6-1h0m-18 4h0m-18 5h0m-6-3h0m-3-3h0m-18-5h0m-7 8h0m-6 1h0m-1-7h0m-5 15h0m4-5h0m1 4h0m9 7h0m50-10h0m25 10h0m6-6h0m14 3h0m13-6h0m1 20h0m-6 1h0m-19-2h0m-11-1h0m-4-6h0m-10 7h0m-22 2h0m-2-5h0m-2-2h0m-8 7h0m-10-8h0m-26-2h0m-2 0h0m7 19h0m7-5h0m8-1h0m11 7h0m16-9h0m53 4h0m19 0h0m7-4h0" stroke="#F2F2F0" stroke-width="5" stroke-linecap="round" fill="none"/><path d="M581 1749h0m-1-3h0m-2 2h0m-12-2h0m-8 3h0m-3 4h0m5 10h0m10-1h0m5-7h0m16 2h0m7 13h0m-21-4h0m-4 0h0m-19 1h0m-24 9h0m8 0h0m14 8h0m3 1h0m30-1h0m16-5h0m3-1h0m58 9h0m-119 10h0m-11-1h0m6 45h0m62 7h0m57 47h0m-30 19h0m5 19h0" stroke="#2F55AA" stroke-width="5" stroke-linecap="round" fill="none"/><path d="M578 1751h0m-2-5h0m-4 4h0m-12-2h0m0-3h0m-7 16h0m4-1h0m6-7h0m7 10h0m5-11h0m23 21h0m-3-5h0m-16 6h0m-6-9h0m-6 0h0m0 0h0m-5 1h0m-23 7h0m-19 14h0m55-4h0m8 1h0m63 1h0m14 5h0m-47 4h0m-60-4h0m-2 2h0m-31 13h0m45 0h0m12-2h0m31 0h0m32-1h0m12 7h0m4 1h0m0-2h0m-60 13h0m-4-5h0m-55 2h0m-6 13h0m34-2h0m43-5h0m2 0h0m9 1h0m2 7h0m72 12h0m-47-3h0m-1-4h0m-22 5h0m-11 4h0m-17-1h0m-13 0h0m-11 0h0m-16-5h0m-15 0h0m44 19h0m39-4h0m62-2h0m35-5h0m3 18h0m-5 5h0m-47-7h0m-19 3h0m-28 4h0m-6-3h0m-18 3h0m-56 8h0m41-2h0m19-4h0m110 8h0m-3 14h0m0-3h0m-3 2h0m-9-7h0m-55 4h0m-61 12h0m40-4h0m83 1h0m13-4h0m-25 14h0m-3 5h0m-33-4h0m-30 6h0m-2 0h0m-31 8h0m35 6h0m78-11h0m10 19h0m-4-4h0m-26 1h0m-28 7h0m-10-5h0m-1-4h0m-62-1h0m8 16h0m92-5h0m30 0h0" stroke="#A3B4E2" stroke-width="5" stroke-linecap="round" fill="none"/><path d="M610 1786h0m-74 15h0m12 2h0m147 27h0m-6 31h0m-97 2h0m-25 35h0m142 12h0m-132 16h0m136 0h0m-109 12h0m27 7h0" stroke="#D08EE0" stroke-width="5" stroke-linecap="round" fill="none"/><path d="M527 1799h0m159 4h0m6 12h0m-43 8h0m-88 6h0m30 20h0m137 21h0m-178-3h0m40 19h0m116 33h0m-36 11h0m33-7h0m9 3h0m-31 7h0" stroke="#E03A1E" stroke-width="5" stroke-linecap="round" fill="none"/><path d="M571 1785h0m16 11h0m-5-8h0m-42 5h0m145 18h0m-164 1h0m56 41h0m128 37h0m-17 18h0m-18 7h0m-44-1h0" stroke="#E84A66" stroke-width="5" stroke-linecap="round" fill="none"/><path d="M560 1771h0m13 16h0m78-5h0m0 12h0m-27 1h0m-2 4h0m-87-1h0m-1-5h0m0 9h0m54 9h0m64-8h0m7 8h0m19-8h0m3-1h0m4 12h0m-24 1h0m0-1h0m-4 4h0m-66 1h0m-37 0h0m-30 12h0m25-5h0m36 2h0m22-1h0m31 6h0m44-7h0m28 0h0m2 20h0m-16 0h0m0-1h0m-21 2h0m-6-2h0m-1-7h0m-9 7h0m0-2h0m-71-2h0m-21-4h0m-14 16h0m31 5h0m2-7h0m18 3h0m3-4h0m23 7h0m14-2h0m1-5h0m20 7h0m9-5h0m7 1h0m5 6h0m5-1h0m12 2h0m-21 6h0m-13 4h0m-1-6h0m-20 5h0m-19 1h0m-13-3h0m-32-4h0m-18 4h0m5 6h0m7 6h0m21 0h0m0 3h0m5-4h0m17 0h0m5 5h0m38-7h0m2-2h0m14 0h0m6 0h0m29-2h0m3 9h0m4 10h0m-14-4h0m-1 4h0m-4 0h0m-20-3h0m-1 6h0m-32-9h0m-15-1h0m-15 1h0m-17 9h0m-12-6h0m0 7h0m0-7h0m-6 0h0m-6 13h0m6 5h0m5-9h0m20 4h0m49-4h0m47 17h0m-1 0h0m-13-6h0m-5 10h0m-8-2h0m-2-1h0m-80-7h0m-26 7h0m-4-2h0m-2 3h0m39 5h0m10 4h0m6-3h0m45 9h0m0-3h0m19 2h0m1-2h0m20 2h0m5-1h0m9 8h0m0-2h0m-4-2h0m-1 4h0m-1-5h0m-8 9h0m-3-9h0m-8 0h0m-19 6h0m-4-1h0m-5-5h0m-38 3h0m-18 0h0m-12 8h0m3 6h0m8 4h0" stroke="#FCB3A0" stroke-width="5" stroke-linecap="round" fill="none"/><path d="M574 1751h0m-15 2h0m13 7h0m2-7h0m2 14h0m-3 0h0m-11 2h0m-1 5h0m-9-9h0m-2 9h0m15 5h0m8 2h0m2 0h0m99 17h0m-53-5h0m-22 6h0m-8-8h0m-2 5h0m-46 9h0m14 0h0m2-5h0m21 4h0m25-2h0m42 0h0m5-2h0m3 8h0m1 1h0m1-4h0m2 6h0m15-9h0m4-2h0m2 0h0m5 23h0m-12-7h0m-19 5h0m-8-2h0m-2 1h0m-4-1h0m-29-5h0m-22 7h0m-38 2h0m-11-2h0m-3-2h0m-1-4h0m-14 0h0m-2 1h0m-2 9h0m1 3h0m13 0h0m14 2h0m0-4h0m38-2h0m4 6h0m10 5h0m19 0h0m36-2h0m7 2h0m10-6h0m0 0h0m2 2h0m0 3h0m2-7h0m4 1h0m4 7h0m7-2h0m7-6h0m13-2h0m9 22h0m-9-2h0m-27-8h0m-15 1h0m-8 8h0m-5 1h0m-5-9h0m0 2h0m-1 1h0m-1-4h0m-5 5h0m-28-6h0m-51 2h0m-11 2h0m-26-3h0m3 13h0m36 9h0m10-8h0m19-3h0m12 9h0m5-6h0m4 1h0m23-1h0m3 0h0m6 4h0m23-7h0m1 9h0m0-3h0m17-2h0m0 6h0m2-4h0m21 2h0m22 0h0m0 6h0m-13 8h0m-23 0h0m-14-3h0m-1 2h0m-11-1h0m-16 2h0m-4-10h0m-5 6h0m-53-5h0m-7 5h0m-22 4h0m-7-7h0m-11 13h0m3 6h0m2-10h0m10 5h0m22-2h0m3 1h0m0 4h0m4-6h0m15 7h0m5-9h0m45 8h0m18 1h0m5-9h0m2 1h0m28 1h0m9 7h0m8 2h0m1 4h0m-6 1h0m-6 0h0m-3-3h0m-3 4h0m-3 5h0m-21-2h0m-5-6h0m-43 3h0m-30-1h0m0-3h0m-10 7h0m-2-1h0m-11-1h0m-1-1h0m-17-4h0m-8 10h0m-6-11h0m7 16h0m0-3h0m13 5h0m34 4h0m4-8h0m14-2h0m34 3h0m5 0h0m1 2h0m13 1h0m20-1h0m26 5h0m0-8h0m-5 21h0m-1-5h0m-20-6h0m-4 9h0m-4-6h0m-7 5h0m-3-6h0m-7 9h0m-7-7h0m-35 3h0m-13-7h0m0 10h0m-2 1h0m-21-11h0m-9 9h0m-7-6h0m-1 7h0m0 0h0m-13-10h0m7 20h0m2-2h0m4 5h0m23-8h0m13 2h0m4-2h0m6 7h0m1 0h0m2 1h0m6-2h0m34 1h0m3-2h0m34-3h0m18 14h0m-8-4h0m-13-1h0m-3 1h0m-3 0h0m-4-2h0m-7 4h0m-1 3h0m-24-5h0m-52 6h0m-9 2h0m-3-7h0m-1 2h0m-3-5h0m-3 3h0m-5 2h0m1 7h0m24 5h0m1-1h0m0-3h0m3 9h0m11-11h0m1 1h0m23 0h0m34 2h0m7 1h0m7-4h0" stroke="#F2F2F0" stroke-width="5" stroke-linecap="round" fill="none"/><path d="M576 1749h0m-10-5h0m-3 3h0m8 15h0m4 1h0m0-1h0m5 5h0m-19 3h0m0 2h0m-4 0h0m-3-6h0m-17 7h0m18 10h0m10 0h0m9 4h0m22-10h0m3 10h0m13 0h0m53 9h0m-67 0h0m-14-1h0m-16 2h0m5 4h0m67 15h0m-98 4h0m-9 6h0m120 21h0m-68-1h0m103 21h0m-75-1h0" stroke="#2F55AA" stroke-width="5" stroke-linecap="round" fill="none"/><path d="M572 1748h0m-6-5h0m-10 5h0m6 8h0m8 4h0m1-4h0m1 1h0m1 3h0m11 0h0m10 15h0m-7 0h0m-4-9h0m0 2h0m-27 6h0m-12 0h0m-19 5h0m8 1h0m9-3h0m8-1h0m17 9h0m15-3h0m12 0h0m1 5h0m8-3h0m2-2h0m51 0h0m-9 8h0m-53 3h0m-20 5h0m-46-4h0m-10 8h0m17 4h0m6-2h0m42 0h0m66-3h0m18-1h0m-8 21h0m-57-1h0m-9 3h0m-1-4h0m-47 1h0m-6-5h0m-4 1h0m-14 3h0m-3 1h0m10 5h0m114 4h0m-65 11h0m-14 17h0m91-7h0m57 3h0m-42 15h0m-5-8h0m-104 1h0m-5 3h0m-7 14h0m75 5h0m33-5h0m10 4h0m53-3h0m-69 6h0m-50 8h0m-1-1h0m-5 1h0m-25-6h0m-10 8h0m22 11h0m65 1h0m27 0h0m31-4h0m-45 9h0m-85 15h0m36 1h0m56 3h0m42 1h0m-22 0h0m-68 10h0m-18-8h0m-19 9h0m16 13h0" stroke="#A3B4E2" stroke-width="5" stroke-linecap="round" fill="none"/><path d="M591 1797h0m-39-5h0m38 17h0m115 9h0m-166-1h0m-3 1h0m-12 23h0m183 25h0m-71-5h0m-92 16h0m117 5h0m-61 15h0m110 6h0m-18 11h0m-95 2h0" stroke="#D08EE0" stroke-width="5" stroke-linecap="round" fill="none"/><path d="M663 1816h0m-138 10h0m87 18h0m-32-1h0m-43 9h0m170-4h0m-40 12h0m-103 23h0m54-9h0m105 10h0m-126 0h0m108 27h0m-5 7h0m-11 0h0m-22-4h0m-94 11h0m31 4h0m17 2h0m45 0h0m49-1h0m-114 15h0m7 7h0" stroke="#E03A1E" stroke-width="5" stroke-linecap="round" fill="none"/><path d="M570 1823h0m78 16h0m46 12h0m2 80h0" stroke="#E84A66" stroke-width="5" stroke-linecap="round" fill="none"/><path d="M519 1787h0m40-1h0m20-3h0m15 2h0m60-5h0m27 19h0m-27-9h0m-7 4h0m-74-5h0m-46 3h0m-9 16h0m16-1h0m21-4h0m27-3h0m23 4h0m26-4h0m47 7h0m26 14h0m-43-2h0m-53 2h0m-14-3h0m-33 4h0m-7-1h0m-9-8h0m-13 10h0m-9-7h0m64 8h0m2 5h0m82-1h0m14 5h0m1-1h0m24 10h0m-24-1h0m-3 3h0m-21-2h0m-3 5h0m-2-2h0m-47-9h0m-2 9h0m-6-8h0m-12 4h0m-25 9h0m7 8h0m3 1h0m7-8h0m10 0h0m68 7h0m5-10h0m2 3h0m4 0h0m34 7h0m2-2h0m17 13h0m-4 0h0m-3 0h0m-13-1h0m-20-6h0m-7 7h0m-15-3h0m-7-1h0m-6 1h0m-29 3h0m-18-7h0m-16 7h0m-14-1h0m16 14h0m44-3h0m19-4h0m17 5h0m3 3h0m3-9h0m1-2h0m38 1h0m1 4h0m5 17h0m-110-9h0m-1 3h0m-16-3h0m-39-1h0m13 22h0m12-2h0m3 2h0m0-5h0m12-1h0m87 3h0m33 0h0m10 6h0m-7 9h0m-63 1h0m-3-4h0m-4 1h0m-11-7h0m-15 3h0m-14-2h0m-7 4h0m-6 5h0m0-1h0m-7-9h0m-2 9h0m4 13h0m3-7h0m23-3h0m5 8h0m4-6h0m1-1h0m17 5h0m27 2h0m3-2h0m5-3h0m34-4h0m-22 13h0m-24 5h0m-13 4h0m-20-5h0m-44-3h0m0 2h0m13 14h0m63-5h0m44 0h0" stroke="#FCB3A0" stroke-width="5" stroke-linecap="round" fill="none"/><path d="M136.10 1621.50V1545.00H140.50V1621.50z" fill="#111"/><path d="M138.30 1510.50L128.80 1545.00H147.80z" fill="#111"/><path d="M136.10 1617.40H215.00V1621.80H136.10z" fill="#111"/><path d="M250.50 1619.60L215.00 1610.10V1629.10z" fill="#111"/><text transform="translate(123.00 1619.88) rotate(-90) scale(1.0679 1.0400)" font-size="22" fill="#111">UMAP2</text><text transform="translate(138.13 1650.00) scale(1.0624 1.0000)" font-size="22" fill="#111">UMAP1</text><text transform="translate(83.74 1727.80) scale(1.0289 1.0000)" font-size="33" font-style="italic" fill="#2E55A8">TWIST1</text><text transform="translate(330.97 1727.80) scale(1.0355 1.0000)" font-size="33" font-style="italic" fill="#D42A1F">DMRT2</text><text transform="translate(526.96 1728.00) scale(1.0232 1.0000)" font-size="33" font-style="italic" fill="#2E55A8">TWIST</text><text transform="translate(642.10 1728.00) scale(0.6652 1.0000)" font-size="33" font-style="italic" fill="#111">/</text><text transform="translate(659.97 1728.00) scale(1.0445 1.0000)" font-size="33" font-style="italic" fill="#D42A1F">DMRT2</text>
</svg></body></html>
